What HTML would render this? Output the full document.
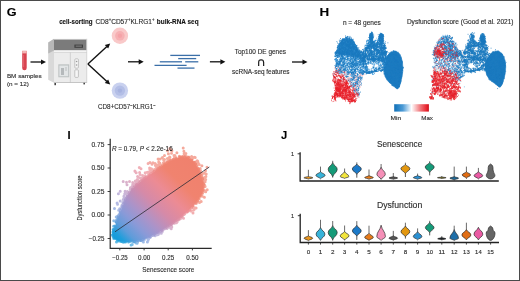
<!DOCTYPE html>
<html><head><meta charset="utf-8"><title>Figure panels G-J</title>
<style>
html,body{margin:0;padding:0;background:#fff;}
body{width:520px;height:281px;overflow:hidden;position:relative;font-family:"Liberation Sans", sans-serif;}
svg{position:absolute;left:0;top:0;display:block;font-family:"Liberation Sans", sans-serif;}
text{stroke:#2a2a2a;stroke-width:0.12px;paint-order:stroke fill;}
#frame{position:absolute;left:0;top:0;width:518px;height:279px;border:1px solid #4a4a4a;pointer-events:none;}
</style></head><body>
<svg width="520" height="281" viewBox="0 0 520 281">
<text x="6.7" y="16.3" font-size="11.2" font-weight="bold" fill="#000" text-anchor="start" textLength="9.8" lengthAdjust="spacingAndGlyphs">G</text><text x="59.2" y="23.6" font-size="6.9" font-weight="bold" fill="#111" text-anchor="start" textLength="33.3" lengthAdjust="spacingAndGlyphs">cell-sorting</text><text x="95.5" y="23.6" font-size="6.9" fill="#2a2a2a" textLength="59" lengthAdjust="spacingAndGlyphs">CD8<tspan font-size="4.5" dy="-2.6">+</tspan><tspan dy="2.6">CD57</tspan><tspan font-size="4.5" dy="-2.6">+</tspan><tspan dy="2.6">KLRG1</tspan><tspan font-size="4.5" dy="-2.6">+</tspan></text><text x="156.8" y="23.6" font-size="6.9" font-weight="bold" fill="#111" text-anchor="start" textLength="41.8" lengthAdjust="spacingAndGlyphs">bulk-RNA seq</text><path d="M22.2,51 h4.5 v17.1 a2.25,2.25 0 0 1 -4.5,0 Z" fill="#d8434f"/><rect x="22.2" y="50.6" width="4.5" height="2.8" fill="#f3b4b4"/><rect x="23.1" y="55" width="1" height="12" fill="#e8707a" opacity="0.7"/><path d="M30.5,62.0L41.5,62.0" stroke="#111" stroke-width="1.3" fill="none"/><path d="M46.0,62.0L41.0,64.6L41.0,59.4Z" fill="#111"/><text x="6.9" y="77.5" font-size="6.25" font-weight="normal" fill="#2a2a2a" text-anchor="start" textLength="34.8" lengthAdjust="spacingAndGlyphs">BM samples</text><text x="6.9" y="85.5" font-size="6.25" font-weight="normal" fill="#2a2a2a" text-anchor="start" textLength="21.9" lengthAdjust="spacingAndGlyphs">(n = 12)</text><g><path d="M48.2,42.6 L54,38.8 L54,82.8 L48.2,79.8 Z" fill="#d9d9d9"/><rect x="54" y="38.8" width="33" height="44" fill="#ececec"/><rect x="54" y="39.6" width="32.6" height="10.8" fill="#7b7b7b"/><path d="M48.2,42.6 L54,38.8 L54,50.4 L48.2,53.6 Z" fill="#9a9a9a" opacity="0.55"/><rect x="74.4" y="44.6" width="8.6" height="3.2" fill="#3f3f3f"/><rect x="75.6" y="45.6" width="6.2" height="1" fill="#8a8a8a"/><rect x="54" y="50.4" width="33" height="1.2" fill="#f8f8f8"/><rect x="54" y="52.2" width="33" height="0.5" fill="#c8c8c8"/><rect x="69.9" y="52.5" width="0.6" height="30" fill="#bdbdbd"/><rect x="58.3" y="64.3" width="10.9" height="13" fill="#bfc3c4"/><rect x="59.4" y="65.6" width="8.7" height="10.6" fill="#e2e5e6"/><rect x="61" y="68" width="3" height="7" fill="#b5b9bb"/><rect x="65" y="67" width="2" height="4" fill="#cfd2d3"/><rect x="74.8" y="58.8" width="3.6" height="9.4" rx="1" fill="#f6f6f6" stroke="#a5a5a5" stroke-width="0.6"/><rect x="74.8" y="69.8" width="3.6" height="7.6" rx="0.8" fill="#f6f6f6" stroke="#a5a5a5" stroke-width="0.6"/><circle cx="76.6" cy="61.5" r="0.8" fill="#999"/><circle cx="76.6" cy="65" r="0.8" fill="#999"/><rect x="54" y="82.2" width="33" height="0.8" fill="#bbb"/><rect x="54.4" y="83" width="1.6" height="2.2" fill="#444"/><rect x="83.4" y="82.8" width="1.6" height="1.6" fill="#444"/><rect x="86.4" y="38.8" width="0.8" height="44" fill="#cfcfcf"/></g><path d="M87.9,63.9L106.9,46.4" stroke="#111" stroke-width="1.4" fill="none"/><path d="M110.2,43.4L108.2,48.6L104.8,44.9Z" fill="#111"/><path d="M87.9,63.9L106.9,81.5" stroke="#111" stroke-width="1.4" fill="none"/><path d="M110.2,84.6L104.8,83.0L108.2,79.4Z" fill="#111"/><circle cx="119.9" cy="35.8" r="8.2" fill="#f9c9c9"/><circle cx="119.9" cy="35.8" r="4.8" fill="#f6b0b3"/><circle cx="119.9" cy="35.8" r="2.2" fill="#f5a2a7"/><circle cx="119.9" cy="90.6" r="8.2" fill="#c9d1ef"/><circle cx="119.9" cy="90.6" r="5.2" fill="#b3bee6"/><circle cx="119.9" cy="90.6" r="2.2" fill="#a6b2df"/><text x="98" y="109.3" font-size="6.8" fill="#2a2a2a" textLength="57.6" lengthAdjust="spacingAndGlyphs">CD8+CD57<tspan font-size="4.5" dy="-2.6">−</tspan><tspan dy="2.6">KLRG1</tspan><tspan font-size="4.5" dy="-2.6">−</tspan></text><path d="M128.0,61.8L139.2,61.8" stroke="#111" stroke-width="1.3" fill="none"/><path d="M143.7,61.8L138.7,64.4L138.7,59.2Z" fill="#111"/><path d="M170.3,55.4H200" stroke="#3b6fa8" stroke-width="1.3"/><path d="M178.2,58.6H196.2" stroke="#3b6fa8" stroke-width="1.3"/><path d="M159.8,61.8H182" stroke="#3b6fa8" stroke-width="1.3"/><path d="M185.2,61.8H198.3" stroke="#3b6fa8" stroke-width="1.3"/><path d="M154.5,65.4H186.6" stroke="#3b6fa8" stroke-width="1.3"/><path d="M177.5,68.1H194.5" stroke="#3b6fa8" stroke-width="1.3"/><path d="M209.9,61.8L220.9,61.8" stroke="#111" stroke-width="1.3" fill="none"/><path d="M225.4,61.8L220.4,64.4L220.4,59.2Z" fill="#111"/><text x="234.7" y="54.1" font-size="6.6" font-weight="normal" fill="#2a2a2a" text-anchor="start" textLength="51.3" lengthAdjust="spacingAndGlyphs">Top100 DE genes</text><text x="256.7" y="66.2" font-size="11.5" font-weight="normal" fill="#111" text-anchor="start" textLength="9.0" lengthAdjust="spacingAndGlyphs" font-family="DejaVu Sans, sans-serif">∩</text><text x="232.1" y="74.2" font-size="6.6" font-weight="normal" fill="#2a2a2a" text-anchor="start" textLength="57.4" lengthAdjust="spacingAndGlyphs">scRNA-seq features</text><path d="M292.0,62.0L303.0,62.0" stroke="#111" stroke-width="1.3" fill="none"/><path d="M307.5,62.0L302.5,64.6L302.5,59.4Z" fill="#111"/><text x="319.6" y="16.4" font-size="11.2" font-weight="bold" fill="#000" text-anchor="start" textLength="9.7" lengthAdjust="spacingAndGlyphs">H</text><text x="342.9" y="24.7" font-size="6.4" font-weight="normal" fill="#2a2a2a" text-anchor="start" textLength="37.9" lengthAdjust="spacingAndGlyphs">n = 48 genes</text><text x="406.9" y="23.9" font-size="6.4" font-weight="normal" fill="#2a2a2a" text-anchor="start" textLength="106.6" lengthAdjust="spacingAndGlyphs">Dysfunction score (Good et al. 2021)</text><g fill="none" stroke-width="0.85" stroke-linecap="round"><path d="M393.0,51.2L396.0,51.0L399.4,53.6L401.0,57.0L402.4,61.4L402.9,67.8L402.5,74.2L401.2,80.6L399.6,86.2L397.8,89.0L396.2,88.6L393.8,86.2L390.6,83.8L387.4,80.6L385.0,76.6L383.9,71.0L383.4,67.8L383.5,64.0L385.0,60.0L387.4,56.0L390.0,52.5Z" fill="#1c7bc0" stroke="#1c7bc0" stroke-width="0.5" stroke-linejoin="round"/><path d="M338.8,47.6L340.5,43.3L342.8,40.4L346.1,38.5L349.1,38.5L352.2,40.2L354.0,43.2L355.8,47.2L358.3,50.9L359.7,54.0L356.7,56.6L351.5,55.3L346.4,54.4L341.2,54.4L337.1,53.6Z" fill="#1c7bc0" stroke="#1c7bc0" stroke-width="0.5" stroke-linejoin="round"/><path d="M373.1,36.9L373.0,38.6L372.4,40.0L371.7,40.8L370.9,40.8L370.2,40.0L369.6,38.6L369.5,36.9L369.6,35.2L370.2,33.8L370.9,33.0L371.7,33.0L372.4,33.8L373.0,35.2Z" fill="#1c7bc0" stroke="#1c7bc0" stroke-width="0.5" stroke-linejoin="round"/><path d="M383.5,38.3L383.3,40.4L382.6,42.0L381.7,42.9L380.7,42.9L379.8,42.0L379.1,40.4L378.9,38.3L379.1,36.2L379.8,34.6L380.7,33.7L381.7,33.7L382.6,34.6L383.3,36.2Z" fill="#1c7bc0" stroke="#1c7bc0" stroke-width="0.5" stroke-linejoin="round"/><path d="M335.0,80.0L340.0,79.0L346.0,86.0L350.0,94.0L352.0,100.0L346.0,99.5L340.0,96.0L336.0,92.0Z" fill="#e8212b" stroke="none" opacity="0.4"/><path d="M355.4,45.7h0M346.0,55.2h0M354.0,56.3h0M348.9,41.5h0M348.7,47.3h0M341.0,48.2h0M350.7,50.3h0M341.7,51.2h0M349.9,39.7h0M359.7,51.3h0M350.2,46.1h0M344.6,48.9h0M354.3,45.4h0M349.3,42.2h0M354.1,54.8h0M343.5,47.1h0M347.3,49.4h0M339.4,54.0h0M356.3,48.2h0M342.8,40.9h0M350.4,43.2h0M339.8,47.0h0M342.7,52.0h0M340.2,50.7h0M352.0,54.8h0M344.8,46.1h0M336.9,51.9h0M354.7,51.8h0M339.3,55.7h0M340.7,47.1h0M355.3,46.2h0M351.0,41.7h0M338.4,54.0h0M351.7,48.3h0M343.9,42.0h0M346.9,43.8h0M340.4,48.8h0M338.5,45.9h0M337.5,52.2h0M345.0,53.1h0M352.7,43.3h0M350.5,49.7h0M350.9,52.9h0M356.5,57.2h0M337.3,47.7h0M342.3,53.2h0M343.8,51.3h0M344.2,49.3h0M336.6,52.1h0M343.6,41.5h0M349.1,52.9h0M344.8,53.3h0M337.2,50.7h0M359.2,53.6h0M348.9,38.9h0M356.8,54.8h0M352.6,42.3h0M354.8,47.7h0M347.9,53.9h0M359.1,51.0h0M357.9,52.0h0M356.4,47.2h0M339.5,54.4h0M343.8,46.1h0M352.7,49.4h0M354.4,52.6h0M357.6,49.3h0M340.4,54.0h0M350.1,40.6h0M347.9,48.6h0M347.0,41.7h0M346.5,47.3h0M352.9,50.7h0M338.5,47.9h0M352.5,49.1h0M359.2,51.2h0M347.5,47.7h0M345.5,39.3h0M345.3,52.0h0M345.6,52.0h0M353.5,53.6h0M348.5,50.1h0M347.7,36.4h0M354.6,49.8h0M338.1,51.6h0M347.9,43.5h0M338.5,49.5h0M351.4,46.2h0M342.7,46.3h0M338.2,55.6h0M349.5,43.2h0M353.7,51.9h0M338.7,45.2h0M351.3,39.5h0M343.6,46.1h0M340.3,41.9h0M339.7,44.2h0M352.6,40.1h0M345.5,50.2h0M337.2,49.3h0M357.2,55.0h0M357.6,59.0h0M340.4,53.0h0M341.5,45.6h0M339.3,54.5h0M350.6,45.4h0M345.3,46.1h0M356.4,47.1h0M352.0,49.1h0M346.8,50.5h0M345.9,55.5h0M357.3,55.4h0M360.0,51.6h0M341.0,51.2h0M353.0,43.8h0M341.1,45.1h0M342.2,48.8h0M354.2,44.1h0M351.9,44.4h0M357.3,52.4h0M346.1,49.8h0M350.7,49.3h0M356.8,56.1h0M341.1,49.6h0M360.8,52.5h0M336.5,51.9h0M356.4,45.7h0M343.9,56.2h0M355.5,46.7h0M352.0,45.7h0M340.7,52.6h0M348.4,40.2h0M355.6,56.0h0M338.4,50.9h0M341.1,42.4h0M349.0,38.0h0M344.8,40.4h0M356.4,51.1h0M348.9,48.1h0M348.2,36.5h0M345.1,43.6h0M355.2,51.3h0M344.3,53.7h0M347.7,43.7h0M349.2,49.4h0M339.2,45.9h0M350.7,54.1h0M351.2,41.2h0M342.4,49.7h0M356.7,55.9h0M346.1,48.5h0M344.5,41.9h0M353.0,41.3h0M345.7,48.1h0M343.1,50.3h0M350.4,46.4h0M348.2,44.4h0M340.4,52.5h0M341.4,54.0h0M344.7,41.0h0M341.5,54.2h0M358.2,53.1h0M348.9,47.6h0M352.2,44.0h0M341.5,46.9h0M343.2,46.4h0M346.8,48.9h0M340.3,47.8h0M353.2,40.9h0M348.8,45.2h0M336.7,53.7h0M355.2,48.6h0M352.3,52.5h0M340.6,44.8h0M345.5,46.6h0M358.7,53.6h0M350.1,54.4h0M351.7,50.9h0M342.9,39.4h0M348.9,37.8h0M345.3,52.6h0M347.6,46.8h0M346.4,37.5h0M354.7,50.0h0M346.1,55.1h0M346.0,42.7h0M356.4,54.7h0M345.7,45.9h0M340.8,41.9h0M344.1,43.8h0M358.6,55.6h0M343.7,53.9h0M345.4,38.3h0M350.8,47.0h0M342.0,43.0h0M350.8,53.7h0M346.5,48.6h0M358.9,52.3h0M354.5,50.7h0M340.9,40.7h0M345.8,43.9h0M348.7,39.8h0M336.8,51.7h0M340.0,44.3h0M345.2,44.3h0M347.3,55.0h0M344.3,44.9h0M356.8,47.5h0M341.8,44.4h0M350.4,43.2h0M358.5,50.9h0M360.2,54.4h0M345.4,51.5h0M340.5,52.3h0M351.5,45.9h0M351.3,53.5h0M350.7,40.9h0M336.7,52.9h0M345.3,40.5h0M341.9,49.6h0M340.5,43.7h0M346.7,42.7h0M351.4,43.6h0M344.7,46.0h0M354.2,43.4h0M340.3,50.4h0M351.3,41.9h0M348.6,53.7h0M351.0,43.4h0M342.8,40.0h0M343.8,44.6h0M345.9,54.0h0M346.0,39.1h0M342.5,53.2h0M352.8,50.1h0M356.2,53.4h0M350.5,50.3h0M358.3,49.3h0M353.0,54.5h0M356.5,56.7h0M342.4,51.2h0M384.4,49.1h0M383.1,55.9h0M375.3,44.0h0M375.5,44.3h0M376.0,44.5h0M371.4,49.4h0M371.2,50.9h0M365.4,55.1h0M365.1,55.5h0M378.6,55.2h0M378.2,55.4h0M373.7,47.6h0M383.2,45.4h0M382.9,44.8h0M369.2,46.5h0M382.9,53.9h0M377.7,46.8h0M361.1,54.6h0M371.1,54.5h0M372.3,52.9h0M370.9,55.6h0M384.0,51.5h0M369.9,46.7h0M368.9,47.2h0M366.4,48.4h0M366.8,49.0h0M385.0,49.2h0M378.1,49.7h0M382.0,51.1h0M378.8,44.1h0M360.0,54.0h0M371.0,42.5h0M371.8,43.5h0M371.7,42.2h0M374.4,42.6h0M369.1,43.9h0M368.3,42.9h0M369.6,46.7h0M374.5,43.6h0M373.4,41.5h0M384.4,46.7h0M384.9,48.1h0M382.3,52.5h0M382.5,51.6h0M378.4,59.9h0M361.2,51.3h0M372.9,57.1h0M385.7,53.9h0M385.0,53.3h0M385.5,54.9h0M374.5,55.1h0M384.6,54.7h0M373.8,57.0h0M386.5,52.7h0M378.1,52.5h0M378.4,52.6h0M379.0,52.3h0M368.9,49.7h0M371.4,52.8h0M372.0,42.8h0M371.4,44.5h0M368.7,45.7h0M374.6,55.3h0M373.7,51.3h0M368.1,47.0h0M384.0,48.2h0M374.2,57.1h0M372.8,45.0h0M383.1,49.0h0M380.8,55.3h0M366.7,57.0h0M365.7,57.0h0M371.4,60.5h0M379.3,54.1h0M369.1,52.3h0M381.3,46.6h0M368.8,46.9h0M378.6,43.6h0M378.6,44.9h0M367.4,56.8h0M373.9,55.5h0M378.1,56.4h0M382.2,50.3h0M369.6,59.0h0M369.5,58.9h0M374.2,48.4h0M374.5,44.8h0M376.0,51.5h0M366.7,45.8h0M366.8,45.8h0M362.5,57.8h0M362.9,57.6h0M381.4,59.3h0M373.5,56.1h0M367.9,58.6h0M367.0,48.7h0M385.3,56.3h0M385.1,55.3h0M385.8,55.6h0M369.7,50.5h0M368.9,50.0h0M365.0,57.3h0M376.1,56.5h0M379.5,47.0h0M380.2,46.9h0M379.3,58.7h0M380.0,58.4h0M377.0,54.4h0M364.4,59.9h0M383.0,53.7h0M383.3,53.7h0M372.4,46.5h0M383.5,52.4h0M384.2,54.2h0M377.3,44.5h0M378.8,52.8h0M361.4,54.0h0M376.3,49.4h0M382.8,49.4h0M361.9,59.4h0M365.5,55.1h0M377.1,55.0h0M369.1,55.6h0M365.3,50.6h0M383.6,54.1h0M361.8,59.7h0M373.1,60.4h0M373.1,60.2h0M371.6,50.4h0M377.4,46.2h0M377.5,50.6h0M371.7,56.7h0M371.6,57.4h0M375.0,47.7h0M381.2,49.2h0M381.6,44.7h0M361.0,57.0h0M373.6,61.0h0M374.7,53.7h0M375.3,53.3h0M369.2,50.9h0M376.9,43.2h0M385.6,53.1h0M384.1,52.6h0M370.9,50.0h0M381.6,56.0h0M365.5,47.8h0M385.6,55.7h0M364.9,58.7h0M372.7,42.7h0M383.9,61.2h0M382.0,50.7h0M371.0,47.0h0M381.5,52.8h0M385.4,48.3h0M379.1,51.4h0M379.2,51.3h0M375.6,56.5h0M375.5,56.0h0M384.5,50.7h0M368.8,58.3h0M369.6,58.5h0M376.0,52.2h0M372.1,57.0h0M372.1,58.7h0M373.4,57.9h0M375.8,46.9h0M376.9,47.2h0M367.6,48.6h0M373.7,52.8h0M376.2,46.5h0M369.7,54.4h0M384.2,51.1h0M375.4,50.1h0M377.7,59.8h0M376.5,51.1h0M382.8,52.6h0M363.2,56.4h0M382.3,59.2h0M382.8,57.1h0M370.4,51.1h0M382.2,45.2h0M382.1,44.6h0M383.7,50.5h0M384.4,53.8h0M364.6,58.2h0M374.7,43.9h0M368.3,56.2h0M374.5,48.5h0M378.3,50.5h0M384.6,59.6h0M382.7,57.7h0M361.4,54.6h0M377.4,52.5h0M374.4,53.3h0M374.6,54.5h0M379.6,46.3h0M371.4,55.9h0M371.1,56.1h0M363.5,54.2h0M362.3,54.5h0M373.9,45.6h0M378.7,58.1h0M380.9,55.9h0M371.8,50.7h0M376.4,53.2h0M372.5,53.8h0M380.4,49.3h0M376.6,50.6h0M370.8,54.1h0M371.2,53.7h0M378.0,51.2h0M377.8,51.2h0M379.9,57.5h0M368.6,42.8h0M385.8,60.8h0M383.4,59.3h0M371.6,51.0h0M372.5,51.6h0M371.5,51.2h0M374.2,49.8h0M375.6,59.2h0M381.8,52.8h0M379.5,43.1h0M381.7,58.7h0M374.3,60.6h0M372.2,47.7h0M372.8,54.7h0M372.7,54.4h0M379.6,59.1h0M364.5,53.1h0M365.1,52.2h0M381.5,44.1h0M381.9,54.5h0M384.3,49.2h0M382.6,60.7h0M362.1,52.6h0M374.2,58.6h0M377.5,50.3h0M363.3,54.4h0M364.3,54.8h0M381.8,41.9h0M363.9,56.6h0M385.9,51.4h0M365.2,54.5h0M364.3,58.1h0M362.8,53.9h0M363.0,53.4h0M381.7,56.3h0M383.3,52.5h0M380.3,44.3h0M381.3,45.3h0M380.1,59.2h0M366.7,43.7h0M382.8,43.6h0M374.8,44.0h0M380.7,54.6h0M385.9,52.2h0M373.9,57.6h0M376.4,57.4h0M366.2,49.2h0M365.6,48.9h0M382.3,47.9h0M382.8,47.8h0M380.3,60.0h0M380.7,59.8h0M360.6,55.7h0M360.3,56.0h0M369.6,53.7h0M385.7,47.8h0M372.5,57.3h0M384.7,46.6h0M377.4,56.0h0M372.0,52.9h0M382.9,50.5h0M383.2,50.5h0M361.4,51.2h0M363.5,53.8h0M371.8,55.6h0M374.4,44.8h0M377.0,56.4h0M375.9,49.2h0M375.2,49.8h0M374.8,42.5h0M376.9,45.8h0M376.5,46.6h0M368.5,43.4h0M362.5,58.6h0M374.8,44.4h0M377.3,53.3h0M373.8,60.1h0M374.5,60.1h0M381.7,48.0h0M365.6,47.8h0M373.0,54.4h0M373.3,47.1h0M372.3,46.3h0M380.5,47.5h0M371.8,42.0h0M371.3,57.7h0M371.7,59.4h0M383.8,45.6h0M377.5,53.6h0M383.1,54.3h0M383.2,52.4h0M372.0,56.7h0M381.7,53.1h0M381.5,53.0h0M385.7,53.6h0M385.4,52.4h0M381.2,60.0h0M372.8,43.6h0M372.5,48.3h0M367.4,50.4h0M364.2,50.7h0M386.8,52.4h0M364.4,57.3h0M362.6,57.6h0M373.2,42.1h0M374.2,42.3h0M378.5,60.3h0M362.6,52.1h0M362.4,54.1h0M374.0,47.7h0M366.0,50.1h0M365.9,52.9h0M362.7,54.8h0M362.2,55.3h0M370.4,40.8h0M380.4,48.2h0M372.0,54.0h0M363.4,52.8h0M364.6,55.9h0M374.4,52.3h0M364.0,60.2h0M383.5,43.5h0M380.4,43.8h0M380.3,44.6h0M375.0,59.5h0M375.2,58.7h0M383.4,59.7h0M365.3,53.6h0M365.3,55.5h0M369.6,47.9h0M368.6,48.4h0M340.4,65.5h0M341.0,65.5h0M340.8,62.1h0M361.9,70.3h0M361.4,70.8h0M361.7,69.7h0M356.0,56.4h0M355.7,57.6h0M343.8,67.3h0M344.9,66.7h0M341.1,61.2h0M339.1,61.3h0M346.3,67.6h0M346.2,67.4h0M365.6,69.2h0M365.0,69.4h0M366.4,69.5h0M340.0,59.7h0M339.1,58.9h0M340.2,58.9h0M341.6,59.3h0M341.2,58.5h0M346.1,70.5h0M346.2,69.9h0M335.0,60.0h0M334.4,59.5h0M366.1,70.4h0M340.3,71.9h0M340.8,71.0h0M357.4,62.0h0M348.8,51.9h0M348.2,52.0h0M341.2,54.9h0M341.3,55.8h0M351.2,65.6h0M363.2,66.2h0M350.3,61.1h0M350.3,61.1h0M350.3,59.5h0M345.1,58.9h0M344.2,58.9h0M339.7,53.8h0M356.7,56.7h0M355.9,57.3h0M347.2,65.5h0M363.7,63.0h0M363.7,63.7h0M343.1,57.2h0M338.3,65.8h0M354.9,69.7h0M349.3,59.4h0M355.4,71.7h0M365.5,66.9h0M342.6,54.4h0M342.6,53.9h0M343.2,52.8h0M358.4,71.8h0M357.8,71.6h0M358.1,71.7h0M335.7,54.5h0M334.8,53.2h0M359.7,70.8h0M359.4,70.2h0M365.9,68.1h0M366.9,68.5h0M366.0,68.9h0M355.1,71.0h0M343.1,58.3h0M336.6,65.2h0M353.4,54.4h0M352.7,54.6h0M353.3,54.0h0M352.6,61.6h0M352.6,60.5h0M352.8,60.8h0M347.3,69.7h0M346.8,68.9h0M351.4,63.4h0M365.4,66.5h0M366.1,67.1h0M338.0,60.3h0M355.0,71.9h0M364.0,58.3h0M364.0,60.0h0M363.8,62.3h0M357.8,55.6h0M357.3,56.5h0M351.8,58.7h0M347.5,64.5h0M346.8,63.6h0M350.5,64.2h0M350.5,65.3h0M348.1,59.4h0M348.2,59.5h0M351.2,66.6h0M352.0,67.7h0M360.8,68.0h0M360.2,67.9h0M354.9,60.7h0M355.0,60.1h0M353.8,61.0h0M334.7,65.6h0M361.2,61.5h0M361.6,61.2h0M360.6,62.2h0M360.0,62.2h0M339.9,62.4h0M339.9,61.7h0M337.1,64.3h0M337.0,64.4h0M340.2,70.8h0M339.9,71.2h0M335.7,61.0h0M337.6,71.2h0M364.9,66.9h0M365.1,67.8h0M364.3,67.0h0M367.2,63.3h0M365.8,62.5h0M361.2,58.6h0M361.8,59.3h0M365.6,71.0h0M365.1,70.9h0M355.7,64.6h0M354.7,64.1h0M351.4,70.1h0M352.1,71.0h0M360.3,58.0h0M360.5,57.6h0M347.9,69.3h0M351.8,64.8h0M354.8,65.2h0M360.4,63.3h0M360.7,62.7h0M353.3,71.4h0M353.2,69.3h0M336.1,59.0h0M335.6,58.9h0M338.5,50.5h0M337.9,50.0h0M361.7,69.9h0M362.0,69.9h0M363.5,60.3h0M364.5,58.8h0M360.9,66.3h0M362.0,65.7h0M363.5,57.5h0M339.2,62.9h0M366.5,65.1h0M360.5,69.7h0M360.1,69.0h0M360.1,70.1h0M354.0,69.4h0M354.2,70.6h0M352.5,68.7h0M343.7,64.5h0M355.6,59.4h0M356.7,64.7h0M362.7,62.6h0M363.8,63.2h0M341.0,61.7h0M340.6,61.3h0M344.1,71.4h0M344.3,70.3h0M343.5,59.9h0M353.3,61.5h0M353.5,62.0h0M349.8,65.8h0M363.1,65.9h0M359.9,63.9h0M362.1,65.0h0M360.7,64.4h0M337.4,59.6h0M337.6,61.1h0M350.7,62.7h0M352.9,55.4h0M352.2,55.9h0M360.6,57.0h0M355.6,71.8h0M355.6,71.8h0M343.3,53.1h0M343.2,52.3h0M359.0,71.1h0M356.3,58.7h0M355.7,58.2h0M356.3,59.2h0M345.7,57.2h0M344.3,58.4h0M344.2,58.8h0M338.3,63.3h0M338.2,63.5h0M345.4,57.9h0M346.2,56.6h0M339.0,64.9h0M338.5,55.9h0M339.2,56.3h0M338.4,56.2h0M363.7,60.7h0M364.5,60.9h0M343.3,70.1h0M344.7,68.4h0M335.4,66.3h0M335.5,67.1h0M345.0,52.4h0M336.0,61.7h0M337.1,61.6h0M363.9,59.8h0M352.6,58.9h0M353.4,58.6h0M352.9,58.7h0M365.2,64.9h0M365.3,63.8h0M365.0,64.7h0M361.4,62.8h0M361.5,63.1h0M361.7,63.3h0M356.9,65.5h0M356.5,66.0h0M356.5,61.3h0M356.3,61.7h0M353.8,61.6h0M351.1,72.9h0M353.5,57.9h0M353.6,57.2h0M359.5,58.8h0M359.4,57.9h0M348.0,57.6h0M347.5,56.3h0M347.9,56.9h0M361.5,62.1h0M361.8,61.3h0M348.3,56.3h0M348.3,56.3h0M341.4,57.9h0M345.1,68.1h0M342.8,56.2h0M353.0,52.8h0M360.5,60.1h0M360.7,60.2h0M362.2,59.9h0M360.4,58.2h0M362.7,69.3h0M362.3,71.2h0M360.8,70.5h0M345.0,62.4h0M353.4,69.3h0M356.6,64.0h0M357.0,63.6h0M356.6,61.8h0M356.5,62.7h0M341.7,58.2h0M342.0,58.5h0M338.2,64.8h0M341.8,56.2h0M342.2,56.7h0M341.6,57.2h0M350.3,57.6h0M350.6,57.8h0M350.7,57.4h0M349.4,60.7h0M349.0,60.5h0M360.6,67.4h0M357.3,59.0h0M335.6,69.0h0M336.5,68.4h0M342.0,69.6h0M354.8,55.5h0M354.4,54.6h0M352.7,73.0h0M335.6,68.0h0M342.0,67.9h0M341.6,67.7h0M341.8,68.3h0M359.4,60.5h0M360.1,61.4h0M354.7,54.1h0M354.4,53.7h0M360.8,72.8h0M347.1,63.9h0M347.9,63.9h0M340.3,53.3h0M337.7,64.1h0M337.5,64.6h0M338.6,64.4h0M351.1,66.4h0M353.5,60.7h0M353.0,60.1h0M361.6,70.2h0M361.4,70.1h0M343.3,51.6h0M344.3,52.1h0M349.0,72.6h0M349.1,71.9h0M357.4,65.2h0M358.0,63.7h0M358.1,64.0h0M364.9,61.7h0M339.9,56.5h0M339.2,56.3h0M358.8,55.4h0M359.3,54.9h0M353.1,68.1h0M358.1,62.1h0M358.7,61.4h0M358.8,57.6h0M358.2,56.9h0M354.4,64.8h0M354.5,64.6h0M352.7,65.2h0M336.7,63.7h0M339.5,55.3h0M354.9,59.8h0M352.6,53.6h0M351.8,55.3h0M363.4,62.2h0M352.4,59.6h0M352.0,61.0h0M353.0,60.1h0M357.2,64.1h0M357.9,63.6h0M346.3,71.0h0M354.5,63.8h0M353.9,63.3h0M354.9,64.7h0M343.5,62.4h0M360.9,72.4h0M360.7,71.9h0M354.5,65.0h0M355.5,64.8h0M344.8,61.2h0M344.3,61.3h0M350.4,71.8h0M350.2,71.5h0M339.7,62.5h0M339.6,63.4h0M350.3,59.7h0M349.2,56.7h0M348.9,56.9h0M349.3,56.6h0M341.0,66.4h0M341.4,65.6h0M356.0,67.2h0M355.6,66.1h0M360.3,69.7h0M361.3,70.4h0M357.0,67.9h0M359.9,57.4h0M359.8,57.7h0M351.6,70.7h0M361.7,72.9h0M344.3,53.2h0M342.2,65.3h0M343.6,65.7h0M356.2,62.6h0M355.6,62.6h0M339.2,64.2h0M339.0,62.8h0M347.4,53.8h0M349.1,53.5h0M355.2,71.6h0M355.4,70.5h0M344.8,58.1h0M343.1,58.1h0M344.8,58.2h0M343.8,63.9h0M351.4,61.4h0M349.8,62.4h0M354.1,56.0h0M353.0,55.4h0M353.3,54.6h0M363.7,63.9h0M363.2,64.4h0M337.8,63.5h0M366.5,68.9h0M365.9,67.3h0M366.2,68.3h0M346.6,59.4h0M364.1,61.8h0M363.5,61.8h0M343.1,52.7h0M353.9,64.3h0M352.8,64.0h0M341.2,71.9h0M351.5,72.8h0M351.8,72.9h0M351.7,72.7h0M349.1,51.2h0M335.2,54.5h0M336.5,54.2h0M352.1,58.5h0M352.2,59.2h0M351.7,58.5h0M345.2,56.6h0M346.5,57.0h0M345.5,57.4h0M343.7,72.3h0M345.1,64.1h0M345.5,63.5h0M356.1,65.2h0M347.1,53.0h0M352.9,56.2h0M352.0,54.6h0M337.8,65.6h0M338.2,64.2h0M337.6,64.0h0M344.7,59.4h0M344.0,60.3h0M345.3,60.0h0M346.7,65.2h0M364.1,66.9h0M364.7,66.9h0M364.0,68.2h0M347.3,72.4h0M361.0,72.3h0M359.9,72.8h0M344.7,59.4h0M344.8,60.0h0M362.3,69.9h0M362.4,70.7h0M340.7,68.2h0M339.5,56.2h0M339.7,57.2h0M337.0,64.7h0M336.6,66.4h0M358.2,64.2h0M358.9,63.0h0M353.8,72.7h0M350.0,66.7h0M349.5,67.3h0M356.0,69.2h0M356.9,68.6h0M337.8,65.7h0M337.1,59.7h0M335.4,61.2h0M335.5,59.5h0M350.4,69.8h0M337.7,53.8h0M338.2,53.4h0M357.9,65.7h0M359.4,65.1h0M359.8,65.4h0M346.8,70.7h0M346.5,70.4h0M361.0,72.6h0M360.7,72.6h0M352.8,61.6h0M362.7,68.0h0M360.9,67.9h0M341.4,71.8h0M341.7,71.6h0M365.1,70.8h0M365.0,71.3h0M346.0,53.9h0M345.1,53.5h0M345.7,53.3h0M336.7,56.2h0M337.1,57.6h0M345.9,62.5h0M344.9,63.3h0M343.4,66.2h0M350.0,69.9h0M350.6,69.8h0M350.4,70.0h0M364.0,67.0h0M362.0,66.3h0M363.4,60.4h0M339.4,54.2h0M339.4,53.9h0M341.4,64.6h0M340.8,65.7h0M341.7,65.4h0M345.6,52.8h0M346.5,52.8h0M345.6,51.8h0M359.3,72.7h0M359.4,71.2h0M356.2,65.9h0M355.8,66.2h0M341.4,68.0h0M336.2,59.0h0M336.2,58.8h0M360.9,59.8h0M343.2,56.7h0M343.4,56.0h0M337.3,60.2h0M336.6,60.4h0M336.0,59.6h0M347.5,64.2h0M350.6,53.4h0M348.7,53.1h0M348.2,52.9h0M343.9,57.7h0M351.6,56.7h0M352.1,56.2h0M360.9,71.4h0M362.2,71.3h0M362.1,71.8h0M358.0,56.2h0M359.6,56.7h0M335.7,59.8h0M337.0,60.8h0M336.4,60.3h0M360.1,61.1h0M359.4,61.0h0M335.7,56.8h0M334.8,56.0h0M335.0,56.4h0M355.5,72.8h0M355.7,72.6h0M356.8,58.9h0M363.6,64.0h0M363.4,64.9h0M354.4,58.1h0M355.1,58.7h0M354.6,59.0h0M347.1,54.1h0M350.8,71.6h0M357.2,55.1h0M356.9,55.5h0M358.0,59.6h0M358.9,59.1h0M347.6,56.3h0M348.4,56.6h0M363.9,64.6h0M361.4,55.8h0M361.8,55.4h0M352.7,72.7h0M343.6,61.6h0M354.9,65.6h0M356.4,63.1h0M357.8,64.2h0M358.3,63.2h0M335.3,52.1h0M334.9,52.7h0M350.6,54.4h0M350.7,54.8h0M350.9,55.0h0M347.7,68.1h0M348.4,67.2h0M359.7,62.6h0M360.0,62.4h0M340.7,72.8h0M350.0,69.7h0M350.2,69.2h0M362.5,60.9h0M361.6,60.0h0M352.3,69.8h0M361.8,58.6h0M361.2,60.0h0M361.2,59.6h0M356.4,61.6h0M357.5,62.1h0M353.5,64.8h0M339.7,72.0h0M342.4,71.0h0M343.4,65.2h0M340.2,57.7h0M340.7,58.2h0M340.5,59.1h0M355.9,54.5h0M354.3,55.1h0M354.8,54.3h0M360.4,64.6h0M351.2,70.2h0M351.7,69.2h0M337.7,59.9h0M337.2,59.5h0M360.3,58.5h0M359.6,57.6h0M360.1,64.1h0M358.5,64.4h0M347.5,53.5h0M346.8,52.6h0M355.0,69.4h0M354.3,70.8h0M367.3,64.2h0M353.1,66.7h0M341.2,60.1h0M351.4,65.7h0M361.7,65.2h0M361.3,64.4h0M362.4,63.7h0M356.8,58.9h0M354.9,60.0h0M341.5,56.8h0M342.5,56.5h0M342.9,57.6h0M365.3,68.2h0M364.9,68.8h0M365.8,69.2h0M337.4,55.7h0M349.6,64.8h0M341.8,59.7h0M361.3,71.2h0M361.3,71.9h0M343.9,58.7h0M335.5,66.5h0M336.8,66.1h0M341.8,65.0h0M342.3,65.9h0M345.4,51.3h0M344.8,52.0h0M360.5,55.8h0M359.5,56.2h0M347.4,56.8h0M342.9,59.8h0M348.7,53.1h0M355.9,62.9h0M364.8,57.4h0M363.9,58.2h0M347.4,51.8h0M358.0,69.8h0M358.4,69.6h0M349.7,63.7h0M345.8,65.7h0M343.6,61.8h0M343.5,51.8h0M343.3,51.0h0M357.3,68.7h0M357.4,68.0h0M339.1,62.2h0M339.0,61.6h0M363.4,58.7h0M363.2,59.0h0M363.3,67.6h0M341.9,55.0h0M361.2,61.4h0M360.8,61.6h0M362.6,63.9h0M363.3,65.0h0M354.3,60.0h0M348.1,64.9h0M355.2,62.5h0M354.9,62.8h0M344.4,65.3h0M345.1,65.5h0M344.7,64.5h0M361.4,66.5h0M362.3,66.7h0M361.2,65.5h0M364.3,63.0h0M351.5,64.3h0M351.0,64.4h0M351.3,63.7h0M354.6,62.6h0M339.7,68.6h0M337.0,71.4h0M339.9,64.6h0M340.9,62.0h0M350.7,66.8h0M351.9,67.1h0M351.0,66.0h0M349.2,72.6h0M350.1,72.4h0M354.4,71.4h0M353.9,71.0h0M365.7,61.0h0M367.1,61.8h0M342.7,64.0h0M342.6,62.7h0M359.4,68.4h0M357.8,68.1h0M355.2,60.8h0M336.5,53.4h0M335.6,54.1h0M352.3,63.7h0M336.1,71.7h0M336.0,70.5h0M366.5,61.3h0M365.8,61.6h0M365.7,61.7h0M358.6,57.7h0M358.4,55.7h0M342.1,53.9h0M341.8,65.0h0M340.6,65.9h0M351.9,72.8h0M352.1,72.3h0M360.2,72.5h0M361.0,72.4h0M340.1,54.6h0M341.0,54.2h0M346.3,54.0h0M344.4,71.5h0M352.5,67.5h0M353.0,67.4h0M353.7,65.6h0M354.5,65.4h0M354.0,65.9h0M336.3,70.1h0M349.1,63.9h0M360.5,58.9h0M359.7,58.4h0M366.3,68.4h0M366.7,68.7h0M350.7,57.8h0M350.2,58.2h0M360.7,63.3h0M360.3,61.5h0M362.5,71.5h0M362.4,70.9h0M363.0,71.9h0M336.7,53.5h0M335.8,53.8h0M337.5,53.7h0M347.8,72.9h0M350.5,61.5h0M345.7,62.6h0M346.4,61.9h0M345.9,61.5h0M351.4,59.7h0M350.6,59.3h0M363.2,63.0h0M347.6,58.7h0M336.0,55.7h0M336.9,57.1h0M347.2,56.7h0M347.4,57.5h0M354.6,55.6h0M355.3,55.3h0M354.9,64.6h0M354.2,71.8h0M351.3,62.5h0M352.5,62.9h0M353.9,64.9h0M353.6,65.2h0M347.1,68.2h0M350.3,61.1h0M350.6,60.5h0M339.2,64.1h0M339.7,64.0h0M339.7,63.1h0M358.8,59.6h0M357.6,59.4h0M337.4,56.9h0M337.0,56.4h0M336.2,56.7h0M357.8,68.1h0M358.7,67.3h0M352.7,62.9h0M353.3,63.7h0M353.2,63.4h0M359.5,54.5h0M336.2,72.0h0M347.8,70.7h0M358.4,64.4h0M358.4,65.1h0M342.0,67.7h0M340.6,57.9h0M344.7,67.8h0M344.8,69.0h0M365.9,69.6h0M365.9,70.2h0M354.7,58.4h0M354.1,58.8h0M337.0,52.8h0M336.5,52.8h0M338.9,61.9h0M339.0,61.3h0M343.3,70.5h0M353.6,61.1h0M358.2,55.8h0M357.9,56.2h0M347.8,58.6h0M347.4,59.1h0M361.9,56.7h0M336.1,55.4h0M347.5,60.7h0M347.3,60.4h0M342.3,58.0h0M342.1,58.6h0M343.1,58.4h0M343.6,54.4h0M344.2,54.0h0M352.3,53.3h0M352.0,54.2h0M342.6,54.5h0M339.1,71.8h0M338.1,71.2h0M344.7,70.2h0M344.5,70.6h0M359.5,64.9h0M359.3,65.6h0M354.8,67.8h0M361.2,58.1h0M361.2,58.1h0M356.3,59.4h0M350.6,57.2h0M351.8,58.0h0M351.6,57.4h0M348.6,62.2h0M348.2,62.1h0M338.5,63.9h0M337.9,65.3h0M355.4,64.9h0M353.7,72.9h0M354.4,72.5h0M357.8,67.3h0M349.5,65.8h0M342.7,57.2h0M335.5,71.7h0M356.4,57.7h0M363.1,59.1h0M344.0,69.3h0M344.1,69.8h0M339.9,61.2h0M339.5,59.9h0M354.6,64.2h0M354.1,63.6h0M348.1,66.7h0M358.7,67.3h0M341.0,59.8h0M342.5,60.1h0M348.6,58.5h0M347.3,58.1h0M342.1,54.1h0M341.9,54.5h0M337.6,54.0h0M354.0,56.4h0M346.8,59.8h0M348.7,73.0h0M356.4,57.0h0M356.1,57.1h0M356.9,57.5h0M380.0,62.0h0M372.6,71.2h0M376.2,60.0h0M376.1,59.5h0M378.5,65.0h0M362.9,59.6h0M382.4,64.0h0M380.2,66.9h0M364.0,69.1h0M372.8,59.9h0M382.1,63.5h0M372.6,71.8h0M368.6,62.1h0M368.1,62.3h0M371.2,69.2h0M383.9,57.5h0M383.4,59.0h0M379.2,65.2h0M367.7,66.5h0M385.3,63.1h0M375.1,59.1h0M364.7,63.6h0M367.8,69.7h0M380.8,58.9h0M383.0,70.3h0M378.9,69.1h0M383.5,62.6h0M375.2,63.8h0M376.4,63.8h0M373.7,61.1h0M368.3,64.5h0M369.7,72.0h0M378.3,62.7h0M373.0,63.7h0M373.3,63.0h0M370.4,59.7h0M369.9,60.1h0M385.9,63.3h0M385.2,64.3h0M368.2,70.1h0M374.3,61.0h0M372.3,61.1h0M371.1,71.0h0M382.0,67.3h0M382.5,67.5h0M367.4,59.8h0M373.2,74.5h0M372.4,74.5h0M371.4,63.2h0M378.8,66.4h0M377.1,67.1h0M373.4,65.1h0M369.2,61.2h0M379.2,61.9h0M378.5,62.5h0M374.5,65.7h0M380.6,64.5h0M369.2,71.0h0M369.7,69.6h0M374.3,73.6h0M372.7,68.2h0M374.0,68.8h0M370.5,63.3h0M382.7,63.9h0M368.7,63.1h0M368.9,62.5h0M376.6,63.6h0M378.1,62.8h0M372.8,61.0h0M373.0,59.8h0M379.0,65.4h0M380.3,65.3h0M382.5,62.0h0M382.6,61.7h0M376.3,68.9h0M376.5,69.5h0M375.8,71.0h0M372.3,73.4h0M373.0,74.5h0M369.1,72.1h0M367.3,68.2h0M363.2,61.7h0M375.9,68.4h0M370.2,72.6h0M368.3,63.5h0M368.0,63.7h0M363.7,60.6h0M363.1,60.1h0M367.2,72.7h0M367.0,72.3h0M385.4,60.8h0M385.6,60.4h0M368.8,68.9h0M383.4,58.2h0M382.5,58.8h0M367.3,71.6h0M377.4,58.6h0M364.7,62.3h0M386.1,62.1h0M379.6,62.5h0M380.3,61.9h0M377.5,59.4h0M374.3,70.5h0M375.4,70.2h0M385.4,58.8h0M376.5,62.0h0M375.1,68.7h0M375.0,67.5h0M384.8,60.0h0M385.6,61.4h0M369.9,63.6h0M369.9,73.2h0M368.9,72.7h0M368.0,59.9h0M374.3,58.7h0M372.5,58.4h0M370.6,61.9h0M366.8,72.5h0M366.5,66.9h0M369.7,62.8h0M363.8,60.7h0M377.8,59.2h0M372.8,60.1h0M382.4,64.3h0M380.9,65.5h0M380.8,64.7h0M380.4,65.0h0M369.5,73.5h0M382.1,62.2h0M383.0,62.5h0M363.8,60.9h0M368.5,72.2h0M368.6,72.2h0M377.7,63.3h0M367.0,70.4h0M367.4,69.4h0M384.4,66.4h0M362.8,61.8h0M362.6,61.4h0M381.4,60.6h0M365.3,60.2h0M371.7,71.6h0M371.7,71.7h0M383.4,67.4h0M366.1,63.6h0M366.3,71.0h0M365.6,71.2h0M366.4,72.9h0M374.0,64.4h0M374.4,64.4h0M384.7,61.6h0M385.4,63.8h0M382.3,69.7h0M381.5,67.8h0M362.8,60.1h0M363.7,60.3h0M370.8,71.1h0M383.9,68.0h0M384.4,69.9h0M378.6,61.3h0M377.4,61.0h0M374.2,59.9h0M364.9,64.0h0M384.5,63.9h0M384.8,63.7h0M367.9,59.3h0M368.0,58.8h0M375.8,68.8h0M374.8,60.5h0M383.9,58.0h0M385.7,59.9h0M378.8,63.4h0M363.5,66.8h0M373.3,67.8h0M373.7,68.4h0M373.1,71.4h0M372.2,72.4h0M368.1,72.1h0M369.2,72.8h0M384.7,65.8h0M385.6,65.8h0M374.6,63.9h0M369.5,71.2h0M371.7,59.3h0M371.8,58.7h0M367.3,71.1h0M382.3,61.2h0M365.4,61.5h0M364.8,59.8h0M383.2,66.8h0M383.0,67.2h0M366.3,70.2h0M380.6,57.5h0M367.5,62.2h0M368.3,62.4h0M369.2,72.4h0M369.6,72.7h0M378.3,68.8h0M379.4,69.0h0M379.2,68.5h0M377.4,41.9h0M379.0,41.6h0M384.1,42.4h0M382.6,42.6h0M367.0,43.7h0M370.2,41.6h0M369.7,40.9h0M381.5,43.6h0M382.3,44.0h0M368.1,45.6h0M367.0,45.6h0M378.6,40.5h0M377.6,40.6h0M371.3,44.9h0M367.9,44.5h0M376.7,46.8h0M369.4,41.3h0M380.5,41.2h0M381.6,42.1h0M384.6,44.7h0M373.2,45.2h0M368.6,40.9h0M369.3,41.8h0M378.9,44.1h0M384.3,45.2h0M371.1,44.7h0M370.8,44.5h0M377.0,44.0h0M376.6,43.6h0M365.8,45.2h0M366.6,45.9h0M367.0,45.2h0M367.1,45.4h0M380.3,39.4h0M371.9,44.7h0M371.8,45.4h0M369.4,46.5h0M369.7,46.0h0M375.5,45.6h0M374.9,45.5h0M380.2,44.5h0M380.0,43.5h0M371.4,39.7h0M372.5,41.6h0M380.2,43.7h0M376.7,44.1h0M377.6,42.0h0M382.2,43.5h0M381.9,43.8h0M383.1,43.7h0M378.9,47.1h0M369.4,43.7h0M376.1,40.4h0M373.4,45.5h0M373.6,44.5h0M367.8,40.0h0M371.8,42.6h0M372.9,41.1h0M372.5,41.4h0M378.9,47.3h0M378.8,47.3h0M380.2,39.9h0M378.2,40.2h0M377.2,44.2h0M377.4,44.1h0M380.7,44.3h0M368.2,41.5h0M369.7,43.1h0M375.8,46.0h0M375.9,45.9h0M367.3,45.8h0M381.9,41.9h0M382.0,44.6h0M380.2,42.5h0M380.1,42.0h0M365.2,45.4h0M366.5,41.9h0M372.5,40.7h0M376.8,45.2h0M375.2,44.3h0M370.9,42.3h0M366.8,41.8h0M367.3,40.8h0M375.1,45.4h0M375.7,40.8h0M376.1,40.2h0M378.7,48.9h0M379.4,46.9h0M373.8,43.3h0M375.2,42.0h0M378.0,43.3h0M376.8,38.2h0M368.3,41.4h0M369.6,41.8h0M370.2,41.0h0M375.5,40.8h0M379.4,46.9h0M379.3,47.3h0M369.1,40.3h0M374.1,40.9h0M374.3,41.5h0M381.2,46.4h0M370.1,43.3h0M379.4,44.5h0M379.6,44.8h0M374.9,40.4h0M374.9,41.4h0M372.6,47.6h0M368.2,47.0h0M369.0,40.5h0M369.3,41.5h0M380.6,41.8h0M374.7,47.2h0M372.0,43.8h0M371.3,42.6h0M369.9,45.3h0M384.1,47.2h0M385.3,46.1h0M367.6,47.2h0" stroke="#46a2e2"/><path d="M339.0,82.3h0M356.2,94.7h0M356.8,95.0h0M347.8,84.7h0M341.8,86.4h0M337.3,76.3h0M332.4,96.0h0M344.7,72.9h0M345.8,82.7h0M340.4,77.7h0M344.5,88.4h0M335.9,92.6h0M336.4,92.2h0M340.5,96.2h0M334.2,74.2h0M338.7,92.2h0M339.4,70.6h0M343.9,79.4h0M337.0,70.3h0M335.5,77.8h0M343.5,85.4h0M344.1,99.2h0M346.4,88.8h0M345.9,99.1h0M352.6,87.7h0M343.4,80.4h0M335.8,74.2h0M335.7,74.0h0M357.1,93.4h0M339.2,71.1h0M342.6,85.2h0M352.7,97.4h0M336.4,94.9h0M335.5,94.0h0M333.2,75.4h0M332.7,73.9h0M332.6,74.0h0M348.2,87.5h0M345.9,81.0h0M338.5,88.6h0M345.3,91.9h0M344.7,85.0h0M355.2,91.6h0M345.6,96.8h0M346.6,82.3h0M345.8,95.7h0M340.5,87.2h0M338.4,95.7h0M341.5,79.1h0M341.1,78.9h0M357.5,95.0h0M337.1,73.0h0M334.2,77.4h0M339.3,87.5h0M338.5,83.9h0M348.9,91.8h0M349.6,87.9h0M350.6,83.7h0M353.6,89.7h0M346.4,76.6h0M350.3,81.2h0M346.2,91.3h0M337.4,94.5h0M354.0,94.2h0M345.5,81.3h0M339.6,81.6h0M350.8,85.1h0M355.9,91.9h0M337.8,72.5h0M339.1,73.9h0M334.9,94.9h0M345.4,80.6h0M346.2,82.0h0M337.0,89.9h0M350.1,101.5h0M334.9,82.8h0M352.2,90.2h0M334.3,76.4h0M335.3,76.0h0M351.9,86.8h0M352.6,87.8h0M354.5,88.7h0M344.9,87.2h0M337.8,83.9h0M337.8,76.6h0M337.3,94.3h0M334.8,85.0h0M338.7,90.2h0M340.2,87.8h0M346.8,83.4h0M350.2,94.7h0M356.9,90.7h0M353.7,100.3h0M341.4,75.9h0M339.8,75.4h0M347.4,76.5h0M347.9,87.3h0M346.0,89.5h0M339.5,92.2h0M349.0,100.0h0M350.5,83.8h0M351.0,81.9h0M350.1,91.3h0M340.0,93.6h0M339.5,88.5h0M335.9,88.1h0M341.8,79.2h0M342.0,92.6h0M346.2,94.2h0M344.0,75.6h0M352.1,101.1h0M349.0,86.5h0M347.1,80.2h0M332.8,101.6h0M344.0,91.7h0M336.6,73.8h0M335.7,72.5h0M344.0,78.0h0M343.9,78.3h0M345.4,79.5h0M346.2,94.5h0M331.5,99.3h0M349.1,90.0h0M348.0,89.9h0M348.4,95.1h0M339.6,84.1h0M335.8,92.0h0M353.7,101.0h0M333.8,73.0h0M335.0,74.6h0M353.0,95.5h0M353.1,94.9h0M352.4,90.1h0M352.9,89.9h0M350.0,95.4h0M350.6,95.1h0M337.6,82.2h0M353.0,99.6h0M354.9,96.0h0M355.9,96.3h0M344.8,73.6h0M335.5,70.3h0M336.6,76.7h0M337.5,76.9h0M336.4,86.0h0M335.4,85.8h0M352.3,84.1h0M347.2,83.5h0M354.7,102.0h0M354.7,102.1h0M341.9,95.8h0M345.5,100.0h0M335.8,86.2h0M339.0,86.5h0M345.9,83.8h0M345.0,93.1h0M349.5,86.8h0M352.6,100.4h0M343.2,86.9h0M346.6,87.0h0M337.2,93.7h0M337.7,76.8h0M350.1,88.1h0" stroke="#f27a80"/><path d="M340.0,66.9h0M352.9,77.3h0M357.1,79.3h0M340.1,70.4h0M341.5,71.1h0M360.8,73.6h0M342.4,71.7h0M343.2,72.5h0M357.8,82.5h0M357.6,83.3h0M353.8,84.0h0M347.3,85.8h0M344.5,72.6h0M346.9,76.9h0M359.3,87.5h0M358.3,94.9h0M352.8,79.7h0M361.3,78.6h0M363.0,74.9h0M364.0,74.6h0M360.2,74.2h0M358.3,88.3h0M358.3,88.2h0M341.0,74.6h0M355.9,74.8h0M334.9,67.3h0M359.3,93.0h0M359.0,93.5h0M334.3,73.4h0M334.2,72.0h0M359.4,80.5h0M348.9,88.3h0M344.4,73.6h0M345.5,72.9h0M356.9,88.4h0M356.2,92.1h0M349.9,73.3h0M359.5,78.7h0M358.9,78.1h0M358.1,85.0h0M358.1,87.0h0M353.7,86.7h0M342.1,76.4h0M342.3,75.8h0M344.0,79.4h0M339.5,71.8h0M355.4,81.2h0M355.6,81.4h0M336.0,67.2h0M357.8,91.9h0M349.9,81.1h0M353.0,83.3h0M352.5,83.8h0M352.8,75.2h0M341.5,70.4h0M341.0,71.2h0M353.9,77.8h0M357.9,86.0h0M354.4,79.2h0M355.2,80.6h0M353.8,80.0h0M355.5,86.7h0M344.3,74.6h0M347.6,83.0h0M354.7,77.1h0M338.6,73.8h0M335.0,68.9h0M352.8,75.6h0M353.5,73.7h0M350.7,86.1h0M334.9,68.0h0M353.3,92.0h0M338.0,67.3h0M337.8,67.7h0M357.9,77.0h0M360.0,87.5h0M350.2,77.2h0M353.1,78.0h0M362.0,73.5h0M360.8,74.2h0M353.5,88.1h0M355.7,86.0h0M358.3,82.7h0M354.8,76.6h0M355.8,88.5h0M362.1,73.2h0M346.2,71.2h0M356.1,83.3h0M359.0,86.3h0M358.1,85.2h0M340.2,69.6h0M359.3,75.8h0M359.5,76.4h0M358.9,81.1h0M362.4,73.4h0M360.4,79.9h0M358.6,88.5h0M359.0,76.6h0M358.2,78.5h0M350.7,90.7h0M354.4,90.2h0M359.1,77.6h0M353.1,88.6h0M341.9,71.7h0M357.8,85.3h0M353.0,81.2h0M343.9,72.3h0M351.0,82.3h0M355.1,83.4h0M340.6,76.5h0M354.1,95.2h0M360.1,82.7h0M360.7,81.7h0M347.2,73.9h0M360.2,74.2h0M353.1,75.5h0M340.4,67.3h0M339.4,67.4h0M335.9,65.6h0M352.1,84.8h0M348.8,79.9h0M340.0,71.3h0M356.5,92.6h0M351.2,87.0h0M351.6,87.1h0M357.4,76.6h0M360.1,86.4h0M349.7,74.5h0M347.7,78.8h0M348.0,77.9h0M354.1,88.8h0M340.8,69.7h0M353.1,85.3h0M360.9,75.6h0M359.9,75.7h0M361.1,80.6h0M346.6,79.6h0M354.1,91.4h0M359.9,83.9h0M361.2,84.9h0M353.9,75.4h0M339.5,69.7h0M352.0,92.0h0M340.7,71.2h0M353.2,74.2h0M349.7,79.4h0M357.7,81.5h0M354.2,86.6h0M355.5,86.6h0M349.2,77.4h0M348.8,73.1h0M348.7,74.0h0M356.5,91.3h0M356.9,91.1h0M340.0,71.7h0M342.9,71.5h0M343.4,71.6h0M354.0,75.7h0M353.2,75.4h0M355.8,86.3h0M355.5,88.0h0M355.4,87.3h0M348.9,79.1h0M349.3,78.5h0M357.6,73.8h0M351.2,79.3h0M349.2,79.0h0M358.7,77.9h0M360.4,76.4h0M347.0,73.9h0M351.3,82.4h0M354.3,85.3h0M357.9,74.8h0M355.0,77.4h0M356.5,77.6h0M343.4,71.9h0M343.4,77.5h0M355.8,79.3h0M350.4,74.4h0M358.3,81.2h0M345.0,71.8h0M345.0,71.9h0M338.2,73.5h0M350.7,74.5h0M344.8,71.2h0M344.8,70.7h0M336.8,70.4h0M356.2,78.0h0M354.4,86.2h0M353.1,74.7h0M336.5,68.9h0M347.7,78.2h0M348.0,77.1h0M359.9,78.5h0M345.3,74.7h0M360.0,82.4h0M339.5,68.5h0M350.8,84.8h0M358.0,84.4h0M357.0,84.1h0M341.3,74.7h0M356.3,81.4h0M341.8,67.9h0M362.4,75.7h0M361.1,75.1h0M356.3,76.4h0M351.3,78.7h0M338.3,75.9h0M353.8,84.4h0M354.2,84.0h0M342.1,71.5h0M348.3,83.3h0M356.4,79.4h0M356.0,80.1h0M356.0,79.4h0M358.0,90.0h0M358.7,90.6h0M356.4,73.6h0M354.9,94.0h0M344.9,74.4h0M346.2,74.8h0M357.1,80.1h0M356.4,80.0h0M351.8,79.3h0M354.3,73.0h0M341.5,75.3h0M353.0,84.7h0M352.8,83.7h0M341.0,68.1h0M341.0,67.7h0M354.5,89.5h0M346.9,83.4h0M341.8,79.6h0M351.3,77.7h0M352.2,75.5h0M362.2,75.9h0M360.4,77.1h0M352.6,77.7h0M353.0,77.7h0M353.8,77.7h0M346.6,75.7h0" stroke="#f3a9ae"/><path d="M352.4,76.5h0M350.5,86.1h0M357.8,83.4h0M353.8,84.1h0M342.4,75.6h0M356.3,84.1h0M358.6,95.0h0M353.3,80.1h0M353.5,77.4h0M353.4,76.9h0M351.5,76.2h0M352.3,75.9h0M354.7,80.2h0M334.0,74.6h0M355.7,80.4h0M345.1,73.3h0M354.4,86.3h0M357.1,91.3h0M363.4,73.8h0M356.5,93.4h0M352.5,74.9h0M363.9,73.8h0M358.9,75.1h0M357.9,74.8h0M352.8,75.5h0M361.3,74.4h0M355.8,82.8h0M344.1,74.6h0M349.4,83.2h0M338.5,73.8h0M352.3,80.5h0M354.5,94.6h0M352.5,86.9h0M358.8,77.9h0M356.2,90.1h0M343.4,81.0h0M354.0,75.0h0M356.9,86.5h0M354.4,88.5h0M356.5,89.8h0M362.7,73.1h0M356.8,82.4h0M352.9,84.1h0M358.4,80.9h0M359.6,83.2h0M352.4,85.3h0M351.6,84.6h0M350.9,82.9h0M358.0,93.4h0M355.7,83.6h0M356.9,84.3h0M358.0,78.2h0M357.2,84.9h0M352.5,81.7h0M342.7,81.2h0M352.7,83.2h0M354.9,82.5h0M360.1,81.8h0M349.5,79.9h0M353.4,78.9h0M357.1,92.4h0M358.1,75.7h0M356.6,91.4h0M359.0,86.0h0M359.4,85.4h0M361.4,83.2h0M341.4,79.5h0M340.6,79.8h0M360.9,76.7h0M347.5,76.5h0M357.7,89.7h0M357.4,88.7h0M361.6,78.9h0M355.3,91.0h0M354.7,91.4h0M352.0,87.2h0M357.0,82.9h0M353.2,74.7h0M351.0,79.9h0M358.3,89.7h0M352.5,87.3h0M353.6,87.1h0M356.9,81.5h0M351.1,80.2h0M350.9,79.8h0M348.9,75.0h0M353.0,82.7h0M353.5,75.4h0M354.1,75.7h0M350.1,79.7h0M351.6,86.8h0M354.9,90.1h0M360.4,76.6h0M347.3,74.4h0M355.7,92.1h0M354.4,85.0h0M355.3,85.2h0M357.9,74.3h0M343.0,75.3h0M347.2,80.0h0M361.3,79.9h0M361.2,80.4h0M349.6,85.7h0M345.2,78.8h0M354.3,82.7h0M358.6,80.0h0M346.3,79.9h0M351.8,76.0h0M362.4,78.8h0M361.9,79.4h0M358.9,89.3h0M354.1,73.5h0M353.4,73.7h0M358.2,78.2h0M345.6,75.8h0M354.1,85.4h0M355.9,73.1h0M355.7,84.9h0M355.5,85.7h0M353.7,86.3h0M350.2,75.8h0M350.6,75.4h0M355.7,89.7h0M350.9,79.5h0M352.2,75.4h0M346.7,76.4h0" stroke="#7fbdea"/><path d="M337.2,76.8h0M341.3,75.1h0M343.3,78.4h0M357.6,95.7h0M357.6,97.0h0M341.1,77.8h0M354.3,93.7h0M343.8,78.6h0M343.1,79.8h0M334.3,75.9h0M346.7,80.5h0M345.9,81.4h0M347.2,84.4h0M354.0,91.6h0M351.8,86.3h0M351.2,82.2h0M352.7,88.9h0M339.0,75.3h0M358.2,94.1h0M353.3,92.7h0M353.7,93.6h0M347.1,83.8h0M353.1,89.1h0M357.6,91.2h0M348.0,80.1h0M347.2,79.2h0M350.8,89.9h0M356.0,95.0h0M337.9,74.8h0M351.6,90.4h0M354.9,86.9h0M340.3,75.5h0M342.2,76.4h0M350.9,90.3h0M342.3,79.9h0M345.6,78.0h0M345.5,80.5h0M335.1,74.1h0M341.4,73.2h0M355.8,88.2h0M345.7,81.2h0M343.6,80.6h0M336.7,76.8h0M341.9,75.2h0M346.7,83.1h0M349.0,87.3h0M346.3,74.8h0" stroke="#f7b9bd"/><path d="M348.2,50.3h0M336.6,53.1h0M342.1,44.5h0M353.6,54.7h0M357.1,51.9h0M345.0,52.5h0M358.6,52.4h0M346.5,40.3h0M347.9,55.5h0M347.3,53.4h0M341.1,44.0h0M348.1,44.9h0M343.9,39.5h0M347.3,40.8h0M343.7,44.6h0M355.2,47.8h0M343.2,42.5h0M347.7,47.1h0M353.1,56.3h0M345.5,52.1h0M347.2,38.0h0M344.6,53.9h0M358.6,52.3h0M345.9,47.3h0M346.9,46.3h0M352.8,39.9h0M345.8,44.1h0M349.0,54.0h0M353.2,41.4h0M360.6,54.9h0M342.7,38.9h0M351.3,44.0h0M341.1,43.3h0M360.8,52.7h0M360.2,55.5h0M347.0,44.7h0M357.3,57.6h0M355.1,51.1h0M347.2,40.5h0M339.5,44.1h0M344.3,39.1h0M344.1,53.3h0M343.9,51.8h0M346.0,45.1h0M346.7,37.2h0M355.4,56.7h0M348.6,41.5h0M347.9,37.3h0M356.3,45.5h0M358.2,51.2h0M353.0,56.4h0M347.5,41.5h0M355.5,55.4h0M353.9,44.8h0M338.1,55.4h0M352.4,48.6h0M344.2,54.4h0M346.3,41.7h0M351.2,55.6h0M354.6,49.6h0M355.9,50.5h0M346.0,52.7h0M348.8,47.3h0M337.2,50.3h0M349.7,41.3h0M350.7,47.9h0M357.1,55.2h0M360.9,56.9h0M341.7,41.8h0M352.5,43.3h0M337.6,43.0h0M340.7,43.9h0M358.4,54.3h0M346.9,41.2h0M353.9,45.4h0M357.1,47.9h0M356.7,47.2h0M349.9,47.4h0M339.6,50.8h0M342.2,39.8h0M349.0,40.3h0M346.3,37.8h0M344.6,45.8h0M351.0,50.0h0M357.4,53.0h0M347.3,42.6h0M342.3,48.4h0M359.1,54.7h0M348.7,45.9h0M349.9,45.4h0M343.5,44.1h0M345.1,50.2h0M357.5,54.6h0M345.1,41.5h0M340.1,40.4h0M347.0,38.5h0M342.3,40.8h0M349.1,48.1h0M355.4,44.5h0M355.1,52.2h0M350.8,47.7h0M342.5,41.2h0M352.6,51.5h0M339.2,49.9h0M346.0,37.9h0M352.4,54.1h0M354.3,43.2h0M340.8,49.9h0M342.4,52.0h0M351.4,50.6h0M346.7,49.6h0M347.7,46.6h0M352.3,40.9h0M351.9,55.8h0M341.8,44.6h0M354.5,57.5h0M356.9,48.0h0M350.7,50.8h0M342.9,52.2h0M349.9,54.0h0M351.5,52.1h0M347.2,39.2h0M337.5,52.4h0M351.7,47.7h0M355.1,49.5h0M350.3,48.9h0M348.1,41.4h0M358.3,54.4h0M335.5,53.2h0M348.3,52.4h0M353.7,45.5h0M350.3,46.4h0M350.6,47.5h0M344.4,40.8h0M345.3,45.7h0M358.5,53.9h0M357.6,54.1h0M351.8,48.5h0M343.1,51.8h0M345.6,37.8h0M340.5,52.9h0M343.1,46.2h0M359.2,54.5h0M340.1,51.6h0M355.2,58.0h0M359.6,53.3h0M355.2,56.9h0M349.3,53.2h0M338.1,52.3h0M339.4,49.1h0M339.6,47.5h0M348.4,44.9h0M339.0,45.8h0M339.8,48.6h0M349.2,40.0h0M356.7,50.9h0M350.5,44.7h0M345.7,47.0h0M354.1,44.4h0M337.3,47.6h0M342.5,44.9h0M346.8,56.0h0M340.9,48.1h0M345.3,55.0h0M340.4,49.3h0M343.4,53.0h0M348.9,54.5h0M335.3,53.4h0M352.4,47.1h0M348.7,46.7h0M337.9,55.4h0M339.5,44.3h0M349.4,54.8h0M354.0,44.0h0M335.6,54.4h0M348.1,48.0h0M355.8,57.6h0M354.3,48.6h0M341.2,44.1h0M355.4,53.9h0M348.2,44.8h0M354.2,48.4h0M352.7,46.9h0M341.2,43.2h0M345.8,42.0h0M343.6,46.7h0M348.1,54.0h0M348.0,42.1h0M359.5,56.6h0M339.4,44.9h0M351.7,43.9h0M351.9,55.1h0M342.4,41.7h0M344.1,43.8h0M344.9,40.4h0M351.3,51.7h0M348.6,48.3h0M346.3,48.3h0M353.9,51.9h0M342.3,41.0h0M341.3,54.9h0M347.3,36.6h0M343.9,43.4h0M344.9,47.1h0M341.2,53.7h0M356.4,47.2h0M361.3,55.5h0M342.7,39.5h0M348.3,49.1h0M350.4,50.9h0M359.0,51.5h0M343.5,53.4h0M360.3,54.9h0M343.5,39.4h0M359.4,55.4h0M356.2,48.3h0M337.7,52.7h0M350.9,55.8h0M341.7,47.6h0M357.9,49.6h0M341.9,50.5h0M346.6,53.2h0M352.3,49.7h0M344.7,51.9h0M340.5,50.9h0M353.0,46.5h0M344.9,51.6h0M348.2,52.8h0M349.3,39.7h0M345.5,42.7h0M356.5,55.4h0M356.9,58.2h0M348.9,49.8h0M344.7,52.6h0M337.5,54.2h0M346.2,39.9h0M356.3,49.2h0M351.8,56.6h0M336.7,52.1h0M340.3,42.6h0M342.0,48.9h0M350.2,41.7h0M345.5,49.1h0M351.5,39.1h0M351.8,52.5h0M348.8,49.4h0M351.5,54.5h0M343.1,50.2h0M348.1,51.8h0M345.3,40.9h0M348.0,44.2h0M336.4,53.6h0M343.7,44.9h0M344.9,43.9h0M358.9,51.2h0M350.2,43.0h0M345.6,49.0h0M352.0,40.0h0M343.8,39.2h0M349.5,39.0h0M352.2,54.6h0M341.4,49.3h0M342.3,52.0h0M348.6,47.7h0M341.2,42.0h0M344.7,48.0h0M355.4,55.9h0M352.4,45.4h0M358.9,55.0h0M337.5,50.4h0M356.3,56.1h0M343.7,53.0h0M346.0,44.4h0M345.9,53.4h0M338.6,50.3h0M343.4,47.0h0M336.4,52.5h0M345.9,46.5h0M341.3,45.2h0M343.8,54.4h0M351.8,44.3h0M346.2,51.5h0M339.0,50.3h0M349.0,45.9h0M337.9,45.6h0M356.4,50.8h0M342.1,43.3h0M360.4,55.5h0M345.9,50.3h0M339.8,46.7h0M354.8,43.6h0M358.5,55.8h0M357.6,56.9h0M343.7,47.2h0M341.5,41.2h0M353.0,56.5h0M346.3,49.0h0M348.1,52.5h0M340.1,45.7h0M353.7,57.2h0M339.2,51.7h0M336.4,50.8h0M347.0,44.3h0M356.7,48.6h0M347.8,43.9h0M347.0,53.8h0M357.3,56.9h0M348.5,47.8h0M344.8,51.7h0M342.7,43.6h0M354.8,44.9h0M353.0,40.3h0M337.3,47.5h0M350.0,38.4h0M356.4,54.6h0M355.5,47.3h0M351.7,54.0h0M360.7,51.6h0M351.1,39.5h0M352.4,50.5h0M356.4,51.7h0M336.5,53.3h0M353.3,47.7h0M354.0,53.3h0M358.1,49.8h0M338.5,46.4h0M342.4,53.3h0M345.9,39.6h0M353.9,44.9h0M341.9,48.2h0M344.6,38.7h0M351.4,50.3h0M342.7,44.0h0M347.7,49.5h0M350.6,50.5h0M356.0,51.2h0M345.5,37.1h0M349.8,43.0h0M358.8,55.0h0M339.3,44.9h0M342.6,42.1h0M345.5,50.3h0M345.9,43.8h0M347.1,49.8h0M356.2,49.9h0M344.4,55.5h0M339.1,53.2h0M346.0,48.6h0M358.7,52.7h0M341.7,44.8h0M341.7,41.4h0M350.0,43.1h0M356.4,51.7h0M354.7,54.1h0M353.5,48.2h0M342.7,51.2h0M344.0,54.5h0M357.9,56.1h0M350.0,36.4h0M349.6,53.9h0M338.5,44.7h0M345.2,44.2h0M343.0,53.0h0M349.9,51.4h0M337.5,47.3h0M342.3,42.3h0M338.1,48.8h0M349.6,43.8h0M352.4,46.4h0M341.0,40.6h0M344.3,48.9h0M349.7,47.4h0M350.7,39.3h0M339.7,45.3h0M345.8,42.5h0M343.0,41.1h0M355.2,49.7h0M348.1,49.6h0M348.3,45.1h0M351.7,41.7h0M354.4,54.0h0M342.3,43.3h0M349.9,46.3h0M340.3,45.7h0M354.4,42.7h0M351.4,48.8h0M350.1,41.5h0M350.7,40.8h0M351.4,39.2h0M339.3,52.7h0M349.1,41.4h0M356.5,55.7h0M357.5,56.3h0M348.3,38.4h0M343.8,48.3h0M354.8,52.7h0M349.0,52.4h0M352.2,53.9h0M348.1,43.1h0M346.6,44.6h0M341.2,54.7h0M351.7,43.4h0M351.6,38.2h0M354.7,44.0h0M347.8,40.2h0M350.5,56.2h0M359.2,53.3h0M345.8,37.8h0M353.3,41.9h0M340.0,53.0h0M359.1,53.8h0M344.5,49.7h0M335.7,52.2h0M351.6,52.0h0M346.6,52.5h0M351.9,53.8h0M353.9,51.0h0M345.4,49.9h0M344.8,45.1h0M360.7,55.1h0M357.0,54.1h0M340.8,53.2h0M351.4,43.5h0M341.6,53.8h0M346.6,54.0h0M342.5,51.0h0M341.0,55.7h0M347.6,47.1h0M345.0,51.8h0M348.1,50.5h0M336.9,51.3h0M349.0,50.7h0M354.6,53.3h0M340.7,53.1h0M347.9,40.7h0M349.5,47.7h0M350.2,50.6h0M340.1,42.6h0M347.4,36.8h0M345.6,49.5h0M350.1,48.5h0M338.2,46.7h0M342.7,51.3h0M348.2,51.1h0M349.1,46.8h0M350.2,53.6h0M343.9,39.6h0M353.2,56.4h0M357.1,52.8h0M347.7,51.5h0M347.4,49.7h0M342.9,39.1h0M342.3,51.6h0M338.9,53.1h0M341.9,47.8h0M353.1,39.2h0M348.0,39.4h0M338.2,50.8h0M355.1,53.5h0M343.2,51.0h0M351.1,56.1h0M354.2,48.4h0M353.1,47.4h0M356.8,46.6h0M356.0,55.2h0M347.1,52.2h0M349.8,51.2h0M343.1,48.0h0M350.6,54.5h0M350.8,41.2h0M353.5,45.5h0M355.9,52.1h0M348.1,42.8h0M341.6,40.8h0M347.0,52.0h0M352.6,42.5h0M357.3,53.5h0M345.6,41.2h0M340.3,49.2h0M346.0,43.7h0M347.9,51.0h0M342.5,51.2h0M353.5,42.1h0M354.1,44.2h0M342.1,52.7h0M350.5,42.5h0M342.0,53.7h0M349.6,53.5h0M341.1,40.1h0M354.9,47.9h0M347.3,50.6h0M345.6,45.5h0M351.8,54.2h0M349.7,38.8h0M340.6,48.2h0M346.1,51.8h0M348.3,52.8h0M352.6,43.7h0M340.3,52.2h0M345.4,47.2h0M359.6,53.5h0M353.4,54.5h0M343.9,44.4h0M356.4,48.2h0M341.2,44.2h0M355.9,56.1h0M357.5,52.6h0M354.4,46.6h0M340.5,50.9h0M341.3,42.9h0M353.7,42.7h0M349.2,39.5h0M342.4,53.3h0M355.9,51.3h0M348.0,53.2h0M352.7,54.3h0M342.2,53.3h0M344.6,47.2h0M353.9,49.3h0M358.2,55.6h0M351.1,48.8h0M351.1,41.5h0M348.6,40.6h0M344.8,48.8h0M342.3,49.2h0M346.2,50.9h0M341.3,41.8h0M355.8,55.2h0M339.8,51.9h0M338.9,47.3h0M355.5,44.6h0M359.2,50.2h0M337.5,46.0h0M342.1,45.2h0M348.6,49.0h0M357.9,49.8h0M343.7,38.7h0M351.9,41.2h0M343.3,42.7h0M340.0,44.4h0M337.7,47.6h0M352.5,47.2h0M356.4,47.4h0M359.0,57.7h0M339.3,45.5h0M346.7,51.2h0M349.8,52.8h0M340.4,49.5h0M343.1,50.4h0M347.8,45.5h0M342.9,44.5h0M350.5,41.9h0M337.3,49.7h0M345.4,52.9h0M337.8,51.4h0M342.9,47.8h0M352.8,44.6h0M355.2,46.5h0M348.8,51.5h0M341.3,47.0h0M357.7,55.1h0M340.3,43.8h0M354.6,54.9h0M339.8,43.0h0M347.9,41.9h0M351.8,53.5h0M352.6,52.5h0M350.5,43.1h0M345.7,50.2h0M349.0,53.7h0M347.0,42.6h0M350.0,53.5h0M351.4,55.8h0M340.8,53.7h0M345.3,50.6h0M359.8,54.8h0M349.8,41.3h0M349.8,44.3h0M340.0,50.6h0M338.3,52.5h0M344.8,40.0h0M337.8,49.9h0M345.4,49.0h0M337.9,46.7h0M352.3,48.4h0M356.0,51.5h0M344.9,53.3h0M352.4,40.4h0M353.3,54.4h0M350.3,47.6h0M344.3,53.7h0M356.6,52.7h0M349.6,46.6h0M343.0,51.8h0M338.3,54.5h0M343.4,53.8h0M343.9,52.8h0M353.4,42.2h0M349.6,44.1h0M347.7,46.6h0M338.9,55.3h0M345.8,43.0h0M343.3,54.3h0M350.1,41.6h0M351.8,44.3h0M354.0,50.3h0M346.9,49.7h0M346.2,38.4h0M357.1,47.6h0M338.1,52.7h0M350.9,49.0h0M356.3,52.5h0M341.4,46.5h0M340.4,48.2h0M338.3,52.6h0M353.8,51.7h0M358.5,54.6h0M336.6,52.9h0M346.1,44.4h0M352.7,55.9h0M342.6,46.3h0M355.6,54.0h0M353.1,53.8h0M353.2,41.9h0M353.2,47.7h0M352.2,51.4h0M345.5,54.4h0M347.4,43.8h0M352.8,39.9h0M356.1,58.3h0M344.0,41.2h0M350.5,43.7h0M354.8,54.3h0M342.1,45.3h0M357.4,55.8h0M355.4,54.4h0M353.5,54.8h0M353.6,54.8h0M356.7,49.1h0M342.3,47.2h0M359.9,55.7h0M339.2,52.3h0M347.9,42.5h0M357.1,49.3h0M348.6,49.2h0M341.6,54.9h0M353.4,53.6h0M346.9,39.6h0M357.0,51.4h0M338.8,48.8h0M340.1,49.9h0M349.3,54.9h0M338.5,51.5h0M352.1,50.0h0M344.6,42.6h0M343.0,54.3h0M352.2,47.3h0M351.2,46.9h0M344.2,39.3h0M355.9,55.9h0M341.3,49.6h0M356.7,51.3h0M339.7,48.6h0M341.1,43.2h0M342.5,40.5h0M349.9,46.4h0M357.2,48.8h0M341.7,51.4h0M354.7,47.3h0M339.2,46.7h0M346.9,49.0h0M338.9,48.0h0M349.3,39.5h0M342.7,52.7h0M346.3,52.6h0M351.1,46.2h0M343.5,43.7h0M344.7,48.8h0M359.4,50.1h0M346.7,38.1h0M350.6,52.6h0M353.4,42.4h0M350.3,43.8h0M351.1,46.8h0M357.3,52.9h0M349.0,52.7h0M349.9,50.2h0M351.9,52.8h0M341.9,40.0h0M347.7,45.6h0M341.6,48.3h0M341.6,42.6h0M342.6,40.4h0M340.0,53.4h0M337.3,49.1h0M354.5,43.1h0M353.1,54.5h0M339.8,49.5h0M344.7,45.2h0M342.7,40.0h0M357.2,49.1h0M341.6,48.3h0M348.3,44.7h0M349.0,41.5h0M335.8,52.1h0M349.4,42.5h0M349.0,50.0h0M346.3,51.9h0M354.3,53.3h0M345.8,48.9h0M343.3,54.2h0M344.4,53.5h0M343.9,42.8h0M342.5,39.2h0M346.9,37.8h0M341.4,44.7h0M346.4,47.0h0M349.3,43.3h0M354.9,47.9h0M350.6,41.5h0M351.1,43.1h0M339.9,48.9h0M337.7,52.9h0M351.2,40.2h0M350.7,47.6h0M357.3,52.0h0M349.6,38.4h0M358.3,56.4h0M336.3,53.8h0M348.5,48.7h0M348.9,53.9h0M348.9,47.0h0M345.9,44.1h0M356.6,56.8h0M339.0,49.6h0M349.8,37.9h0M355.4,55.5h0M355.2,47.4h0M359.5,53.0h0M346.0,49.4h0M353.3,56.4h0M343.9,42.1h0M351.3,48.3h0M344.2,52.5h0M352.1,52.2h0M338.6,46.3h0M356.2,45.9h0M349.0,44.0h0M342.5,50.3h0M353.3,46.2h0M340.5,53.3h0M342.8,54.0h0M352.7,47.1h0M351.8,42.7h0M352.4,43.6h0M340.9,48.8h0M346.5,49.3h0M343.0,43.2h0M354.0,56.4h0M339.5,44.2h0M353.9,56.3h0M344.1,41.8h0M359.6,53.0h0M338.4,49.1h0M356.2,56.1h0M338.6,52.6h0M345.7,54.2h0M345.1,54.9h0M347.0,37.4h0M349.6,51.7h0M344.0,42.0h0M357.3,54.6h0M338.6,55.7h0M352.7,44.3h0M347.3,45.0h0M349.3,55.9h0M346.6,38.1h0M350.7,56.3h0M349.2,53.8h0M353.6,49.5h0M361.6,54.9h0M348.5,53.5h0M349.9,55.4h0M351.7,51.4h0M341.5,51.0h0M349.9,47.2h0M341.1,52.0h0M349.9,46.0h0M337.5,51.3h0M336.7,50.8h0M343.3,51.8h0M349.5,45.8h0M353.9,48.4h0M355.4,53.2h0M349.8,40.1h0M357.3,50.4h0M353.0,42.2h0M337.7,51.0h0M346.9,46.4h0M348.9,54.3h0M355.5,50.0h0M356.3,46.6h0M339.5,45.7h0M342.5,49.9h0M344.3,40.0h0M357.6,56.2h0M353.9,55.3h0M348.1,49.2h0M350.9,37.4h0M352.1,40.8h0M352.5,50.2h0M337.5,50.9h0M337.7,48.3h0M353.2,52.2h0M345.6,46.8h0M344.3,53.3h0M347.8,43.8h0M344.6,52.8h0M358.4,51.7h0M347.1,54.1h0M352.2,42.0h0M343.2,54.7h0M360.8,52.3h0M354.6,52.8h0M343.4,51.8h0M351.1,49.1h0M342.6,46.3h0M347.0,53.6h0M342.7,40.1h0M350.8,53.5h0M342.2,54.4h0M352.4,40.8h0M359.0,50.5h0M351.4,43.2h0M356.9,55.5h0M353.5,49.3h0M355.2,48.8h0M344.7,42.8h0M350.0,45.3h0M354.5,44.6h0M348.2,55.7h0M343.5,44.3h0M347.0,54.0h0M345.3,39.3h0M350.9,45.3h0M343.5,40.0h0M338.7,48.3h0M346.8,47.0h0M344.0,55.6h0M352.5,50.2h0M342.5,40.7h0M352.3,50.2h0M345.4,49.0h0M341.5,47.4h0M338.1,51.8h0M341.6,45.8h0M347.2,51.9h0M346.4,54.9h0M355.5,45.5h0M345.6,40.6h0M352.2,46.2h0M343.9,46.6h0M355.6,46.6h0M347.5,49.0h0M343.3,44.9h0M357.9,56.0h0M342.5,46.4h0M356.3,50.8h0M358.0,50.7h0M351.7,44.9h0M347.6,40.6h0M341.6,44.9h0M341.3,44.6h0M341.4,47.2h0M339.7,41.5h0M358.9,53.7h0M341.3,46.4h0M348.2,55.7h0M338.3,43.7h0M337.6,47.3h0M352.4,42.7h0M353.4,47.5h0M341.4,43.9h0M350.6,42.4h0M350.5,55.4h0M338.9,45.4h0M341.5,52.9h0M347.4,39.3h0M340.5,47.0h0M343.9,52.0h0M339.5,43.6h0M339.6,45.9h0M338.3,52.9h0M344.1,53.8h0M346.7,52.3h0M355.2,46.6h0M355.3,52.6h0M353.3,45.5h0M359.2,53.2h0M349.1,45.6h0M351.2,54.3h0M347.5,40.6h0M356.9,48.3h0M341.6,52.7h0M344.5,42.4h0M337.8,47.6h0M357.3,57.0h0M341.2,41.7h0M358.5,53.4h0M344.3,47.2h0M352.9,56.3h0M349.4,44.2h0M352.0,46.3h0M343.2,48.6h0M352.4,45.2h0M348.0,46.1h0M351.2,41.4h0M343.1,54.4h0M354.8,46.2h0M348.2,54.7h0M349.4,46.5h0M349.8,43.4h0M336.7,53.1h0M357.3,49.0h0M353.1,53.3h0M352.9,52.7h0M344.8,39.6h0M346.3,55.0h0M345.3,45.3h0M344.1,43.2h0M359.7,54.1h0M349.0,56.0h0M345.3,42.6h0M343.5,48.9h0M355.1,54.3h0M348.3,44.8h0M350.2,47.2h0M358.1,51.5h0M345.7,39.4h0M342.4,44.1h0M348.5,45.2h0M357.2,51.4h0M349.1,41.3h0M338.8,53.2h0M349.4,37.2h0M358.1,55.7h0M343.9,40.4h0M350.0,49.4h0M340.1,48.3h0M339.5,50.3h0M336.6,52.5h0M350.7,39.8h0M351.5,51.4h0M351.9,53.6h0M350.0,44.9h0M351.2,51.5h0M351.8,40.0h0M343.8,54.7h0M360.1,53.4h0M346.8,53.1h0M338.6,46.6h0M384.4,48.6h0M384.0,48.7h0M383.1,56.0h0M382.7,55.9h0M366.0,48.9h0M367.2,48.7h0M366.0,47.5h0M368.8,57.0h0M369.5,57.3h0M369.6,56.9h0M371.4,47.2h0M370.9,48.0h0M371.6,47.7h0M382.8,54.8h0M382.7,56.0h0M382.6,55.5h0M370.0,50.0h0M369.4,50.4h0M369.8,50.9h0M368.7,51.3h0M373.6,47.5h0M374.1,47.2h0M373.3,46.3h0M366.0,55.4h0M384.1,52.4h0M382.6,53.7h0M384.2,53.9h0M379.0,42.9h0M380.2,43.9h0M379.4,44.9h0M378.9,55.5h0M379.4,46.0h0M378.2,46.4h0M379.6,46.0h0M380.9,57.5h0M382.4,56.8h0M381.9,58.4h0M369.6,50.7h0M370.6,49.7h0M370.5,50.1h0M374.2,48.5h0M374.7,47.9h0M384.5,44.7h0M368.5,47.0h0M369.3,46.6h0M381.8,53.8h0M382.4,53.5h0M377.8,46.9h0M378.1,46.6h0M361.7,54.4h0M360.4,54.0h0M371.2,54.8h0M370.6,55.3h0M371.4,55.3h0M364.7,57.5h0M365.9,58.0h0M364.2,57.7h0M383.3,52.2h0M382.0,51.9h0M364.9,55.5h0M365.4,55.8h0M364.0,54.8h0M371.6,44.2h0M372.4,42.4h0M372.4,43.1h0M367.7,56.6h0M367.5,58.1h0M367.3,57.5h0M385.7,57.1h0M385.2,57.8h0M385.9,56.8h0M368.4,47.7h0M365.0,50.2h0M364.0,49.1h0M365.2,49.4h0M378.1,51.3h0M379.4,52.5h0M379.5,51.6h0M385.9,52.6h0M386.4,54.1h0M385.5,54.1h0M363.6,52.3h0M361.9,53.2h0M363.0,52.1h0M367.0,47.6h0M386.3,48.5h0M385.5,48.7h0M380.5,57.1h0M378.4,57.1h0M378.7,57.7h0M383.4,59.2h0M383.2,60.0h0M383.2,60.3h0M378.9,50.6h0M379.8,50.9h0M378.6,50.5h0M368.9,53.9h0M368.9,55.1h0M369.3,54.5h0M377.0,49.7h0M376.8,49.8h0M381.6,49.8h0M381.4,51.1h0M380.9,50.0h0M382.4,50.8h0M381.8,50.8h0M377.8,44.3h0M379.2,44.4h0M359.6,54.3h0M359.8,54.6h0M370.1,43.8h0M377.1,52.9h0M378.5,53.1h0M378.8,53.8h0M371.9,43.5h0M372.2,43.7h0M373.8,44.3h0M373.2,43.3h0M369.9,42.5h0M373.2,51.5h0M372.4,50.9h0M373.1,51.4h0M369.1,46.5h0M368.5,46.5h0M372.6,42.5h0M366.6,47.9h0M367.1,47.9h0M366.2,47.9h0M383.1,47.7h0M367.6,53.8h0M368.5,54.2h0M368.2,53.6h0M369.5,48.5h0M367.6,47.2h0M369.2,48.5h0M386.2,59.4h0M384.7,59.1h0M384.0,58.6h0M365.6,53.1h0M365.2,52.8h0M365.9,53.0h0M382.8,52.1h0M369.8,46.1h0M370.1,46.2h0M370.2,46.2h0M378.1,58.6h0M378.4,59.2h0M384.1,47.6h0M382.8,48.2h0M383.3,48.6h0M360.8,50.6h0M360.8,52.9h0M363.9,56.5h0M364.6,56.4h0M365.2,56.6h0M379.2,57.3h0M380.1,57.5h0M379.8,56.4h0M376.6,56.3h0M376.5,56.5h0M377.0,56.4h0M380.9,50.8h0M381.7,49.3h0M381.0,50.8h0M372.2,57.6h0M371.7,57.2h0M378.2,58.4h0M378.4,57.8h0M378.5,58.0h0M378.7,52.2h0M378.5,52.6h0M378.0,51.9h0M369.6,53.3h0M369.4,53.0h0M369.3,54.4h0M367.6,59.1h0M367.1,58.4h0M368.3,59.5h0M375.9,54.2h0M374.5,54.5h0M385.0,55.6h0M385.3,55.9h0M372.3,56.1h0M372.4,55.8h0M379.9,43.5h0M380.2,42.6h0M379.2,43.4h0M367.8,58.7h0M367.9,58.4h0M368.3,59.0h0M386.4,51.6h0M386.0,53.1h0M373.1,43.1h0M374.0,42.3h0M373.8,42.8h0M381.6,52.6h0M381.3,51.8h0M381.3,52.3h0M379.4,53.4h0M378.6,52.5h0M378.8,52.9h0M377.4,50.8h0M376.7,51.0h0M376.7,49.7h0M369.7,50.8h0M369.5,50.3h0M371.6,53.4h0M371.4,52.3h0M371.2,43.4h0M367.6,45.8h0M368.4,46.1h0M374.0,56.5h0M375.3,55.5h0M374.9,50.5h0M374.4,50.6h0M367.0,47.4h0M367.3,47.2h0M385.2,47.6h0M384.3,47.4h0M374.8,56.1h0M375.9,55.4h0M372.5,59.0h0M374.0,59.7h0M373.3,59.8h0M372.9,45.1h0M372.9,44.9h0M372.9,45.8h0M373.6,44.8h0M373.1,45.8h0M366.6,50.5h0M365.9,50.2h0M365.7,50.4h0M383.3,49.8h0M382.6,48.7h0M375.8,53.8h0M374.0,54.9h0M374.3,55.0h0M373.1,56.7h0M373.3,57.0h0M372.2,56.1h0M380.2,56.2h0M380.4,56.2h0M366.9,57.2h0M371.1,61.2h0M370.7,61.1h0M385.5,53.3h0M384.5,53.5h0M385.3,53.8h0M378.3,52.0h0M377.8,52.4h0M376.8,53.2h0M367.7,47.0h0M367.6,47.8h0M367.4,48.1h0M377.7,54.3h0M377.9,53.7h0M381.7,58.2h0M383.3,58.2h0M382.5,59.2h0M370.6,45.0h0M371.2,45.7h0M370.3,44.7h0M377.3,43.2h0M376.4,43.0h0M376.8,43.3h0M368.3,52.4h0M368.1,53.0h0M369.4,58.2h0M369.0,59.0h0M369.8,58.4h0M381.7,46.5h0M380.9,46.4h0M373.7,48.2h0M374.3,49.4h0M374.0,49.8h0M369.0,46.6h0M369.4,46.1h0M378.9,43.9h0M367.4,58.1h0M367.9,57.3h0M376.2,52.5h0M377.2,54.1h0M377.2,55.1h0M377.5,43.0h0M377.9,43.1h0M378.3,42.2h0M369.4,56.1h0M370.1,57.8h0M370.1,59.2h0M374.1,55.8h0M373.8,56.3h0M367.3,58.8h0M367.2,59.2h0M367.5,58.7h0M378.2,56.8h0M377.2,57.7h0M383.7,49.6h0M383.2,49.9h0M368.6,59.6h0M374.4,49.6h0M374.6,49.4h0M373.5,45.3h0M373.7,45.8h0M365.5,55.0h0M366.6,54.6h0M366.3,54.2h0M374.8,51.8h0M374.7,52.5h0M368.3,47.4h0M368.0,47.4h0M368.9,47.0h0M366.0,46.3h0M363.3,58.7h0M363.5,58.0h0M363.8,59.1h0M369.8,52.5h0M370.5,52.4h0M369.1,53.6h0M381.7,48.1h0M380.5,49.4h0M381.1,49.5h0M365.5,51.1h0M365.7,52.3h0M365.0,51.1h0M362.6,56.9h0M379.5,57.7h0M380.0,57.6h0M380.0,58.3h0M372.9,53.0h0M371.9,51.8h0M370.9,53.1h0M375.0,46.3h0M375.7,45.6h0M375.6,46.3h0M379.9,59.3h0M381.6,58.2h0M373.0,56.4h0M373.2,56.0h0M368.1,58.2h0M367.6,59.6h0M366.3,47.8h0M367.1,48.5h0M366.2,50.1h0M366.3,50.8h0M366.6,49.8h0M379.8,50.6h0M379.0,50.9h0M379.4,50.3h0M368.8,51.0h0M365.1,57.5h0M366.6,55.4h0M376.3,55.8h0M377.5,56.2h0M384.1,47.6h0M384.0,47.7h0M384.7,47.2h0M374.7,60.0h0M373.3,59.0h0M374.7,60.4h0M378.7,46.4h0M373.6,47.4h0M373.6,45.6h0M373.2,47.3h0M380.9,58.1h0M376.5,54.5h0M376.4,54.4h0M368.1,54.9h0M369.2,54.0h0M369.1,54.8h0M381.7,47.4h0M382.5,47.8h0M382.1,46.3h0M363.7,59.6h0M363.9,59.5h0M383.0,54.4h0M364.1,57.3h0M364.2,57.1h0M365.6,57.0h0M376.5,47.4h0M377.0,46.4h0M376.6,47.4h0M375.6,44.9h0M376.2,45.3h0M376.3,45.2h0M372.4,46.3h0M372.5,45.6h0M372.0,41.2h0M371.6,41.2h0M372.4,41.1h0M382.2,52.8h0M382.9,55.3h0M385.9,53.9h0M385.9,52.9h0M377.8,45.0h0M377.6,44.5h0M383.5,47.5h0M382.1,47.8h0M383.5,48.2h0M371.8,59.0h0M372.6,59.1h0M372.9,60.1h0M379.8,54.7h0M379.8,54.3h0M381.2,48.6h0M382.0,48.4h0M380.6,48.4h0M359.6,52.5h0M360.1,52.5h0M369.7,55.3h0M368.3,56.1h0M368.6,55.5h0M381.8,57.0h0M382.0,56.8h0M380.8,55.9h0M379.2,56.2h0M379.9,56.7h0M380.2,56.7h0M375.6,49.7h0M377.0,50.1h0M384.3,51.3h0M384.9,51.4h0M384.8,51.7h0M363.7,52.5h0M363.3,51.6h0M363.2,51.3h0M381.2,52.8h0M380.4,52.2h0M381.0,52.3h0M383.8,48.5h0M384.0,49.2h0M385.5,53.4h0M385.6,53.2h0M386.8,53.3h0M362.6,58.4h0M361.6,58.4h0M373.6,58.3h0M373.4,58.0h0M373.0,57.8h0M366.6,55.9h0M366.5,54.8h0M375.9,55.1h0M376.2,53.8h0M376.8,50.0h0M375.7,49.4h0M375.7,49.4h0M365.7,56.5h0M365.7,56.4h0M365.2,57.0h0M375.8,48.0h0M376.1,48.6h0M375.6,48.8h0M367.8,51.4h0M367.5,52.9h0M368.0,52.0h0M369.0,56.1h0M369.0,54.3h0M373.4,57.5h0M373.8,57.6h0M373.5,59.2h0M370.9,52.4h0M370.7,51.7h0M370.4,53.2h0M371.7,42.5h0M371.2,43.9h0M371.6,43.4h0M372.0,42.3h0M372.9,42.1h0M371.9,41.7h0M366.4,51.2h0M365.6,50.4h0M383.6,54.0h0M384.5,55.1h0M370.0,46.6h0M371.2,44.8h0M371.7,46.3h0M382.9,50.5h0M382.0,51.4h0M381.9,51.3h0M380.6,54.6h0M379.4,54.7h0M379.8,55.1h0M365.7,51.2h0M365.5,50.6h0M365.3,51.5h0M372.0,46.4h0M371.4,47.2h0M371.2,46.7h0M379.2,59.2h0M379.0,58.7h0M379.1,59.4h0M362.2,60.1h0M362.3,59.3h0M373.4,60.6h0M375.2,46.8h0M375.8,48.3h0M374.1,48.4h0M384.0,48.2h0M383.1,48.4h0M383.7,48.9h0M384.3,47.2h0M384.2,46.2h0M385.0,47.3h0M375.3,43.2h0M374.1,41.8h0M374.1,42.4h0M371.0,50.9h0M371.5,50.5h0M381.1,45.3h0M381.5,44.5h0M380.1,45.7h0M383.0,54.2h0M382.1,53.4h0M383.0,52.8h0M377.5,47.3h0M378.4,47.8h0M377.7,51.9h0M377.8,51.8h0M371.1,56.0h0M364.3,53.7h0M364.1,53.9h0M363.8,53.4h0M362.3,56.6h0M363.4,56.1h0M363.6,57.1h0M371.6,47.1h0M372.1,46.7h0M371.1,46.2h0M375.0,48.2h0M374.6,47.5h0M384.8,49.6h0M385.4,48.5h0M385.2,48.6h0M369.2,45.4h0M368.0,45.4h0M369.2,44.5h0M384.8,51.2h0M385.3,51.8h0M385.4,50.5h0M373.2,51.9h0M373.5,52.1h0M372.7,52.3h0M367.3,50.1h0M368.1,49.7h0M367.8,48.5h0M362.9,52.8h0M362.6,53.4h0M362.7,52.7h0M380.5,48.6h0M381.4,50.5h0M379.5,44.6h0M381.5,45.3h0M386.1,52.6h0M386.0,53.2h0M384.6,52.6h0M365.3,55.7h0M366.4,55.2h0M365.0,56.5h0M370.4,55.9h0M369.5,55.7h0M371.3,56.2h0M373.0,54.0h0M373.0,54.4h0M373.7,53.9h0M380.5,42.9h0M381.0,42.9h0M381.4,43.4h0M373.3,41.7h0M372.9,42.9h0M372.4,42.2h0M360.6,55.6h0M359.7,56.4h0M372.9,60.3h0M373.8,58.7h0M374.6,53.8h0M378.9,52.7h0M378.3,53.3h0M378.3,53.2h0M370.1,50.5h0M369.1,51.1h0M370.3,59.6h0M370.7,58.8h0M372.0,58.8h0M377.1,44.1h0M376.8,44.5h0M384.2,52.9h0M370.7,50.8h0M370.5,50.1h0M381.8,54.5h0M380.2,54.4h0M366.3,47.8h0M366.3,49.7h0M370.5,47.0h0M370.3,47.6h0M371.0,47.0h0M385.4,55.4h0M385.3,55.5h0M363.2,58.7h0M362.8,58.4h0M383.5,57.6h0M383.6,56.6h0M383.8,57.9h0M363.1,50.0h0M362.4,49.5h0M363.6,50.2h0M383.2,51.9h0M382.9,54.4h0M383.0,53.0h0M372.5,42.0h0M372.0,43.7h0M375.8,48.4h0M375.3,47.8h0M376.4,48.5h0M365.5,57.4h0M366.3,56.6h0M366.4,56.5h0M384.5,53.0h0M383.4,52.9h0M384.4,52.2h0M365.3,52.6h0M365.3,52.9h0M364.9,51.5h0M384.3,61.3h0M384.0,60.6h0M370.1,47.3h0M370.4,46.9h0M369.2,46.4h0M385.3,45.4h0M384.1,45.2h0M384.5,45.1h0M381.8,50.6h0M381.7,50.5h0M371.1,45.7h0M370.6,46.4h0M382.1,51.4h0M381.3,52.1h0M367.3,55.0h0M366.7,53.5h0M368.2,54.8h0M385.2,48.7h0M385.2,48.0h0M377.4,50.6h0M371.4,52.9h0M371.4,52.5h0M371.7,52.9h0M367.4,58.3h0M367.6,59.3h0M367.5,58.9h0M375.5,56.0h0M381.3,47.9h0M380.2,46.6h0M380.4,47.4h0M383.9,51.6h0M385.1,52.7h0M368.9,58.2h0M383.5,54.3h0M384.4,54.4h0M383.7,53.5h0M382.2,57.5h0M382.0,57.2h0M383.3,57.7h0M373.3,47.7h0M373.4,46.7h0M373.1,47.8h0M375.6,51.3h0M374.2,51.5h0M360.9,56.2h0M360.2,57.0h0M360.7,57.0h0M377.2,47.6h0M358.8,56.4h0M359.9,55.0h0M360.5,56.4h0M380.8,47.9h0M379.9,48.7h0M380.9,48.1h0M367.3,47.3h0M366.8,48.1h0M377.3,48.9h0M377.4,47.9h0M376.4,47.6h0M385.2,55.3h0M385.6,56.1h0M385.8,54.6h0M374.5,53.7h0M372.7,52.6h0M373.3,58.7h0M372.1,59.2h0M373.0,59.5h0M383.6,47.9h0M382.8,47.7h0M382.7,47.5h0M375.7,46.2h0M376.1,46.0h0M369.2,54.4h0M369.5,54.7h0M386.3,51.6h0M385.1,50.8h0M379.6,45.1h0M380.4,45.4h0M380.1,44.4h0M375.3,49.9h0M375.5,49.9h0M370.7,44.3h0M370.4,45.1h0M371.9,44.6h0M379.1,61.0h0M378.1,60.8h0M377.1,45.3h0M377.7,45.9h0M377.6,46.5h0M385.5,57.9h0M383.9,58.4h0M383.9,58.8h0M377.3,51.2h0M376.4,51.8h0M384.1,54.0h0M383.8,52.6h0M363.7,56.4h0M364.3,57.2h0M375.1,46.5h0M374.8,46.2h0M375.1,46.5h0M375.1,49.6h0M375.1,49.3h0M376.4,49.9h0M382.4,58.4h0M377.6,51.2h0M377.0,49.9h0M376.1,50.7h0M370.9,50.8h0M370.7,51.5h0M367.9,55.5h0M368.7,57.1h0M368.0,56.8h0M385.0,52.3h0M385.0,51.5h0M385.0,52.5h0M380.5,45.3h0M377.5,41.9h0M377.3,42.2h0M377.7,42.6h0M366.1,49.5h0M368.5,48.3h0M367.6,48.5h0M371.4,48.7h0M371.2,48.3h0M371.3,48.8h0M372.3,46.1h0M372.2,46.6h0M372.5,46.0h0M383.6,51.2h0M383.1,50.6h0M384.6,54.5h0M384.1,53.3h0M359.4,51.3h0M359.9,52.1h0M359.3,51.2h0M364.4,59.0h0M364.3,58.3h0M374.1,44.7h0M374.3,44.4h0M367.6,56.6h0M368.0,56.2h0M373.9,47.8h0M373.6,48.1h0M379.6,50.3h0M379.5,50.9h0M370.9,52.6h0M370.1,54.4h0M369.8,54.3h0M384.2,59.0h0M382.9,59.2h0M382.5,57.5h0M383.0,57.4h0M376.3,55.4h0M376.5,54.4h0M376.2,54.1h0M377.3,45.0h0M376.0,44.6h0M376.5,44.7h0M371.4,48.0h0M371.1,48.8h0M370.1,48.7h0M373.8,49.0h0M373.6,48.9h0M372.9,48.1h0M361.9,55.5h0M362.0,53.8h0M384.4,59.5h0M385.2,58.5h0M383.8,59.9h0M378.9,51.4h0M378.9,52.4h0M374.3,53.1h0M376.8,56.4h0M375.5,57.3h0M375.2,56.4h0M379.3,46.6h0M380.1,46.4h0M366.3,49.0h0M366.1,48.9h0M365.8,48.1h0M365.7,56.3h0M365.4,56.0h0M365.4,56.0h0M380.9,47.9h0M381.8,47.9h0M381.5,48.1h0M365.5,53.5h0M364.8,54.4h0M365.6,54.1h0M376.8,45.4h0M376.1,46.2h0M375.8,45.5h0M371.1,56.3h0M363.6,55.2h0M372.9,45.0h0M373.1,44.4h0M378.5,57.8h0M378.1,57.9h0M376.0,58.6h0M375.8,58.3h0M374.9,58.3h0M373.6,45.8h0M373.6,45.2h0M374.0,44.4h0M380.8,55.3h0M379.5,56.1h0M362.9,54.5h0M363.5,54.0h0M362.9,54.7h0M372.1,52.1h0M372.9,50.8h0M369.2,48.0h0M369.3,48.3h0M369.4,48.0h0M376.7,53.1h0M376.5,52.5h0M371.6,54.0h0M373.3,52.9h0M368.0,52.0h0M367.9,52.5h0M368.4,51.9h0M379.6,50.7h0M379.8,50.6h0M372.6,60.8h0M373.4,61.2h0M373.7,61.4h0M377.2,50.4h0M377.4,49.8h0M367.8,48.4h0M366.4,49.0h0M367.6,48.5h0M373.5,46.0h0M374.9,45.8h0M372.2,45.8h0M371.0,54.8h0M374.9,50.7h0M375.4,49.0h0M376.1,49.9h0M381.6,60.5h0M381.2,59.6h0M382.8,60.0h0M363.1,59.8h0M364.3,59.5h0M362.8,59.3h0M360.4,52.5h0M361.2,51.9h0M359.9,52.1h0M374.2,59.0h0M374.3,58.0h0M374.0,59.2h0M377.1,50.8h0M379.7,50.8h0M379.2,52.7h0M380.1,51.2h0M365.8,49.6h0M366.3,49.9h0M367.1,49.1h0M379.3,57.7h0M378.8,58.1h0M366.5,58.4h0M364.7,57.3h0M366.0,57.4h0M379.0,59.4h0M378.8,59.0h0M379.0,59.4h0M382.4,53.8h0M382.7,53.3h0M383.5,54.0h0M368.4,42.8h0M368.7,43.6h0M384.4,59.9h0M384.4,60.3h0M385.7,60.4h0M383.9,60.3h0M385.8,56.9h0M386.8,56.3h0M385.4,57.8h0M383.6,49.3h0M382.3,48.9h0M382.0,49.8h0M383.6,48.0h0M383.5,47.1h0M383.1,48.5h0M360.8,52.2h0M361.8,52.4h0M361.5,52.3h0M376.0,60.6h0M375.3,60.6h0M375.0,60.6h0M374.6,50.6h0M374.5,50.4h0M375.7,59.7h0M375.4,58.8h0M382.9,52.1h0M382.2,53.1h0M380.9,43.5h0M380.1,42.1h0M364.9,53.7h0M365.1,53.2h0M365.8,53.2h0M381.3,59.2h0M381.3,58.7h0M374.9,61.6h0M374.4,61.2h0M371.3,46.5h0M371.6,46.9h0M373.7,54.4h0M378.9,58.7h0M378.8,58.9h0M369.1,59.7h0M370.0,58.6h0M370.0,58.4h0M375.9,59.4h0M376.5,59.2h0M375.4,58.7h0M365.5,52.2h0M382.7,45.1h0M381.7,43.5h0M382.2,52.7h0M382.2,53.0h0M381.9,53.2h0M366.0,48.8h0M365.3,48.4h0M365.9,48.1h0M366.2,54.6h0M365.5,55.4h0M366.3,55.1h0M381.3,55.5h0M381.8,54.7h0M384.2,48.0h0M384.6,48.5h0M384.2,49.1h0M364.7,57.2h0M364.5,56.9h0M364.7,56.4h0M366.6,56.2h0M367.2,55.8h0M367.4,55.6h0M378.7,49.4h0M378.4,50.0h0M379.6,50.8h0M385.1,48.8h0M384.9,48.8h0M386.5,54.8h0M386.8,56.4h0M387.6,55.6h0M381.7,60.4h0M381.8,60.7h0M362.5,58.6h0M362.4,57.5h0M362.6,58.7h0M363.2,52.4h0M362.4,53.7h0M373.3,42.2h0M372.3,42.5h0M371.9,41.4h0M373.4,57.5h0M374.0,56.9h0M371.5,51.5h0M370.9,51.4h0M371.6,51.3h0M377.0,49.6h0M377.0,50.1h0M371.8,54.6h0M372.1,54.4h0M372.9,54.3h0M384.6,46.3h0M384.6,45.8h0M384.3,46.2h0M362.3,54.9h0M362.6,54.7h0M360.4,57.0h0M361.1,57.6h0M361.3,58.3h0M365.0,55.4h0M364.4,56.0h0M382.0,41.6h0M381.8,43.5h0M364.2,55.8h0M363.6,56.8h0M384.4,52.2h0M385.2,51.6h0M384.4,51.2h0M385.1,51.4h0M384.1,52.2h0M365.6,55.2h0M365.1,54.7h0M362.8,58.6h0M363.8,58.2h0M363.4,53.1h0M376.8,48.9h0M376.4,48.1h0M376.7,48.6h0M382.5,57.0h0M382.1,57.7h0M360.6,52.6h0M361.2,53.0h0M360.8,53.3h0M367.7,51.3h0M367.6,50.4h0M367.3,51.4h0M368.5,43.8h0M368.1,43.3h0M368.2,44.7h0M384.1,52.6h0M382.9,53.8h0M380.9,44.9h0M375.0,59.1h0M374.9,58.9h0M375.0,58.3h0M379.5,58.7h0M379.8,58.0h0M381.7,54.8h0M381.3,54.4h0M381.0,54.6h0M366.0,48.7h0M366.4,48.4h0M365.7,47.9h0M367.5,43.4h0M366.9,43.1h0M381.8,45.1h0M382.7,45.3h0M382.7,46.0h0M381.9,44.0h0M382.2,43.5h0M369.5,55.7h0M369.5,56.4h0M370.2,55.9h0M372.8,45.2h0M372.6,44.2h0M373.3,44.3h0M374.4,44.0h0M374.3,45.3h0M380.7,52.8h0M381.5,54.1h0M369.7,49.7h0M369.8,50.8h0M369.7,50.9h0M375.1,48.6h0M377.0,49.7h0M375.8,48.5h0M379.5,52.8h0M379.7,51.7h0M379.4,52.3h0M386.9,52.0h0M386.4,52.0h0M373.2,58.3h0M373.1,57.1h0M369.9,48.6h0M369.7,48.9h0M368.7,48.6h0M376.7,57.8h0M377.1,58.8h0M381.1,59.8h0M381.7,59.3h0M381.9,59.2h0M366.0,50.1h0M386.2,58.4h0M385.3,58.1h0M385.6,58.3h0M369.5,45.3h0M368.7,45.4h0M367.2,45.7h0M382.8,48.3h0M382.5,48.9h0M381.5,46.8h0M383.0,47.0h0M381.9,59.7h0M380.6,53.2h0M381.2,51.8h0M381.7,52.5h0M360.3,57.2h0M382.4,52.7h0M383.4,53.1h0M382.2,54.3h0M370.3,52.4h0M370.9,52.8h0M370.7,52.6h0M371.3,53.5h0M369.7,53.3h0M376.2,59.3h0M376.0,59.5h0M376.0,58.4h0M385.9,47.4h0M386.0,47.3h0M376.8,57.3h0M377.7,58.9h0M377.3,58.6h0M374.6,50.8h0M374.4,50.2h0M374.0,50.6h0M368.9,55.0h0M368.6,54.3h0M368.4,54.9h0M371.1,54.0h0M371.8,54.4h0M371.9,53.3h0M369.7,57.1h0M370.3,56.2h0M369.7,57.5h0M372.8,56.1h0M372.6,56.4h0M371.5,58.7h0M371.5,57.5h0M371.7,57.5h0M367.9,50.3h0M368.1,50.4h0M367.0,50.7h0M383.7,46.6h0M384.0,46.9h0M378.3,56.6h0M378.0,56.8h0M371.9,52.4h0M372.1,52.2h0M382.9,50.6h0M361.6,51.7h0M361.7,51.6h0M362.8,55.4h0M362.0,55.1h0M371.5,52.6h0M370.6,52.6h0M371.5,52.0h0M383.8,61.0h0M383.5,60.8h0M383.7,61.1h0M370.9,55.3h0M371.7,55.2h0M374.6,45.0h0M374.3,43.5h0M371.7,59.0h0M372.3,59.3h0M371.3,59.0h0M383.6,57.2h0M382.8,58.9h0M384.1,58.4h0M375.4,56.7h0M376.9,56.4h0M374.1,50.1h0M374.7,43.8h0M374.8,43.6h0M377.1,51.1h0M377.8,50.1h0M378.3,50.4h0M376.6,45.1h0M381.0,49.8h0M382.6,50.5h0M381.7,49.4h0M377.6,50.8h0M378.9,52.4h0M378.0,52.0h0M368.7,43.0h0M369.7,41.9h0M381.4,59.3h0M381.5,58.4h0M380.8,59.0h0M363.4,57.8h0M363.1,57.4h0M370.3,42.0h0M370.7,43.1h0M370.7,44.1h0M362.6,57.8h0M362.3,57.9h0M362.4,58.1h0M372.7,45.2h0M373.6,44.6h0M380.1,50.1h0M380.0,50.5h0M380.2,50.4h0M377.2,53.8h0M378.0,53.0h0M369.6,49.7h0M370.0,47.7h0M369.3,48.7h0M373.3,60.3h0M382.4,48.2h0M382.1,47.4h0M364.4,47.0h0M364.6,48.7h0M373.9,54.1h0M374.1,53.9h0M373.2,47.8h0M380.9,47.4h0M381.4,46.4h0M372.4,42.4h0M372.0,42.1h0M376.9,52.4h0M378.4,51.0h0M377.9,50.5h0M379.8,53.1h0M381.4,54.9h0M381.3,53.6h0M378.3,49.4h0M377.7,49.8h0M378.2,49.5h0M371.9,59.0h0M383.5,45.8h0M384.5,45.9h0M377.9,53.7h0M376.6,53.9h0M381.9,53.6h0M363.4,52.0h0M362.5,52.8h0M363.4,51.9h0M374.2,45.8h0M374.3,45.7h0M374.2,44.8h0M373.2,55.6h0M373.3,55.0h0M380.7,53.6h0M385.6,55.0h0M385.6,55.4h0M385.9,55.1h0M385.8,53.0h0M381.7,61.1h0M382.0,60.6h0M382.0,47.7h0M382.0,46.4h0M381.7,47.3h0M372.9,43.4h0M373.3,42.8h0M384.8,45.6h0M384.0,46.6h0M384.9,45.9h0M380.4,55.1h0M379.0,55.9h0M379.4,55.5h0M371.7,48.3h0M371.1,48.7h0M364.1,58.0h0M362.8,58.0h0M363.7,57.4h0M366.9,50.3h0M367.0,50.1h0M363.3,55.8h0M363.7,56.7h0M363.5,56.0h0M379.3,47.5h0M379.5,48.7h0M380.1,49.0h0M364.0,49.9h0M364.8,50.8h0M385.8,51.5h0M385.4,52.5h0M382.6,53.6h0M381.8,53.4h0M381.3,54.2h0M362.7,57.7h0M374.2,41.6h0M379.1,59.4h0M378.7,59.8h0M380.2,56.5h0M380.1,56.7h0M380.3,56.3h0M373.8,56.9h0M374.3,56.9h0M374.2,57.4h0M371.3,59.2h0M371.4,59.1h0M371.7,60.3h0M385.5,56.5h0M385.9,54.9h0M384.5,56.0h0M364.2,52.0h0M363.6,51.6h0M362.9,54.2h0M363.3,54.0h0M374.3,46.8h0M373.7,46.6h0M379.6,51.5h0M379.8,51.6h0M379.7,51.9h0M381.7,50.1h0M380.7,51.9h0M381.3,52.6h0M383.0,55.3h0M383.9,55.9h0M384.1,55.9h0M366.1,50.7h0M365.8,50.0h0M365.8,54.1h0M365.6,54.1h0M362.9,55.4h0M371.0,41.7h0M370.4,41.1h0M379.9,48.2h0M381.4,47.6h0M371.9,55.1h0M372.2,54.5h0M370.9,54.2h0M371.5,53.7h0M372.3,54.3h0M363.1,54.0h0M363.5,52.5h0M379.4,52.3h0M379.8,54.2h0M380.5,53.0h0M364.9,56.3h0M365.3,56.2h0M371.2,53.9h0M371.1,53.6h0M370.4,53.3h0M373.2,51.5h0M374.4,52.0h0M364.8,60.3h0M364.2,59.4h0M382.2,43.3h0M381.1,43.1h0M382.0,41.7h0M365.9,58.4h0M365.9,58.0h0M365.0,58.2h0M383.4,43.7h0M382.5,43.1h0M380.4,44.1h0M377.9,53.4h0M380.4,53.5h0M378.1,53.5h0M382.7,46.9h0M383.6,48.2h0M383.7,47.7h0M370.8,42.4h0M369.8,42.3h0M370.5,42.2h0M364.0,55.6h0M363.6,55.3h0M364.3,55.6h0M374.4,58.2h0M377.5,45.2h0M377.5,45.1h0M377.4,45.6h0M366.6,54.5h0M365.9,54.9h0M366.1,55.6h0M383.5,59.2h0M383.7,59.8h0M376.7,44.1h0M378.4,42.7h0M376.8,42.8h0M365.1,54.0h0M385.6,58.1h0M385.8,59.3h0M384.9,59.1h0M382.6,51.9h0M381.8,51.8h0M382.4,51.0h0M369.9,48.2h0M387.0,51.3h0M386.9,51.8h0M387.2,51.9h0M382.6,55.9h0M383.3,55.8h0M382.3,57.1h0M370.5,38.0h0M371.8,32.5h0M373.8,36.0h0M372.5,36.5h0M373.7,34.2h0M369.7,37.1h0M371.3,40.4h0M371.6,38.1h0M369.5,35.3h0M371.0,33.5h0M370.0,33.4h0M372.0,33.9h0M371.3,33.8h0M370.2,38.1h0M370.6,40.7h0M371.8,32.0h0M372.1,37.7h0M371.5,38.4h0M370.8,42.2h0M372.5,38.6h0M370.8,36.2h0M369.5,37.3h0M371.0,40.8h0M373.1,37.8h0M371.1,37.7h0M372.3,40.2h0M370.5,38.2h0M368.8,37.5h0M372.0,34.8h0M370.0,37.0h0M371.1,38.9h0M371.6,34.5h0M370.4,35.1h0M372.4,36.0h0M370.1,39.0h0M371.9,34.7h0M372.5,34.9h0M372.0,32.7h0M370.9,40.5h0M372.3,34.7h0M370.6,40.8h0M371.9,35.8h0M372.5,36.1h0M369.4,39.3h0M370.2,34.0h0M372.1,39.8h0M370.8,39.0h0M372.1,39.9h0M371.6,33.2h0M372.4,37.9h0M372.0,35.5h0M372.4,33.0h0M373.4,36.8h0M370.9,39.3h0M372.5,38.9h0M369.9,39.7h0M370.3,34.3h0M369.5,34.8h0M371.3,32.3h0M371.1,34.1h0M372.5,33.1h0M372.7,35.5h0M369.5,37.1h0M371.9,32.8h0M370.5,36.7h0M371.1,39.8h0M369.5,39.3h0M372.2,36.7h0M369.7,35.8h0M371.5,34.3h0M370.9,37.6h0M372.5,35.0h0M372.8,40.1h0M370.7,37.8h0M369.5,38.3h0M370.1,38.0h0M369.7,35.8h0M370.2,38.5h0M371.2,36.7h0M372.7,40.0h0M373.3,37.6h0M371.3,41.6h0M372.2,40.3h0M372.4,38.4h0M371.3,39.9h0M372.7,33.9h0M370.9,36.0h0M382.8,39.6h0M378.8,38.4h0M381.1,36.0h0M383.0,35.6h0M383.4,36.4h0M383.1,35.3h0M381.6,36.1h0M381.6,42.6h0M381.8,41.5h0M381.1,36.0h0M382.2,42.3h0M381.3,37.9h0M380.5,36.2h0M383.5,34.6h0M381.8,41.5h0M381.2,37.1h0M382.2,37.8h0M381.6,43.8h0M380.4,38.0h0M379.3,35.3h0M380.9,41.7h0M379.5,37.5h0M381.9,33.9h0M381.5,40.0h0M379.6,40.2h0M379.6,35.7h0M382.1,34.2h0M379.6,39.6h0M379.1,37.5h0M382.5,34.5h0M380.7,40.9h0M380.1,40.1h0M378.5,36.5h0M380.6,43.6h0M382.6,35.4h0M378.5,38.5h0M382.1,36.1h0M380.4,34.0h0M382.0,42.9h0M382.5,37.5h0M379.6,37.9h0M379.7,35.8h0M379.9,38.8h0M383.6,38.4h0M380.0,36.5h0M380.9,35.4h0M380.4,41.6h0M381.0,42.6h0M381.5,34.7h0M381.7,42.7h0M381.4,37.1h0M379.6,40.3h0M381.3,37.7h0M379.7,36.4h0M379.4,35.1h0M380.5,35.4h0M381.2,34.3h0M380.5,41.7h0M381.8,34.3h0M379.8,37.9h0M380.0,40.5h0M379.9,34.6h0M381.1,35.4h0M383.9,40.8h0M383.1,35.2h0M378.3,40.4h0M382.5,37.4h0M380.8,35.5h0M381.8,34.8h0M383.1,35.5h0M382.0,39.0h0M378.8,37.8h0M383.5,39.9h0M379.9,40.8h0M380.4,38.4h0M382.7,37.3h0M380.7,36.0h0M380.6,36.0h0M383.2,41.4h0M379.1,39.8h0M382.5,38.7h0M381.2,33.4h0M379.0,39.9h0M381.9,38.6h0M380.0,41.4h0M380.5,33.9h0M380.8,39.9h0M382.1,40.2h0M380.4,43.1h0M382.3,34.5h0M379.8,38.0h0M383.2,40.5h0M380.2,33.2h0M379.2,41.7h0M382.8,35.2h0M380.8,35.9h0M382.6,36.5h0M380.3,34.0h0M383.0,36.2h0M382.4,35.3h0M380.4,40.8h0M380.3,38.4h0M380.6,38.4h0M380.3,40.9h0M379.9,38.4h0M383.1,42.7h0M379.8,42.1h0M381.8,33.5h0M380.4,41.0h0M382.6,38.5h0M379.5,37.5h0M379.9,34.8h0M383.8,36.6h0M381.6,39.4h0M395.6,70.4h0M393.8,86.1h0M396.1,72.4h0M400.0,68.9h0M398.6,75.9h0M395.2,55.2h0M391.4,61.7h0M395.7,60.0h0M396.2,59.7h0M397.1,60.2h0M390.6,81.2h0M391.3,52.1h0M391.5,60.9h0M400.0,59.4h0M397.1,84.5h0M402.2,69.3h0M390.1,81.0h0M385.8,74.8h0M386.0,62.6h0M401.5,73.4h0M388.2,56.1h0M394.8,72.0h0M388.4,65.1h0M394.9,64.6h0M386.5,62.2h0M403.0,67.5h0M400.5,81.0h0M393.4,71.7h0M399.9,82.4h0M393.7,63.4h0M392.8,63.5h0M402.7,68.7h0M390.5,77.3h0M391.5,82.7h0M396.9,71.8h0M395.8,61.0h0M399.2,58.3h0M401.0,67.5h0M398.2,82.0h0M390.3,81.8h0M390.1,58.6h0M398.3,69.2h0M399.7,60.5h0M391.8,68.1h0M386.7,65.3h0M393.6,81.5h0M385.3,70.2h0M400.4,82.8h0M395.7,84.6h0M389.6,71.2h0M391.6,64.5h0M400.8,67.4h0M391.8,76.3h0M389.1,54.6h0M389.9,56.5h0M395.4,73.6h0M394.8,82.6h0M390.6,59.5h0M398.8,80.1h0M393.4,51.0h0M395.5,80.8h0M389.1,61.1h0M396.5,75.1h0M396.9,56.8h0M394.2,83.1h0M397.1,55.0h0M392.7,71.3h0M398.3,62.2h0M396.7,67.9h0M399.4,70.8h0M395.7,78.0h0M393.2,76.6h0M388.7,54.7h0M394.7,80.0h0M384.1,70.1h0M391.2,52.5h0M398.9,80.5h0M400.1,65.2h0M401.1,69.0h0M392.7,58.2h0M387.8,62.3h0M397.5,86.1h0M383.5,71.9h0M390.5,59.2h0M401.6,58.1h0M385.0,69.8h0M399.7,82.3h0M395.8,60.6h0M398.7,68.5h0M392.6,64.3h0M391.9,62.7h0M392.1,80.6h0M387.5,76.4h0M394.6,74.8h0M401.4,67.9h0M391.6,80.2h0M391.9,85.4h0M389.2,75.9h0M392.6,80.5h0M397.3,54.9h0M399.6,86.1h0M399.0,73.2h0M394.5,83.6h0M397.4,57.3h0M398.1,62.0h0M386.9,73.2h0M391.2,75.1h0M396.3,60.9h0M393.6,77.6h0M398.3,68.6h0M392.1,67.8h0M398.3,64.2h0M385.3,63.9h0M396.5,83.0h0M394.8,62.2h0M389.0,73.7h0M396.4,60.8h0M385.9,67.3h0M396.8,82.5h0M400.7,74.1h0M400.5,69.5h0M395.5,74.3h0M388.5,67.7h0M395.6,68.1h0M391.4,78.8h0M401.5,65.2h0M396.4,78.6h0M396.3,54.6h0M391.3,55.2h0M389.2,66.4h0M392.8,80.3h0M397.9,57.2h0M394.2,57.3h0M400.0,80.8h0M394.3,58.7h0M396.0,67.7h0M390.4,65.1h0M385.8,65.0h0M394.9,60.9h0M386.8,64.1h0M391.9,73.5h0M397.8,74.2h0M389.9,73.2h0M398.4,81.8h0M386.5,70.5h0M390.7,63.2h0M390.5,73.6h0M401.5,73.5h0M395.8,70.5h0M393.7,67.4h0M398.9,75.8h0M390.2,69.8h0M391.4,74.4h0M390.0,82.6h0M397.7,80.7h0M396.7,82.9h0M397.8,68.7h0M399.4,78.0h0M399.0,77.6h0M386.9,63.2h0M386.3,65.3h0M385.9,72.8h0M402.3,70.5h0M398.6,85.2h0M400.9,56.9h0M391.6,55.3h0M396.5,81.1h0M392.6,81.7h0M399.1,67.2h0M394.8,70.2h0M396.3,53.4h0M395.1,68.0h0M393.1,78.8h0M389.5,78.4h0M392.5,76.9h0M399.7,78.9h0M397.3,69.0h0M384.6,69.9h0M390.8,55.7h0M399.3,79.7h0M397.9,67.0h0M399.7,56.0h0M389.2,77.4h0M403.2,68.1h0M385.7,63.8h0M399.0,80.8h0M390.5,54.0h0M398.2,77.5h0M395.0,56.6h0M392.9,79.4h0M399.9,76.3h0M398.1,67.0h0M384.1,68.0h0M391.4,77.9h0M389.9,76.5h0M398.1,66.2h0M401.3,69.0h0M402.8,70.9h0M399.9,71.8h0M398.1,60.3h0M391.4,53.3h0M385.5,67.3h0M394.6,82.7h0M402.3,61.8h0M387.6,75.1h0M395.8,86.9h0M392.8,73.5h0M398.7,63.9h0M393.5,79.6h0M392.9,80.1h0M392.2,62.0h0M396.8,73.0h0M395.6,52.2h0M391.2,64.8h0M390.4,65.8h0M391.7,77.6h0M394.9,58.4h0M386.4,73.1h0M395.6,82.9h0M396.5,64.8h0M397.6,70.3h0M400.7,57.8h0M391.6,71.0h0M392.8,54.3h0M400.3,83.7h0M385.6,66.7h0M393.6,57.6h0M395.8,78.8h0M392.8,72.3h0M393.1,53.7h0M387.2,57.8h0M395.4,74.4h0M392.3,81.7h0M392.6,70.5h0M390.8,81.0h0M394.7,68.1h0M391.0,74.0h0M389.9,55.4h0M397.7,71.3h0M396.4,83.5h0M389.8,62.6h0M398.1,74.9h0M399.9,59.3h0M391.5,79.0h0M395.1,64.5h0M398.8,74.1h0M393.2,69.7h0M390.6,71.4h0M395.7,82.9h0M403.3,67.3h0M397.9,68.8h0M399.2,80.5h0M385.8,62.0h0M396.5,79.5h0M394.5,53.6h0M393.8,72.7h0M397.7,82.1h0M396.2,83.3h0M389.0,70.1h0M395.6,53.1h0M397.0,57.1h0M386.0,63.7h0M398.2,78.1h0M396.8,66.4h0M388.0,62.9h0M394.2,76.0h0M400.8,65.7h0M394.5,72.0h0M388.0,72.0h0M388.8,81.0h0M384.4,67.8h0M400.0,68.6h0M391.5,81.6h0M401.9,76.2h0M387.5,57.7h0M384.1,73.8h0M388.3,58.0h0M393.5,85.5h0M393.5,76.9h0M397.2,63.6h0M399.0,66.2h0M399.3,61.9h0M400.9,60.2h0M400.5,78.2h0M387.4,69.2h0M396.5,56.2h0M390.7,67.3h0M390.0,79.7h0M397.8,87.7h0M396.6,80.4h0M394.4,70.8h0M400.5,80.0h0M387.6,65.2h0M393.9,51.1h0M401.2,68.3h0M386.3,66.0h0M384.8,65.6h0M387.4,71.3h0M394.2,67.8h0M393.8,61.6h0M394.4,51.4h0M389.5,72.4h0M389.7,60.9h0M396.0,78.5h0M401.7,62.1h0M401.4,67.9h0M399.6,61.1h0M389.2,61.1h0M400.1,76.7h0M389.9,73.0h0M393.9,57.9h0M396.7,85.7h0M398.7,64.0h0M392.4,54.4h0M392.8,78.7h0M388.8,62.2h0M386.7,69.6h0M391.7,79.9h0M387.0,62.9h0M397.8,84.0h0M400.4,55.1h0M392.6,83.3h0M399.4,56.7h0M398.3,85.9h0M391.0,77.0h0M386.3,62.7h0M391.2,81.0h0M392.6,85.7h0M398.7,77.2h0M399.3,66.0h0M390.5,66.2h0M393.7,64.8h0M400.7,82.4h0M386.9,59.5h0M388.3,63.8h0M394.1,58.1h0M395.7,63.1h0M392.7,54.6h0M390.1,75.9h0M398.4,74.0h0M394.5,81.1h0M394.5,85.2h0M393.1,68.2h0M398.5,79.6h0M392.8,59.2h0M387.1,74.2h0M399.7,76.6h0M386.7,74.5h0M395.4,68.4h0M389.2,76.1h0M402.1,62.5h0M387.8,65.0h0M398.0,86.4h0M392.4,79.4h0M389.0,77.9h0M386.6,61.4h0M394.6,75.5h0M395.9,84.6h0M384.4,62.8h0M399.0,84.3h0M388.3,75.5h0M398.8,63.8h0M393.2,56.0h0M391.0,67.3h0M399.4,59.8h0M392.2,64.9h0M396.6,74.3h0M386.2,57.0h0M395.1,59.1h0M398.6,80.8h0M384.8,73.9h0M390.4,80.9h0M395.9,71.7h0M395.6,73.6h0M385.3,71.9h0M393.6,65.1h0M398.4,85.1h0M389.5,77.0h0M384.1,73.9h0M393.7,84.5h0M387.2,77.6h0M397.7,68.2h0M391.0,75.7h0M385.0,68.2h0M394.3,55.4h0M394.6,69.1h0M397.7,71.2h0M389.8,78.0h0M396.0,67.8h0M396.9,87.9h0M391.9,66.1h0M385.4,64.4h0M394.5,68.8h0M394.6,75.7h0M386.2,60.2h0M397.4,77.2h0M400.6,59.2h0M389.9,59.3h0M389.9,77.3h0M399.1,79.2h0M400.4,60.4h0M387.0,66.5h0M398.3,74.4h0M398.2,86.7h0M397.9,70.1h0M399.1,77.7h0M398.4,54.6h0M399.3,81.2h0M393.8,55.4h0M395.4,69.2h0M387.7,58.4h0M395.2,69.9h0M384.7,68.0h0M401.3,63.1h0M397.8,84.8h0M393.8,81.6h0M386.9,68.4h0M393.1,71.1h0M396.2,60.9h0M399.3,86.5h0M399.1,67.1h0M401.7,60.6h0M402.4,68.2h0M395.9,61.1h0M392.6,85.3h0M386.5,71.7h0M391.2,68.8h0M389.2,67.4h0M400.3,74.5h0M394.3,68.4h0M390.3,78.6h0M394.6,57.3h0M390.1,66.5h0M395.0,79.4h0M397.8,62.3h0M395.3,79.4h0M389.5,54.6h0M398.6,72.7h0M392.0,73.4h0M386.7,78.9h0M387.4,65.8h0M388.2,74.6h0M394.1,62.5h0M385.6,63.3h0M386.1,74.3h0M391.8,53.6h0M395.9,58.9h0M396.2,76.4h0M395.5,64.2h0M393.3,71.5h0M398.6,86.4h0M400.0,82.3h0M401.2,61.2h0M388.5,64.6h0M388.6,62.4h0M387.1,74.0h0M395.1,53.8h0M396.6,83.0h0M384.5,66.7h0M396.3,67.1h0M399.6,67.0h0M402.0,63.6h0M401.7,69.1h0M398.8,85.9h0M390.0,79.0h0M397.7,61.6h0M394.6,60.7h0M390.9,77.5h0M399.0,87.4h0M396.9,61.7h0M395.9,74.4h0M399.0,78.5h0M385.1,62.5h0M393.7,51.0h0M392.3,64.1h0M388.2,72.8h0M400.1,77.3h0M387.2,58.2h0M393.8,72.7h0M385.8,70.1h0M386.8,57.7h0M384.4,71.0h0M400.0,67.1h0M395.9,54.9h0M383.7,67.8h0M384.6,68.9h0M394.0,83.8h0M393.6,68.4h0M394.8,73.1h0M395.1,60.0h0M399.2,86.0h0M399.0,72.0h0M398.5,70.9h0M395.6,69.4h0M397.1,56.7h0M400.6,77.8h0M386.6,76.6h0M397.2,63.7h0M390.4,63.4h0M400.6,73.1h0M389.5,57.6h0M391.4,63.5h0M402.5,72.7h0M386.6,77.1h0M388.4,72.2h0M396.3,54.8h0M401.0,68.3h0M385.2,73.1h0M399.9,80.3h0M401.0,59.2h0M387.8,78.1h0M390.6,82.7h0M391.7,71.3h0M395.6,58.7h0M397.1,62.4h0M399.3,84.9h0M391.6,79.1h0M386.9,61.3h0M395.2,67.5h0M389.0,60.7h0M399.0,71.2h0M394.8,81.4h0M400.0,76.5h0M393.5,70.8h0M396.2,61.5h0M392.8,66.2h0M398.2,62.0h0M401.9,69.8h0M387.8,56.6h0M386.2,73.1h0M388.8,56.2h0M394.8,54.6h0M391.0,82.5h0M384.8,70.5h0M394.8,83.2h0M401.6,68.1h0M398.2,77.9h0M400.5,71.7h0M400.5,70.2h0M392.0,69.6h0M386.4,75.3h0M401.6,77.6h0M388.7,61.4h0M399.6,76.6h0M394.7,77.9h0M401.3,81.0h0M393.4,61.0h0M392.2,63.5h0M389.9,76.5h0M390.0,69.1h0M386.6,72.9h0M390.5,71.0h0M393.5,57.1h0M395.8,53.9h0M386.1,66.3h0M396.3,79.0h0M400.6,69.7h0M384.7,64.5h0M397.1,73.5h0M395.8,61.7h0M391.5,63.0h0M383.6,63.9h0M400.9,73.1h0M392.5,71.0h0M393.5,57.2h0M389.5,78.4h0M392.2,71.7h0M397.5,86.2h0M388.2,63.5h0M393.8,58.4h0M400.2,69.0h0M400.4,58.9h0M397.4,79.0h0M398.2,68.6h0M395.8,87.5h0M395.6,81.1h0M390.8,61.4h0M390.6,68.8h0M389.0,69.8h0M402.0,67.5h0M391.3,79.1h0M398.5,67.9h0M393.0,71.6h0M391.1,56.5h0M390.1,75.9h0M400.2,75.8h0M389.0,76.7h0M394.6,75.7h0M400.7,78.3h0M387.2,73.6h0M397.5,82.4h0M398.4,56.8h0M398.7,80.2h0M394.7,83.3h0M399.7,69.7h0M392.8,74.2h0M388.9,69.6h0M396.9,74.1h0M391.8,77.7h0M386.8,76.5h0M395.4,54.4h0M395.0,75.8h0M399.4,84.6h0M389.3,64.5h0M401.0,65.3h0M395.0,86.1h0M390.6,82.4h0M394.3,63.8h0M402.6,66.9h0M398.3,66.4h0M400.6,58.7h0M394.9,60.9h0M400.8,61.2h0M387.8,77.7h0M385.6,66.1h0M399.9,80.6h0M393.4,68.3h0M385.9,58.5h0M387.3,72.1h0M384.6,73.3h0M400.1,73.4h0M389.4,82.4h0M388.4,65.1h0M400.5,77.6h0M393.2,65.5h0M392.2,77.1h0M391.2,69.6h0M390.3,53.7h0M386.0,67.5h0M392.1,53.6h0M389.8,53.5h0M394.7,57.0h0M395.0,71.2h0M397.1,61.1h0M395.2,80.8h0M391.9,60.7h0M400.7,68.9h0M395.9,82.5h0M402.2,70.1h0M393.6,51.8h0M385.0,70.6h0M385.7,68.9h0M393.2,59.6h0M398.2,52.3h0M396.9,74.7h0M401.2,65.2h0M399.5,68.4h0M394.1,59.2h0M385.0,61.9h0M340.7,61.5h0M340.0,61.7h0M352.0,76.2h0M357.4,79.0h0M354.6,55.8h0M344.7,66.9h0M356.4,87.8h0M339.9,61.5h0M354.3,77.4h0M355.2,77.5h0M345.8,68.3h0M341.4,58.6h0M345.6,70.6h0M340.0,70.7h0M339.2,70.8h0M343.5,66.9h0M342.2,66.1h0M342.6,65.0h0M335.1,59.1h0M365.2,71.8h0M366.4,71.5h0M359.4,73.2h0M357.2,63.0h0M357.6,63.7h0M349.8,52.2h0M341.9,56.2h0M343.1,72.6h0M352.7,66.1h0M353.2,66.2h0M363.9,65.8h0M363.2,65.2h0M345.4,59.0h0M339.9,53.2h0M340.0,53.6h0M355.4,56.3h0M347.2,66.1h0M347.3,65.4h0M362.7,64.5h0M342.8,58.5h0M340.6,58.0h0M340.9,73.4h0M338.5,66.7h0M337.8,66.2h0M355.1,69.7h0M355.2,70.3h0M336.1,64.9h0M336.6,66.5h0M336.3,65.1h0M348.3,58.4h0M348.6,60.1h0M355.6,70.2h0M354.7,70.5h0M366.2,66.7h0M365.4,66.9h0M361.3,61.3h0M361.5,59.9h0M361.6,60.7h0M343.0,78.6h0M336.1,53.9h0M359.9,71.0h0M355.7,69.6h0M356.7,71.8h0M342.7,59.1h0M343.1,58.6h0M341.9,60.8h0M342.8,62.3h0M342.2,63.3h0M336.8,64.7h0M336.0,63.1h0M353.6,79.3h0M347.7,69.4h0M360.3,77.8h0M361.4,77.7h0M353.2,76.3h0M351.3,62.6h0M350.8,63.3h0M353.9,65.7h0M353.3,65.6h0M353.7,66.1h0M357.6,69.5h0M358.0,69.4h0M357.4,70.0h0M365.8,66.2h0M351.8,76.0h0M351.6,73.9h0M351.7,73.0h0M351.5,73.3h0M349.3,81.4h0M348.4,80.7h0M337.3,60.2h0M339.3,59.8h0M353.9,72.1h0M353.6,72.3h0M364.4,58.6h0M362.0,61.0h0M363.0,61.6h0M358.3,56.2h0M353.5,58.2h0M353.0,57.6h0M346.8,63.7h0M351.1,65.9h0M349.2,60.3h0M361.1,77.3h0M362.3,77.3h0M351.6,66.9h0M361.0,67.6h0M355.3,75.2h0M335.4,67.8h0M360.6,62.0h0M359.9,61.8h0M339.5,62.5h0M354.7,78.7h0M336.3,63.6h0M359.3,94.5h0M336.1,60.5h0M336.4,61.8h0M337.1,70.7h0M366.4,63.6h0M360.7,59.9h0M366.5,70.4h0M354.9,64.2h0M351.6,70.5h0M360.5,58.5h0M348.7,70.3h0M348.3,70.2h0M358.2,79.4h0M352.8,64.3h0M352.3,64.7h0M355.4,66.8h0M355.7,66.1h0M360.2,63.0h0M357.6,79.9h0M353.9,68.6h0M336.1,59.1h0M339.1,50.4h0M355.4,88.9h0M359.2,55.2h0M359.0,56.8h0M358.9,56.6h0M361.9,69.4h0M364.0,59.8h0M358.8,84.3h0M362.1,66.8h0M362.4,57.9h0M363.6,58.9h0M338.1,62.3h0M339.8,63.3h0M366.6,65.4h0M366.0,65.1h0M357.1,90.1h0M352.2,72.5h0M349.8,73.3h0M362.7,72.8h0M363.0,74.2h0M356.9,93.1h0M360.6,64.6h0M361.1,64.2h0M361.4,64.3h0M343.1,64.0h0M343.6,64.6h0M355.1,59.4h0M354.0,59.4h0M356.1,63.1h0M356.1,64.8h0M362.9,61.8h0M343.4,79.3h0M341.9,61.3h0M343.6,69.7h0M344.2,59.1h0M343.9,59.8h0M353.1,62.3h0M348.6,66.2h0M348.5,66.6h0M363.6,65.1h0M362.7,66.4h0M352.0,73.9h0M337.1,62.0h0M350.8,63.5h0M352.5,62.8h0M353.4,55.4h0M341.4,60.8h0M340.5,61.3h0M340.9,60.6h0M361.9,56.1h0M361.5,56.7h0M354.7,71.1h0M342.9,53.5h0M360.5,70.5h0M359.0,70.5h0M362.5,74.0h0M363.1,73.9h0M363.7,73.6h0M353.0,85.9h0M344.8,74.8h0M338.0,63.7h0M357.4,93.6h0M343.7,78.9h0M338.8,72.1h0M346.2,57.1h0M338.6,64.6h0M339.4,64.0h0M355.9,81.2h0M364.7,60.7h0M359.6,72.9h0M358.8,72.0h0M360.1,72.3h0M343.7,68.5h0M358.7,92.3h0M359.1,93.0h0M344.5,52.1h0M344.9,52.1h0M356.1,69.4h0M355.2,70.0h0M355.3,68.9h0M350.5,80.9h0M336.4,62.8h0M363.1,73.0h0M363.9,71.8h0M358.0,74.4h0M363.0,60.5h0M363.7,59.9h0M352.0,73.4h0M341.5,71.1h0M344.2,69.5h0M345.1,69.6h0M345.7,69.3h0M357.7,65.5h0M357.2,61.8h0M353.7,76.8h0M353.9,77.9h0M335.4,77.7h0M358.6,87.2h0M353.0,62.2h0M353.0,62.5h0M351.5,72.4h0M351.1,72.4h0M361.7,73.6h0M353.4,57.4h0M359.0,58.1h0M361.2,62.4h0M349.0,56.0h0M342.2,58.7h0M342.0,59.3h0M345.4,66.7h0M346.3,67.0h0M342.1,57.3h0M342.5,57.1h0M352.1,52.5h0M352.4,52.8h0M360.9,59.2h0M362.6,58.9h0M361.5,58.5h0M360.4,58.5h0M360.2,57.5h0M359.0,95.3h0M344.4,62.4h0M344.8,63.5h0M351.8,69.9h0M353.9,69.6h0M355.1,82.6h0M357.6,64.3h0M360.3,84.7h0M361.3,85.0h0M357.1,63.5h0M343.1,58.0h0M347.1,76.6h0M346.1,76.3h0M339.2,65.1h0M338.6,64.1h0M354.7,77.2h0M349.4,61.0h0M339.4,73.7h0M354.2,59.4h0M354.5,59.4h0M354.8,61.3h0M360.6,68.8h0M361.0,67.6h0M352.7,80.0h0M358.5,58.8h0M357.5,57.6h0M359.5,60.6h0M360.5,60.0h0M359.7,59.3h0M353.5,76.8h0M340.8,69.5h0M341.9,69.1h0M354.3,54.4h0M353.5,73.8h0M351.2,85.7h0M336.5,68.6h0M359.6,61.7h0M339.8,68.0h0M358.8,77.1h0M359.6,85.9h0M342.3,55.2h0M341.4,55.8h0M341.6,55.4h0M354.2,54.2h0M356.5,89.9h0M356.5,89.8h0M347.4,63.5h0M339.2,53.9h0M340.1,54.2h0M354.4,75.2h0M337.6,63.9h0M338.1,63.9h0M339.4,63.7h0M351.3,66.5h0M349.9,67.5h0M354.2,60.8h0M360.1,70.0h0M344.1,52.4h0M349.2,71.5h0M359.0,82.6h0M365.4,62.1h0M365.1,62.1h0M338.8,56.4h0M359.9,54.9h0M352.4,66.6h0M352.3,67.2h0M359.6,61.6h0M359.2,58.4h0M335.6,65.0h0M336.6,64.9h0M339.7,54.8h0M339.7,56.0h0M360.7,79.9h0M354.9,59.7h0M356.1,60.3h0M356.7,76.8h0M352.0,54.0h0M363.9,60.4h0M363.1,61.8h0M355.0,75.7h0M354.8,76.7h0M356.5,89.2h0M361.2,73.3h0M357.6,64.0h0M357.4,83.4h0M357.8,83.8h0M358.0,96.3h0M347.2,71.4h0M343.4,62.5h0M343.8,63.2h0M360.6,71.8h0M337.7,57.4h0M337.5,57.4h0M337.2,57.1h0M354.4,63.7h0M344.4,60.5h0M349.0,72.6h0M340.4,64.3h0M350.4,59.4h0M351.9,58.8h0M341.2,66.0h0M356.0,66.3h0M339.1,70.3h0M354.9,96.0h0M361.2,69.2h0M363.0,71.9h0M363.8,70.9h0M363.6,70.5h0M355.5,68.4h0M356.6,67.2h0M358.5,80.5h0M361.0,57.7h0M352.8,71.1h0M352.5,71.9h0M362.5,72.7h0M344.0,53.2h0M343.7,53.1h0M343.2,65.8h0M356.2,62.2h0M339.3,63.8h0M339.2,65.0h0M339.9,61.7h0M339.7,62.2h0M360.4,79.4h0M359.9,78.4h0M348.3,54.0h0M358.9,88.6h0M358.6,78.1h0M354.3,71.0h0M344.6,64.1h0M344.4,64.2h0M352.2,84.7h0M351.0,60.9h0M353.0,57.4h0M352.5,55.8h0M351.8,54.3h0M362.4,63.7h0M337.3,63.3h0M337.2,63.6h0M347.6,59.9h0M347.3,59.1h0M358.7,78.4h0M355.4,55.2h0M355.8,55.6h0M356.9,55.7h0M363.5,62.0h0M343.2,52.4h0M342.5,52.1h0M363.8,65.0h0M364.2,64.9h0M363.3,63.7h0M352.5,64.6h0M341.7,72.1h0M347.7,51.9h0M348.2,52.3h0M357.4,83.9h0M336.5,55.5h0M347.0,76.8h0M344.5,71.2h0M344.1,63.6h0M356.5,65.0h0M356.6,65.0h0M346.9,53.6h0M346.4,54.2h0M351.8,55.3h0M351.6,82.6h0M350.8,81.8h0M355.4,82.9h0M367.5,68.2h0M366.8,67.6h0M365.9,67.7h0M354.5,92.3h0M346.2,65.1h0M345.9,65.4h0M348.0,72.8h0M346.8,72.7h0M353.1,75.1h0M345.6,59.0h0M362.2,70.6h0M340.7,55.3h0M358.8,63.2h0M353.3,72.8h0M353.6,73.1h0M349.2,66.8h0M364.9,61.6h0M364.8,62.0h0M365.1,61.4h0M357.0,68.6h0M336.9,66.3h0M338.1,66.4h0M338.5,70.5h0M339.2,69.4h0M350.9,70.2h0M351.3,69.9h0M339.9,53.3h0M339.4,73.0h0M346.1,70.3h0M357.8,92.0h0M361.4,72.0h0M353.3,62.5h0M353.1,61.7h0M362.8,68.1h0M342.2,72.8h0M364.6,71.2h0M337.7,56.5h0M356.8,82.1h0M347.5,62.0h0M343.2,64.6h0M343.4,64.9h0M362.5,74.3h0M363.0,73.7h0M363.6,66.1h0M363.6,59.6h0M363.6,60.8h0M339.8,53.7h0M353.6,90.3h0M354.0,90.9h0M359.2,72.6h0M359.9,81.4h0M355.8,65.5h0M340.3,70.2h0M340.7,69.5h0M341.3,67.3h0M341.2,67.2h0M336.3,58.5h0M354.5,85.0h0M360.4,59.6h0M360.8,60.2h0M356.5,89.7h0M368.2,62.1h0M368.2,62.7h0M368.4,62.2h0M343.1,56.7h0M358.5,94.3h0M348.6,63.7h0M349.0,62.5h0M344.0,57.9h0M344.4,58.2h0M351.5,56.0h0M333.5,75.5h0M358.2,56.9h0M354.5,74.8h0M356.1,94.0h0M360.1,63.0h0M353.8,72.9h0M356.3,82.7h0M356.0,82.6h0M347.3,51.8h0M347.3,51.7h0M347.2,52.0h0M355.5,58.4h0M355.7,58.6h0M363.6,64.8h0M337.9,67.9h0M339.9,68.8h0M356.8,85.9h0M357.6,86.6h0M347.3,53.6h0M347.5,54.6h0M362.3,60.9h0M362.2,60.0h0M361.1,61.8h0M350.2,71.4h0M350.8,72.3h0M347.5,55.0h0M347.2,55.8h0M347.5,56.3h0M357.1,84.2h0M356.6,83.6h0M340.2,70.7h0M341.2,71.7h0M352.5,74.4h0M356.7,55.1h0M357.7,58.9h0M348.7,79.1h0M348.2,56.3h0M358.5,88.4h0M363.5,63.7h0M363.4,63.9h0M353.4,86.5h0M365.1,63.6h0M365.6,63.5h0M365.8,63.3h0M361.6,57.0h0M345.6,67.3h0M345.5,68.6h0M344.7,68.7h0M352.5,64.5h0M352.4,63.7h0M353.0,64.2h0M351.8,71.9h0M351.5,73.7h0M343.0,61.6h0M342.4,62.2h0M354.0,64.3h0M353.8,64.9h0M348.1,73.7h0M335.4,52.5h0M349.2,68.3h0M360.8,62.5h0M341.1,72.1h0M341.2,72.2h0M363.7,73.2h0M349.6,69.0h0M362.0,60.6h0M352.9,69.6h0M351.9,70.6h0M355.9,61.6h0M353.3,83.4h0M354.3,64.0h0M354.2,65.6h0M352.4,79.5h0M353.0,80.1h0M342.7,57.2h0M343.9,57.8h0M343.0,57.8h0M358.5,62.4h0M357.5,61.0h0M358.6,61.5h0M340.7,71.8h0M354.2,87.0h0M353.9,73.9h0M342.8,66.4h0M342.2,65.6h0M360.7,65.3h0M359.9,64.4h0M351.5,69.9h0M337.1,61.0h0M360.0,58.2h0M346.5,77.3h0M348.7,76.6h0M359.3,64.4h0M347.2,53.0h0M354.8,69.7h0M365.9,63.9h0M365.4,64.0h0M354.0,66.7h0M354.3,67.6h0M341.4,60.0h0M340.7,59.2h0M354.7,90.5h0M358.9,78.0h0M351.1,67.8h0M352.1,66.9h0M360.5,78.3h0M357.5,76.0h0M357.4,75.7h0M356.0,60.4h0M352.5,79.6h0M351.3,86.0h0M350.8,84.2h0M351.7,82.8h0M337.5,55.5h0M336.9,55.5h0M349.9,64.0h0M349.2,64.6h0M340.8,60.5h0M340.5,59.1h0M339.8,54.5h0M339.6,54.7h0M339.0,53.7h0M352.2,66.4h0M351.3,65.3h0M350.6,65.6h0M361.2,72.5h0M344.9,58.5h0M344.3,58.8h0M335.8,66.2h0M343.2,65.0h0M341.7,65.6h0M343.5,66.7h0M342.4,67.7h0M345.8,52.5h0M358.6,56.7h0M343.7,69.5h0M343.9,69.9h0M344.0,70.0h0M357.7,74.0h0M347.5,56.4h0M347.4,56.5h0M342.6,59.9h0M341.4,60.1h0M348.4,53.1h0M348.6,51.5h0M356.0,76.2h0M356.2,63.9h0M355.9,63.3h0M342.7,71.0h0M341.6,71.1h0M343.8,77.0h0M364.5,59.0h0M347.8,52.1h0M347.6,52.1h0M357.7,69.7h0M348.3,63.1h0M349.7,63.2h0M347.2,65.7h0M346.0,65.6h0M343.7,62.0h0M344.7,61.8h0M342.1,51.8h0M356.4,68.6h0M338.8,61.6h0M362.2,57.8h0M363.5,66.4h0M362.7,67.1h0M341.2,55.2h0M341.7,55.2h0M361.0,60.1h0M363.2,64.7h0M337.0,62.3h0M337.5,62.7h0M337.1,63.2h0M354.8,73.6h0M355.2,73.0h0M356.1,71.2h0M355.1,59.8h0M355.0,60.1h0M347.0,64.3h0M347.5,64.2h0M355.3,61.9h0M359.1,93.5h0M364.1,61.9h0M364.8,61.6h0M353.8,74.3h0M355.4,63.8h0M355.6,63.6h0M340.5,69.0h0M340.4,69.1h0M337.5,72.5h0M340.7,62.6h0M356.2,79.4h0M353.7,83.0h0M348.8,72.7h0M348.5,72.1h0M348.7,71.8h0M358.2,79.5h0M354.8,71.4h0M365.4,60.5h0M343.1,63.9h0M358.7,67.2h0M355.7,60.7h0M355.5,60.6h0M336.0,54.2h0M351.6,63.2h0M352.3,64.1h0M336.5,71.9h0M344.7,71.6h0M358.5,56.7h0M342.7,54.9h0M341.9,53.3h0M342.1,65.3h0M350.7,72.0h0M360.8,77.5h0M360.3,73.2h0M341.5,54.4h0M347.0,54.4h0M347.3,54.9h0M357.6,74.1h0M357.5,74.2h0M353.4,66.4h0M336.5,69.2h0M353.6,77.6h0M350.5,63.6h0M349.4,64.2h0M354.3,85.9h0M361.7,78.5h0M359.6,58.4h0M365.4,67.9h0M357.9,90.2h0M358.5,90.4h0M350.4,58.0h0M360.1,63.4h0M364.3,72.4h0M347.0,73.8h0M348.0,74.3h0M349.9,60.9h0M350.5,61.6h0M352.1,58.2h0M351.8,58.9h0M353.4,57.7h0M351.2,59.6h0M363.5,63.1h0M363.8,63.2h0M347.4,58.3h0M347.1,57.8h0M336.5,55.5h0M335.0,56.4h0M336.6,69.0h0M337.0,68.5h0M337.3,55.9h0M337.3,55.3h0M358.0,79.4h0M347.1,56.7h0M361.6,83.2h0M354.2,55.6h0M355.5,64.9h0M354.4,63.7h0M355.4,72.4h0M351.0,64.3h0M343.1,66.8h0M345.0,66.5h0M343.6,66.4h0M353.4,64.3h0M347.8,69.2h0M349.6,68.4h0M350.7,60.7h0M339.4,63.7h0M339.9,62.8h0M340.7,64.1h0M338.8,67.8h0M339.7,68.8h0M358.4,59.7h0M353.1,85.7h0M353.9,84.3h0M358.8,67.6h0M358.1,55.9h0M359.1,55.6h0M336.1,72.1h0M347.5,72.2h0M347.3,71.4h0M356.6,81.2h0M359.3,64.5h0M341.8,68.3h0M341.0,56.6h0M339.9,56.6h0M347.5,76.3h0M346.7,76.1h0M344.9,69.8h0M366.2,69.8h0M362.5,74.2h0M355.7,58.8h0M336.1,52.4h0M356.1,75.6h0M338.4,61.9h0M350.3,78.6h0M355.8,84.0h0M357.3,81.4h0M357.5,81.4h0M342.8,70.3h0M347.3,81.4h0M335.6,52.2h0M337.3,52.3h0M336.5,51.3h0M352.1,61.2h0M353.0,61.8h0M357.3,56.8h0M347.5,59.1h0M360.9,56.9h0M360.8,57.4h0M335.3,55.7h0M335.4,56.5h0M346.4,61.9h0M352.7,77.9h0M344.5,54.9h0M351.7,54.4h0M341.9,56.2h0M341.6,55.7h0M355.4,84.7h0M338.5,72.0h0M345.0,69.9h0M359.8,65.8h0M354.2,67.3h0M354.3,67.2h0M358.3,77.4h0M359.5,77.1h0M337.3,69.9h0M360.9,57.1h0M354.8,59.4h0M354.3,59.8h0M357.3,80.2h0M348.9,62.7h0M338.9,65.4h0M352.9,68.3h0M352.4,69.6h0M351.8,68.3h0M355.6,65.4h0M356.9,65.5h0M351.4,78.5h0M358.2,66.2h0M357.9,65.8h0M354.3,90.3h0M354.9,90.7h0M351.9,62.6h0M352.7,62.5h0M353.5,62.2h0M349.8,66.7h0M350.3,66.7h0M342.6,56.1h0M342.6,55.6h0M348.4,74.1h0M340.9,67.5h0M355.6,57.1h0M355.9,58.5h0M364.1,59.6h0M362.8,58.8h0M344.5,69.6h0M339.6,60.9h0M353.7,64.2h0M347.9,65.7h0M347.8,67.5h0M351.0,79.6h0M357.9,66.6h0M359.3,66.2h0M341.8,61.3h0M349.1,58.8h0M342.2,54.9h0M352.7,72.8h0M352.4,72.7h0M353.5,72.2h0M337.8,54.1h0M339.1,54.3h0M353.5,56.9h0M354.3,56.2h0M346.2,59.5h0M346.1,60.1h0M352.9,78.9h0M349.9,86.4h0M348.1,71.9h0M349.2,72.7h0M351.3,62.9h0M351.6,63.1h0M351.6,63.5h0M365.2,68.1h0M364.9,68.9h0M378.3,62.2h0M373.7,71.4h0M378.7,64.1h0M362.1,60.2h0M374.0,66.9h0M373.6,67.5h0M383.3,62.3h0M381.8,66.0h0M366.0,69.0h0M372.4,60.0h0M382.1,62.7h0M380.8,71.3h0M381.7,71.6h0M370.7,71.8h0M382.2,60.5h0M382.9,59.5h0M379.3,66.1h0M366.6,70.4h0M367.9,69.3h0M384.5,61.5h0M376.0,58.6h0M364.9,63.2h0M367.2,70.8h0M380.1,58.8h0M382.5,69.8h0M375.2,70.4h0M374.8,70.6h0M377.0,59.4h0M377.4,58.0h0M380.3,68.9h0M383.3,61.2h0M384.4,61.7h0M384.7,62.6h0M374.1,61.8h0M367.9,63.0h0M369.0,71.3h0M379.3,61.6h0M367.9,69.3h0M369.8,71.5h0M366.1,59.5h0M371.2,62.9h0M371.1,61.9h0M368.8,61.3h0M377.4,69.4h0M378.2,69.9h0M373.1,66.4h0M380.2,63.7h0M374.2,73.0h0M370.1,62.5h0M383.0,63.7h0M372.4,61.7h0M373.1,59.9h0M384.8,60.5h0M383.5,60.5h0M373.6,67.4h0M376.1,67.9h0M378.1,68.6h0M376.6,71.2h0M369.4,72.8h0M379.2,67.3h0M378.7,68.0h0M364.2,64.3h0M363.5,64.9h0M363.1,62.2h0M376.0,68.5h0M381.8,67.6h0M382.4,68.6h0M375.6,61.8h0M376.6,61.6h0M371.3,71.9h0M363.3,59.7h0M363.4,60.9h0M366.5,72.7h0M377.9,58.2h0M363.5,68.1h0M364.7,67.3h0M365.2,61.7h0M385.8,62.3h0M378.4,59.1h0M375.1,60.2h0M374.8,60.7h0M386.7,58.1h0M372.2,64.1h0M372.2,64.0h0M364.4,61.5h0M365.2,61.2h0M377.1,61.4h0M370.0,60.0h0M383.7,58.4h0M383.5,58.2h0M370.7,61.5h0M368.1,71.6h0M383.0,66.2h0M381.5,65.3h0M381.3,71.0h0M381.1,69.8h0M379.4,70.3h0M378.9,70.2h0M367.0,67.4h0M370.7,63.1h0M363.2,61.3h0M377.8,60.3h0M372.5,57.9h0M370.6,73.2h0M366.0,63.9h0M366.8,63.7h0M363.0,60.9h0M378.0,62.8h0M371.8,68.8h0M372.0,70.6h0M371.8,70.9h0M367.7,67.0h0M384.5,65.8h0M375.2,59.0h0M374.5,58.9h0M368.1,63.2h0M382.1,59.8h0M382.4,61.0h0M382.0,60.4h0M365.0,59.7h0M382.8,67.2h0M366.4,64.7h0M366.5,73.5h0M384.2,61.3h0M386.1,63.8h0M382.4,67.7h0M381.2,68.0h0M379.1,60.1h0M379.5,59.7h0M366.1,67.0h0M366.5,66.5h0M372.1,72.9h0M373.5,58.8h0M365.7,63.6h0M375.4,68.8h0M374.2,60.2h0M383.1,58.2h0M385.6,59.1h0M377.9,64.2h0M363.5,66.5h0M374.1,70.1h0M374.2,69.8h0M370.5,59.5h0M371.5,59.1h0M380.3,58.5h0M380.3,60.7h0M373.5,62.4h0M374.8,70.0h0M374.4,69.8h0M369.8,71.5h0M380.5,68.2h0M379.5,69.0h0M367.6,70.6h0M385.0,58.1h0M384.9,57.8h0M381.9,59.9h0M373.1,67.5h0M366.9,70.8h0M380.5,57.6h0M385.6,64.3h0M385.0,64.6h0M378.9,68.5h0M377.4,41.5h0M378.7,42.5h0M367.0,44.6h0M381.5,44.8h0M381.3,44.8h0M374.3,46.8h0M375.6,46.6h0M370.3,45.4h0M368.1,44.0h0M376.0,47.2h0M370.0,40.8h0M369.6,44.7h0M368.4,45.6h0M385.6,41.9h0M383.8,43.4h0M382.4,40.8h0M382.3,41.9h0M370.4,41.2h0M370.6,40.3h0M379.2,44.6h0M378.8,45.2h0M383.4,45.4h0M383.9,45.3h0M385.1,45.9h0M372.1,45.7h0M378.8,44.1h0M383.4,45.4h0M380.0,38.4h0M385.4,43.7h0M384.4,44.2h0M371.5,39.5h0M372.3,43.3h0M379.5,40.5h0M379.2,41.0h0M379.8,43.8h0M371.6,47.0h0M372.5,46.7h0M384.1,43.4h0M377.9,47.3h0M370.5,44.3h0M377.3,40.9h0M368.2,40.3h0M370.6,41.0h0M380.8,39.5h0M378.4,39.8h0M381.5,44.9h0M368.9,42.6h0M369.7,45.5h0M370.0,45.7h0M370.1,44.7h0M370.3,41.1h0M370.2,41.3h0M367.7,46.0h0M374.8,45.1h0M375.4,45.1h0M381.9,41.3h0M378.0,47.0h0M377.8,46.6h0M382.0,44.8h0M365.2,45.4h0M366.6,41.1h0M372.3,40.0h0M370.8,43.8h0M371.9,43.4h0M374.0,41.8h0M375.3,45.8h0M383.1,42.1h0M383.0,41.0h0M377.0,42.9h0M377.9,39.6h0M368.0,40.8h0M373.3,41.8h0M380.0,41.1h0M379.6,40.2h0M368.9,40.1h0M369.6,45.6h0M370.2,46.3h0M380.7,47.3h0M378.1,41.8h0M378.3,42.9h0M370.9,44.1h0M372.5,47.1h0M368.1,45.9h0M379.8,40.8h0M373.6,46.9h0M370.7,44.2h0M369.4,45.1h0M369.0,45.5h0M368.2,47.9h0M370.3,43.1h0M369.4,44.4h0M371.9,72.5h0M363.4,71.9h0M372.3,72.3h0M369.1,73.0h0M373.7,72.4h0M375.5,70.7h0M364.8,72.1h0M365.1,72.2h0M365.9,72.8h0M369.2,72.7h0M375.8,71.0h0M381.2,66.4h0M364.2,71.7h0M370.3,73.0h0M383.7,62.7h0M374.7,71.6h0M369.4,72.6h0M375.3,71.7h0M363.1,70.9h0M366.8,73.0h0M367.6,73.0h0M365.9,72.5h0M379.2,67.9h0M369.2,72.8h0M368.6,72.9h0M379.0,68.2h0M368.0,73.5h0M380.7,66.3h0M367.7,72.7h0M366.4,71.9h0M378.3,69.6h0M365.1,72.3h0M365.2,71.8h0M371.8,72.6h0M373.2,71.9h0M367.7,72.8h0M368.6,72.9h0M378.4,69.1h0M382.1,64.5h0M383.1,64.2h0M376.5,69.5h0M363.4,71.0h0M379.4,68.9h0M375.0,70.4h0M380.0,68.3h0M369.8,72.9h0M379.7,68.2h0M363.8,71.9h0M368.0,72.7h0M364.6,71.9h0M368.8,73.0h0M367.4,72.7h0M383.6,63.4h0M367.6,72.5h0M375.9,70.6h0M372.1,73.4h0M374.1,71.3h0M364.2,71.8h0M363.6,71.7h0M369.5,73.0h0M367.5,59.9h0M364.4,60.9h0M377.7,59.9h0M384.5,61.8h0M363.1,61.4h0M382.8,61.2h0M367.9,59.9h0M369.5,59.8h0M379.1,60.5h0M369.8,60.0h0M382.5,61.5h0M382.4,61.1h0M362.7,61.5h0M372.6,59.2h0M373.1,59.1h0M380.9,61.2h0M363.1,61.1h0M372.2,59.5h0M368.8,59.7h0M380.4,60.5h0M371.0,59.9h0M371.9,59.5h0M373.2,59.4h0M365.1,60.7h0M366.1,60.4h0M368.9,59.6h0M362.0,61.9h0M373.7,59.3h0M370.4,59.4h0M365.4,61.2h0M362.5,61.9h0M365.9,59.7h0M364.8,60.7h0M372.2,59.4h0M375.8,59.5h0M372.6,59.1h0M381.2,60.5h0M370.3,59.5h0M363.0,61.4h0M373.9,59.3h0M382.0,60.8h0M378.3,60.7h0M382.4,61.3h0M380.6,60.5h0M363.2,61.4h0M383.6,61.5h0M376.7,59.5h0M377.1,60.3h0M362.8,61.3h0M378.9,60.3h0M370.5,59.7h0M379.8,60.7h0M379.4,60.7h0M368.5,60.0h0M374.0,59.5h0M368.3,60.1h0M378.2,60.2h0M381.7,61.4h0M370.8,59.8h0M369.3,59.5h0M376.5,71.3h0M372.1,71.6h0M371.5,72.1h0M368.4,73.0h0M381.3,70.0h0M377.2,71.1h0M368.9,72.3h0M367.0,72.6h0M371.8,71.8h0M368.4,72.6h0M382.6,70.2h0M372.8,71.5h0M378.3,70.8h0M375.7,70.9h0M369.5,72.6h0M371.0,71.7h0M368.7,72.7h0M382.1,70.3h0M376.2,71.3h0M368.5,72.3h0M382.3,70.5h0M375.8,71.0h0M371.7,71.8h0M372.7,71.5h0M371.2,72.1h0M369.3,72.0h0M371.6,71.3h0M381.2,70.4h0M383.3,70.0h0M382.9,70.0h0M377.4,71.2h0M382.4,70.4h0M369.8,72.6h0M367.4,72.7h0M383.2,69.5h0M381.7,70.3h0M376.4,70.6h0M369.8,72.6h0M375.1,71.2h0M380.3,70.7h0M383.8,69.5h0M381.1,70.5h0M382.7,70.0h0M384.1,69.6h0M371.8,71.5h0M368.8,72.1h0M380.5,70.7h0M381.2,69.9h0M375.7,70.6h0M367.9,72.2h0M375.8,70.7h0M367.4,72.8h0M371.2,71.7h0M380.1,70.4h0M375.0,71.0h0M373.9,71.7h0M378.0,71.5h0M366.7,72.7h0M374.1,71.4h0M375.1,71.1h0M354.2,48.4h0M339.3,40.2h0M336.9,41.6h0M342.5,40.4h0M344.2,49.8h0M345.8,52.2h0M345.6,35.9h0M348.3,54.9h0M341.3,56.0h0M345.3,49.8h0M358.8,47.7h0M340.7,43.3h0M357.4,54.8h0M340.5,38.5h0M348.3,52.8h0M357.0,45.4h0M352.4,40.3h0M350.8,44.2h0M358.2,48.4h0M354.4,41.9h0M343.0,44.4h0M352.1,42.9h0M346.3,51.3h0M341.5,52.5h0M350.0,54.9h0M342.8,44.6h0M341.9,52.1h0M373.4,48.1h0M368.7,47.1h0M388.9,52.7h0M375.1,43.6h0M382.1,47.5h0M376.0,43.2h0M381.4,47.2h0M377.5,54.6h0M368.6,59.3h0M380.3,58.4h0M383.3,48.0h0M380.4,44.4h0M363.2,57.2h0M372.3,43.2h0M379.3,46.6h0M385.3,55.6h0M381.8,57.6h0M383.6,41.8h0M376.3,46.4h0M383.7,52.6h0M366.4,55.7h0M372.3,53.1h0M384.0,47.4h0M367.4,52.6h0M378.2,59.8h0M385.0,52.2h0M382.5,56.5h0M387.9,42.8h0M370.1,45.1h0M376.3,49.8h0M382.6,55.4h0M369.6,53.6h0M385.2,51.6h0M371.3,45.5h0M381.6,51.1h0M375.3,40.4h0M367.1,40.4h0M380.6,49.1h0M371.9,36.1h0M372.1,35.3h0M380.1,41.4h0M379.6,40.1h0M378.2,34.7h0M398.7,83.5h0M391.8,77.1h0M397.8,85.2h0M395.8,84.7h0M392.4,77.9h0M398.4,79.6h0M391.4,67.5h0M401.1,78.3h0M394.9,66.2h0M395.3,78.4h0M395.5,71.2h0M390.5,71.7h0M381.9,61.8h0M388.3,78.2h0M347.3,74.7h0M339.8,70.8h0M336.2,65.5h0M357.3,74.4h0M355.6,75.5h0M336.4,63.1h0M339.9,67.0h0M354.8,67.8h0M338.4,57.4h0M360.2,76.1h0M342.7,72.9h0M355.0,85.4h0M352.2,79.3h0M354.1,78.7h0M351.4,67.4h0M356.7,60.3h0M357.4,82.7h0M354.9,69.5h0M353.6,84.3h0M342.6,50.5h0M352.6,60.1h0M343.9,60.7h0M360.4,81.9h0M351.3,74.8h0M360.5,92.1h0M339.2,69.9h0M344.4,63.5h0M352.3,64.0h0M362.8,63.4h0M359.1,81.0h0M363.2,64.8h0M345.3,76.6h0M344.1,72.9h0M340.6,58.5h0M355.9,73.4h0M358.4,88.2h0M351.3,80.4h0M340.7,63.6h0M345.9,53.1h0M364.6,55.3h0M344.1,61.3h0M354.4,80.7h0M352.0,65.5h0M334.0,73.4h0M356.7,63.8h0M362.3,72.2h0M354.0,61.2h0M335.4,67.0h0M357.8,77.5h0M348.8,80.6h0M353.4,78.4h0M359.8,62.4h0M349.9,58.4h0M379.7,67.7h0M376.9,62.8h0M380.1,65.3h0M376.3,68.0h0M376.3,71.3h0M375.4,62.4h0M369.0,72.2h0M381.4,60.5h0M381.4,40.9h0M378.1,44.2h0M368.2,47.6h0M382.9,42.4h0M371.6,72.5h0M366.1,74.1h0M374.2,62.0h0M375.9,70.4h0" stroke="#1c7bc0"/><path d="M340.3,82.6h0M339.8,82.3h0M344.9,79.4h0M343.8,79.9h0M343.4,78.9h0M343.3,97.9h0M344.2,96.4h0M344.3,97.3h0M341.3,91.9h0M341.2,92.2h0M341.8,93.4h0M336.1,88.1h0M337.1,88.4h0M337.6,88.3h0M351.1,96.5h0M353.1,95.7h0M351.8,94.7h0M342.4,90.6h0M343.9,89.7h0M343.2,90.1h0M357.5,94.1h0M338.6,75.1h0M350.5,86.5h0M343.2,85.8h0M342.4,87.2h0M342.8,86.1h0M337.7,84.9h0M338.0,85.1h0M338.3,84.6h0M338.9,89.7h0M339.6,89.1h0M340.3,89.0h0M342.5,92.3h0M342.9,92.8h0M343.5,92.9h0M337.8,96.2h0M336.7,95.1h0M336.8,94.2h0M350.9,98.7h0M351.1,100.3h0M350.7,99.0h0M339.6,93.0h0M340.4,93.9h0M340.2,94.2h0M347.4,99.0h0M347.9,99.4h0M347.4,99.7h0M347.5,85.9h0M348.3,84.8h0M341.3,86.5h0M340.8,86.7h0M346.6,86.3h0M345.6,85.6h0M336.0,97.3h0M334.8,96.5h0M334.9,97.8h0M346.1,97.4h0M347.3,97.4h0M346.5,97.0h0M342.4,74.9h0M339.3,88.3h0M338.7,89.2h0M339.4,88.8h0M352.1,94.7h0M352.2,95.6h0M336.9,76.2h0M337.7,91.4h0M336.8,91.3h0M336.9,90.4h0M332.1,96.3h0M332.1,96.0h0M335.8,81.0h0M335.3,82.1h0M335.3,81.7h0M344.6,72.4h0M343.8,77.7h0M348.2,93.9h0M348.2,94.4h0M349.1,94.1h0M337.9,88.3h0M337.0,89.4h0M337.0,90.4h0M346.4,81.8h0M345.0,83.4h0M346.9,95.3h0M346.9,95.8h0M347.5,97.0h0M339.9,93.4h0M339.5,93.2h0M339.7,94.2h0M357.3,95.8h0M355.7,83.5h0M340.7,77.5h0M342.2,96.5h0M341.2,97.6h0M341.5,96.9h0M358.2,95.1h0M347.9,87.6h0M347.2,87.1h0M347.4,87.5h0M345.1,93.1h0M346.4,93.1h0M345.7,92.9h0M344.0,88.0h0M343.8,87.6h0M345.4,87.4h0M345.1,87.4h0M344.5,87.5h0M335.3,92.9h0M340.4,95.7h0M340.7,95.7h0M336.0,93.0h0M337.0,93.6h0M336.4,92.8h0M353.4,96.2h0M352.7,95.1h0M353.9,96.4h0M339.6,91.4h0M339.1,91.3h0M339.0,91.6h0M349.9,82.2h0M340.2,94.2h0M340.0,94.4h0M341.0,93.8h0M354.2,97.5h0M354.4,96.7h0M353.6,97.3h0M339.1,80.1h0M338.2,79.7h0M339.1,79.7h0M335.3,74.5h0M338.4,91.6h0M338.5,91.3h0M341.2,74.2h0M335.2,100.0h0M336.0,100.9h0M335.4,100.0h0M343.9,77.7h0M343.6,78.8h0M334.8,77.4h0M335.9,78.6h0M333.8,71.7h0M341.0,89.8h0M340.8,91.2h0M342.4,90.2h0M355.3,101.4h0M354.7,101.8h0M355.5,101.7h0M342.7,86.0h0M341.9,85.2h0M349.1,88.8h0M348.9,87.9h0M350.5,91.6h0M349.7,91.0h0M350.4,91.1h0M353.6,94.2h0M353.3,95.1h0M354.3,93.5h0M354.7,100.3h0M354.9,101.4h0M354.3,100.9h0M336.2,85.6h0M337.6,86.2h0M337.7,85.5h0M335.3,93.1h0M335.0,92.9h0M335.2,92.8h0M345.9,98.2h0M345.0,97.4h0M346.4,96.4h0M344.9,98.1h0M345.1,98.0h0M346.0,89.0h0M345.6,89.7h0M344.4,99.3h0M345.0,99.0h0M339.8,89.8h0M340.3,91.4h0M339.7,91.8h0M343.1,95.2h0M342.6,95.1h0M342.9,94.8h0M356.5,93.2h0M353.4,93.7h0M344.4,77.9h0M338.0,95.8h0M338.0,97.4h0M338.2,96.1h0M335.1,93.8h0M335.0,94.8h0M336.0,94.7h0M348.9,99.3h0M349.4,99.6h0M348.8,99.6h0M334.6,93.1h0M334.4,94.3h0M335.2,93.5h0M345.6,87.3h0M347.0,88.2h0M346.9,88.3h0M348.2,98.8h0M348.6,99.8h0M348.7,100.3h0M344.2,79.4h0M344.7,79.5h0M334.1,77.1h0M334.4,77.0h0M335.1,77.2h0M347.7,85.4h0M346.1,84.1h0M346.7,84.3h0M335.6,74.6h0M353.8,100.7h0M353.3,100.7h0M353.3,100.3h0M343.2,85.5h0M341.8,85.2h0M340.6,86.2h0M339.9,84.7h0M339.6,85.1h0M342.3,83.3h0M344.5,82.7h0M343.7,83.7h0M336.9,89.3h0M336.1,88.4h0M336.7,88.6h0M335.7,97.0h0M336.8,96.9h0M335.8,97.9h0M337.4,96.1h0M337.0,95.9h0M337.0,96.0h0M352.2,97.7h0M354.4,96.6h0M335.2,93.8h0M354.0,99.6h0M354.2,99.6h0M354.5,100.4h0M335.8,93.0h0M336.2,92.3h0M335.7,91.8h0M335.0,99.6h0M335.2,99.8h0M334.1,99.6h0M337.0,87.6h0M338.3,88.0h0M338.1,88.1h0M352.8,100.5h0M351.7,101.1h0M352.3,101.0h0M334.5,95.5h0M334.5,96.7h0M334.7,96.3h0M335.2,98.8h0M334.3,98.4h0M334.4,97.9h0M344.7,99.0h0M344.7,98.1h0M343.7,98.2h0M334.4,78.7h0M334.6,77.2h0M339.5,91.1h0M340.1,90.3h0M340.1,90.5h0M333.9,74.3h0M333.3,75.6h0M346.4,82.0h0M349.2,86.4h0M347.3,98.7h0M346.3,98.5h0M346.9,99.0h0M350.3,96.9h0M350.2,95.8h0M351.0,96.5h0M338.3,93.7h0M337.8,94.1h0M339.8,94.3h0M358.9,97.1h0M340.5,80.6h0M341.0,81.2h0M340.1,81.2h0M341.4,93.6h0M340.4,93.0h0M340.3,94.0h0M346.7,80.3h0M346.0,80.7h0M348.0,83.8h0M334.6,97.2h0M332.5,97.5h0M333.2,96.5h0M354.3,95.3h0M354.4,95.3h0M354.5,95.7h0M335.0,90.3h0M336.2,88.4h0M335.8,89.0h0M336.8,87.7h0M337.7,87.7h0M349.3,93.4h0M349.5,92.2h0M349.5,92.6h0M345.7,84.7h0M346.9,85.5h0M347.4,92.9h0M347.9,92.6h0M346.8,92.4h0M353.4,94.4h0M355.7,94.6h0M351.2,85.5h0M346.0,91.9h0M345.6,92.7h0M344.0,84.3h0M343.8,84.6h0M336.5,83.7h0M337.2,82.7h0M337.2,83.0h0M345.7,89.2h0M345.6,90.2h0M345.8,89.4h0M335.9,90.5h0M336.5,90.4h0M336.2,90.0h0M344.4,79.9h0M343.2,80.4h0M353.2,87.9h0M335.3,96.0h0M334.7,95.8h0M335.2,95.3h0M345.9,90.4h0M346.0,89.9h0M345.9,89.8h0M335.8,82.2h0M334.4,81.7h0M335.5,82.5h0M356.9,93.2h0M345.0,97.2h0M346.1,97.4h0M342.2,81.1h0M343.3,82.6h0M343.8,81.2h0M347.2,83.1h0M346.8,82.8h0M349.9,99.9h0M350.0,99.6h0M349.5,99.7h0M337.1,94.5h0M337.8,94.9h0M336.6,94.1h0M345.9,95.1h0M345.4,94.2h0M339.6,86.4h0M341.0,87.2h0M353.9,95.4h0M352.7,94.2h0M353.0,94.1h0M353.1,88.8h0M354.0,88.8h0M337.1,90.1h0M336.4,89.9h0M338.7,89.3h0M337.7,96.3h0M339.0,95.9h0M336.1,85.9h0M336.6,84.0h0M337.4,84.7h0M339.1,75.4h0M338.8,75.7h0M347.2,90.3h0M346.8,90.7h0M346.0,90.8h0M340.6,77.8h0M352.0,101.1h0M351.1,100.1h0M351.5,100.9h0M346.9,88.5h0M347.8,88.3h0M347.7,86.4h0M335.8,88.0h0M334.1,88.0h0M335.9,88.8h0M352.5,92.9h0M337.8,72.0h0M336.8,72.6h0M345.6,90.7h0M343.8,91.5h0M344.8,91.0h0M345.2,90.4h0M344.3,90.1h0M345.5,90.6h0M351.4,99.3h0M352.3,99.4h0M351.5,98.6h0M338.5,69.4h0M355.6,96.1h0M354.5,95.5h0M338.3,84.8h0M339.4,84.1h0M340.0,84.4h0M346.2,83.6h0M346.4,83.0h0M339.1,87.2h0M339.9,87.6h0M340.2,87.7h0M333.9,77.4h0M334.3,77.2h0M339.7,88.4h0M338.5,87.2h0M339.6,89.2h0M340.3,89.0h0M340.1,89.9h0M339.2,83.9h0M338.7,83.5h0M334.1,97.4h0M334.7,96.1h0M334.3,95.5h0M348.0,92.0h0M350.1,91.7h0M332.6,97.3h0M333.0,97.0h0M332.7,97.5h0M349.0,88.7h0M350.2,89.4h0M337.2,89.5h0M337.1,88.7h0M336.6,90.4h0M348.7,90.9h0M348.7,91.0h0M347.8,86.9h0M347.4,86.1h0M347.5,86.9h0M353.3,87.7h0M351.1,95.5h0M350.9,94.3h0M350.4,94.4h0M341.2,88.9h0M341.9,89.0h0M340.5,89.3h0M348.6,95.8h0M348.7,95.3h0M349.6,94.5h0M347.6,88.7h0M346.4,88.8h0M347.6,89.1h0M346.8,95.6h0M346.5,95.5h0M347.0,97.1h0M343.4,81.3h0M333.1,81.2h0M333.8,81.4h0M333.3,81.8h0M355.8,100.0h0M355.7,99.4h0M356.3,100.2h0M345.7,91.5h0M346.0,91.1h0M338.7,90.3h0M339.4,90.4h0M339.3,90.9h0M352.3,98.2h0M351.3,98.9h0M351.7,100.0h0M336.8,94.1h0M337.4,94.0h0M353.4,92.6h0M353.1,92.4h0M342.4,97.6h0M341.9,97.4h0M341.9,97.9h0M342.4,95.4h0M342.1,96.7h0M342.3,95.4h0M354.1,94.7h0M343.4,91.0h0M342.7,91.3h0M342.8,91.3h0M345.3,82.4h0M345.1,82.5h0M351.3,97.3h0M352.6,97.0h0M352.0,96.9h0M337.4,94.6h0M336.6,94.1h0M336.0,93.2h0M340.1,80.2h0M339.4,80.4h0M339.3,95.9h0M339.2,95.6h0M340.3,95.0h0M340.5,94.2h0M340.8,95.1h0M340.2,95.7h0M348.8,80.4h0M350.8,86.0h0M351.9,86.1h0M349.3,96.5h0M349.5,97.3h0M349.9,96.4h0M337.4,83.2h0M337.8,82.6h0M338.7,83.4h0M355.4,91.0h0M353.2,98.5h0M353.1,98.3h0M352.2,98.9h0M342.5,85.7h0M343.3,85.6h0M343.0,86.4h0M347.6,87.1h0M347.5,87.9h0M347.2,88.0h0M333.9,94.2h0M335.8,94.5h0M350.8,100.0h0M351.4,101.5h0M352.0,100.7h0M346.6,81.2h0M337.9,88.9h0M337.3,88.9h0M339.2,92.7h0M340.8,92.9h0M340.3,91.7h0M349.6,86.9h0M349.7,87.4h0M351.0,102.2h0M350.4,101.7h0M340.4,79.6h0M334.3,82.8h0M334.4,83.4h0M336.0,95.1h0M335.6,95.4h0M336.0,95.8h0M357.7,93.9h0M350.6,89.8h0M338.4,89.2h0M337.9,89.3h0M338.5,90.5h0M349.6,96.4h0M348.9,95.6h0M349.2,94.7h0M335.3,78.7h0M336.0,78.9h0M337.1,79.6h0M353.0,96.0h0M352.6,94.9h0M352.5,95.4h0M336.6,94.0h0M336.5,93.8h0M336.7,94.0h0M358.4,94.1h0M336.4,76.2h0M335.0,97.6h0M334.4,98.0h0M334.8,98.6h0M339.6,80.3h0M338.1,79.8h0M339.3,80.3h0M343.7,89.4h0M343.7,89.0h0M343.2,89.0h0M352.5,90.8h0M352.9,91.5h0M352.8,90.5h0M352.1,90.9h0M337.2,84.4h0M338.4,84.9h0M338.2,84.9h0M355.0,89.2h0M349.7,91.0h0M349.1,91.2h0M349.4,92.2h0M334.6,82.2h0M335.0,81.6h0M334.7,82.6h0M337.5,87.4h0M336.2,86.8h0M335.7,87.5h0M341.2,78.2h0M341.9,78.0h0M340.0,77.2h0M344.8,87.4h0M344.5,88.1h0M337.0,83.8h0M338.5,83.5h0M337.0,75.8h0M336.9,76.0h0M338.6,82.4h0M338.5,83.1h0M338.8,82.6h0M344.6,94.9h0M345.1,93.6h0M343.6,93.3h0M342.7,93.6h0M342.3,92.8h0M342.8,94.2h0M346.5,92.0h0M346.6,91.5h0M346.6,90.7h0M351.1,94.0h0M349.8,94.6h0M350.7,94.4h0M340.4,95.8h0M340.5,96.0h0M339.3,95.8h0M338.1,78.6h0M338.9,79.7h0M338.2,80.2h0M339.3,76.3h0M340.5,76.6h0M336.6,93.8h0M337.1,93.2h0M341.1,83.8h0M340.7,84.2h0M340.7,83.6h0M335.2,85.0h0M335.0,84.6h0M341.3,95.1h0M340.4,95.5h0M340.4,95.2h0M339.3,90.6h0M339.3,90.2h0M339.8,86.9h0M341.4,87.1h0M336.6,87.2h0M335.7,88.0h0M336.7,89.2h0M347.6,82.7h0M346.6,82.8h0M337.9,88.7h0M339.2,89.6h0M337.4,88.3h0M350.2,94.3h0M350.6,94.4h0M344.2,95.7h0M343.1,95.7h0M343.5,95.9h0M333.8,96.2h0M333.8,96.5h0M334.2,96.6h0M338.0,95.8h0M337.5,95.9h0M337.7,95.5h0M353.2,100.5h0M353.2,100.8h0M355.6,85.5h0M341.5,76.1h0M338.0,94.1h0M338.2,93.0h0M337.8,94.6h0M346.8,83.1h0M346.8,83.4h0M346.2,84.3h0M352.1,93.8h0M351.9,92.6h0M351.7,92.6h0M340.0,76.3h0M340.5,76.0h0M343.2,97.9h0M342.7,96.6h0M343.5,97.8h0M344.7,89.5h0M344.5,89.0h0M345.1,87.3h0M348.5,88.0h0M348.3,88.0h0M355.2,100.9h0M355.3,101.4h0M355.5,101.1h0M346.1,89.3h0M346.1,89.1h0M349.5,91.0h0M348.9,91.6h0M349.6,91.3h0M338.0,90.0h0M338.1,89.5h0M336.7,90.6h0M338.2,80.1h0M338.3,81.6h0M337.5,80.9h0M349.9,99.0h0M349.1,99.1h0M348.6,99.4h0M340.0,92.5h0M340.4,93.1h0M342.7,76.7h0M343.4,75.9h0M349.5,99.1h0M349.2,98.4h0M349.1,92.3h0M356.2,92.8h0M340.1,93.8h0M340.6,94.3h0M338.6,89.1h0M338.7,88.3h0M336.0,89.2h0M335.5,89.4h0M340.4,85.4h0M339.5,85.0h0M339.7,84.3h0M356.8,98.5h0M355.8,97.2h0M355.6,98.7h0M347.6,95.4h0M348.1,94.8h0M347.6,94.7h0M341.6,80.5h0M348.4,99.3h0M348.0,99.3h0M348.3,100.2h0M342.4,93.3h0M342.1,92.9h0M345.6,95.3h0M346.2,95.6h0M342.6,89.2h0M342.0,88.4h0M343.6,89.1h0M343.0,76.0h0M340.1,83.6h0M338.6,83.8h0M339.1,82.3h0M334.4,82.4h0M336.5,84.2h0M334.6,82.5h0M337.9,90.8h0M338.0,89.8h0M339.6,91.3h0M340.7,88.5h0M339.7,88.4h0M339.2,88.9h0M343.4,77.8h0M351.2,101.2h0M351.3,100.6h0M349.4,86.8h0M347.3,86.5h0M348.7,87.0h0M348.9,87.0h0M333.8,101.3h0M331.6,100.7h0M351.9,97.4h0M352.7,97.1h0M350.7,97.3h0M342.7,90.8h0M344.3,90.4h0M337.4,73.5h0M342.5,85.3h0M344.4,84.9h0M342.6,85.6h0M339.5,96.8h0M340.6,95.8h0M339.8,96.7h0M340.6,90.3h0M341.1,88.9h0M340.0,89.7h0M337.0,72.3h0M349.6,87.1h0M350.9,96.4h0M351.0,96.4h0M351.7,95.1h0M334.7,95.9h0M335.0,95.1h0M334.6,94.2h0M346.6,97.1h0M347.0,97.1h0M348.4,97.4h0M346.0,97.3h0M346.9,94.7h0M346.6,95.6h0M333.6,78.7h0M333.2,79.2h0M335.0,79.5h0M345.4,94.7h0M346.6,93.7h0M345.3,89.2h0M347.3,88.2h0M345.2,88.9h0M340.9,87.1h0M341.2,85.8h0M340.6,86.8h0M344.9,91.1h0M344.8,92.4h0M345.8,91.4h0M332.5,98.5h0M332.2,98.5h0M333.7,76.6h0M333.8,76.6h0M350.4,99.6h0M350.0,101.3h0M349.9,101.1h0M336.8,84.3h0M338.5,83.1h0M337.3,83.8h0M341.3,92.7h0M342.2,91.7h0M341.5,92.2h0M348.9,89.5h0M347.3,94.6h0M348.6,95.5h0M338.5,73.4h0M340.3,85.1h0M339.3,85.6h0M335.4,91.7h0M335.4,92.7h0M353.1,93.9h0M352.5,93.8h0M354.2,95.0h0M353.9,100.7h0M354.0,100.5h0M349.6,93.0h0M349.1,92.6h0M350.1,92.3h0M336.6,87.9h0M337.6,87.7h0M336.2,88.1h0M341.6,77.5h0M341.3,77.9h0M342.0,76.6h0M339.9,81.9h0M339.2,81.1h0M340.9,81.4h0M340.2,80.5h0M340.2,80.5h0M340.3,80.8h0M336.4,90.5h0M337.4,91.4h0M336.8,91.2h0M344.8,87.8h0M345.5,86.1h0M346.1,86.9h0M342.6,93.4h0M343.2,93.5h0M343.4,93.8h0M341.3,84.6h0M341.7,85.4h0M341.1,85.1h0M343.2,85.2h0M342.7,86.3h0M344.0,84.9h0M334.9,80.7h0M335.3,80.1h0M334.6,81.1h0M352.7,101.7h0M352.8,100.4h0M352.4,101.6h0M348.9,101.0h0M348.1,101.3h0M348.7,101.2h0M351.2,93.2h0M350.0,92.6h0M350.2,92.6h0M346.1,84.3h0M345.3,83.5h0M345.2,84.0h0M342.2,92.4h0M342.4,91.1h0M343.6,90.2h0M338.9,85.4h0M338.0,85.8h0M338.2,84.4h0M353.7,97.0h0M351.0,99.6h0M351.1,98.4h0M351.4,98.5h0M351.9,89.7h0M350.3,95.5h0M335.7,83.1h0M337.0,81.8h0M347.2,87.9h0M347.7,87.6h0M346.6,87.8h0M335.4,72.3h0M337.7,88.5h0M337.4,89.5h0M337.8,89.6h0M338.1,90.1h0M338.6,90.9h0M337.8,90.6h0M339.8,87.1h0M339.1,85.5h0M338.6,86.8h0M339.7,75.6h0M338.8,75.2h0M345.1,81.2h0M346.0,81.3h0M349.2,95.5h0M350.4,94.7h0M350.1,95.1h0M350.2,93.2h0M350.8,92.7h0M350.1,93.0h0M346.5,83.6h0M347.3,81.3h0M348.0,83.1h0M346.6,84.7h0M335.2,97.9h0M335.5,98.9h0M335.3,98.2h0M342.0,85.0h0M341.8,84.0h0M342.3,84.9h0M336.7,94.2h0M337.9,94.2h0M337.2,93.1h0M354.6,94.0h0M355.6,94.1h0M334.9,76.8h0M335.2,77.5h0M334.7,77.6h0M353.2,100.4h0M352.8,98.7h0M354.8,96.6h0M344.3,82.8h0M344.1,81.7h0M356.9,94.6h0M357.8,94.8h0M336.6,70.8h0M338.7,95.0h0M337.3,94.7h0M337.5,95.4h0M343.4,90.3h0M345.0,89.7h0M344.7,90.1h0M346.7,89.0h0M345.9,90.6h0M345.8,89.9h0M353.8,89.9h0M342.6,76.3h0M337.9,82.4h0M337.6,80.9h0M337.2,81.6h0M335.6,85.6h0M344.4,96.1h0M343.4,95.4h0M345.6,96.0h0M347.4,82.3h0M348.1,83.5h0M355.2,101.7h0M349.6,86.3h0M349.7,87.2h0M349.1,87.0h0M341.3,95.8h0M341.4,95.0h0M345.6,101.0h0M345.1,99.7h0M335.0,71.7h0M336.2,70.5h0M355.2,89.9h0M352.8,99.1h0M352.1,99.1h0M353.3,100.6h0M343.1,75.0h0M346.1,82.9h0M346.0,83.7h0M339.0,95.2h0M339.0,95.5h0M338.9,95.5h0M342.8,79.3h0M342.2,81.6h0M333.0,79.8h0M333.4,80.2h0M332.6,80.6h0M348.8,90.4h0M348.5,89.3h0M349.9,88.5h0M344.3,97.6h0M344.8,98.3h0M344.5,98.4h0M342.1,97.8h0M342.8,99.1h0M342.5,98.1h0M335.0,86.0h0M336.1,85.8h0M339.3,86.7h0M338.1,86.6h0M346.4,84.6h0M346.5,83.4h0M349.8,101.7h0M349.4,101.6h0M349.7,101.8h0M347.3,87.4h0M347.6,87.3h0M347.5,87.3h0M344.1,90.7h0M344.1,91.3h0M344.4,91.2h0M344.0,99.0h0M344.5,97.9h0M343.2,98.0h0M346.3,82.2h0M346.0,83.7h0M349.9,103.3h0M350.2,102.4h0M349.9,103.7h0M345.6,93.4h0M345.6,94.1h0M352.0,99.8h0M351.2,98.6h0M345.3,85.8h0M345.8,86.2h0M345.6,85.4h0M342.2,87.5h0M343.4,87.8h0M342.1,97.1h0M353.4,96.8h0M351.4,93.5h0M348.1,87.4h0M338.2,71.6h0M346.1,85.5h0M344.5,82.8h0M334.2,73.3h0M336.2,74.4h0M345.9,83.8h0M348.6,92.5h0M340.5,86.9h0M353.2,96.7h0M345.6,97.0h0M336.6,75.0h0M334.6,90.7h0M346.9,85.5h0M342.9,91.2h0M346.1,84.3h0M348.8,87.2h0M346.8,86.5h0" stroke="#e8212b"/></g><g fill="none" stroke-width="0.85" stroke-linecap="round" transform="translate(76.67,2.5) scale(1.065,0.95)"><path d="M393.0,51.2L396.0,51.0L399.4,53.6L401.0,57.0L402.4,61.4L402.9,67.8L402.5,74.2L401.2,80.6L399.6,86.2L397.8,89.0L396.2,88.6L393.8,86.2L390.6,83.8L387.4,80.6L385.0,76.6L383.9,71.0L383.4,67.8L383.5,64.0L385.0,60.0L387.4,56.0L390.0,52.5Z" fill="#1c7bc0" stroke="#1c7bc0" stroke-width="0.5" stroke-linejoin="round"/><path d="M383.1,38.3L382.9,40.0L382.4,41.4L381.6,42.1L380.8,42.1L380.0,41.4L379.5,40.0L379.3,38.3L379.5,36.6L380.0,35.2L380.8,34.5L381.6,34.5L382.4,35.2L382.9,36.6Z" fill="#1c7bc0" stroke="#1c7bc0" stroke-width="0.5" stroke-linejoin="round"/><path d="M357.2,96.3L356.8,98.1L355.7,99.6L354.1,100.4L352.3,100.4L350.7,99.6L349.6,98.1L349.2,96.3L349.6,94.5L350.7,93.0L352.3,92.2L354.1,92.2L355.7,93.0L356.8,94.5Z" fill="#e8212b" stroke="none" opacity="0.8"/><path d="M341.9,81.0L341.6,84.0L340.7,86.5L339.4,87.8L338.0,87.8L336.7,86.5L335.8,84.0L335.5,81.0L335.8,78.0L336.7,75.5L338.0,74.2L339.4,74.2L340.7,75.5L341.6,78.0Z" fill="#e8212b" stroke="none" opacity="0.5"/><path d="M347.9,43.4h0M348.1,45.4h0M347.5,44.3h0M349.3,43.3h0M353.4,42.8h0M354.6,42.6h0M337.0,54.4h0M337.7,54.7h0M343.6,44.1h0M343.6,43.9h0M356.8,56.4h0M355.1,53.1h0M343.2,41.6h0M353.9,56.3h0M349.8,43.5h0M355.8,52.4h0M349.5,47.6h0M349.6,48.9h0M357.3,52.9h0M357.6,53.9h0M357.3,53.1h0M356.8,52.9h0M343.5,47.2h0M360.2,53.2h0M338.6,54.1h0M356.1,53.4h0M349.3,51.9h0M354.0,57.3h0M354.8,56.6h0M353.5,44.5h0M353.5,49.7h0M354.8,50.4h0M350.7,52.7h0M349.8,52.8h0M344.1,40.0h0M343.7,40.4h0M340.8,55.0h0M338.4,41.7h0M339.1,41.8h0M345.7,43.2h0M344.6,44.2h0M353.8,44.0h0M344.7,44.8h0M346.0,45.4h0M346.2,45.4h0M341.4,42.5h0M342.4,41.2h0M341.6,41.7h0M344.8,55.0h0M349.9,42.8h0M356.3,42.7h0M356.0,43.2h0M345.8,53.4h0M350.5,37.5h0M347.5,42.3h0M347.2,41.4h0M345.2,37.5h0M355.2,48.9h0M353.9,41.4h0M353.8,41.6h0M358.0,58.0h0M357.7,58.8h0M358.2,58.4h0M357.5,52.4h0M354.4,55.2h0M354.3,55.1h0M352.7,40.0h0M343.2,38.4h0M350.8,46.0h0M351.4,47.0h0M344.3,49.9h0M343.7,55.1h0M352.2,44.4h0M341.7,37.3h0M341.1,38.9h0M337.8,46.8h0M338.6,45.9h0M347.4,36.4h0M352.2,53.9h0M352.8,54.9h0M349.1,54.1h0M346.8,35.6h0M345.6,35.7h0M346.9,36.0h0M351.6,46.6h0M350.8,37.8h0M349.3,38.2h0M345.7,52.2h0M345.8,52.1h0M337.5,50.3h0M342.4,49.4h0M348.1,41.3h0M348.0,42.5h0M350.5,48.3h0M337.3,47.6h0M354.1,40.6h0M343.9,40.9h0M348.5,42.1h0M347.9,42.4h0M344.3,49.2h0M344.6,49.1h0M352.3,54.7h0M347.3,48.6h0M349.0,42.3h0M355.1,52.3h0M342.4,42.2h0M342.4,42.1h0M354.5,50.0h0M348.4,35.9h0M349.4,37.2h0M350.1,36.8h0M340.0,45.9h0M351.5,37.4h0M339.5,42.4h0M338.3,51.8h0M338.5,51.9h0M348.3,54.1h0M348.5,53.8h0M349.5,54.5h0M353.8,54.2h0M353.7,53.5h0M344.5,35.4h0M343.9,34.6h0M342.5,37.9h0M345.9,48.2h0M345.5,48.0h0M350.2,50.7h0M344.4,50.4h0M356.7,46.9h0M357.1,48.0h0M355.6,44.4h0M355.0,44.5h0M356.1,49.0h0M355.9,49.0h0M355.3,48.6h0M348.2,54.2h0M351.8,45.4h0M356.2,52.7h0M358.8,55.2h0M346.3,42.8h0M342.8,44.1h0M343.9,44.6h0M343.2,43.8h0M345.0,40.6h0M358.2,53.4h0M348.0,48.8h0M356.7,54.1h0M353.6,55.3h0M355.8,47.3h0M356.1,46.5h0M345.7,47.0h0M349.3,52.2h0M343.0,42.4h0M353.0,49.5h0M351.9,49.4h0M358.8,50.4h0M355.3,46.9h0M351.5,53.2h0M350.3,43.9h0M349.4,44.5h0M356.6,48.7h0M355.7,47.6h0M357.1,48.1h0M338.2,48.8h0M360.0,54.2h0M359.2,53.4h0M359.2,54.0h0M335.7,46.7h0M360.6,53.0h0M359.9,54.3h0M349.4,36.8h0M356.4,56.6h0M356.8,56.2h0M347.9,36.7h0M346.7,37.2h0M342.7,46.0h0M342.5,45.7h0M346.2,34.5h0M355.6,55.5h0M349.2,43.2h0M355.9,52.7h0M357.2,52.8h0M358.0,52.1h0M351.7,49.7h0M342.5,46.4h0M356.7,50.9h0M346.0,41.9h0M349.2,43.3h0M352.9,48.1h0M354.5,47.3h0M353.5,51.9h0M353.5,50.4h0M357.4,56.9h0M346.6,55.2h0M345.3,48.0h0M346.2,48.3h0M356.8,51.7h0M349.5,41.1h0M335.7,53.2h0M336.2,53.7h0M347.9,47.4h0M334.6,51.1h0M348.5,39.1h0M336.9,54.0h0M346.8,38.0h0M347.0,38.2h0M345.6,39.6h0M349.7,37.6h0M352.9,44.9h0M347.6,41.3h0M347.0,41.8h0M349.4,44.5h0M348.2,48.7h0M347.1,43.8h0M348.6,49.6h0M352.9,42.9h0M357.1,48.5h0M336.0,51.2h0M342.6,43.5h0M341.8,38.2h0M343.1,39.4h0M351.6,40.1h0M351.8,41.5h0M346.8,46.5h0M347.1,51.3h0M344.3,36.9h0M339.5,48.5h0M339.8,49.8h0M350.4,55.2h0M351.2,55.5h0M345.8,44.8h0M345.6,46.0h0M345.2,45.6h0M348.0,40.5h0M347.9,40.4h0M350.4,48.5h0M347.6,35.7h0M347.4,35.3h0M340.7,44.3h0M340.6,45.6h0M334.4,54.6h0M351.7,47.0h0M351.7,46.2h0M338.8,51.8h0M339.9,52.0h0M346.6,45.9h0M345.9,45.7h0M347.9,49.5h0M347.5,49.1h0M349.1,51.7h0M350.5,51.9h0M349.3,44.2h0M349.4,45.2h0M352.5,45.6h0M340.6,42.5h0M341.0,42.1h0M352.6,38.2h0M348.0,46.7h0M348.1,46.6h0M346.2,35.8h0M349.2,50.7h0M349.0,50.9h0M346.3,37.1h0M346.9,38.4h0M350.3,53.7h0M357.0,49.4h0M355.5,49.4h0M348.0,55.0h0M342.2,46.6h0M345.5,42.9h0M347.1,38.2h0M344.8,38.7h0M347.4,37.1h0M358.7,51.5h0M351.0,53.6h0M350.5,53.8h0M348.7,53.8h0M354.5,54.6h0M341.5,43.1h0M353.0,48.2h0M352.9,48.6h0M335.8,48.9h0M337.0,49.2h0M356.8,52.4h0M356.7,53.6h0M356.0,47.8h0M351.6,46.9h0M345.0,54.0h0M346.5,54.6h0M350.6,50.5h0M350.4,49.8h0M339.8,47.8h0M349.0,51.9h0M349.2,52.4h0M351.7,50.0h0M353.3,51.5h0M353.1,50.7h0M353.1,51.0h0M338.1,48.6h0M357.3,56.5h0M350.9,38.0h0M356.8,56.9h0M350.5,46.1h0M350.4,45.9h0M350.2,47.6h0M349.6,47.2h0M358.0,49.9h0M358.5,50.9h0M341.3,54.1h0M347.8,41.9h0M339.4,40.7h0M339.6,42.4h0M347.6,46.2h0M347.0,46.5h0M349.6,46.8h0M349.5,47.8h0M349.7,35.4h0M345.1,53.5h0M346.5,52.3h0M345.9,53.6h0M339.8,41.9h0M351.7,55.8h0M352.9,56.0h0M352.9,55.7h0M347.2,56.3h0M346.8,55.6h0M351.3,55.8h0M348.2,50.4h0M359.8,54.8h0M350.9,49.6h0M346.9,37.9h0M357.3,57.4h0M358.7,56.5h0M355.9,55.9h0M344.7,43.6h0M344.7,43.9h0M349.3,39.1h0M351.7,43.7h0M350.7,44.8h0M353.5,41.2h0M353.2,41.8h0M353.6,40.9h0M347.6,41.2h0M352.7,45.4h0M349.9,47.7h0M351.0,51.0h0M353.2,54.1h0M360.3,53.9h0M359.6,54.3h0M339.2,41.2h0M338.7,43.3h0M351.0,37.0h0M356.6,55.0h0M350.5,44.5h0M344.7,49.7h0M344.4,41.5h0M344.9,41.2h0M347.2,48.2h0M346.4,48.4h0M357.9,50.0h0M349.7,41.9h0M344.8,42.6h0M351.0,46.0h0M347.0,39.4h0M357.3,52.0h0M353.7,51.7h0M352.5,53.8h0M354.2,53.3h0M340.6,41.5h0M347.0,54.6h0M347.4,53.9h0M349.5,41.8h0M358.3,58.9h0M346.5,46.8h0M345.2,46.7h0M345.5,46.8h0M345.0,40.5h0M346.3,51.8h0M347.4,52.4h0M358.9,51.7h0M348.0,40.1h0M347.6,39.9h0M352.9,45.6h0M338.9,45.6h0M341.5,40.5h0M341.5,39.5h0M346.1,52.9h0M346.9,50.0h0M360.5,54.2h0M363.8,54.4h0M361.2,54.2h0M361.4,53.2h0M362.7,56.9h0M360.4,52.1h0M360.2,53.2h0M362.8,56.6h0M362.7,55.5h0M363.5,53.6h0M363.0,53.1h0M363.1,52.8h0M363.2,52.9h0M363.2,57.9h0M363.8,56.4h0M360.7,58.8h0M359.3,53.2h0M359.7,52.9h0M363.9,52.9h0M364.0,51.5h0M360.7,54.1h0M360.9,54.9h0M361.2,55.7h0M344.4,63.1h0M354.1,68.4h0M355.1,69.2h0M351.0,62.9h0M334.7,81.1h0M352.2,72.4h0M348.8,61.9h0M343.4,54.3h0M334.8,58.7h0M353.8,77.0h0M360.4,82.9h0M359.6,64.5h0M357.9,64.6h0M358.4,66.0h0M346.7,58.9h0M357.9,67.7h0M344.6,58.6h0M338.1,62.0h0M346.2,55.8h0M347.2,60.2h0M348.0,60.3h0M348.3,58.1h0M336.6,56.0h0M335.8,55.1h0M361.9,67.4h0M362.3,76.2h0M337.3,63.6h0M347.9,66.8h0M359.4,60.4h0M341.8,65.4h0M352.4,71.8h0M354.7,58.1h0M337.3,64.3h0M355.5,69.0h0M359.0,86.4h0M340.3,57.8h0M346.6,72.5h0M335.5,69.5h0M354.2,67.9h0M352.8,68.1h0M344.0,61.4h0M356.3,68.3h0M363.4,60.3h0M349.3,54.3h0M338.9,58.1h0M339.4,57.1h0M355.8,57.9h0M356.4,76.9h0M356.8,78.6h0M357.8,64.0h0M346.3,61.9h0M353.0,64.7h0M352.8,79.6h0M337.0,71.3h0M341.0,61.2h0M351.7,56.6h0M334.8,67.2h0M357.8,59.6h0M339.3,67.1h0M352.7,66.1h0M357.1,72.7h0M358.8,77.5h0M359.2,76.9h0M354.1,61.2h0M342.8,66.1h0M354.9,58.2h0M353.8,58.1h0M355.5,72.8h0M353.7,63.7h0M350.0,53.1h0M335.4,52.5h0M347.3,58.9h0M335.9,56.2h0M336.4,74.6h0M350.0,54.2h0M350.8,53.8h0M357.7,67.5h0M358.6,67.4h0M351.7,72.9h0M352.3,72.9h0M336.6,63.4h0M336.6,63.5h0M351.2,74.6h0M353.1,57.7h0M350.4,56.8h0M344.0,66.3h0M360.5,71.9h0M360.5,71.0h0M358.1,61.6h0M356.8,77.0h0M344.4,62.4h0M344.3,60.3h0M360.2,58.4h0M361.3,59.5h0M338.7,59.4h0M359.1,60.2h0M343.6,65.4h0M352.5,78.9h0M340.6,61.4h0M347.8,54.2h0M357.1,79.7h0M356.6,71.6h0M359.5,62.6h0M337.8,61.0h0M341.2,70.0h0M352.3,57.1h0M345.5,69.3h0M353.2,72.8h0M348.1,72.2h0M359.0,67.2h0M360.6,72.4h0M351.8,65.6h0M351.4,57.6h0M350.7,58.8h0M348.3,67.0h0M351.1,74.4h0M343.6,73.7h0M363.8,62.8h0M350.4,70.1h0M349.4,69.5h0M345.6,53.8h0M344.7,58.5h0M356.4,56.1h0M360.5,72.9h0M361.0,73.3h0M359.8,73.2h0M356.5,79.8h0M362.8,65.3h0M363.5,66.0h0M360.5,70.5h0M337.2,67.6h0M350.4,61.1h0M356.6,81.4h0M352.2,98.5h0M359.4,76.5h0M358.6,76.1h0M348.2,62.1h0M334.2,91.5h0M346.9,97.4h0M333.2,94.6h0M338.9,57.6h0M349.2,65.2h0M358.0,72.8h0M358.3,73.3h0M358.0,72.6h0M361.8,71.0h0M355.8,71.5h0M358.4,54.6h0M358.9,56.0h0M344.4,68.0h0M352.7,86.1h0M353.1,66.9h0M361.1,58.4h0M362.1,58.2h0M350.5,85.5h0M361.3,62.0h0M355.0,59.5h0M361.4,64.3h0M341.7,60.4h0M343.4,59.7h0M353.3,61.8h0M350.8,60.9h0M351.5,59.9h0M339.6,63.9h0M335.7,52.7h0M359.3,75.7h0M352.4,74.9h0M361.5,58.0h0M343.7,59.3h0M358.8,67.9h0M359.1,68.4h0M346.4,98.0h0M348.5,86.2h0M358.8,71.5h0M363.7,75.6h0M362.8,76.2h0M361.1,60.0h0M352.6,60.6h0M354.9,70.4h0M339.4,58.8h0M350.1,74.5h0M349.3,75.2h0M343.5,57.1h0M343.7,57.9h0M343.3,56.6h0M357.4,79.3h0M346.5,57.5h0M345.8,57.3h0M337.0,62.3h0M338.3,60.9h0M357.2,72.4h0M356.8,72.3h0M356.9,73.1h0M339.7,63.3h0M359.3,62.4h0M357.6,74.0h0M353.9,58.1h0M360.7,60.9h0M362.4,62.3h0M363.6,62.1h0M357.9,58.7h0M357.2,70.4h0M355.8,64.8h0M345.9,59.0h0M346.6,56.8h0M336.4,56.3h0M360.3,77.7h0M360.3,70.2h0M344.3,62.8h0M347.5,59.1h0M346.2,59.5h0M351.4,63.7h0M341.2,56.1h0M363.0,56.1h0M361.4,55.5h0M361.6,56.4h0M360.3,79.8h0M355.3,54.7h0M355.6,55.3h0M336.0,75.2h0M360.7,78.4h0M360.8,78.1h0M361.4,77.9h0M342.0,63.9h0M352.2,58.1h0M339.7,67.8h0M342.8,57.0h0M344.1,56.1h0M352.4,73.7h0M360.7,74.4h0M339.6,91.1h0M342.8,68.9h0M343.5,64.2h0M361.4,75.7h0M339.6,69.5h0M337.7,51.7h0M340.4,71.4h0M349.4,68.9h0M353.0,70.0h0M338.4,88.4h0M344.7,56.3h0M336.0,67.1h0M358.6,79.3h0M355.6,69.2h0M352.9,64.1h0M363.9,74.5h0M362.7,74.8h0M363.0,74.1h0M350.3,71.8h0M351.4,70.1h0M344.3,56.9h0M349.1,57.7h0M346.9,72.2h0M357.9,77.8h0M348.9,71.2h0M356.8,89.2h0M338.0,55.3h0M363.2,60.8h0M363.8,60.0h0M357.2,79.8h0M354.5,72.2h0M342.6,64.4h0M336.1,52.1h0M350.4,77.0h0M350.7,71.4h0M356.9,70.0h0M355.7,69.2h0M361.2,55.5h0M361.5,78.3h0M361.8,78.1h0M358.0,66.8h0M350.5,80.0h0M362.4,77.3h0M345.8,65.3h0M355.6,58.0h0M355.6,55.8h0M349.0,70.4h0M350.7,59.5h0M351.4,62.1h0M346.3,62.1h0M347.3,62.7h0M353.9,79.7h0M342.7,84.3h0M341.5,57.5h0M359.9,79.4h0M338.1,55.6h0M349.7,65.5h0M344.4,54.6h0M340.7,67.6h0M339.6,68.2h0M336.2,67.6h0M355.4,74.6h0M346.4,75.6h0M352.4,69.4h0M354.8,56.0h0M355.4,57.0h0M343.2,55.7h0M360.7,56.3h0M358.6,62.0h0M341.1,65.1h0M349.1,71.9h0M361.0,71.4h0M353.4,59.7h0M359.7,70.6h0M351.2,69.2h0M346.8,60.6h0M346.6,58.5h0M358.5,72.5h0M339.4,57.3h0M345.6,66.2h0M353.1,55.8h0M363.8,68.2h0M355.5,74.8h0M357.7,74.6h0M358.2,75.1h0M350.7,53.4h0M355.4,84.8h0M353.5,63.4h0M351.2,76.3h0M359.8,79.5h0M361.1,68.9h0M350.3,60.8h0M364.0,73.5h0M361.0,65.1h0M346.2,61.6h0M348.7,59.2h0M361.2,56.4h0M360.8,56.2h0M335.7,59.6h0M355.5,72.1h0M356.0,73.0h0M357.1,67.7h0M357.7,68.3h0M352.2,81.8h0M362.1,62.9h0M351.0,71.9h0M347.2,66.4h0M348.7,53.0h0M362.6,56.7h0M363.1,57.0h0M350.9,57.5h0M346.9,68.6h0M360.5,62.5h0M359.5,63.3h0M350.0,61.3h0M350.6,61.8h0M335.6,72.9h0M336.1,73.1h0M359.9,68.9h0M363.1,77.9h0M347.6,65.8h0M351.3,61.9h0M352.2,62.4h0M342.5,68.3h0M362.8,60.5h0M356.3,73.5h0M355.8,72.8h0M344.5,66.7h0M344.9,66.9h0M348.0,74.3h0M358.0,62.6h0M354.4,70.0h0M358.6,69.1h0M339.5,57.8h0M359.7,65.3h0M349.2,81.5h0M338.7,53.2h0M342.7,69.6h0M349.0,67.0h0M351.0,60.5h0M351.9,68.2h0M353.6,57.0h0M352.3,56.5h0M346.7,56.8h0M348.4,63.5h0M342.7,61.1h0M338.1,55.7h0M351.9,55.0h0M337.1,58.5h0M355.2,62.2h0M342.1,66.7h0M355.9,63.7h0M359.6,68.7h0M360.2,68.7h0M357.1,68.1h0M348.1,59.7h0M346.2,70.1h0M364.0,68.4h0M363.9,66.6h0M363.7,65.1h0M363.8,71.8h0M363.2,71.8h0M362.0,61.2h0M362.5,62.0h0M363.5,61.0h0M363.9,61.0h0M361.9,62.0h0M362.4,62.1h0M345.9,39.7h0M342.6,40.8h0M352.0,47.5h0M355.7,53.3h0M345.0,44.1h0M352.4,40.8h0M352.2,50.5h0M345.7,46.8h0M360.5,66.3h0M335.6,62.6h0M353.3,61.5h0M364.0,88.8h0M361.4,67.6h0" stroke="#5fb0e4"/><path d="M349.9,43.5h0M357.1,52.8h0M339.0,43.9h0M341.5,38.9h0M358.8,53.4h0M344.6,49.7h0M350.0,51.9h0M355.1,47.9h0M349.7,46.3h0M353.7,44.1h0M343.2,43.1h0M349.7,42.9h0M349.8,37.5h0M345.8,36.9h0M346.2,37.4h0M352.7,44.3h0M355.2,48.3h0M352.3,40.3h0M346.3,49.4h0M343.0,39.4h0M350.7,43.2h0M348.1,37.0h0M348.0,37.7h0M358.2,52.4h0M349.6,38.6h0M342.3,50.7h0M343.6,40.8h0M336.3,48.8h0M339.3,42.1h0M344.6,48.3h0M343.4,49.5h0M356.7,47.9h0M354.3,46.4h0M356.1,53.5h0M354.8,53.7h0M359.5,56.0h0M358.7,54.5h0M347.0,46.0h0M359.4,51.0h0M352.7,53.7h0M350.6,46.6h0M350.5,37.0h0M348.7,38.3h0M348.5,42.5h0M349.1,42.5h0M355.5,50.6h0M346.2,40.6h0M354.2,49.1h0M348.3,42.9h0M355.5,56.9h0M346.2,54.5h0M350.6,41.5h0M337.0,44.6h0M336.9,45.4h0M339.2,45.4h0M347.5,39.3h0M354.2,54.1h0M349.8,37.5h0M348.7,44.5h0M348.5,49.5h0M348.6,41.9h0M347.5,41.9h0M357.3,47.9h0M337.5,49.2h0M341.3,46.4h0M339.2,46.0h0M349.5,40.5h0M351.6,51.2h0M346.1,35.4h0M338.5,45.1h0M341.3,55.1h0M338.9,45.7h0M349.4,50.1h0M350.7,53.6h0M358.2,50.9h0M357.0,49.3h0M346.4,42.3h0M358.8,52.6h0M359.4,52.4h0M354.5,43.3h0M343.0,42.9h0M340.6,42.7h0M335.9,48.8h0M357.7,53.6h0M352.0,46.2h0M335.2,55.2h0M358.6,56.8h0M358.0,49.7h0M347.4,41.9h0M338.7,41.5h0M350.0,46.6h0M351.9,46.1h0M352.3,46.6h0M351.7,47.1h0M348.0,50.5h0M348.5,50.5h0M360.7,54.4h0M350.7,48.7h0M346.9,38.3h0M354.8,55.7h0M337.7,51.7h0M353.8,56.9h0M353.2,55.4h0M344.0,44.0h0M350.4,48.4h0M350.1,48.0h0M352.8,50.0h0M350.8,36.9h0M353.8,41.4h0M349.4,45.3h0M350.7,45.1h0M356.6,49.1h0M350.3,45.4h0M357.2,51.5h0M350.6,42.5h0M358.7,57.0h0M358.7,57.2h0M351.9,43.3h0M347.1,50.1h0M357.2,49.5h0M362.8,58.7h0M361.8,50.9h0M361.5,54.4h0M362.2,53.3h0M363.6,50.5h0M363.8,57.8h0M363.9,56.4h0M363.9,56.1h0M362.9,56.8h0M361.1,53.7h0M358.7,81.0h0M359.4,80.1h0M355.5,72.1h0M361.2,78.6h0M335.5,58.3h0M359.1,82.8h0M361.1,83.1h0M357.9,73.9h0M359.2,72.8h0M345.8,69.0h0M356.2,61.6h0M342.7,72.9h0M360.7,76.0h0M355.1,57.2h0M350.1,55.3h0M344.7,86.4h0M353.4,64.6h0M354.0,65.7h0M353.6,55.8h0M352.8,66.5h0M343.9,66.2h0M335.6,51.7h0M349.8,54.9h0M352.9,57.9h0M358.0,69.4h0M359.5,61.3h0M346.9,54.6h0M359.2,72.2h0M357.1,71.5h0M348.9,60.1h0M353.3,57.5h0M352.2,74.3h0M346.6,74.7h0M339.6,89.4h0M358.5,55.3h0M361.0,61.8h0M339.6,61.1h0M357.6,56.3h0M337.5,62.9h0M361.2,70.7h0M346.4,62.4h0M349.3,61.4h0M358.0,72.7h0M354.3,67.6h0M354.2,59.1h0M333.9,52.6h0M350.5,66.8h0M362.4,60.8h0M346.8,74.6h0M361.8,57.4h0M335.1,53.8h0M356.9,79.8h0M363.9,61.5h0M359.9,82.1h0M338.8,87.4h0M337.4,64.3h0M339.9,63.1h0M356.1,71.4h0M355.8,65.4h0M344.4,58.5h0M346.9,57.0h0M352.7,59.3h0M358.6,60.2h0M361.3,76.2h0M340.6,53.1h0M362.2,78.4h0M355.1,57.8h0M347.2,54.1h0M360.0,76.7h0M355.2,56.8h0M355.9,57.5h0M341.4,87.8h0M359.3,70.0h0M351.4,68.1h0M346.5,66.5h0M355.8,75.2h0M339.0,54.0h0M358.1,75.0h0M352.8,53.9h0M351.4,55.1h0M359.8,79.1h0M350.9,75.8h0M346.0,61.4h0M349.3,59.7h0M356.6,53.6h0M355.1,69.2h0M358.7,62.6h0M362.5,68.8h0M350.6,56.7h0M359.2,69.9h0M359.6,70.5h0M358.3,64.9h0M359.4,64.3h0M357.0,68.5h0M337.2,54.7h0M357.1,55.9h0M344.1,59.7h0M343.7,58.9h0M351.8,55.1h0M362.8,62.7h0M362.4,62.6h0M363.5,63.0h0M360.9,60.7h0M362.7,61.7h0M347.3,42.0h0M351.5,45.5h0M360.8,76.6h0M359.3,78.9h0M347.9,72.3h0M358.4,77.7h0M359.3,59.5h0M350.1,54.7h0M356.3,76.6h0M355.7,76.4h0" stroke="#f3c2c6"/><path d="M339.7,50.1h0M344.5,50.0h0M344.9,48.7h0M340.9,46.0h0M344.3,49.8h0M348.9,47.5h0M339.2,50.1h0M343.1,52.1h0M339.0,45.5h0M340.2,46.3h0M340.9,53.7h0M338.7,44.3h0M339.2,45.6h0M340.5,51.4h0M339.2,54.3h0M345.2,52.8h0M340.0,50.4h0M346.1,49.7h0M354.0,51.7h0M349.4,100.6h0M349.8,101.8h0M348.5,82.7h0M349.8,95.2h0M356.9,86.9h0M334.8,96.0h0M357.7,92.5h0M355.6,81.0h0M344.9,75.3h0M354.7,99.6h0M347.0,89.6h0M354.0,100.1h0M340.3,74.6h0M359.3,93.8h0M340.8,56.2h0M352.2,79.1h0M338.5,71.7h0M341.2,84.3h0M348.5,74.7h0M342.1,81.7h0M340.4,54.0h0M351.3,81.9h0M339.4,76.2h0M343.2,55.1h0M338.5,81.8h0M336.7,81.0h0M337.8,82.1h0M337.7,94.3h0M339.4,58.3h0M353.4,78.3h0M356.4,78.1h0M340.3,81.8h0M359.8,94.4h0M344.0,53.4h0M355.3,88.1h0M351.2,76.5h0M351.2,75.9h0M339.3,89.6h0M348.3,100.7h0M354.8,80.3h0M346.7,63.2h0M343.2,86.2h0M332.5,99.8h0M331.8,99.5h0M339.1,51.5h0M354.1,85.4h0M341.4,95.2h0M342.0,93.9h0M349.6,86.8h0M343.4,56.1h0M345.8,83.0h0M345.3,100.7h0M349.9,91.5h0M353.5,77.2h0M344.4,83.3h0M344.1,84.7h0M343.6,96.6h0M354.9,89.0h0M340.5,90.1h0M341.7,90.4h0M343.5,86.8h0M350.7,101.0h0M339.6,58.2h0M344.7,78.7h0M335.6,53.7h0M352.4,91.8h0M344.4,98.2h0M347.7,87.9h0M348.4,87.9h0M346.1,98.6h0M350.1,77.8h0M338.2,71.8h0M348.4,92.9h0M336.6,76.5h0M348.3,74.8h0M343.8,89.3h0M345.1,86.0h0M331.8,99.7h0M344.7,55.7h0M353.3,82.7h0M342.9,89.4h0M340.4,82.5h0M342.1,81.0h0M345.0,73.6h0M356.8,79.6h0M337.2,87.1h0M346.8,64.4h0M344.0,91.0h0M356.4,95.0h0M351.7,82.7h0M337.9,91.6h0M346.7,91.5h0M345.5,87.5h0M346.2,87.8h0M342.7,84.3h0M352.2,84.1h0M344.9,88.1h0M338.7,55.1h0M343.5,95.9h0M337.5,92.9h0M352.5,101.7h0M333.6,82.5h0M347.5,77.1h0M347.0,80.2h0M346.6,78.9h0M332.8,101.6h0M344.4,89.9h0M355.6,94.1h0M357.9,90.8h0M356.6,88.9h0M353.0,82.0h0M354.5,63.0h0M352.8,82.8h0M357.7,90.5h0M351.8,82.3h0M346.9,88.9h0M339.4,78.4h0M340.8,75.0h0M343.4,52.8h0M352.0,96.1h0M346.5,98.8h0M346.7,98.7h0M357.8,88.5h0M357.3,89.0h0M339.8,62.9h0M346.6,73.5h0M352.7,89.4h0M358.2,63.0h0M344.6,94.5h0M342.4,56.3h0M344.7,74.1h0M350.6,79.2h0M346.4,57.3h0M358.2,62.0h0M350.5,97.0h0M358.2,94.5h0M337.2,93.0h0M347.8,89.3h0M348.5,89.1h0M344.9,80.1h0M343.6,55.3h0M339.5,83.1h0" stroke="#f7e8b0"/><path d="M340.3,44.3h0M339.5,43.9h0M339.6,53.5h0M344.7,48.6h0M346.6,47.1h0M353.5,43.5h0M339.7,50.0h0M343.8,53.3h0M357.0,49.9h0M343.5,48.4h0M342.1,55.5h0M343.1,46.6h0M339.2,51.0h0M338.7,50.6h0M351.3,49.7h0M353.4,47.1h0M338.1,52.1h0M351.2,50.2h0M356.5,56.5h0M342.2,51.8h0M354.6,46.4h0M338.7,45.8h0M340.1,52.9h0M356.3,45.9h0M341.1,49.0h0M346.5,45.2h0M347.6,46.2h0M340.4,49.6h0M349.9,44.7h0M345.9,44.9h0M338.8,50.8h0M341.1,53.6h0M357.5,54.8h0M338.9,46.6h0M357.7,50.8h0M341.2,50.9h0M341.1,51.4h0M340.3,50.7h0M343.2,55.3h0M342.7,55.2h0M340.3,51.5h0M341.1,50.3h0M345.3,53.5h0M348.0,41.5h0M343.0,51.6h0M338.9,50.4h0M346.5,53.6h0M339.5,46.0h0M346.7,52.8h0M342.3,91.3h0M342.9,57.9h0M349.4,82.3h0M341.3,68.0h0M335.8,93.7h0M356.3,78.4h0M354.3,77.5h0M339.4,67.8h0M340.2,77.8h0M347.1,92.8h0M347.3,92.8h0M346.5,88.9h0M349.4,77.5h0M349.5,76.9h0M341.5,83.3h0M341.2,82.8h0M340.6,83.6h0M359.2,92.3h0M355.7,97.9h0M356.9,96.5h0M339.7,74.8h0M339.6,74.0h0M356.4,81.7h0M341.1,54.2h0M345.6,76.5h0M344.5,55.1h0M337.1,89.8h0M347.3,90.6h0M342.2,54.6h0M336.3,74.8h0M347.6,83.7h0M336.5,72.7h0M342.1,74.3h0M360.3,93.7h0M348.5,88.9h0M348.2,89.1h0M352.5,70.5h0M354.3,91.9h0M352.0,90.6h0M355.4,100.3h0M344.4,91.8h0M337.9,93.8h0M359.9,85.2h0M332.4,100.0h0M332.7,101.1h0M348.1,77.7h0M342.3,56.1h0M358.1,91.5h0M332.9,96.2h0M341.9,78.5h0M357.0,89.0h0M350.9,93.8h0M355.9,69.2h0M341.3,69.4h0M332.2,101.5h0M349.2,96.2h0M339.0,91.5h0M341.4,83.3h0M340.2,75.3h0M355.3,79.7h0M350.8,96.6h0M358.6,77.9h0M340.3,77.2h0M338.8,96.0h0M339.8,97.0h0M352.6,82.6h0M343.3,81.1h0M352.2,82.3h0M343.2,99.2h0M343.7,80.9h0M345.6,75.0h0M343.4,82.9h0M343.8,81.8h0M351.4,81.6h0M354.0,95.7h0M351.1,84.3h0M346.3,84.0h0M346.2,84.7h0M350.5,92.1h0M350.6,102.6h0M348.0,76.9h0M337.7,79.2h0M337.7,80.3h0M358.6,89.0h0M338.7,58.2h0M355.8,83.1h0M351.3,77.8h0M352.3,97.0h0M355.4,78.6h0M349.8,73.3h0M343.5,98.9h0M345.3,75.3h0M356.2,79.1h0M356.0,78.8h0M333.4,101.3h0M349.9,100.6h0M337.0,86.3h0M358.6,93.7h0M339.2,51.4h0M345.1,100.6h0M350.8,93.7h0M342.3,54.4h0M347.0,80.5h0M341.9,86.2h0M336.9,84.4h0M360.2,89.1h0M351.3,75.5h0M340.0,89.3h0M340.3,90.5h0M354.8,102.1h0M353.7,95.6h0M346.9,80.1h0M351.1,60.2h0M338.8,96.3h0M337.8,95.8h0M339.9,85.4h0M353.1,83.6h0M346.1,82.5h0M347.1,82.6h0M333.2,95.4h0M336.1,85.6h0M354.5,96.0h0M345.8,76.5h0M333.5,78.0h0M344.5,100.1h0M349.7,92.3h0M350.3,92.0h0M334.9,87.3h0M334.7,86.5h0M356.8,90.2h0M353.7,78.0h0M354.0,74.5h0M336.0,82.7h0M353.7,78.2h0M357.5,91.8h0M346.6,74.7h0M333.8,78.2h0M332.5,76.7h0M353.0,74.2h0M352.3,82.0h0M342.5,94.5h0M355.3,89.7h0M342.0,87.9h0M351.4,101.1h0M346.1,92.6h0M351.4,95.2h0M348.9,74.0h0M350.9,91.2h0M333.6,91.9h0M346.2,98.9h0M346.3,83.9h0M342.6,92.5h0M348.9,88.2h0M348.1,87.7h0M334.7,83.9h0M341.5,79.0h0M345.9,76.4h0M349.8,88.5h0M347.2,85.3h0M347.7,85.7h0M355.2,98.0h0M338.2,73.2h0M336.8,86.3h0M338.3,89.8h0M341.1,50.6h0M350.1,92.4h0M346.0,73.2h0M345.9,73.5h0M337.1,73.9h0M347.0,93.9h0M346.3,93.7h0M355.9,94.3h0M353.6,94.2h0M333.9,100.3h0M352.1,74.3h0M335.3,82.6h0M338.7,90.0h0M340.1,89.8h0M351.1,101.5h0M342.1,94.3h0M358.6,87.0h0M344.2,87.0h0M343.0,97.3h0M340.7,72.9h0M346.9,99.7h0M346.3,100.3h0M344.1,78.6h0M342.7,89.5h0M346.7,77.7h0M346.4,77.3h0M348.0,74.7h0M340.8,52.8h0M358.8,89.0h0M343.7,57.4h0M345.7,74.5h0M350.9,94.9h0M343.9,56.3h0M350.2,63.8h0M335.5,82.5h0M338.3,55.9h0M338.6,56.8h0M354.0,72.6h0M355.5,100.6h0M354.5,102.4h0M336.1,87.7h0M354.2,89.5h0M335.0,93.4h0M349.2,82.0h0M345.2,75.5h0M351.8,84.5h0M339.1,92.3h0M356.0,94.7h0M342.5,88.8h0M339.5,82.5h0M356.2,85.4h0M358.0,85.4h0M354.4,78.0h0M345.2,88.2h0M337.8,93.3h0M353.1,81.2h0M356.7,95.5h0M340.9,83.9h0M335.3,75.4h0M336.6,74.8h0M335.8,74.3h0M346.6,53.8h0M359.2,77.3h0M343.0,95.2h0M351.2,61.9h0M345.2,54.0h0M344.7,99.3h0M344.3,99.8h0M344.1,78.0h0M345.2,72.0h0M337.4,92.5h0M336.7,94.2h0M341.2,98.6h0M341.3,98.2h0M343.7,89.6h0M332.6,100.1h0M351.0,102.1h0M336.5,94.2h0M347.8,99.3h0M345.3,95.5h0M332.9,101.4h0M332.7,101.2h0M334.0,87.8h0M345.8,89.5h0M344.4,89.6h0M342.2,88.1h0M348.2,82.8h0M349.1,55.0h0M353.3,81.3h0M352.6,79.9h0M349.9,91.8h0M351.7,101.6h0M349.2,89.4h0M345.5,82.6h0M346.5,76.7h0M347.0,93.3h0M353.0,97.6h0M339.2,54.1h0M334.5,101.7h0M357.9,82.9h0M357.5,82.1h0M344.9,79.1h0M357.8,74.6h0M335.4,89.9h0M344.1,80.1h0M352.5,84.0h0M351.1,78.3h0M344.1,95.7h0M356.5,100.2h0M339.4,84.4h0M356.5,78.5h0M349.7,77.8h0M345.7,93.9h0M357.0,92.1h0M351.7,84.9h0M334.7,72.1h0M343.6,78.6h0M357.7,98.7h0M350.5,90.6h0M350.8,90.8h0M346.6,88.0h0M339.0,79.9h0M341.2,75.3h0M343.5,82.4h0M353.1,94.3h0M354.3,95.0h0M348.3,64.8h0M354.4,94.4h0M343.7,81.9h0M346.6,98.8h0M350.5,76.3h0M357.0,89.5h0M348.4,82.2h0M345.0,85.7h0M345.2,86.1h0M335.4,91.7h0M351.1,101.4h0M347.2,85.8h0M338.0,51.5h0M353.3,89.2h0M345.8,94.1h0M341.6,92.9h0M341.3,92.9h0M348.8,80.5h0M351.9,92.4h0M339.4,53.0h0M337.0,80.3h0M352.6,100.0h0M352.2,88.9h0M339.0,55.4h0M337.8,73.6h0M351.2,84.8h0M344.2,80.4h0M341.1,86.9h0M339.5,87.8h0M347.6,100.8h0M347.7,101.0h0M342.2,75.0h0M343.6,72.4h0M350.7,97.4h0M343.2,77.7h0M336.5,93.9h0M347.0,85.6h0M352.4,96.6h0M347.4,88.4h0M355.1,96.4h0M335.1,79.0h0M338.2,88.8h0M336.8,74.0h0M335.0,94.4h0M354.0,100.6h0M342.5,81.4h0M334.9,69.5h0M345.6,78.7h0M347.1,74.8h0" stroke="#f58a8e"/><path d="M352.6,42.9h0M339.9,50.9h0M357.9,55.9h0M356.0,54.1h0M355.3,53.8h0M357.5,52.7h0M356.2,52.5h0M357.2,53.3h0M344.6,40.6h0M344.6,41.4h0M344.7,52.0h0M344.6,54.6h0M346.3,54.0h0M353.4,55.9h0M350.5,44.7h0M350.4,44.1h0M356.4,53.6h0M342.1,39.0h0M358.1,53.8h0M343.7,48.3h0M342.4,47.6h0M350.4,50.5h0M349.4,50.2h0M360.6,51.4h0M360.7,52.4h0M360.5,51.5h0M360.7,50.7h0M360.1,51.5h0M344.2,37.5h0M342.5,36.9h0M343.1,36.0h0M356.3,53.4h0M356.7,51.7h0M349.3,51.6h0M345.9,47.5h0M346.1,47.0h0M354.4,56.0h0M354.5,44.5h0M355.3,48.3h0M355.2,48.0h0M353.7,50.8h0M349.6,46.3h0M350.5,45.6h0M349.8,44.5h0M349.9,52.5h0M343.7,40.6h0M350.1,45.9h0M349.5,46.8h0M340.0,41.3h0M351.2,47.0h0M352.6,47.2h0M351.0,46.5h0M353.3,44.7h0M350.2,34.9h0M349.8,35.0h0M350.4,35.2h0M345.1,45.1h0M346.1,48.2h0M346.1,48.6h0M345.7,47.9h0M342.4,43.3h0M346.4,45.8h0M344.3,54.0h0M344.4,54.8h0M340.6,51.2h0M349.6,43.4h0M355.9,42.7h0M344.9,53.3h0M345.1,53.0h0M349.9,36.9h0M346.9,41.9h0M343.9,53.8h0M352.9,44.1h0M352.0,44.7h0M356.5,47.5h0M352.8,41.4h0M357.5,52.3h0M354.1,55.2h0M355.6,49.4h0M356.4,49.4h0M351.0,40.5h0M351.9,41.2h0M351.3,40.9h0M352.0,41.6h0M347.5,50.0h0M348.0,50.5h0M344.9,48.2h0M343.3,48.2h0M342.9,38.7h0M353.0,36.9h0M352.4,37.6h0M352.9,36.6h0M350.7,46.7h0M343.4,55.0h0M348.4,51.3h0M348.6,51.8h0M351.6,43.8h0M342.6,38.6h0M339.0,45.8h0M356.0,52.6h0M356.8,52.4h0M356.0,52.1h0M353.0,55.0h0M341.2,40.1h0M340.3,39.4h0M349.3,53.9h0M349.4,54.3h0M358.1,52.3h0M359.6,52.7h0M345.3,47.7h0M336.5,48.4h0M351.0,46.6h0M350.0,46.1h0M346.4,52.6h0M337.5,52.1h0M348.1,41.8h0M349.6,48.2h0M349.4,48.1h0M342.9,46.0h0M341.7,44.9h0M353.8,41.1h0M354.5,41.6h0M342.0,51.0h0M342.5,41.6h0M347.0,42.1h0M347.3,54.4h0M346.8,53.7h0M346.5,53.5h0M344.5,49.5h0M350.9,55.5h0M351.1,55.4h0M347.3,48.8h0M347.4,47.4h0M337.4,49.6h0M349.9,42.9h0M350.7,42.3h0M348.2,34.5h0M348.4,35.3h0M348.6,36.3h0M354.9,51.9h0M342.8,41.8h0M341.6,45.4h0M355.0,50.0h0M355.5,49.5h0M350.7,52.0h0M350.5,50.9h0M349.8,50.8h0M340.8,46.0h0M352.2,37.9h0M352.4,37.2h0M340.0,42.0h0M351.8,50.7h0M352.3,48.9h0M353.7,53.1h0M344.1,36.1h0M343.7,37.4h0M351.2,50.4h0M340.4,54.9h0M342.1,53.9h0M355.0,45.0h0M353.7,45.4h0M347.4,53.3h0M350.9,45.6h0M350.4,46.4h0M358.2,55.2h0M352.7,51.1h0M342.1,46.6h0M342.4,46.4h0M343.5,46.8h0M346.4,42.4h0M345.8,41.8h0M353.0,46.5h0M353.1,46.9h0M353.5,46.9h0M345.9,41.0h0M345.7,40.9h0M358.2,53.6h0M349.6,46.4h0M357.1,54.0h0M352.9,55.5h0M353.2,55.4h0M344.2,37.3h0M344.1,38.5h0M343.7,38.4h0M355.7,47.0h0M345.0,46.3h0M348.8,52.8h0M342.9,43.5h0M341.9,42.6h0M344.9,46.9h0M346.4,48.1h0M354.4,54.0h0M353.6,54.3h0M352.0,49.0h0M359.4,50.6h0M355.8,47.3h0M354.9,45.8h0M346.6,53.3h0M348.5,52.5h0M351.7,52.1h0M352.1,50.7h0M351.9,52.5h0M349.4,44.9h0M336.3,47.4h0M351.2,49.7h0M351.4,49.3h0M351.0,50.0h0M359.0,54.1h0M350.6,48.1h0M349.4,38.3h0M348.8,38.5h0M348.8,39.4h0M350.3,43.7h0M349.4,43.0h0M349.1,42.0h0M345.8,36.9h0M346.3,35.9h0M345.9,35.3h0M356.1,56.0h0M357.0,54.8h0M355.4,47.7h0M354.4,47.0h0M350.9,51.5h0M342.6,46.7h0M343.2,46.9h0M343.2,47.9h0M350.8,49.1h0M350.7,49.6h0M357.2,50.5h0M344.9,41.4h0M349.8,42.9h0M348.5,44.0h0M353.0,46.5h0M348.3,42.7h0M343.1,45.3h0M341.8,44.9h0M342.8,44.9h0M353.7,51.0h0M346.0,54.5h0M359.2,50.7h0M358.0,51.3h0M358.5,51.3h0M355.7,51.3h0M356.1,50.5h0M351.0,40.7h0M335.6,53.8h0M347.8,47.8h0M347.6,46.9h0M337.6,45.5h0M335.0,50.4h0M348.2,38.5h0M336.7,53.8h0M336.4,54.6h0M347.2,36.7h0M347.9,37.7h0M343.2,56.8h0M353.6,54.0h0M356.2,45.7h0M355.1,46.5h0M347.1,39.6h0M349.5,36.6h0M353.5,44.1h0M346.3,42.0h0M341.7,46.8h0M351.6,41.1h0M352.4,41.7h0M352.2,41.4h0M353.3,53.2h0M353.1,54.1h0M353.2,54.0h0M347.0,38.3h0M348.0,39.3h0M347.4,38.3h0M349.9,43.8h0M348.4,49.8h0M347.5,44.0h0M347.5,48.6h0M353.2,42.7h0M352.3,43.5h0M347.3,41.4h0M357.0,48.4h0M336.0,49.2h0M351.0,48.5h0M351.6,48.1h0M350.3,49.5h0M341.9,44.4h0M351.2,40.5h0M348.8,40.3h0M350.7,40.1h0M344.0,43.4h0M347.4,46.4h0M349.9,41.4h0M352.1,41.7h0M350.5,40.7h0M345.7,51.4h0M345.9,50.5h0M344.5,37.9h0M344.4,36.1h0M353.2,51.3h0M352.2,51.4h0M350.7,55.3h0M349.0,45.1h0M349.6,43.3h0M345.5,45.1h0M346.6,46.5h0M347.0,41.1h0M340.1,46.3h0M350.9,49.0h0M350.8,49.2h0M339.5,50.2h0M342.2,43.4h0M341.7,44.0h0M335.4,54.2h0M333.9,54.9h0M346.1,38.7h0M345.1,38.3h0M345.0,38.8h0M353.2,43.3h0M353.3,43.2h0M350.6,46.5h0M358.3,54.8h0M357.6,55.0h0M346.4,45.7h0M347.0,50.5h0M339.2,45.2h0M350.4,52.1h0M338.7,53.0h0M339.0,52.9h0M352.2,45.9h0M353.0,45.5h0M340.7,54.8h0M340.1,41.4h0M352.0,37.3h0M351.9,38.8h0M347.5,47.3h0M346.1,36.8h0M345.1,36.4h0M347.4,37.3h0M349.4,53.1h0M347.6,54.2h0M357.9,49.5h0M346.3,42.9h0M342.8,38.5h0M343.6,38.7h0M342.8,37.0h0M351.2,53.2h0M355.6,43.3h0M353.8,43.1h0M338.8,45.3h0M339.0,45.6h0M349.4,53.3h0M349.2,53.2h0M355.6,54.2h0M356.3,55.5h0M352.8,48.3h0M338.3,42.3h0M340.3,42.3h0M339.8,43.1h0M355.9,47.9h0M354.9,48.2h0M355.1,52.5h0M354.6,53.0h0M351.6,46.4h0M345.2,53.8h0M349.6,49.9h0M349.1,51.4h0M351.1,50.1h0M350.9,49.7h0M340.1,49.5h0M346.1,42.8h0M345.4,41.3h0M345.6,42.2h0M336.8,48.1h0M336.8,47.4h0M343.9,51.6h0M356.5,54.6h0M357.8,55.6h0M358.8,56.8h0M358.2,56.6h0M351.6,38.6h0M350.8,37.9h0M357.8,57.3h0M356.5,57.0h0M351.4,44.5h0M350.5,44.9h0M347.7,42.4h0M347.9,45.6h0M337.2,48.7h0M336.8,49.3h0M359.7,53.9h0M359.3,53.3h0M359.0,53.3h0M350.7,35.8h0M349.8,36.8h0M352.0,57.2h0M352.4,56.9h0M344.9,53.1h0M342.5,44.9h0M340.3,43.5h0M338.9,43.1h0M339.6,50.7h0M347.1,56.1h0M349.5,55.6h0M350.5,55.4h0M338.0,46.9h0M360.5,54.3h0M352.1,48.8h0M347.2,38.4h0M358.3,57.1h0M354.9,56.5h0M344.5,44.3h0M348.0,39.4h0M348.8,39.1h0M350.6,44.0h0M347.9,40.1h0M349.3,39.4h0M351.8,45.3h0M352.0,45.2h0M342.9,40.9h0M344.0,41.3h0M344.4,41.3h0M344.5,42.3h0M347.7,37.6h0M346.8,36.4h0M347.7,36.4h0M351.2,50.3h0M352.6,54.5h0M352.1,53.6h0M360.0,53.5h0M353.2,53.2h0M353.9,54.1h0M354.2,53.7h0M338.5,43.9h0M343.9,49.1h0M350.7,38.0h0M353.0,40.9h0M352.7,41.0h0M356.1,55.1h0M344.1,49.5h0M344.9,49.4h0M345.7,41.7h0M346.2,53.6h0M357.5,49.3h0M349.0,42.0h0M349.5,41.3h0M351.2,46.0h0M351.5,46.8h0M345.2,43.4h0M344.6,42.9h0M350.1,45.5h0M350.3,45.8h0M348.2,38.8h0M347.2,38.5h0M357.0,51.2h0M348.3,41.4h0M348.2,41.3h0M345.5,48.9h0M352.7,51.5h0M352.6,51.8h0M341.0,41.2h0M341.8,42.6h0M350.1,41.5h0M345.0,39.9h0M345.6,39.4h0M346.5,51.8h0M347.3,55.0h0M346.4,54.5h0M360.3,51.5h0M358.0,51.8h0M358.3,53.3h0M360.4,54.5h0M360.7,53.9h0M346.6,39.8h0M352.5,45.6h0M339.5,46.3h0M341.1,41.3h0M347.1,54.1h0M347.1,49.8h0M357.1,50.2h0M356.6,51.3h0M381.6,42.4h0M381.4,43.7h0M381.2,41.6h0M376.2,51.3h0M375.6,51.6h0M375.9,50.8h0M377.0,44.3h0M377.2,44.1h0M376.5,44.4h0M380.5,56.0h0M378.8,57.1h0M378.9,57.5h0M362.9,58.5h0M362.4,59.6h0M367.9,46.7h0M367.2,45.3h0M368.5,48.0h0M369.7,51.8h0M369.1,52.3h0M370.1,53.3h0M367.4,47.4h0M367.6,47.9h0M367.2,47.7h0M369.6,55.5h0M371.3,54.1h0M369.1,54.3h0M377.9,55.6h0M378.8,55.1h0M377.8,55.4h0M376.9,42.8h0M377.4,42.5h0M377.5,42.4h0M381.9,51.3h0M381.2,52.0h0M381.9,50.1h0M373.0,56.7h0M373.0,56.6h0M373.5,57.0h0M383.3,54.9h0M383.9,55.9h0M383.3,54.7h0M385.2,54.7h0M384.5,53.7h0M384.7,54.5h0M375.6,55.9h0M376.5,55.2h0M376.2,55.2h0M365.2,60.3h0M365.0,61.5h0M365.0,61.3h0M379.4,51.5h0M379.6,51.4h0M380.5,52.2h0M378.6,49.7h0M379.4,49.7h0M378.3,49.6h0M372.3,47.1h0M372.4,46.5h0M372.1,46.6h0M382.5,51.9h0M382.2,52.6h0M382.3,53.0h0M382.1,53.3h0M382.5,52.7h0M382.4,53.0h0M381.4,48.6h0M380.5,49.3h0M381.0,48.3h0M379.3,47.5h0M379.1,47.3h0M378.7,47.8h0M373.7,52.6h0M373.7,52.4h0M373.3,52.7h0M380.8,49.3h0M381.3,49.2h0M381.0,48.3h0M368.2,49.6h0M367.7,50.6h0M368.5,50.6h0M370.3,57.4h0M369.8,57.9h0M370.3,57.9h0M385.5,47.4h0M385.1,47.5h0M385.2,47.6h0M379.1,57.6h0M380.7,58.5h0M379.8,57.5h0M367.0,45.6h0M366.8,45.8h0M367.5,46.0h0M385.8,57.3h0M384.3,57.4h0M384.5,57.4h0M371.7,49.1h0M372.5,49.4h0M371.9,49.7h0M370.2,48.7h0M370.1,48.9h0M370.7,50.0h0M383.5,47.0h0M383.0,48.4h0M384.6,47.9h0M362.5,50.4h0M363.1,51.7h0M382.1,47.6h0M382.3,46.9h0M382.0,46.8h0M366.5,50.0h0M366.6,51.0h0M367.5,50.9h0M367.8,47.1h0M368.1,46.9h0M368.4,46.1h0M374.8,56.9h0M375.8,57.6h0M374.9,56.8h0M364.1,54.1h0M365.1,54.8h0M364.1,54.1h0M385.2,53.6h0M384.2,53.6h0M384.9,53.3h0M378.1,44.9h0M378.7,44.8h0M377.7,44.6h0M368.6,56.3h0M369.4,55.8h0M368.2,56.0h0M384.2,44.7h0M384.0,45.0h0M384.5,44.8h0M383.6,54.3h0M384.0,55.2h0M383.9,55.3h0M381.2,60.0h0M381.0,60.6h0M382.5,60.8h0M387.5,53.9h0M386.1,54.4h0M387.7,53.6h0M368.5,53.1h0M368.3,52.5h0M367.7,52.8h0M372.4,51.4h0M372.0,52.7h0M372.7,52.2h0M374.6,45.6h0M374.7,45.2h0M373.7,45.4h0M367.6,47.6h0M367.0,48.4h0M367.5,47.7h0M370.7,51.3h0M370.9,51.8h0M371.3,51.5h0M369.7,58.0h0M368.7,57.4h0M368.8,57.0h0M379.3,44.9h0M379.6,45.2h0M380.6,44.3h0M372.4,44.0h0M372.4,45.4h0M372.9,45.1h0M373.3,53.8h0M373.7,54.0h0M373.5,53.8h0M369.5,46.1h0M370.4,46.4h0M370.0,46.6h0M384.8,56.4h0M383.8,56.1h0M384.5,56.2h0M381.4,40.7h0M379.9,41.1h0M379.8,40.5h0M370.1,46.6h0M370.4,46.2h0M370.8,45.7h0M373.0,57.8h0M371.3,57.7h0M371.9,58.1h0M359.5,52.0h0M358.7,53.5h0M376.0,59.1h0M376.5,59.3h0M377.0,59.0h0M372.3,45.5h0M372.4,45.5h0M372.7,45.1h0M359.7,54.6h0M360.2,56.0h0M359.6,55.8h0M381.1,46.4h0M380.0,46.1h0M380.5,46.1h0M382.0,51.4h0M382.3,52.3h0M382.1,51.0h0M383.6,45.7h0M382.8,45.3h0M383.3,46.2h0M369.2,57.9h0M369.6,57.6h0M368.8,58.6h0M379.7,54.3h0M378.6,54.8h0M380.3,54.9h0M380.3,51.7h0M380.3,53.4h0M380.5,52.2h0M384.7,49.9h0M385.3,49.5h0M385.4,49.6h0M373.7,59.2h0M374.4,58.5h0M373.7,59.5h0M377.4,46.6h0M378.7,46.4h0M377.6,46.2h0M370.7,52.2h0M369.2,53.3h0M371.0,52.3h0M365.9,53.5h0M364.4,53.4h0M374.8,50.7h0M376.1,51.7h0M374.9,50.5h0M377.3,55.3h0M377.4,54.5h0M376.4,54.0h0M381.0,45.0h0M381.5,46.8h0M381.5,47.4h0M379.2,51.6h0M379.5,51.9h0M380.0,50.4h0M380.0,44.2h0M379.8,43.3h0M380.4,44.3h0M382.8,47.3h0M381.6,46.7h0M382.2,47.5h0M373.0,58.2h0M372.9,58.5h0M373.6,58.4h0M366.5,51.9h0M367.0,51.5h0M367.4,51.6h0M377.6,45.9h0M378.5,47.3h0M377.9,46.3h0M369.0,42.1h0M369.4,42.8h0M369.6,42.3h0M376.6,56.3h0M377.1,55.8h0M375.8,56.1h0M381.2,59.0h0M382.1,59.8h0M381.9,60.1h0M382.1,43.5h0M381.6,44.2h0M382.2,44.5h0M384.0,49.1h0M383.8,48.3h0M383.7,49.0h0M361.4,54.5h0M373.7,57.3h0M374.5,56.2h0M374.5,57.5h0M373.1,58.9h0M373.7,60.1h0M372.9,59.9h0M369.6,50.0h0M369.7,50.4h0M370.1,50.1h0M375.9,58.5h0M375.2,57.8h0M375.4,59.0h0M373.7,43.8h0M374.2,43.8h0M374.4,42.8h0M372.6,48.9h0M373.5,48.6h0M373.7,48.1h0M372.7,43.1h0M372.9,43.5h0M373.0,43.8h0M373.9,57.6h0M374.2,58.2h0M372.6,57.9h0M368.4,57.1h0M367.3,57.3h0M368.4,56.5h0M382.9,47.2h0M384.3,48.8h0M384.0,47.3h0M380.2,59.5h0M381.4,59.9h0M381.0,60.5h0M366.7,48.3h0M366.8,49.0h0M365.8,48.6h0M377.6,51.8h0M377.6,51.1h0M378.0,52.0h0M368.7,49.7h0M368.7,50.0h0M368.3,50.1h0M375.4,45.0h0M375.6,45.5h0M375.4,44.9h0M371.1,45.1h0M371.6,45.5h0M371.7,45.2h0M368.5,57.9h0M368.2,57.5h0M367.9,58.7h0M360.4,54.7h0M360.6,54.8h0M361.4,56.5h0M380.8,54.8h0M379.8,54.1h0M380.8,56.3h0M371.4,56.8h0M371.1,56.4h0M372.5,56.9h0M381.4,56.8h0M381.6,56.9h0M381.4,57.1h0M378.8,58.8h0M378.0,59.1h0M377.9,58.0h0M377.3,49.0h0M377.2,50.6h0M377.3,49.1h0M379.5,48.1h0M379.0,47.9h0M379.9,48.5h0M378.7,60.6h0M378.6,60.8h0M378.4,61.3h0M370.6,49.9h0M369.6,50.0h0M370.3,48.6h0M378.5,57.8h0M378.2,57.6h0M379.6,58.8h0M368.5,49.9h0M367.5,50.3h0M368.1,49.7h0M361.5,53.5h0M362.6,56.9h0M362.5,56.7h0M371.5,51.0h0M371.3,50.6h0M371.7,50.8h0M361.3,52.4h0M360.7,51.1h0M373.9,55.0h0M374.5,54.4h0M374.2,53.9h0M360.2,53.4h0M360.2,53.1h0M370.7,56.5h0M370.5,57.2h0M369.7,56.5h0M384.1,48.1h0M384.6,48.4h0M385.4,47.8h0M383.8,52.0h0M383.3,51.6h0M382.1,51.5h0M370.9,53.5h0M371.4,53.5h0M370.3,53.9h0M380.6,42.5h0M380.4,43.8h0M380.8,43.1h0M362.3,56.6h0M367.3,53.5h0M366.7,54.5h0M367.0,53.2h0M372.2,61.8h0M372.6,60.3h0M373.0,61.0h0M376.6,48.8h0M376.9,48.4h0M377.8,48.3h0M376.6,58.9h0M376.0,58.4h0M375.6,58.8h0M380.2,58.2h0M380.2,56.8h0M380.5,58.0h0M381.2,46.0h0M381.7,45.0h0M381.4,45.8h0M364.5,57.2h0M365.9,57.0h0M365.5,57.4h0M367.1,56.0h0M366.8,56.3h0M369.0,55.9h0M377.1,47.6h0M377.6,47.6h0M376.8,47.1h0M376.2,55.3h0M376.4,55.8h0M376.6,56.0h0M371.6,52.3h0M371.7,51.7h0M371.9,52.1h0M372.1,57.7h0M372.9,58.5h0M373.4,58.2h0M373.8,57.3h0M373.6,57.1h0M373.3,56.5h0M379.3,50.6h0M379.2,51.4h0M378.2,51.1h0M385.9,52.0h0M385.6,52.7h0M385.4,52.2h0M371.3,58.5h0M371.6,59.2h0M371.1,59.0h0M364.0,53.2h0M363.7,54.0h0M364.8,53.3h0M374.1,55.0h0M374.1,57.0h0M374.3,55.7h0M379.1,43.2h0M379.1,44.1h0M379.6,44.2h0M377.7,44.6h0M376.8,45.0h0M377.5,44.8h0M380.2,46.4h0M381.2,46.0h0M380.9,44.7h0M368.5,50.9h0M370.4,49.1h0M369.9,50.6h0M376.3,45.6h0M376.7,45.9h0M376.8,45.4h0M367.9,52.7h0M367.3,52.7h0M367.4,53.1h0M372.5,42.0h0M372.6,40.7h0M373.1,41.0h0M367.0,56.5h0M367.8,56.3h0M367.2,57.1h0M386.7,55.5h0M385.7,55.2h0M385.8,54.2h0M373.1,59.9h0M373.6,59.7h0M373.2,60.1h0M371.9,60.7h0M372.2,59.9h0M372.7,59.5h0M369.8,49.0h0M369.9,49.1h0M368.7,49.3h0M370.0,49.5h0M369.4,49.4h0M368.2,48.3h0M378.6,58.2h0M377.8,58.6h0M378.8,58.7h0M380.6,54.6h0M381.3,54.2h0M381.8,54.5h0M374.9,46.7h0M373.9,46.4h0M374.9,45.8h0M374.7,58.0h0M374.4,58.3h0M374.9,57.8h0M369.3,45.6h0M369.7,46.3h0M368.6,46.3h0M368.5,50.1h0M368.4,50.2h0M369.9,49.2h0M374.2,53.6h0M374.6,53.0h0M374.9,53.6h0M379.2,51.6h0M379.1,50.5h0M379.9,49.9h0M380.1,50.2h0M380.8,49.3h0M380.3,50.2h0M370.1,58.1h0M370.1,59.0h0M370.3,59.2h0M365.8,47.9h0M365.9,47.8h0M365.1,47.8h0M380.4,46.8h0M379.8,46.7h0M380.8,47.6h0M371.9,59.7h0M371.9,60.0h0M372.0,60.7h0M380.7,52.2h0M380.4,51.7h0M381.3,51.8h0M367.6,48.6h0M366.8,48.1h0M366.5,46.6h0M378.3,52.0h0M377.4,52.0h0M376.7,51.8h0M368.5,50.6h0M369.9,50.0h0M370.0,50.4h0M378.7,52.3h0M378.5,52.2h0M378.7,51.9h0M382.2,59.8h0M382.4,57.8h0M381.8,59.2h0M364.9,50.6h0M364.8,51.3h0M370.9,57.8h0M370.8,58.7h0M370.2,58.1h0M364.4,50.8h0M365.6,48.8h0M364.9,49.1h0M376.7,43.2h0M379.3,42.9h0M377.4,43.6h0M372.7,58.8h0M373.3,58.8h0M372.0,58.4h0M368.4,44.9h0M368.3,45.2h0M368.8,44.8h0M369.2,47.2h0M368.5,47.1h0M369.4,47.4h0M368.7,55.3h0M369.2,55.3h0M368.8,56.1h0M384.3,52.8h0M383.9,54.3h0M384.2,53.2h0M364.7,49.5h0M364.2,50.3h0M365.0,49.8h0M372.4,46.8h0M372.1,46.4h0M372.1,45.3h0M367.8,52.3h0M366.6,52.8h0M368.0,52.4h0M377.3,50.3h0M377.8,49.6h0M376.6,50.4h0M374.3,54.6h0M374.1,54.2h0M373.5,54.4h0M379.4,50.4h0M378.6,52.1h0M378.9,50.9h0M384.8,51.8h0M384.2,51.0h0M383.7,50.5h0M373.8,52.2h0M374.7,52.0h0M373.7,52.6h0M377.1,45.2h0M377.4,45.3h0M377.6,45.0h0M372.1,53.0h0M372.4,53.6h0M372.0,53.7h0M376.2,57.0h0M375.2,57.1h0M375.2,56.3h0M370.8,52.8h0M370.8,52.5h0M371.1,53.1h0M379.8,53.3h0M380.2,53.1h0M381.0,52.4h0M376.8,57.7h0M377.7,57.3h0M376.5,56.8h0M377.5,44.4h0M379.0,44.3h0M378.1,44.3h0M385.8,54.9h0M386.6,55.2h0M386.6,54.7h0M374.3,56.5h0M373.5,57.3h0M373.4,57.0h0M384.8,48.9h0M385.4,48.1h0M386.2,48.6h0M376.1,60.2h0M378.1,60.4h0M377.3,60.6h0M380.3,44.6h0M380.8,44.3h0M382.5,43.3h0M384.4,50.9h0M383.6,49.6h0M384.0,48.8h0M376.4,52.5h0M376.2,52.2h0M375.6,51.8h0M366.5,52.0h0M366.7,53.2h0M366.3,52.3h0M381.3,47.0h0M382.0,47.2h0M382.5,47.7h0M385.9,48.0h0M385.4,49.2h0M385.8,49.9h0M364.2,52.4h0M363.3,52.7h0M383.3,48.4h0M383.1,48.3h0M383.9,47.9h0M372.9,46.6h0M372.6,45.2h0M372.8,45.4h0M377.6,47.2h0M377.7,45.9h0M378.3,46.3h0M370.3,51.6h0M370.2,51.6h0M369.8,51.9h0M386.0,52.6h0M385.9,52.5h0M386.4,53.8h0M364.1,53.8h0M364.0,52.5h0M364.5,52.6h0M364.3,57.0h0M364.1,56.5h0M365.2,56.7h0M382.8,49.0h0M382.7,48.4h0M383.6,48.3h0M365.4,52.7h0M364.8,52.4h0M365.2,52.2h0M369.3,49.8h0M371.1,50.6h0M371.6,51.1h0M370.6,51.1h0M371.5,52.1h0M371.5,50.1h0M384.1,60.5h0M383.8,60.0h0M383.7,59.5h0M382.5,55.3h0M382.5,53.9h0M382.7,53.4h0M370.2,50.9h0M370.6,51.4h0M370.1,50.4h0M367.6,58.0h0M366.7,57.2h0M367.5,56.8h0M383.4,50.9h0M383.4,51.2h0M383.9,51.0h0M375.3,55.9h0M375.6,55.3h0M375.1,55.9h0M379.5,51.2h0M377.2,51.3h0M378.5,51.4h0M366.2,51.8h0M365.5,51.6h0M366.1,52.0h0M375.3,44.7h0M374.9,45.2h0M375.3,45.0h0M362.9,58.0h0M364.8,53.4h0M363.5,52.7h0M364.4,54.0h0M378.8,52.9h0M378.5,53.4h0M378.3,53.2h0M383.9,53.8h0M383.5,53.4h0M382.9,53.2h0M377.5,44.1h0M376.9,43.3h0M376.2,43.1h0M370.0,47.5h0M369.7,48.9h0M370.1,48.0h0M377.2,54.9h0M376.8,54.7h0M377.6,54.7h0M370.8,58.5h0M370.3,57.6h0M370.7,58.0h0M381.0,43.0h0M379.9,42.2h0M380.2,42.7h0M383.7,54.0h0M382.7,54.7h0M383.4,54.8h0M382.8,56.2h0M382.2,55.0h0M382.6,55.3h0M379.1,60.1h0M380.2,60.5h0M379.4,61.0h0M370.6,53.4h0M371.4,53.6h0M372.6,53.5h0M382.9,43.0h0M383.0,43.2h0M383.4,42.6h0M368.4,58.7h0M367.3,58.1h0M366.7,57.3h0M369.8,50.5h0M369.6,50.7h0M370.6,50.7h0M371.6,48.9h0M372.5,48.4h0M371.7,48.5h0M379.7,59.9h0M378.6,59.2h0M379.0,58.9h0M370.9,54.0h0M372.3,54.0h0M372.7,54.2h0M365.9,57.5h0M365.1,57.4h0M367.2,57.8h0M382.4,59.3h0M383.2,59.2h0M382.7,59.6h0M371.9,51.5h0M372.0,52.9h0M372.6,51.5h0M380.1,45.8h0M380.5,45.6h0M380.4,45.3h0M368.6,52.0h0M368.9,52.6h0M369.3,53.1h0M363.8,53.4h0M364.6,53.9h0M364.9,53.3h0M383.2,55.1h0M383.2,54.4h0M383.3,55.3h0M360.7,58.2h0M361.2,58.3h0M372.7,57.4h0M371.9,57.2h0M371.6,58.2h0M362.5,56.0h0M361.8,55.4h0M360.8,55.6h0M379.1,54.1h0M378.0,52.7h0M379.3,53.0h0M364.4,51.6h0M364.8,52.6h0M363.8,52.2h0M378.8,58.2h0M379.4,57.3h0M378.3,58.6h0M385.6,47.2h0M384.9,46.8h0M385.4,48.0h0M379.5,47.8h0M379.3,45.8h0M378.9,47.2h0M368.5,50.0h0M368.5,48.7h0M368.5,48.9h0M372.5,55.3h0M373.6,55.2h0M371.2,56.1h0M359.8,53.2h0M384.6,49.2h0M384.2,50.5h0M383.1,50.4h0M365.8,59.3h0M364.5,60.3h0M364.5,59.4h0M381.9,57.1h0M382.2,58.2h0M382.5,57.4h0M364.6,52.2h0M364.8,52.2h0M372.1,45.3h0M371.5,45.7h0M371.9,45.2h0M369.7,45.3h0M370.0,44.6h0M370.5,45.6h0M375.8,58.6h0M376.1,60.4h0M376.5,59.7h0M382.3,51.6h0M382.8,52.5h0M383.0,51.1h0M362.5,57.6h0M362.0,58.5h0M364.5,52.8h0M364.6,53.5h0M364.0,52.5h0M366.8,49.8h0M365.7,52.0h0M366.2,51.7h0M364.9,52.7h0M364.1,52.6h0M373.1,50.5h0M372.2,51.0h0M372.3,50.7h0M383.1,51.6h0M381.5,52.1h0M381.0,52.2h0M371.7,60.4h0M372.5,60.4h0M373.0,60.4h0M376.4,54.3h0M376.7,53.8h0M375.9,53.6h0M377.2,43.1h0M377.0,44.5h0M378.0,43.9h0M382.6,61.4h0M383.5,61.8h0M383.8,61.6h0M366.5,48.1h0M366.6,47.9h0M367.0,48.3h0M374.1,53.3h0M372.7,53.2h0M374.0,53.0h0M379.8,44.9h0M380.3,44.4h0M380.0,46.2h0M383.3,52.8h0M382.0,54.3h0M381.2,53.5h0M383.3,56.5h0M382.6,56.4h0M383.2,57.6h0M384.0,49.4h0M383.1,49.8h0M383.5,49.0h0M377.0,58.4h0M376.1,58.5h0M376.5,57.5h0M373.9,44.7h0M372.8,45.6h0M372.2,45.1h0M375.5,44.4h0M374.1,44.5h0M373.6,44.1h0M368.4,54.3h0M369.2,53.7h0M368.1,54.9h0M372.5,58.2h0M372.0,57.9h0M372.0,58.7h0M370.5,56.2h0M370.3,57.3h0M369.3,57.9h0M374.9,42.9h0M373.2,44.1h0M373.3,43.3h0M373.0,42.1h0M373.6,42.9h0M373.2,42.3h0M363.5,57.2h0M363.0,57.8h0M363.9,58.2h0M387.1,56.5h0M386.8,55.4h0M387.4,55.9h0M367.9,56.8h0M368.4,57.0h0M367.2,58.2h0M361.5,56.2h0M361.8,55.4h0M379.8,52.7h0M380.0,52.5h0M380.1,51.3h0M371.3,54.2h0M371.3,53.4h0M371.6,53.1h0M372.4,42.6h0M372.8,41.8h0M373.0,41.9h0M370.3,45.1h0M370.9,45.1h0M371.5,45.6h0M384.3,54.2h0M383.4,55.2h0M384.7,54.6h0M373.6,57.2h0M372.2,55.8h0M372.5,56.4h0M373.1,54.7h0M373.6,55.3h0M373.3,56.2h0M382.7,55.2h0M380.9,55.8h0M381.2,56.8h0M364.4,54.1h0M364.7,53.5h0M365.1,52.8h0M379.2,54.5h0M378.9,54.1h0M377.8,55.1h0M377.7,54.3h0M377.5,55.1h0M377.7,55.1h0M381.1,43.4h0M381.9,42.9h0M382.7,42.6h0M383.5,58.9h0M382.7,59.2h0M382.3,59.3h0M381.3,50.2h0M381.3,50.2h0M380.7,50.5h0M362.5,56.9h0M362.6,56.7h0M362.4,56.9h0M375.3,57.4h0M376.2,58.1h0M376.9,57.3h0M385.8,59.1h0M386.4,59.4h0M385.4,59.7h0M378.3,53.8h0M378.8,54.4h0M379.4,54.6h0M372.6,51.2h0M372.5,50.7h0M373.8,51.1h0M381.3,55.5h0M381.2,55.9h0M381.7,55.6h0M371.7,43.4h0M370.8,42.1h0M371.1,42.6h0M368.3,54.3h0M367.6,54.5h0M368.3,54.3h0M370.8,47.0h0M370.3,47.0h0M371.0,47.6h0M377.6,57.3h0M379.1,56.6h0M379.3,56.0h0M380.3,60.0h0M379.1,59.1h0M379.3,60.0h0M372.4,53.8h0M372.3,52.8h0M370.9,53.2h0M370.7,37.5h0M369.8,38.3h0M372.3,40.0h0M371.3,38.2h0M372.5,38.5h0M370.1,36.8h0M370.3,40.3h0M370.5,40.0h0M371.6,36.1h0M373.1,38.4h0M369.4,37.6h0M371.9,38.3h0M370.0,33.5h0M372.0,40.5h0M372.3,39.1h0M370.7,35.4h0M372.0,40.8h0M369.9,38.2h0M370.3,34.2h0M371.5,36.1h0M370.9,39.3h0M371.2,41.2h0M373.4,35.5h0M372.1,39.0h0M371.7,38.1h0M369.7,39.1h0M372.6,36.6h0M372.9,36.7h0M369.6,37.8h0M372.8,34.3h0M372.0,36.1h0M372.3,41.1h0M371.0,42.1h0M371.9,39.7h0M372.6,37.1h0M371.0,32.3h0M371.0,37.6h0M372.3,36.2h0M372.4,36.8h0M369.8,38.1h0M370.0,39.3h0M371.2,37.6h0M372.8,35.4h0M372.6,40.5h0M371.8,38.5h0M369.1,36.3h0M371.5,39.6h0M372.0,37.5h0M370.9,40.4h0M372.6,35.6h0M372.0,34.9h0M372.4,32.5h0M372.3,34.9h0M371.6,35.2h0M369.3,41.0h0M372.8,41.7h0M372.8,40.3h0M370.9,34.3h0M370.1,39.4h0M371.1,37.3h0M371.7,34.6h0M371.0,39.3h0M372.1,35.4h0M371.1,36.7h0M371.8,41.8h0M370.3,42.0h0M370.4,39.1h0M369.3,38.9h0M371.6,40.2h0M372.4,34.8h0M372.8,36.6h0M370.6,33.8h0M371.0,33.0h0M371.8,33.9h0M370.6,36.0h0M371.1,36.9h0M368.2,39.3h0M372.3,34.1h0M371.4,36.7h0M371.9,35.2h0M371.2,35.8h0M370.7,35.8h0M372.2,34.7h0M371.7,31.7h0M371.3,34.6h0M370.7,37.6h0M370.2,35.7h0M373.6,36.5h0M368.8,36.2h0M370.7,33.6h0M370.3,34.3h0M372.8,38.9h0M371.5,36.9h0M370.0,40.0h0M370.6,34.2h0M371.4,37.0h0M372.4,38.2h0M371.0,36.9h0M370.4,33.2h0M370.0,33.5h0M373.3,35.3h0M371.7,39.1h0M370.5,34.2h0M371.8,36.8h0M382.1,39.7h0M379.3,34.6h0M382.9,35.7h0M378.6,38.2h0M381.4,39.5h0M379.4,35.4h0M379.7,39.8h0M379.0,40.1h0M382.9,34.8h0M380.2,40.9h0M382.9,41.7h0M380.5,38.5h0M382.6,41.6h0M378.5,39.9h0M381.8,43.4h0M382.3,43.0h0M381.2,38.9h0M380.0,33.1h0M382.0,35.1h0M382.9,41.6h0M382.8,35.5h0M379.1,37.5h0M382.5,38.8h0M383.4,42.9h0M381.6,32.8h0M380.0,36.5h0M381.5,32.9h0M381.1,37.2h0M380.8,33.7h0M379.5,36.7h0M380.1,41.2h0M381.5,34.1h0M382.5,41.8h0M380.0,35.5h0M381.1,42.2h0M379.4,34.1h0M380.0,40.5h0M380.5,43.4h0M383.1,40.4h0M380.9,37.2h0M382.8,39.8h0M382.4,40.7h0M381.4,33.3h0M381.8,42.2h0M382.7,35.8h0M380.4,35.0h0M379.6,36.6h0M382.8,41.3h0M380.9,37.1h0M381.4,40.1h0M380.1,33.7h0M380.7,38.1h0M379.8,36.5h0M382.3,38.7h0M379.7,36.0h0M380.9,34.8h0M383.0,40.6h0M381.5,42.9h0M380.0,40.3h0M380.4,39.0h0M380.3,39.3h0M382.1,43.1h0M382.8,38.4h0M380.7,33.4h0M381.8,36.8h0M383.6,40.5h0M378.2,38.4h0M380.8,38.9h0M382.7,36.8h0M379.9,35.6h0M380.3,36.3h0M381.9,38.7h0M381.5,39.6h0M383.5,40.6h0M383.2,36.0h0M382.3,36.9h0M381.2,39.4h0M382.1,33.9h0M381.3,41.6h0M383.0,36.1h0M381.5,42.9h0M380.0,35.8h0M381.4,38.5h0M381.7,38.4h0M383.1,36.1h0M382.7,36.9h0M384.0,38.7h0M380.7,41.0h0M379.2,38.9h0M380.5,39.9h0M381.5,36.6h0M379.5,38.4h0M381.1,33.0h0M381.5,36.8h0M378.6,37.2h0M383.1,39.2h0M381.4,37.2h0M380.3,39.5h0M380.7,38.4h0M382.4,33.6h0M383.6,37.3h0M382.6,40.6h0M380.8,35.2h0M379.3,40.3h0M381.4,40.8h0M380.4,38.1h0M381.6,41.6h0M381.6,35.0h0M383.4,40.2h0M381.8,39.1h0M382.6,40.4h0M382.6,40.5h0M381.8,37.9h0M379.8,41.3h0M380.2,35.5h0M382.5,42.9h0M379.4,40.6h0M379.4,41.6h0M382.9,37.0h0M378.9,36.4h0M382.8,38.8h0M382.2,34.3h0M381.9,37.6h0M378.9,38.1h0M381.7,37.6h0M380.2,36.2h0M382.3,38.8h0M383.5,40.4h0M380.0,43.1h0M381.9,43.3h0M379.3,37.9h0M382.3,37.1h0M380.0,35.2h0M379.5,40.5h0M382.3,38.6h0M380.9,32.9h0M381.5,38.7h0M379.2,36.8h0M383.5,40.5h0M381.5,41.9h0M383.7,35.7h0M380.8,34.5h0M380.3,37.4h0M380.8,40.5h0M381.9,43.8h0M379.6,37.0h0M381.6,35.4h0M381.7,36.8h0M382.5,36.6h0M379.6,40.0h0M381.8,41.8h0M380.1,36.4h0M382.5,37.0h0M381.9,40.0h0M383.8,37.8h0M380.2,42.5h0M379.3,35.9h0M382.5,33.5h0M382.7,39.0h0M380.3,38.4h0M379.2,38.4h0M381.7,40.8h0M381.3,34.1h0M380.8,37.1h0M382.4,36.3h0M379.6,34.9h0M381.5,41.6h0M380.4,43.7h0M381.8,33.5h0M381.2,36.0h0M381.3,37.8h0M379.3,36.3h0M379.7,36.4h0M381.0,44.1h0M380.1,35.1h0M381.3,36.2h0M380.4,41.0h0M382.8,41.2h0M380.8,39.9h0M379.2,38.6h0M381.7,39.1h0M381.7,36.8h0M382.4,35.0h0M399.4,65.0h0M398.4,81.0h0M391.2,73.2h0M393.8,58.9h0M395.2,56.1h0M401.1,75.4h0M394.8,82.3h0M400.1,73.0h0M395.9,87.5h0M391.2,70.7h0M394.3,53.3h0M386.1,64.1h0M389.6,66.7h0M392.4,76.0h0M391.0,52.4h0M394.6,72.4h0M398.3,77.3h0M386.4,65.0h0M392.1,62.8h0M398.5,87.2h0M392.1,75.8h0M387.6,68.2h0M398.4,76.5h0M399.1,66.0h0M400.4,63.9h0M386.6,63.4h0M394.5,85.3h0M390.1,66.3h0M391.2,62.8h0M391.7,52.6h0M399.3,75.4h0M399.9,64.5h0M398.7,81.5h0M401.6,79.5h0M395.6,70.2h0M399.5,81.7h0M397.5,88.5h0M402.4,65.8h0M391.5,81.8h0M388.4,62.3h0M395.6,51.1h0M395.2,56.9h0M393.7,57.1h0M399.3,74.2h0M399.2,84.9h0M390.4,70.2h0M389.0,79.8h0M400.8,78.0h0M400.3,77.9h0M397.4,84.5h0M397.7,55.6h0M395.5,78.7h0M392.5,63.6h0M391.3,67.2h0M395.7,54.7h0M399.3,55.0h0M390.7,73.8h0M387.3,69.5h0M388.9,72.4h0M401.1,70.2h0M386.9,70.9h0M389.4,77.9h0M390.9,78.6h0M396.5,79.2h0M390.3,56.7h0M399.7,64.2h0M386.4,74.7h0M396.3,68.2h0M390.3,76.0h0M393.1,51.9h0M397.0,61.4h0M402.6,66.4h0M397.2,65.8h0M389.0,68.6h0M396.6,53.2h0M391.6,69.5h0M393.2,52.3h0M398.3,73.8h0M391.8,78.4h0M398.8,70.8h0M400.3,78.6h0M388.9,73.4h0M396.7,66.1h0M387.0,79.2h0M393.6,71.1h0M387.4,71.3h0M388.7,54.1h0M399.7,83.9h0M397.5,65.7h0M399.9,70.4h0M392.2,58.1h0M396.7,56.6h0M389.0,58.4h0M398.9,59.0h0M388.2,70.4h0M399.2,80.6h0M389.4,72.9h0M391.7,80.3h0M400.9,65.8h0M394.2,63.3h0M387.5,66.2h0M388.7,55.7h0M390.9,61.8h0M393.0,79.3h0M401.2,70.4h0M402.0,64.1h0M397.0,66.2h0M390.4,75.6h0M391.3,72.9h0M387.5,68.7h0M396.5,58.4h0M391.3,52.7h0M401.2,63.5h0M398.3,70.0h0M387.2,79.4h0M392.6,83.0h0M388.2,76.2h0M393.2,83.1h0M390.4,57.3h0M388.0,68.8h0M396.4,63.3h0M391.6,56.0h0M390.0,74.5h0M396.6,78.9h0M398.0,57.7h0M399.6,72.3h0M393.2,73.7h0M393.9,73.8h0M390.4,56.7h0M399.6,67.1h0M397.7,69.4h0M397.2,63.8h0M393.3,53.2h0M389.8,59.2h0M391.7,56.7h0M392.7,58.5h0M395.7,82.0h0M390.4,81.5h0M391.1,63.3h0M400.5,65.9h0M396.3,60.9h0M397.3,70.4h0M385.7,62.0h0M401.8,64.5h0M393.3,53.0h0M399.6,76.2h0M399.1,57.8h0M395.6,56.1h0M394.8,83.8h0M397.9,60.1h0M397.4,80.1h0M399.9,78.1h0M396.4,58.6h0M388.7,68.2h0M395.0,66.7h0M390.9,52.3h0M399.3,59.5h0M393.1,60.8h0M398.1,68.0h0M394.0,60.4h0M398.7,54.1h0M395.2,61.1h0M388.2,81.5h0M392.6,77.1h0M386.2,74.2h0M395.3,74.9h0M387.2,78.2h0M385.0,67.4h0M399.8,60.6h0M391.2,54.3h0M389.3,60.6h0M390.9,57.3h0M387.2,59.6h0M395.1,53.2h0M394.6,83.0h0M387.9,60.6h0M389.4,59.9h0M399.6,54.8h0M397.6,68.3h0M399.4,57.5h0M384.3,69.4h0M397.6,79.9h0M393.8,70.7h0M398.9,79.6h0M391.7,73.9h0M394.2,73.5h0M398.5,73.5h0M390.0,58.7h0M397.4,80.9h0M393.6,73.5h0M394.3,79.6h0M396.3,65.3h0M398.9,55.9h0M393.6,86.0h0M399.0,83.5h0M384.2,62.4h0M385.7,66.2h0M387.7,68.9h0M391.6,59.9h0M395.1,84.2h0M387.8,57.2h0M387.1,80.9h0M392.9,66.9h0M397.4,81.0h0M387.3,71.7h0M399.9,82.7h0M401.3,77.5h0M387.0,71.0h0M390.8,80.3h0M394.6,59.9h0M400.2,57.2h0M387.5,72.1h0M400.9,70.1h0M390.9,71.8h0M397.7,77.5h0M397.0,56.3h0M397.2,83.9h0M394.9,84.8h0M383.2,61.6h0M388.0,69.0h0M397.8,57.5h0M398.1,67.2h0M398.7,64.5h0M399.8,65.2h0M400.1,82.6h0M398.7,59.8h0M387.3,74.3h0M384.1,64.2h0M399.6,74.5h0M397.7,69.3h0M395.7,75.0h0M386.1,73.6h0M398.0,87.0h0M397.2,70.2h0M396.9,67.7h0M398.4,83.2h0M386.9,71.9h0M399.5,70.1h0M398.5,73.1h0M398.9,58.2h0M403.1,63.1h0M390.8,64.1h0M393.1,58.8h0M399.7,84.8h0M400.6,62.4h0M397.1,68.9h0M395.1,85.6h0M392.0,73.8h0M397.3,55.5h0M386.6,77.9h0M395.3,71.4h0M388.1,80.7h0M397.2,54.3h0M399.3,83.3h0M399.1,77.3h0M385.9,59.2h0M392.9,55.4h0M395.6,80.7h0M386.4,67.1h0M393.8,75.4h0M399.7,66.1h0M388.3,71.1h0M398.7,81.7h0M395.4,71.8h0M393.4,61.7h0M387.8,60.4h0M396.4,76.5h0M395.0,77.1h0M397.0,58.2h0M400.6,60.4h0M398.5,81.3h0M385.0,69.4h0M389.8,66.1h0M399.6,73.4h0M391.6,60.3h0M389.3,64.3h0M392.8,68.0h0M390.5,53.5h0M397.0,60.3h0M387.8,80.1h0M398.3,84.6h0M387.9,80.6h0M398.9,77.6h0M390.0,74.0h0M394.3,56.0h0M395.4,59.4h0M383.3,66.2h0M397.8,55.6h0M386.0,72.1h0M387.4,60.8h0M387.7,59.4h0M393.6,76.0h0M388.5,78.0h0M394.1,64.5h0M393.7,73.5h0M396.9,78.2h0M389.8,75.4h0M393.7,75.1h0M392.9,53.2h0M386.6,64.9h0M394.3,52.5h0M400.8,66.0h0M389.5,67.8h0M388.0,61.7h0M393.9,80.8h0M397.2,52.4h0M397.3,61.0h0M401.3,64.4h0M395.6,77.2h0M395.8,79.6h0M400.1,77.2h0M397.1,82.4h0M391.7,64.9h0M387.0,72.3h0M384.8,68.9h0M389.3,77.7h0M389.5,59.4h0M401.6,63.6h0M399.4,75.2h0M386.9,73.1h0M383.7,64.1h0M396.1,61.2h0M395.5,57.3h0M384.7,73.7h0M392.1,68.4h0M395.3,70.4h0M390.2,67.1h0M388.4,65.3h0M398.9,72.8h0M391.9,56.5h0M392.2,63.8h0M397.3,69.4h0M395.7,57.4h0M385.3,74.6h0M398.8,67.0h0M388.9,74.1h0M390.7,63.2h0M393.8,84.0h0M392.4,84.0h0M392.5,69.0h0M400.7,71.0h0M400.4,72.7h0M394.5,78.2h0M390.0,83.0h0M399.6,70.5h0M389.1,67.8h0M397.5,88.6h0M392.3,67.8h0M399.8,61.0h0M388.9,71.8h0M391.0,52.6h0M393.7,73.5h0M397.0,72.3h0M400.2,69.0h0M393.6,79.6h0M394.5,53.6h0M389.4,76.8h0M396.5,88.6h0M384.9,67.7h0M388.2,62.0h0M400.3,69.6h0M395.9,63.7h0M389.6,77.0h0M397.4,65.7h0M397.6,57.7h0M393.3,68.1h0M388.7,81.3h0M396.4,60.5h0M399.2,79.2h0M401.2,65.3h0M385.0,63.3h0M401.9,67.4h0M399.1,74.7h0M387.2,69.6h0M401.1,80.0h0M400.0,63.7h0M385.1,66.4h0M400.2,83.3h0M388.7,80.5h0M396.6,63.5h0M401.0,78.2h0M394.6,86.6h0M387.4,58.2h0M392.1,77.8h0M394.8,79.4h0M386.9,77.1h0M398.1,85.1h0M395.6,73.7h0M386.1,69.5h0M402.0,65.4h0M396.2,67.4h0M392.1,71.7h0M387.4,64.3h0M387.9,67.7h0M396.4,87.2h0M393.5,78.8h0M389.4,54.1h0M389.2,76.0h0M385.2,68.4h0M390.6,74.8h0M392.3,82.7h0M389.8,82.7h0M388.6,76.9h0M385.2,75.3h0M397.6,76.6h0M388.6,72.1h0M399.1,81.7h0M395.4,52.3h0M396.6,74.8h0M391.3,78.1h0M396.1,73.0h0M392.3,64.8h0M396.9,76.2h0M388.1,74.0h0M394.2,62.2h0M388.8,58.2h0M398.3,79.3h0M398.0,83.5h0M394.8,53.6h0M398.8,65.0h0M391.3,57.0h0M392.1,71.2h0M393.8,67.2h0M396.1,61.0h0M401.9,62.3h0M393.5,82.6h0M395.0,86.4h0M392.4,58.5h0M395.2,59.7h0M401.4,71.1h0M393.5,78.1h0M396.9,63.3h0M394.1,84.2h0M398.8,72.5h0M398.3,80.9h0M390.3,82.3h0M402.6,67.8h0M388.8,57.1h0M389.6,65.9h0M388.7,59.9h0M389.6,72.1h0M384.5,71.7h0M394.9,83.0h0M391.3,77.7h0M391.6,81.8h0M387.9,56.2h0M389.4,55.1h0M391.3,55.2h0M393.0,58.8h0M397.8,80.4h0M401.3,66.4h0M396.3,66.5h0M394.0,72.6h0M397.4,56.8h0M397.1,65.9h0M386.9,70.2h0M399.0,55.7h0M395.5,86.7h0M394.9,53.1h0M390.8,56.1h0M393.6,70.0h0M389.2,54.6h0M397.8,76.1h0M391.6,66.4h0M384.9,70.4h0M397.7,76.6h0M393.3,69.9h0M401.6,68.8h0M401.7,62.9h0M390.4,76.3h0M395.5,61.3h0M390.0,55.6h0M393.8,68.6h0M386.2,60.0h0M391.7,83.5h0M395.1,80.5h0M397.8,87.1h0M391.3,62.8h0M398.2,67.6h0M390.3,67.6h0M398.9,60.5h0M398.8,79.9h0M394.7,79.7h0M398.3,62.6h0M401.4,63.5h0M384.6,69.3h0M388.8,55.8h0M389.4,59.1h0M384.3,61.7h0M400.4,76.6h0M388.7,70.6h0M394.7,52.1h0M397.7,87.0h0M395.5,86.5h0M384.8,61.6h0M399.2,77.7h0M392.9,69.5h0M395.1,81.8h0M395.4,64.1h0M388.1,75.6h0M397.5,68.3h0M402.6,64.1h0M389.6,56.2h0M386.1,62.7h0M390.5,79.6h0M390.3,68.0h0M388.7,54.8h0M387.5,68.2h0M400.5,64.0h0M393.3,58.2h0M389.6,80.0h0M388.1,81.6h0M392.8,55.6h0M389.7,80.5h0M401.7,57.4h0M389.9,63.8h0M393.9,76.7h0M395.2,65.7h0M395.2,84.0h0M397.0,70.1h0M388.7,77.6h0M395.6,52.1h0M394.3,65.8h0M390.9,71.2h0M399.2,80.9h0M387.7,60.8h0M386.7,60.3h0M399.4,62.2h0M388.4,73.5h0M391.2,71.6h0M389.5,66.4h0M392.9,61.5h0M396.5,58.7h0M400.6,71.4h0M397.0,88.8h0M386.5,58.7h0M388.1,68.0h0M399.8,58.0h0M394.9,79.3h0M396.9,74.2h0M391.2,57.4h0M400.9,56.9h0M383.6,65.7h0M398.7,69.7h0M401.0,65.8h0M394.7,60.9h0M389.1,57.6h0M388.3,67.7h0M390.8,69.7h0M390.0,73.7h0M391.9,71.4h0M393.2,80.9h0M390.1,80.3h0M401.3,75.8h0M393.5,70.8h0M392.8,67.6h0M392.4,79.3h0M394.7,55.8h0M394.5,69.4h0M390.3,60.9h0M401.9,70.6h0M397.6,57.2h0M398.1,70.3h0M393.9,52.7h0M385.7,67.1h0M397.7,63.9h0M397.7,61.2h0M391.4,79.8h0M399.5,78.7h0M398.3,59.6h0M390.2,53.8h0M397.6,56.0h0M399.8,68.2h0M394.7,70.5h0M399.5,73.3h0M388.4,56.5h0M389.7,79.5h0M398.2,54.1h0M383.7,67.9h0M399.6,74.1h0M387.9,59.0h0M391.9,63.8h0M401.9,75.6h0M386.5,63.0h0M399.1,79.3h0M387.0,57.5h0M389.9,64.5h0M386.9,68.1h0M390.2,58.6h0M397.6,62.4h0M384.9,64.1h0M393.6,71.0h0M394.0,77.6h0M389.6,77.8h0M402.9,72.4h0M398.5,55.5h0M396.4,55.1h0M391.1,63.0h0M392.4,69.0h0M397.1,74.7h0M395.5,87.1h0M399.6,61.5h0M398.0,54.0h0M394.8,66.6h0M384.4,65.0h0M386.5,66.9h0M399.9,79.7h0M391.0,51.7h0M384.7,64.6h0M392.9,54.5h0M399.6,62.8h0M401.1,63.9h0M400.1,59.9h0M387.7,70.8h0M399.6,59.9h0M385.6,58.7h0M395.1,57.1h0M396.3,76.2h0M396.2,72.4h0M395.0,60.3h0M396.5,65.3h0M394.9,62.9h0M390.5,76.3h0M389.4,69.7h0M396.2,80.3h0M396.1,87.5h0M400.0,63.2h0M393.9,82.1h0M397.8,62.7h0M386.0,67.2h0M401.1,76.4h0M393.9,70.2h0M388.0,57.1h0M397.5,56.6h0M386.3,67.3h0M392.2,73.7h0M399.8,84.4h0M394.9,53.6h0M390.4,55.7h0M389.1,81.1h0M399.3,74.6h0M401.9,64.4h0M397.2,82.8h0M396.8,56.1h0M390.1,71.0h0M386.8,69.1h0M388.1,68.9h0M395.8,53.8h0M391.8,67.6h0M346.1,62.9h0M350.1,60.9h0M350.1,64.5h0M358.9,80.5h0M349.9,66.4h0M349.9,66.9h0M356.1,72.3h0M348.7,62.9h0M343.8,54.9h0M344.1,55.4h0M359.8,79.2h0M360.6,77.8h0M360.3,70.4h0M361.2,71.8h0M357.2,78.8h0M341.0,61.9h0M335.1,58.8h0M355.0,76.6h0M346.5,81.3h0M343.0,84.8h0M350.2,74.4h0M350.7,75.7h0M362.6,66.1h0M362.9,65.4h0M358.9,74.3h0M358.3,73.0h0M358.3,72.3h0M359.3,72.7h0M357.7,68.7h0M357.2,67.3h0M344.3,58.5h0M344.4,68.1h0M338.6,66.3h0M355.8,80.3h0M346.6,54.3h0M350.8,59.2h0M350.7,58.6h0M342.3,54.9h0M348.5,57.1h0M348.8,57.8h0M335.6,55.3h0M336.0,75.7h0M355.5,62.1h0M336.4,51.5h0M361.6,68.4h0M361.0,74.1h0M343.5,53.5h0M337.7,64.9h0M347.4,66.7h0M359.6,62.3h0M360.0,61.7h0M340.8,64.3h0M351.5,71.1h0M356.1,57.3h0M338.4,64.2h0M347.3,73.2h0M347.6,72.7h0M343.4,55.3h0M348.8,55.7h0M350.2,55.4h0M354.4,73.3h0M353.1,72.4h0M348.1,70.4h0M355.5,59.0h0M354.6,59.6h0M337.5,87.7h0M349.3,54.9h0M348.9,55.7h0M355.1,60.1h0M355.6,75.6h0M356.5,78.0h0M356.1,78.7h0M358.3,64.1h0M367.5,69.1h0M366.6,69.2h0M366.8,68.7h0M352.9,55.3h0M352.7,65.8h0M353.2,66.1h0M358.3,61.3h0M357.9,59.5h0M360.2,67.0h0M338.3,56.7h0M338.8,57.3h0M358.2,73.4h0M347.5,74.6h0M353.9,57.5h0M354.5,71.7h0M354.5,71.6h0M354.0,67.1h0M354.9,66.9h0M349.7,51.9h0M340.3,75.3h0M335.5,52.7h0M347.3,59.4h0M335.2,55.2h0M335.6,55.3h0M334.1,86.5h0M356.8,85.6h0M353.5,57.4h0M350.8,57.1h0M358.7,68.3h0M344.6,67.1h0M357.8,77.4h0M354.7,62.0h0M345.4,69.5h0M347.1,54.3h0M359.4,73.5h0M358.9,73.3h0M355.9,79.7h0M357.0,71.1h0M357.5,71.0h0M360.2,62.3h0M353.1,80.5h0M354.3,58.1h0M354.2,58.8h0M353.6,57.7h0M341.4,70.0h0M352.6,57.0h0M350.7,73.3h0M350.5,73.4h0M344.6,99.4h0M352.7,74.0h0M348.4,71.9h0M358.7,68.2h0M361.4,73.7h0M361.0,73.9h0M358.1,70.0h0M333.7,81.4h0M334.0,67.8h0M350.2,59.2h0M356.8,55.6h0M357.3,54.8h0M359.8,68.9h0M359.8,65.6h0M359.4,65.9h0M359.1,64.6h0M367.2,65.7h0M366.6,64.7h0M366.3,64.5h0M342.1,63.6h0M338.7,61.2h0M350.0,74.3h0M364.1,61.4h0M358.8,76.2h0M357.6,76.0h0M344.3,58.4h0M357.0,56.4h0M364.3,65.2h0M356.9,57.5h0M356.3,80.7h0M363.4,66.6h0M335.7,62.9h0M360.4,69.7h0M359.7,71.0h0M338.3,66.2h0M356.0,81.0h0M359.2,75.4h0M348.3,61.5h0M350.0,61.8h0M353.0,70.1h0M358.7,73.1h0M366.7,61.8h0M367.0,61.9h0M366.0,62.8h0M333.5,98.8h0M338.2,57.4h0M348.3,64.8h0M362.9,68.8h0M363.1,69.3h0M357.6,70.4h0M364.3,71.2h0M365.1,71.0h0M364.4,70.9h0M334.9,78.6h0M355.6,72.0h0M357.5,55.6h0M361.2,56.5h0M361.1,61.6h0M361.0,62.7h0M355.4,59.3h0M365.1,65.7h0M366.7,64.9h0M366.0,65.5h0M342.3,60.9h0M353.2,61.3h0M344.7,55.4h0M364.2,65.7h0M364.7,65.8h0M364.6,65.3h0M337.6,66.3h0M337.1,66.5h0M366.0,64.2h0M366.4,65.6h0M366.0,65.1h0M338.9,64.7h0M335.1,52.2h0M363.1,60.7h0M354.9,73.4h0M353.9,75.1h0M360.0,75.5h0M359.7,76.7h0M354.9,78.5h0M363.6,66.4h0M362.5,66.6h0M363.2,66.7h0M352.9,82.0h0M342.0,71.7h0M360.7,57.6h0M342.3,57.5h0M366.8,63.8h0M366.1,62.5h0M367.4,63.2h0M350.2,69.9h0M350.7,69.8h0M339.7,65.3h0M356.6,70.6h0M357.9,72.7h0M358.8,72.7h0M364.0,76.9h0M356.8,66.6h0M357.7,66.6h0M345.4,51.2h0M344.8,51.6h0M361.6,60.7h0M361.2,60.0h0M364.7,73.8h0M364.8,72.6h0M364.3,74.0h0M354.0,70.5h0M339.1,57.9h0M356.1,75.7h0M356.8,67.3h0M346.0,94.0h0M335.7,53.1h0M334.3,94.7h0M355.2,79.4h0M354.9,78.2h0M365.0,60.7h0M365.0,60.9h0M345.6,58.0h0M357.7,56.1h0M358.9,56.0h0M357.9,55.4h0M336.4,61.0h0M362.3,73.6h0M361.6,73.7h0M362.2,72.8h0M366.0,62.9h0M365.5,62.8h0M365.8,63.6h0M347.7,73.3h0M365.2,66.1h0M366.8,66.7h0M366.6,66.2h0M352.8,54.4h0M352.4,55.4h0M352.2,54.6h0M345.8,51.9h0M357.6,62.9h0M357.3,74.2h0M357.0,74.7h0M354.3,57.7h0M354.1,57.6h0M357.0,58.7h0M357.6,58.7h0M346.8,62.6h0M338.0,72.5h0M355.7,70.7h0M337.3,68.7h0M344.1,58.8h0M346.5,57.2h0M336.6,55.2h0M361.8,77.4h0M361.4,78.0h0M343.4,56.0h0M338.8,60.7h0M344.1,94.3h0M359.9,71.7h0M360.3,70.8h0M345.2,62.7h0M353.6,58.1h0M353.5,57.9h0M346.8,58.9h0M349.6,64.2h0M340.8,55.5h0M342.0,55.1h0M352.4,59.8h0M351.8,59.9h0M351.9,60.3h0M341.4,56.3h0M364.5,69.1h0M364.2,70.2h0M365.8,69.8h0M342.5,52.2h0M362.3,62.2h0M360.6,78.9h0M359.5,79.3h0M355.1,54.6h0M358.4,60.5h0M339.1,56.4h0M357.0,72.5h0M357.0,72.2h0M356.6,72.7h0M344.1,67.7h0M347.0,73.4h0M348.0,58.7h0M349.2,57.4h0M341.8,63.6h0M352.7,58.2h0M356.6,55.7h0M356.1,56.2h0M356.0,57.2h0M352.0,73.8h0M362.3,75.3h0M360.7,75.4h0M342.9,64.8h0M344.8,68.3h0M342.9,63.1h0M342.4,62.2h0M337.4,62.1h0M360.1,74.9h0M343.8,97.1h0M363.0,64.8h0M337.4,51.4h0M336.1,52.3h0M349.3,69.0h0M343.5,55.9h0M364.1,61.0h0M364.6,60.4h0M346.8,64.7h0M345.4,64.0h0M357.9,61.1h0M358.5,62.2h0M359.0,79.5h0M355.1,69.9h0M352.6,65.1h0M352.8,64.6h0M354.7,71.9h0M364.9,63.9h0M365.8,64.2h0M365.1,62.8h0M354.5,61.3h0M355.3,60.3h0M355.5,58.5h0M358.7,79.5h0M358.4,80.3h0M366.4,65.4h0M367.6,63.7h0M366.2,64.3h0M351.3,95.5h0M356.8,65.8h0M355.9,66.1h0M344.9,56.8h0M359.2,81.8h0M358.5,81.4h0M348.6,57.8h0M349.5,56.7h0M335.2,80.6h0M359.0,62.3h0M359.2,62.5h0M358.7,62.7h0M357.7,79.0h0M349.4,70.5h0M363.8,60.4h0M365.7,68.7h0M367.2,67.6h0M367.1,68.2h0M354.2,72.0h0M345.2,65.8h0M346.4,65.8h0M351.6,72.3h0M341.1,54.4h0M347.3,65.7h0M361.6,55.3h0M361.2,55.2h0M356.3,60.4h0M358.2,66.5h0M362.7,76.9h0M362.9,77.0h0M345.1,65.5h0M344.2,73.9h0M355.6,55.7h0M355.5,57.2h0M355.1,57.2h0M351.5,62.3h0M346.7,76.5h0M364.3,63.2h0M364.4,62.9h0M364.6,63.6h0M353.4,80.1h0M357.1,96.0h0M357.4,81.7h0M346.0,70.8h0M360.9,72.8h0M361.7,72.5h0M361.2,72.0h0M349.7,65.0h0M349.0,64.2h0M347.1,72.7h0M359.9,79.2h0M360.2,79.0h0M360.4,76.5h0M356.5,83.3h0M367.4,61.0h0M367.4,60.1h0M368.3,61.8h0M342.4,67.1h0M343.4,66.6h0M342.1,67.1h0M339.5,68.0h0M338.4,91.0h0M350.8,60.8h0M351.0,60.3h0M343.5,54.1h0M344.6,76.8h0M358.8,61.3h0M359.7,61.7h0M340.7,67.2h0M356.3,75.6h0M359.1,68.2h0M333.8,82.1h0M352.6,69.0h0M356.1,55.6h0M355.7,57.5h0M361.1,55.7h0M361.4,56.4h0M341.7,65.1h0M341.5,66.1h0M356.2,66.9h0M350.1,71.9h0M349.0,71.0h0M361.2,72.2h0M345.8,89.2h0M349.7,55.5h0M348.8,54.5h0M364.5,70.0h0M364.6,71.2h0M365.5,71.7h0M354.2,65.1h0M347.0,59.5h0M344.9,62.0h0M364.8,71.7h0M364.4,70.4h0M365.4,71.5h0M346.3,64.9h0M338.1,57.2h0M340.1,57.9h0M338.5,57.5h0M336.5,64.6h0M346.8,67.6h0M364.4,65.3h0M364.7,64.4h0M346.5,75.5h0M354.1,75.9h0M357.8,74.2h0M359.0,73.2h0M337.9,58.6h0M340.2,58.7h0M344.7,67.0h0M334.9,68.6h0M353.2,55.3h0M353.6,55.9h0M350.8,66.7h0M364.3,68.5h0M364.5,66.5h0M338.6,53.0h0M344.9,62.8h0M356.5,69.2h0M349.8,67.6h0M348.9,68.1h0M365.4,65.1h0M365.0,65.1h0M365.5,66.0h0M346.4,59.9h0M357.5,74.6h0M358.4,61.8h0M365.6,65.5h0M366.1,64.5h0M367.0,65.6h0M345.3,59.7h0M360.9,78.5h0M366.3,68.0h0M367.0,67.9h0M366.2,67.4h0M364.9,72.6h0M364.5,73.1h0M345.5,61.3h0M348.4,59.3h0M335.5,50.9h0M336.0,51.5h0M359.3,55.7h0M343.7,60.4h0M343.3,59.9h0M336.5,59.2h0M351.5,57.7h0M353.7,56.7h0M352.1,57.1h0M354.4,65.8h0M353.4,66.3h0M358.7,69.2h0M355.1,53.7h0M355.6,54.9h0M356.1,60.9h0M355.3,69.9h0M335.4,68.3h0M349.3,54.1h0M350.7,53.9h0M362.7,55.3h0M350.8,57.2h0M365.5,60.1h0M365.3,60.4h0M366.1,59.4h0M342.2,54.0h0M359.0,64.4h0M360.5,63.0h0M345.4,72.2h0M345.3,71.6h0M354.0,62.1h0M360.4,71.5h0M353.6,79.7h0M362.3,78.0h0M361.0,78.4h0M360.3,64.6h0M360.2,65.1h0M337.3,58.4h0M336.6,58.5h0M338.0,66.3h0M351.5,62.1h0M349.6,58.1h0M348.5,58.2h0M348.9,56.9h0M352.4,53.2h0M351.2,52.6h0M350.8,53.4h0M339.8,87.6h0M364.2,59.9h0M362.8,58.8h0M355.1,72.9h0M339.9,62.7h0M340.4,63.1h0M344.4,69.1h0M337.7,51.4h0M337.1,52.6h0M355.5,76.1h0M355.3,75.5h0M348.9,62.1h0M351.3,61.5h0M359.2,63.8h0M355.1,69.2h0M358.7,69.1h0M356.2,56.0h0M357.6,55.7h0M341.6,56.8h0M353.4,59.2h0M342.6,60.3h0M349.4,71.3h0M348.9,68.0h0M351.7,58.7h0M351.9,58.7h0M352.1,67.9h0M352.7,55.9h0M348.8,65.7h0M350.8,54.4h0M336.7,58.9h0M356.2,61.1h0M356.2,62.2h0M337.8,60.2h0M337.6,60.1h0M349.5,78.1h0M355.3,64.5h0M357.6,67.9h0M365.0,57.9h0M364.3,57.1h0M365.2,57.6h0M347.0,69.8h0M345.1,81.2h0M359.2,61.0h0M371.6,71.7h0M370.6,71.1h0M378.0,71.3h0M378.3,71.3h0M370.3,72.4h0M371.2,73.2h0M370.8,61.0h0M370.2,61.0h0M368.2,69.3h0M368.6,69.4h0M370.8,70.3h0M367.5,70.8h0M382.4,71.0h0M383.6,70.3h0M373.9,66.2h0M374.6,66.9h0M371.8,62.7h0M372.6,62.5h0M378.9,60.4h0M380.3,62.0h0M384.2,57.6h0M383.2,57.4h0M383.9,58.5h0M383.8,59.7h0M381.9,65.3h0M381.8,65.9h0M381.8,60.8h0M382.4,59.4h0M382.6,61.2h0M381.4,61.0h0M375.7,63.1h0M375.3,64.1h0M381.0,63.0h0M380.8,62.4h0M382.6,71.8h0M382.9,71.8h0M378.2,70.4h0M377.3,69.8h0M377.4,60.5h0M377.7,60.1h0M365.3,61.3h0M364.3,60.1h0M366.4,68.1h0M365.9,67.4h0M384.8,62.8h0M384.9,63.8h0M365.3,68.0h0M364.1,66.8h0M367.2,62.7h0M366.4,62.7h0M378.5,64.4h0M379.1,64.5h0M368.3,59.9h0M367.6,58.1h0M379.4,60.0h0M379.9,60.3h0M378.8,62.9h0M378.5,62.7h0M361.7,62.7h0M362.5,63.2h0M372.5,60.1h0M373.4,60.6h0M378.9,60.6h0M379.3,61.2h0M382.3,63.0h0M381.3,63.8h0M372.7,70.2h0M372.1,69.2h0M370.8,60.7h0M370.5,61.3h0M365.7,70.1h0M366.1,71.1h0M373.3,70.1h0M372.2,69.9h0M378.7,64.8h0M376.6,64.5h0M377.9,65.9h0M378.3,66.0h0M366.7,71.3h0M366.7,72.5h0M364.1,60.8h0M364.3,62.0h0M372.9,70.9h0M372.9,71.9h0M367.4,61.8h0M366.8,61.5h0M366.6,61.9h0M367.1,61.7h0M363.9,61.8h0M385.3,60.1h0M385.7,59.1h0M375.2,59.4h0M375.0,58.9h0M382.7,59.2h0M383.0,59.6h0M364.8,67.1h0M364.6,66.9h0M379.9,68.1h0M379.9,68.1h0M375.4,59.7h0M374.4,60.4h0M376.4,68.4h0M376.7,67.8h0M382.0,64.0h0M382.0,63.3h0M368.1,64.8h0M372.8,64.9h0M372.6,64.5h0M376.4,63.5h0M376.2,63.6h0M364.8,67.3h0M366.1,68.5h0M375.0,61.7h0M374.3,61.6h0M380.1,67.3h0M380.3,67.3h0M376.0,61.2h0M375.9,60.8h0M381.2,61.3h0M382.7,61.7h0M370.2,63.0h0M368.9,63.7h0M367.5,62.9h0M367.9,63.7h0M386.5,60.9h0M386.1,60.3h0M370.3,63.3h0M379.9,66.3h0M379.7,66.9h0M372.3,60.4h0M373.5,60.1h0M370.0,69.7h0M373.0,68.9h0M373.1,69.5h0M369.8,59.4h0M369.6,60.3h0M384.2,59.2h0M385.2,58.8h0M374.5,69.6h0M374.2,69.4h0M367.0,67.5h0M370.3,63.6h0M370.9,63.2h0M379.2,63.2h0M379.9,62.2h0M375.1,61.2h0M374.7,62.2h0M374.9,64.3h0M375.9,66.1h0M385.0,63.6h0M385.6,64.0h0M370.6,61.9h0M371.2,63.0h0M383.6,60.7h0M383.8,61.2h0M376.1,60.5h0M376.0,62.0h0M385.5,61.2h0M385.1,61.0h0M385.4,57.0h0M385.5,58.6h0M363.0,62.2h0M363.4,62.2h0M382.0,70.1h0M381.7,69.1h0M369.5,61.8h0M368.4,61.6h0M366.5,61.7h0M365.9,60.8h0M375.4,62.9h0M375.6,62.5h0M384.0,71.9h0M384.0,71.8h0M365.9,61.0h0M365.8,60.0h0M374.2,64.1h0M374.1,63.9h0M375.1,63.5h0M374.6,63.5h0M371.5,60.5h0M371.8,59.7h0M379.0,63.5h0M376.5,63.5h0M383.7,67.6h0M384.2,67.5h0M383.4,65.2h0M383.4,65.2h0M372.8,70.2h0M372.3,69.4h0M361.4,60.9h0M367.3,68.7h0M385.0,70.5h0M384.8,70.9h0M377.7,61.2h0M378.2,60.8h0M384.0,59.7h0M384.4,58.6h0M372.9,63.0h0M377.1,65.7h0M376.0,66.1h0M364.8,65.0h0M365.2,65.7h0M376.8,69.9h0M377.5,71.3h0M375.1,67.6h0M375.6,67.1h0M382.1,59.3h0M381.8,58.5h0M369.8,71.8h0M370.1,72.1h0M364.3,59.4h0M365.2,57.8h0M365.5,62.6h0M365.5,63.5h0M380.5,60.5h0M381.3,61.1h0M384.6,60.7h0M385.0,60.4h0M362.8,63.4h0M362.8,61.9h0M384.0,58.5h0M383.2,58.4h0M369.3,73.2h0M370.0,73.3h0M383.2,70.0h0M381.7,69.8h0M382.4,57.6h0M382.1,57.3h0M368.9,72.1h0M368.2,72.0h0M381.0,69.4h0M380.6,70.0h0M378.0,57.7h0M377.6,58.6h0M377.7,66.1h0M378.3,66.0h0M381.5,68.8h0M382.1,68.7h0M380.9,68.2h0M381.1,67.0h0M369.7,70.5h0M369.5,71.1h0M364.5,68.9h0M383.5,70.3h0M384.4,71.2h0M384.7,61.0h0M384.3,61.4h0M377.4,64.1h0M377.7,63.7h0M383.0,58.1h0M383.9,59.6h0M375.1,67.9h0M375.5,67.7h0M371.3,71.8h0M371.2,71.8h0M380.8,67.9h0M381.1,68.7h0M364.3,67.3h0M364.3,62.1h0M364.8,62.6h0M377.1,70.5h0M376.6,70.0h0M367.2,72.3h0M367.1,72.5h0M375.8,64.4h0M376.6,64.2h0M379.6,69.2h0M380.3,69.8h0M382.4,66.5h0M382.0,64.9h0M369.4,69.6h0M374.5,73.7h0M373.4,73.0h0M381.1,62.9h0M381.3,61.8h0M375.3,65.7h0M374.6,65.1h0M373.5,73.0h0M374.4,72.1h0M372.5,61.8h0M372.4,61.1h0M382.2,66.6h0M382.5,65.2h0M372.1,72.5h0M372.3,72.5h0M374.9,70.6h0M375.8,70.7h0M370.4,59.5h0M370.5,60.1h0M380.4,63.1h0M380.3,62.5h0M382.2,66.6h0M382.8,66.4h0M364.3,66.1h0M384.8,67.9h0M385.2,68.6h0M376.0,71.4h0M375.6,69.9h0M382.9,70.2h0M384.1,70.6h0M383.6,64.0h0M384.7,64.2h0M367.5,70.3h0M366.9,71.1h0M378.5,57.7h0M376.9,58.9h0M377.1,60.3h0M377.0,59.2h0M382.0,66.0h0M381.8,67.3h0M377.6,60.7h0M378.2,62.1h0M368.3,68.6h0M377.3,59.8h0M379.4,60.1h0M373.8,60.7h0M372.4,60.2h0M373.7,63.6h0M373.5,63.5h0M380.1,70.3h0M379.6,70.2h0M364.8,62.2h0M364.8,62.4h0M384.4,68.5h0M384.2,67.4h0M382.3,67.0h0M382.7,65.9h0M381.4,65.7h0M382.4,67.4h0M370.8,62.1h0M370.3,62.0h0M378.9,62.1h0M379.0,63.3h0M373.8,62.6h0M375.2,63.3h0M376.5,67.1h0M376.1,67.1h0M364.4,61.5h0M364.9,61.8h0M380.6,65.6h0M381.4,65.9h0M377.1,69.4h0M377.5,69.5h0M370.8,62.4h0M369.4,63.1h0M366.2,62.1h0M366.4,61.6h0M370.6,74.1h0M370.3,73.7h0M380.3,69.6h0M380.7,69.5h0M369.0,47.3h0M370.0,46.5h0M373.5,43.9h0M373.9,45.7h0M373.3,41.4h0M373.6,40.9h0M384.2,41.5h0M382.6,42.1h0M377.3,42.2h0M378.0,41.9h0M369.5,41.2h0M369.8,42.7h0M375.6,42.0h0M375.5,42.6h0M384.9,45.7h0M385.2,45.2h0M370.6,46.3h0M371.1,46.4h0M375.6,45.5h0M376.3,45.2h0M374.0,45.1h0M374.4,45.7h0M366.3,46.0h0M367.8,45.7h0M375.7,42.1h0M374.7,42.7h0M370.8,45.3h0M369.6,46.1h0M368.0,47.9h0M368.3,47.3h0M376.8,44.6h0M377.6,43.5h0M366.5,46.8h0M366.0,46.9h0M373.1,45.4h0M373.9,45.6h0M369.4,46.8h0M369.6,45.1h0M382.2,46.1h0M383.9,45.8h0M374.9,45.7h0M374.8,46.4h0M367.7,40.6h0M367.8,39.6h0M381.7,42.1h0M382.5,42.3h0M373.3,44.6h0M373.6,44.4h0M368.7,45.4h0M367.8,44.9h0M382.3,46.3h0M381.1,46.1h0M378.8,42.6h0M378.1,41.5h0M369.3,40.3h0M370.3,41.5h0M382.6,40.3h0M382.3,40.9h0M368.0,43.7h0M368.7,43.5h0M373.6,44.0h0M373.6,43.9h0M378.0,43.3h0M378.0,42.7h0M383.5,41.5h0M383.9,41.9h0M370.1,42.6h0M371.6,43.0h0M379.9,43.4h0M380.6,43.0h0M373.5,39.8h0M374.1,40.8h0M374.4,44.3h0M373.5,43.6h0M365.5,45.8h0M365.4,44.6h0M368.1,43.4h0M367.3,44.0h0M369.1,42.9h0M370.1,43.7h0M374.9,42.4h0M375.2,42.9h0M366.6,47.0h0M365.3,46.5h0M369.8,46.6h0M369.4,46.6h0M367.6,44.0h0M367.0,43.7h0M371.4,42.4h0M371.9,41.3h0M370.1,43.7h0M370.0,42.4h0M383.5,43.6h0M383.2,44.1h0M367.9,43.2h0M369.6,42.9h0M381.9,44.5h0M381.4,44.0h0M373.1,45.9h0M373.0,45.0h0M372.7,42.1h0M373.8,41.9h0M375.9,45.7h0M375.5,45.8h0M381.3,43.0h0M382.2,43.4h0M370.1,46.2h0M371.5,45.8h0M381.2,42.5h0M380.8,41.9h0M378.3,41.8h0M378.3,40.5h0M372.2,41.4h0M370.8,40.5h0M367.7,45.3h0M367.6,46.8h0M377.2,43.6h0M377.7,44.3h0M377.3,43.1h0M378.5,42.3h0M381.8,45.6h0M381.4,46.4h0M379.3,43.4h0M378.9,44.5h0M378.7,43.3h0M380.5,43.5h0M372.0,43.7h0M372.1,42.6h0M380.9,46.3h0M381.3,46.2h0M384.8,46.8h0M386.5,46.5h0M369.2,41.0h0M370.0,41.7h0M384.7,45.1h0M385.2,45.2h0M381.6,44.0h0M382.0,44.4h0M367.5,47.0h0M367.9,45.4h0M371.3,44.9h0M371.2,43.9h0M376.2,44.6h0M375.9,46.0h0M374.5,41.8h0M374.7,41.3h0M373.9,47.0h0M373.6,46.5h0M378.7,46.6h0M378.7,46.7h0M384.0,40.9h0M384.0,41.1h0M372.1,40.1h0M371.5,39.4h0M376.1,42.6h0M375.6,43.4h0M381.7,44.5h0M381.3,43.4h0M370.1,44.4h0M370.4,44.1h0M367.2,42.9h0M367.9,44.3h0M372.7,45.7h0M374.1,45.7h0M370.7,44.2h0M371.0,42.8h0M370.4,41.9h0M370.3,41.0h0M379.6,41.8h0M380.1,42.6h0M368.3,47.2h0M368.5,46.1h0M373.5,40.6h0M373.4,40.4h0M382.1,43.6h0M382.7,43.9h0M368.5,45.8h0M367.8,46.1h0M374.0,42.7h0M374.1,43.3h0M369.3,42.4h0M367.7,41.9h0M367.6,40.1h0M367.3,39.8h0M375.6,42.7h0M376.8,42.1h0M369.0,44.0h0M369.2,43.7h0M384.4,41.8h0M383.0,40.5h0M367.3,43.8h0M366.7,43.1h0M384.1,44.4h0M383.2,45.0h0M381.5,44.0h0M383.4,44.7h0M372.9,40.9h0M373.2,41.1h0M374.9,40.9h0M374.5,40.6h0M375.1,42.4h0M374.3,42.6h0M368.7,41.7h0M368.7,41.4h0M376.3,44.3h0M377.0,44.1h0M382.2,42.9h0M383.0,44.2h0M373.1,42.9h0M373.1,41.7h0M368.0,72.9h0M379.3,68.1h0M381.6,65.8h0M372.4,72.5h0M383.2,64.7h0M378.5,68.9h0M377.8,69.0h0M372.6,71.7h0M377.4,69.5h0M364.5,72.1h0M374.4,71.6h0M382.3,64.9h0M367.2,72.7h0M373.9,71.5h0M366.6,72.6h0M378.1,69.3h0M363.6,71.6h0M374.7,71.7h0M381.0,66.5h0M374.7,71.2h0M383.7,64.4h0M383.7,64.0h0M369.9,72.9h0M379.3,68.4h0M381.2,66.4h0M382.6,65.0h0M372.6,72.0h0M378.9,68.8h0M366.4,72.1h0M381.4,66.5h0M376.2,71.0h0M371.3,71.9h0M378.8,68.7h0M380.6,67.2h0M377.9,69.8h0M363.7,71.8h0M369.8,72.7h0M364.9,72.5h0M366.3,72.7h0M377.0,69.8h0M367.6,73.1h0M381.6,65.9h0M380.0,68.3h0M366.6,72.4h0M376.4,69.8h0M372.3,72.9h0M382.1,65.4h0M368.2,72.8h0M380.1,66.6h0M369.4,72.8h0M383.7,63.8h0M374.0,71.1h0M374.9,71.7h0M373.7,72.3h0M373.4,72.0h0M380.2,67.1h0M367.4,72.4h0M370.7,72.2h0M372.5,59.5h0M372.6,60.0h0M373.8,59.3h0M375.4,59.6h0M384.2,61.1h0M384.8,62.3h0M365.7,60.5h0M376.3,60.1h0M369.2,60.2h0M376.8,59.6h0M382.3,60.8h0M379.9,60.3h0M375.7,59.6h0M374.0,59.8h0M366.6,60.7h0M380.7,60.6h0M380.5,60.3h0M368.7,59.7h0M380.7,60.3h0M365.4,61.2h0M368.0,60.0h0M363.7,60.9h0M368.6,59.5h0M377.1,60.0h0M368.8,60.1h0M368.4,60.0h0M379.3,59.5h0M374.7,60.0h0M376.8,59.5h0M362.2,61.9h0M376.5,59.6h0M379.3,60.1h0M363.9,61.0h0M363.5,60.9h0M375.4,59.4h0M374.0,59.0h0M371.3,59.4h0M373.0,59.4h0M379.1,60.6h0M365.0,60.3h0M363.7,61.7h0M369.6,59.8h0M374.8,59.7h0M377.4,60.4h0M382.7,61.4h0M368.1,60.0h0M383.2,61.2h0M373.9,60.0h0M368.4,60.0h0M368.6,60.0h0M377.8,59.9h0M367.3,60.2h0M372.7,59.7h0M366.4,73.0h0M374.6,70.7h0M377.7,70.8h0M380.9,70.7h0M370.3,72.3h0M369.5,71.6h0M379.3,70.5h0M371.0,72.0h0M377.4,70.9h0M379.1,70.1h0M369.6,72.6h0M376.4,71.0h0M368.1,72.9h0M366.8,72.5h0M367.7,72.6h0M370.6,71.9h0M376.8,71.1h0M383.5,70.3h0M373.1,71.0h0M366.8,72.4h0M383.9,69.7h0M378.5,70.9h0M378.5,70.6h0M377.5,70.9h0M371.2,71.6h0M373.0,71.6h0M372.9,71.3h0M378.7,70.2h0M376.0,71.3h0M376.7,70.7h0M377.8,71.2h0M368.3,72.7h0M378.1,70.8h0M383.4,70.2h0M375.8,71.1h0M368.4,72.4h0M371.6,71.5h0M377.5,70.8h0M370.4,72.5h0M367.5,72.6h0M368.3,72.3h0M378.7,70.7h0M383.0,69.5h0M372.3,71.9h0M376.8,70.5h0M371.2,72.1h0M366.5,72.6h0M379.6,71.0h0M366.6,72.8h0M384.1,69.8h0M383.7,69.8h0M383.3,70.5h0M370.4,72.3h0M375.8,71.1h0M382.9,70.2h0M368.1,72.4h0M374.2,71.5h0M376.9,70.8h0M369.3,72.6h0M381.1,71.3h0M357.1,44.5h0M346.7,46.7h0M352.4,52.5h0M357.7,52.6h0M359.6,54.2h0M347.6,50.6h0M338.9,54.1h0M357.0,51.7h0M359.0,54.2h0M347.7,40.0h0M347.2,51.5h0M347.7,51.6h0M383.2,53.4h0M384.2,48.2h0M369.0,54.4h0M385.5,58.7h0M374.3,60.2h0M379.1,57.3h0M366.8,48.0h0M379.9,58.0h0M369.2,60.5h0M366.5,53.6h0M377.3,60.6h0M379.4,51.8h0M368.6,52.8h0M386.3,50.5h0M366.8,56.2h0M363.0,57.4h0M368.2,50.5h0M373.7,54.5h0M382.6,54.8h0M384.5,48.6h0M381.0,51.6h0M376.1,58.3h0M367.5,33.5h0M373.7,32.1h0M369.1,34.8h0M383.7,41.6h0M377.4,39.9h0M380.8,39.9h0M380.7,43.0h0M389.1,48.1h0M389.1,73.9h0M396.4,69.2h0M389.4,62.6h0M396.1,60.1h0M390.2,58.4h0M401.2,75.3h0M393.3,49.7h0M393.3,83.8h0M387.4,56.2h0M383.7,69.3h0M386.7,58.0h0M388.2,54.6h0M395.3,90.6h0M358.6,77.2h0M337.2,62.7h0M362.5,65.2h0M338.2,70.1h0M337.8,61.0h0M349.1,70.6h0M349.8,56.6h0M353.4,68.9h0M336.2,51.1h0M352.1,75.4h0M335.7,60.6h0M362.7,73.8h0M337.1,57.8h0M359.2,66.0h0M346.3,71.8h0M346.1,51.5h0M361.3,69.6h0M357.8,61.5h0M365.4,71.1h0M366.1,65.5h0M336.2,71.9h0M353.6,63.3h0M383.4,59.2h0M366.9,59.5h0M373.3,64.3h0M372.9,65.2h0M372.8,72.1h0M384.5,57.6h0M382.1,67.4h0M377.1,59.7h0M368.7,44.9h0M382.4,40.5h0M371.9,40.6h0M382.4,46.1h0M369.4,43.5h0M372.5,71.9h0M371.6,57.9h0M369.5,62.3h0M378.6,72.0h0" stroke="#1c7bc0"/><path d="M350.1,43.1h0M337.5,53.8h0M340.2,50.1h0M343.6,44.6h0M356.0,55.4h0M353.9,55.6h0M349.6,48.5h0M341.1,38.4h0M350.5,50.8h0M339.6,54.6h0M338.8,52.1h0M340.4,54.5h0M345.4,44.1h0M343.7,45.1h0M343.7,43.7h0M339.9,51.9h0M339.8,51.3h0M340.3,50.4h0M340.2,50.6h0M343.2,53.7h0M356.5,52.5h0M345.0,50.4h0M343.6,49.5h0M347.5,50.4h0M340.0,39.8h0M344.5,48.7h0M336.0,48.3h0M337.1,49.0h0M338.7,50.9h0M342.1,49.2h0M343.4,48.5h0M341.0,52.9h0M340.8,52.4h0M342.2,52.5h0M337.6,47.0h0M338.4,47.2h0M339.1,52.4h0M339.4,51.5h0M341.8,50.5h0M337.9,48.5h0M354.5,51.8h0M342.0,44.4h0M340.5,45.9h0M343.9,38.0h0M351.7,50.2h0M342.3,54.4h0M347.6,55.0h0M339.3,54.2h0M339.3,54.3h0M338.0,53.8h0M353.2,50.4h0M353.0,49.9h0M357.1,53.8h0M338.9,51.6h0M339.1,51.3h0M349.3,53.0h0M344.9,47.6h0M354.4,54.9h0M338.4,50.3h0M338.7,49.9h0M347.1,52.4h0M338.3,50.1h0M338.6,49.7h0M337.2,47.8h0M349.7,47.8h0M341.6,51.4h0M342.8,46.3h0M353.7,47.1h0M351.1,50.2h0M343.4,47.7h0M343.7,48.1h0M350.1,49.6h0M354.3,46.5h0M348.7,42.2h0M356.2,56.2h0M345.1,49.2h0M335.4,52.0h0M340.4,48.2h0M340.0,48.7h0M338.9,48.8h0M339.7,51.8h0M340.5,52.4h0M342.2,55.6h0M344.0,56.5h0M353.2,54.2h0M342.5,55.3h0M342.5,54.8h0M341.7,54.8h0M353.4,44.1h0M342.2,46.6h0M342.4,46.8h0M341.9,50.7h0M341.2,51.1h0M348.8,48.2h0M340.4,53.4h0M341.3,53.0h0M340.5,53.4h0M342.8,43.1h0M343.6,37.8h0M340.7,45.8h0M344.5,44.3h0M343.7,44.1h0M340.9,46.6h0M339.5,50.2h0M342.0,44.4h0M340.4,52.3h0M341.4,53.1h0M341.5,44.6h0M353.1,43.2h0M339.6,52.2h0M338.8,52.8h0M349.3,45.3h0M338.8,44.2h0M347.8,54.5h0M342.3,46.7h0M341.5,47.3h0M336.9,53.1h0M337.5,52.0h0M337.8,52.1h0M340.5,54.0h0M339.8,54.5h0M355.0,53.0h0M340.4,51.7h0M340.0,51.5h0M340.4,48.7h0M340.2,47.8h0M339.0,51.5h0M338.4,50.8h0M343.0,52.0h0M343.6,52.0h0M336.2,55.1h0M335.9,55.2h0M343.3,55.1h0M342.3,54.9h0M342.2,53.3h0M336.8,49.9h0M351.1,57.3h0M339.4,50.4h0M340.8,50.1h0M342.7,44.9h0M342.7,45.8h0M345.9,52.8h0M339.2,51.2h0M339.7,51.1h0M339.1,46.5h0M338.3,47.5h0M337.0,51.9h0M338.0,52.8h0M352.2,54.9h0M344.5,42.8h0M340.0,50.8h0M340.7,52.3h0M341.2,53.4h0M341.0,53.1h0M344.1,48.9h0M343.0,49.9h0M356.3,54.8h0M346.7,49.4h0M344.8,53.1h0M346.4,49.1h0M343.4,51.8h0M343.9,51.5h0M339.5,50.4h0M339.3,50.0h0M346.4,54.5h0M341.5,91.2h0M342.0,91.6h0M356.0,83.6h0M357.2,83.2h0M357.4,84.0h0M342.8,57.5h0M341.1,56.6h0M342.1,92.6h0M341.2,92.6h0M341.2,93.5h0M334.7,82.0h0M334.3,83.0h0M349.6,101.4h0M351.2,71.9h0M350.8,71.9h0M349.3,82.5h0M342.4,68.1h0M341.0,68.5h0M336.1,93.4h0M335.6,93.4h0M347.8,100.2h0M348.1,99.3h0M348.8,100.5h0M358.0,79.3h0M351.6,79.5h0M350.4,80.2h0M351.2,79.6h0M340.8,78.0h0M340.9,76.8h0M349.1,94.9h0M349.1,95.7h0M347.3,80.9h0M346.8,80.9h0M348.9,88.7h0M348.9,89.4h0M348.2,88.7h0M342.0,84.7h0M342.1,84.7h0M351.4,75.1h0M347.4,92.4h0M346.4,89.1h0M346.7,89.4h0M348.7,77.4h0M356.7,85.3h0M357.7,86.1h0M335.3,95.7h0M335.7,96.8h0M359.1,93.5h0M358.5,92.0h0M337.5,90.5h0M337.8,90.8h0M338.2,89.4h0M337.8,62.1h0M341.1,83.9h0M341.5,83.8h0M341.2,83.4h0M344.4,69.2h0M355.1,97.5h0M357.7,93.4h0M358.7,92.3h0M339.5,74.3h0M339.9,53.8h0M341.4,54.0h0M345.6,76.3h0M336.2,90.0h0M337.8,89.3h0M354.9,99.4h0M354.4,99.1h0M341.6,93.7h0M340.5,93.5h0M340.6,94.3h0M346.8,89.7h0M338.1,75.6h0M338.4,76.0h0M338.0,74.5h0M341.7,53.8h0M347.8,61.1h0M341.4,84.0h0M341.8,84.3h0M342.3,82.6h0M336.0,75.3h0M336.1,81.8h0M336.5,81.7h0M336.3,81.7h0M343.8,72.1h0M353.6,101.5h0M354.9,100.9h0M347.3,82.4h0M347.1,82.9h0M347.2,83.3h0M336.7,50.7h0M335.9,51.1h0M353.7,87.4h0M353.9,87.1h0M355.4,87.8h0M340.1,74.9h0M339.3,74.0h0M348.1,83.4h0M348.1,83.5h0M344.7,91.7h0M345.9,92.9h0M344.7,92.6h0M336.7,72.6h0M335.7,73.0h0M342.5,75.6h0M341.4,74.1h0M360.2,94.2h0M344.9,52.5h0M343.6,53.1h0M340.6,59.1h0M348.2,89.9h0M338.0,82.4h0M337.7,83.1h0M337.5,83.0h0M355.0,93.1h0M354.0,92.2h0M352.5,90.5h0M352.8,90.7h0M353.9,100.3h0M354.8,99.8h0M345.4,90.6h0M344.6,90.8h0M339.4,94.1h0M338.3,93.3h0M359.1,85.1h0M333.0,101.0h0M350.9,90.8h0M352.0,90.0h0M351.6,90.3h0M348.4,77.1h0M348.1,76.9h0M341.2,58.2h0M341.2,58.2h0M349.4,77.2h0M349.4,76.7h0M349.8,77.1h0M342.8,57.2h0M343.0,56.5h0M342.7,55.8h0M357.3,90.0h0M357.9,92.3h0M332.2,96.0h0M332.4,96.1h0M354.9,85.6h0M356.4,85.6h0M356.7,84.1h0M350.3,83.3h0M350.9,82.0h0M350.8,81.1h0M340.7,77.9h0M341.0,78.4h0M355.2,96.1h0M356.5,97.1h0M354.7,96.1h0M353.2,73.9h0M345.0,86.0h0M345.7,87.0h0M346.9,86.3h0M358.5,90.6h0M358.2,89.2h0M350.9,93.4h0M350.6,93.8h0M343.5,85.3h0M346.1,84.9h0M336.5,87.3h0M337.4,86.9h0M351.8,94.2h0M351.7,93.2h0M350.0,93.2h0M345.0,78.6h0M343.8,79.0h0M343.2,79.8h0M341.2,90.3h0M341.4,90.9h0M342.0,91.4h0M343.9,94.0h0M344.5,94.3h0M343.9,94.5h0M339.1,57.8h0M356.0,77.2h0M332.2,101.1h0M332.5,101.4h0M352.9,79.2h0M349.6,95.2h0M349.7,95.5h0M339.6,91.9h0M338.9,91.6h0M353.6,89.0h0M354.2,88.9h0M354.2,89.0h0M341.0,60.7h0M340.2,83.8h0M340.4,75.8h0M340.1,75.3h0M338.9,77.6h0M339.8,76.1h0M339.7,76.0h0M336.1,86.4h0M337.4,86.2h0M336.3,86.1h0M354.3,79.5h0M353.8,80.5h0M348.7,83.0h0M349.8,83.3h0M350.6,83.3h0M339.5,90.0h0M338.3,90.5h0M338.0,89.5h0M353.5,67.2h0M340.1,57.2h0M349.9,98.7h0M350.5,98.2h0M356.8,73.6h0M340.2,77.5h0M339.8,76.0h0M340.0,95.3h0M348.0,73.8h0M352.0,81.6h0M352.0,81.6h0M336.7,91.7h0M336.4,91.2h0M336.3,91.8h0M341.9,80.9h0M352.3,82.7h0M352.8,82.6h0M344.0,98.7h0M343.1,99.6h0M344.3,81.4h0M344.8,81.6h0M350.0,83.9h0M350.6,84.3h0M349.7,84.1h0M341.0,53.8h0M340.9,53.4h0M346.0,74.7h0M343.7,75.0h0M343.1,83.3h0M350.1,82.0h0M349.5,52.1h0M339.5,76.2h0M345.1,75.0h0M345.3,75.0h0M345.4,76.2h0M346.8,59.4h0M335.4,87.0h0M335.3,86.6h0M337.3,86.6h0M345.4,87.8h0M344.6,87.2h0M344.7,88.4h0M336.8,74.2h0M336.5,73.7h0M334.4,87.1h0M334.3,87.6h0M358.2,86.2h0M357.6,86.1h0M353.7,88.1h0M351.7,88.6h0M353.1,87.7h0M354.5,95.4h0M353.7,96.1h0M350.9,84.0h0M350.6,84.5h0M351.4,73.9h0M336.5,63.3h0M351.3,74.9h0M352.7,75.0h0M345.6,84.7h0M351.3,57.1h0M350.3,90.9h0M351.2,92.2h0M349.4,101.8h0M350.0,100.7h0M345.3,88.7h0M345.7,89.6h0M345.6,87.8h0M333.8,98.3h0M333.8,99.0h0M333.5,97.7h0M348.0,77.0h0M346.8,77.0h0M342.3,55.3h0M343.2,55.2h0M356.5,76.5h0M337.7,79.8h0M359.1,88.3h0M359.6,89.6h0M343.9,80.4h0M343.7,79.9h0M344.4,80.1h0M338.3,81.4h0M339.0,80.7h0M337.9,81.7h0M337.7,93.9h0M338.0,94.3h0M355.6,83.1h0M355.9,83.6h0M336.0,72.4h0M341.3,74.0h0M341.8,74.5h0M342.1,74.5h0M351.5,87.5h0M351.3,87.3h0M350.5,87.9h0M341.9,85.1h0M340.8,85.0h0M342.6,86.1h0M345.3,68.7h0M351.8,77.8h0M340.6,59.9h0M352.1,78.4h0M352.9,77.9h0M357.1,79.2h0M346.2,97.2h0M345.0,97.7h0M344.8,97.4h0M354.5,87.4h0M353.8,87.0h0M353.9,86.4h0M352.8,80.9h0M353.2,81.1h0M342.3,97.4h0M341.9,96.9h0M341.2,97.2h0M353.9,96.9h0M352.5,95.2h0M355.3,79.2h0M348.3,59.6h0M345.8,97.9h0M336.3,69.9h0M347.7,73.6h0M348.7,83.1h0M348.6,83.8h0M348.1,83.7h0M334.8,84.7h0M335.0,83.8h0M334.1,83.4h0M345.1,74.5h0M340.4,82.0h0M341.5,82.4h0M356.1,80.2h0M334.7,80.2h0M334.8,80.0h0M354.1,98.5h0M354.3,97.9h0M353.1,97.8h0M354.9,100.4h0M355.6,100.8h0M355.1,100.4h0M333.5,100.5h0M333.3,99.9h0M350.4,100.9h0M349.2,101.5h0M339.7,90.0h0M338.1,90.4h0M337.5,79.6h0M336.8,79.2h0M336.8,80.0h0M338.9,87.0h0M338.6,85.9h0M339.8,86.7h0M336.5,86.1h0M335.6,85.2h0M359.8,93.2h0M359.8,93.2h0M353.2,96.2h0M350.8,94.8h0M351.4,95.7h0M359.8,93.1h0M358.3,93.4h0M340.4,52.8h0M340.9,50.9h0M344.8,99.0h0M344.9,100.0h0M351.2,94.2h0M349.6,93.8h0M342.9,53.5h0M343.2,55.1h0M342.3,64.3h0M348.9,74.5h0M352.3,97.7h0M354.0,98.4h0M353.2,97.6h0M345.7,79.3h0M345.8,80.3h0M343.5,73.3h0M343.0,74.2h0M341.5,85.6h0M340.0,85.2h0M337.0,84.3h0M337.3,85.5h0M356.9,76.6h0M342.7,83.5h0M343.3,83.5h0M343.7,84.4h0M360.3,90.1h0M360.3,89.9h0M344.7,52.8h0M354.4,88.5h0M354.2,89.0h0M344.5,58.9h0M346.0,89.4h0M345.5,89.8h0M345.8,89.9h0M357.2,55.8h0M357.7,56.6h0M353.5,82.2h0M354.4,82.4h0M353.5,81.9h0M355.1,81.1h0M353.8,101.0h0M354.4,102.1h0M346.1,78.6h0M345.9,79.0h0M345.8,79.3h0M353.7,96.3h0M354.2,95.9h0M336.1,96.1h0M336.2,96.1h0M336.4,97.0h0M347.5,80.2h0M346.5,80.5h0M340.6,86.8h0M341.8,87.1h0M341.8,87.2h0M352.0,61.0h0M355.6,81.6h0M351.6,99.4h0M350.3,98.7h0M346.8,101.1h0M348.3,101.2h0M353.1,80.5h0M353.8,80.2h0M341.9,90.9h0M341.1,91.3h0M341.8,90.7h0M350.0,101.0h0M349.5,100.1h0M351.0,99.9h0M339.4,64.1h0M338.8,96.6h0M345.5,98.7h0M346.3,98.0h0M345.3,99.3h0M332.5,92.4h0M334.2,91.2h0M339.3,86.7h0M338.3,85.4h0M354.9,85.5h0M354.9,85.4h0M355.2,85.9h0M347.8,98.1h0M347.7,98.0h0M351.4,83.3h0M352.1,83.2h0M352.1,92.1h0M350.7,92.5h0M351.9,92.2h0M335.7,85.8h0M336.3,86.5h0M335.9,86.9h0M333.5,99.1h0M332.2,99.5h0M332.9,99.7h0M336.2,73.9h0M335.7,73.8h0M336.2,74.2h0M349.2,97.8h0M349.0,97.1h0M347.3,96.0h0M348.6,84.5h0M348.9,84.2h0M349.7,84.8h0M343.2,85.9h0M343.3,85.9h0M345.0,82.6h0M352.3,85.6h0M351.4,85.4h0M351.7,86.1h0M333.6,94.0h0M333.5,98.6h0M339.5,56.1h0M356.1,89.2h0M355.3,88.6h0M354.8,89.2h0M331.7,99.4h0M331.8,99.6h0M340.3,52.3h0M338.9,51.7h0M339.8,90.5h0M339.7,89.8h0M339.9,90.0h0M335.3,80.0h0M336.2,79.4h0M341.3,97.9h0M341.0,98.1h0M340.8,97.4h0M335.6,85.9h0M335.2,86.2h0M356.4,84.0h0M356.3,84.0h0M356.8,83.4h0M354.6,96.3h0M355.5,95.9h0M354.0,85.3h0M350.2,89.0h0M348.2,89.8h0M348.5,89.5h0M345.7,75.5h0M345.2,76.8h0M341.6,93.4h0M350.4,85.4h0M353.4,61.5h0M343.1,56.0h0M336.0,76.5h0M335.1,76.3h0M334.9,75.4h0M345.4,82.6h0M345.1,82.1h0M333.8,77.6h0M332.9,77.1h0M345.6,98.6h0M335.1,87.2h0M355.8,90.3h0M355.3,91.1h0M354.2,76.7h0M344.8,84.4h0M335.5,82.9h0M335.5,83.1h0M353.4,77.7h0M356.7,91.1h0M357.3,91.8h0M347.0,75.8h0M350.4,94.6h0M350.4,94.0h0M349.6,95.6h0M341.7,97.4h0M342.4,97.0h0M333.0,77.2h0M352.6,74.6h0M352.5,82.3h0M343.6,72.4h0M343.1,58.0h0M341.8,95.4h0M341.9,95.2h0M337.2,74.0h0M336.5,73.4h0M336.9,73.2h0M341.6,81.0h0M342.4,81.9h0M342.7,81.0h0M347.0,98.1h0M347.6,97.4h0M350.9,101.1h0M350.3,100.8h0M350.5,100.8h0M349.7,69.9h0M355.5,89.4h0M355.1,88.8h0M335.4,82.0h0M335.9,82.2h0M335.0,83.3h0M348.0,87.5h0M347.2,87.1h0M340.7,65.8h0M333.1,78.2h0M334.3,77.4h0M333.9,78.6h0M355.3,89.6h0M356.3,88.6h0M337.5,82.9h0M337.3,83.1h0M337.2,82.4h0M345.2,52.5h0M334.4,84.2h0M334.4,84.0h0M333.8,84.1h0M341.6,91.1h0M354.1,89.2h0M354.7,89.0h0M352.7,88.5h0M342.0,88.5h0M351.7,101.2h0M356.0,76.0h0M355.3,76.2h0M346.3,68.7h0M346.5,92.1h0M351.0,94.7h0M351.1,94.2h0M344.2,78.3h0M344.8,78.3h0M351.8,90.4h0M334.0,95.1h0M334.4,95.5h0M356.7,79.0h0M354.6,79.7h0M345.4,99.1h0M344.6,99.2h0M348.1,88.6h0M334.5,92.7h0M335.8,92.9h0M346.5,88.7h0M347.3,90.4h0M345.6,89.2h0M360.6,82.0h0M360.4,81.7h0M344.9,99.5h0M347.2,84.6h0M347.9,84.1h0M347.5,73.5h0M348.2,73.1h0M339.9,88.3h0M338.9,86.6h0M350.8,77.7h0M351.3,77.1h0M342.5,91.9h0M342.9,92.0h0M345.0,52.4h0M344.7,52.1h0M348.7,87.4h0M334.8,82.7h0M333.6,83.6h0M338.7,73.1h0M345.4,85.0h0M345.2,85.4h0M345.3,85.2h0M341.4,78.5h0M340.9,78.6h0M347.5,90.6h0M348.2,92.4h0M346.1,75.8h0M346.3,75.5h0M337.0,77.4h0M336.1,76.4h0M349.6,88.6h0M348.8,87.6h0M347.4,75.0h0M347.2,75.1h0M345.5,89.0h0M345.3,89.2h0M335.6,55.5h0M348.7,86.0h0M356.1,98.5h0M354.1,98.8h0M344.3,56.0h0M343.6,55.8h0M339.2,72.9h0M339.2,73.1h0M335.8,92.6h0M336.4,92.0h0M335.8,92.4h0M340.6,52.0h0M339.9,51.4h0M340.4,52.1h0M336.9,85.0h0M337.1,85.3h0M345.6,94.2h0M345.5,94.5h0M338.1,88.9h0M338.5,89.9h0M354.9,58.3h0M340.6,56.0h0M336.8,77.9h0M335.8,77.8h0M336.0,77.9h0M340.5,55.8h0M339.6,90.8h0M340.0,91.5h0M339.7,90.6h0M344.5,84.9h0M344.7,85.5h0M349.2,93.4h0M349.3,92.4h0M349.9,92.7h0M341.3,52.1h0M351.0,94.0h0M350.2,94.0h0M352.9,84.8h0M352.3,83.6h0M351.6,83.4h0M337.0,96.5h0M336.2,96.8h0M336.4,95.9h0M355.5,95.9h0M355.6,96.5h0M356.2,95.9h0M343.7,82.8h0M342.2,82.6h0M343.0,83.5h0M339.3,55.1h0M339.3,55.8h0M336.8,74.2h0M351.1,94.8h0M351.1,95.1h0M350.4,95.5h0M349.4,58.1h0M348.2,93.1h0M343.1,81.6h0M342.2,82.4h0M343.1,81.6h0M343.8,55.8h0M356.1,93.8h0M333.8,100.5h0M333.2,99.7h0M334.6,83.4h0M334.5,82.0h0M333.4,96.4h0M333.5,97.1h0M332.7,96.6h0M350.7,99.2h0M350.1,99.6h0M342.5,93.0h0M341.7,92.6h0M343.7,67.1h0M359.0,87.5h0M358.7,88.6h0M343.8,87.1h0M343.2,87.1h0M339.4,69.8h0M349.2,97.1h0M350.1,96.7h0M348.4,96.1h0M343.7,96.2h0M331.4,100.3h0M331.3,99.4h0M341.4,72.0h0M346.0,100.0h0M343.3,78.5h0M344.4,78.0h0M337.8,88.0h0M338.2,87.4h0M354.3,83.4h0M354.0,82.8h0M346.8,64.1h0M341.7,89.8h0M335.5,90.6h0M334.5,91.1h0M336.1,91.1h0M337.2,94.7h0M337.0,94.1h0M338.3,94.2h0M335.1,71.3h0M340.5,50.8h0M339.5,51.5h0M339.7,51.6h0M335.0,100.9h0M334.9,100.7h0M334.7,101.9h0M335.0,80.2h0M335.6,81.1h0M335.2,80.5h0M340.7,81.0h0M357.6,79.1h0M338.1,90.3h0M338.4,90.3h0M338.5,91.2h0M348.9,78.3h0M348.5,78.3h0M347.6,78.1h0M347.6,72.8h0M346.6,72.0h0M346.6,72.6h0M345.6,77.3h0M346.6,74.8h0M347.6,74.6h0M341.2,52.8h0M340.8,52.6h0M350.5,72.4h0M359.9,89.2h0M358.8,89.1h0M343.1,56.7h0M345.1,56.0h0M358.1,80.3h0M344.8,72.5h0M351.4,96.0h0M359.3,80.9h0M345.8,98.2h0M346.3,98.2h0M347.2,98.3h0M335.6,80.1h0M335.3,80.3h0M358.0,78.9h0M357.1,89.3h0M356.8,88.6h0M334.1,82.2h0M335.7,82.4h0M356.3,79.8h0M333.5,101.4h0M333.2,100.7h0M332.8,100.9h0M356.4,98.8h0M356.3,100.2h0M355.0,102.1h0M353.9,101.4h0M336.8,87.6h0M345.9,70.0h0M336.3,52.5h0M337.2,52.4h0M351.6,87.7h0M351.4,86.0h0M351.6,86.7h0M349.4,77.1h0M350.9,76.9h0M353.9,90.0h0M353.7,88.2h0M340.7,53.9h0M340.8,77.6h0M340.3,77.7h0M340.2,77.2h0M343.2,90.7h0M344.1,90.2h0M344.2,82.9h0M344.5,83.0h0M344.8,81.6h0M338.4,85.7h0M338.4,86.6h0M337.7,85.5h0M348.3,77.2h0M347.6,76.7h0M348.3,77.1h0M334.4,93.5h0M334.2,93.7h0M346.9,85.7h0M345.5,87.5h0M346.9,85.5h0M348.8,81.7h0M348.1,82.8h0M349.7,80.4h0M348.9,80.8h0M345.2,73.9h0M355.8,95.0h0M357.6,95.6h0M353.0,83.4h0M337.9,92.4h0M342.2,74.5h0M341.3,76.1h0M341.9,75.6h0M354.3,94.7h0M354.7,94.0h0M342.2,89.3h0M343.9,89.4h0M340.1,82.8h0M339.8,81.8h0M358.4,85.4h0M345.3,97.6h0M345.6,98.1h0M345.3,97.2h0M354.5,78.0h0M353.5,77.8h0M346.7,90.8h0M347.1,92.1h0M346.6,76.1h0M346.4,74.4h0M353.2,97.8h0M352.1,97.9h0M352.9,98.5h0M338.4,94.2h0M338.5,92.8h0M356.1,94.9h0M357.4,80.6h0M355.4,81.6h0M337.0,75.4h0M335.6,75.2h0M341.9,79.5h0M340.3,80.7h0M341.2,79.9h0M344.9,71.1h0M345.9,71.0h0M353.0,84.4h0M352.4,84.8h0M336.0,74.6h0M347.9,54.8h0M346.1,73.5h0M346.5,74.9h0M345.3,75.2h0M341.4,55.7h0M342.0,55.9h0M345.6,73.3h0M346.8,72.6h0M344.9,88.1h0M344.5,87.8h0M356.0,82.4h0M356.1,82.8h0M338.9,74.4h0M338.5,74.7h0M338.0,74.4h0M334.8,100.3h0M334.8,100.1h0M333.9,99.8h0M348.7,87.8h0M349.2,87.3h0M349.1,88.0h0M338.1,56.6h0M339.3,93.9h0M339.0,92.7h0M338.9,92.7h0M348.7,65.4h0M341.1,82.4h0M340.8,81.0h0M339.8,81.4h0M343.2,95.3h0M338.1,90.9h0M339.4,90.4h0M343.8,99.6h0M343.9,77.3h0M350.5,94.3h0M351.8,93.5h0M351.8,93.6h0M342.4,87.7h0M343.5,87.7h0M341.5,87.8h0M354.9,88.4h0M355.6,86.7h0M356.5,88.4h0M345.4,72.9h0M345.4,72.3h0M340.6,98.2h0M355.3,75.7h0M336.0,92.4h0M336.6,93.5h0M336.6,92.7h0M343.6,89.6h0M345.0,89.6h0M344.3,88.6h0M343.2,89.1h0M341.2,88.5h0M348.0,76.1h0M348.6,76.0h0M343.0,88.9h0M343.8,89.3h0M343.7,89.5h0M343.0,88.2h0M343.8,89.3h0M343.3,87.8h0M332.4,99.7h0M332.6,99.6h0M350.9,101.1h0M334.5,82.2h0M336.4,76.6h0M336.3,77.7h0M336.2,78.3h0M336.7,95.0h0M336.3,94.0h0M347.6,77.2h0M347.6,77.3h0M343.7,55.4h0M343.3,54.1h0M346.4,78.5h0M346.8,98.6h0M347.1,99.4h0M338.7,81.3h0M338.3,82.2h0M338.3,80.8h0M345.0,96.3h0M345.7,95.8h0M344.0,77.7h0M343.5,77.4h0M342.2,77.5h0M353.0,58.8h0M334.2,86.9h0M334.3,87.8h0M346.9,89.6h0M344.0,90.0h0M343.0,88.3h0M349.2,82.7h0M348.9,83.6h0M355.5,92.8h0M355.7,93.2h0M337.5,53.2h0M337.6,54.0h0M338.3,53.7h0M353.6,80.9h0M347.5,79.7h0M345.8,78.8h0M346.6,79.1h0M337.1,92.6h0M336.9,94.1h0M336.3,93.1h0M350.3,93.1h0M349.1,92.7h0M351.6,102.9h0M352.1,101.7h0M338.9,54.5h0M336.8,55.1h0M338.2,54.7h0M345.5,62.2h0M347.7,89.0h0M349.9,88.8h0M347.8,81.2h0M346.4,81.9h0M347.0,76.1h0M345.6,93.5h0M346.0,93.3h0M357.5,91.7h0M356.7,91.8h0M353.5,100.1h0M353.6,99.7h0M354.7,99.7h0M353.9,97.9h0M352.7,97.4h0M355.5,74.8h0M355.3,82.8h0M356.0,83.9h0M354.9,83.3h0M355.7,89.2h0M356.7,89.1h0M347.4,83.0h0M348.1,83.7h0M347.6,82.8h0M355.1,73.1h0M356.1,75.4h0M334.6,101.3h0M333.8,101.3h0M347.6,80.7h0M347.8,79.5h0M347.5,80.6h0M357.3,82.2h0M344.9,80.5h0M345.6,80.3h0M356.2,75.4h0M352.0,81.8h0M353.2,82.3h0M347.6,93.6h0M348.1,94.2h0M347.9,94.8h0M356.8,95.4h0M355.0,95.5h0M355.0,95.9h0M335.1,73.9h0M335.8,74.6h0M335.7,75.2h0M352.3,98.8h0M352.5,100.3h0M351.9,99.7h0M336.3,70.2h0M335.3,89.9h0M334.9,90.3h0M355.3,96.4h0M355.1,96.5h0M355.9,95.5h0M342.5,81.4h0M344.6,80.3h0M352.5,83.9h0M355.1,85.1h0M355.2,84.9h0M345.1,60.9h0M351.8,76.2h0M347.7,70.5h0M350.1,96.0h0M350.3,95.0h0M349.7,96.0h0M343.0,97.3h0M342.4,98.1h0M354.5,99.6h0M354.5,99.9h0M338.9,85.6h0M340.1,85.4h0M356.7,79.0h0M356.8,77.5h0M335.3,90.7h0M335.6,91.7h0M336.2,91.0h0M349.8,60.6h0M340.8,50.8h0M341.1,52.3h0M340.1,52.0h0M344.9,95.1h0M344.7,95.9h0M345.0,95.5h0M355.4,92.0h0M355.2,90.5h0M355.1,92.1h0M339.5,81.5h0M339.3,81.8h0M340.5,82.1h0M349.4,75.0h0M344.7,92.8h0M346.5,93.7h0M348.1,91.9h0M347.6,91.2h0M346.4,92.8h0M336.4,50.5h0M336.9,80.8h0M337.1,80.4h0M336.4,81.8h0M349.9,81.0h0M349.4,80.7h0M350.5,80.0h0M343.4,97.7h0M344.3,96.6h0M343.1,97.0h0M333.5,90.1h0M334.4,91.9h0M334.6,90.4h0M358.2,90.6h0M351.6,83.5h0M350.1,84.1h0M335.6,72.4h0M343.9,77.7h0M343.1,78.8h0M358.4,97.5h0M357.6,99.0h0M352.5,97.3h0M352.7,97.3h0M353.7,97.2h0M339.3,92.6h0M339.2,92.2h0M340.0,92.0h0M339.1,89.5h0M339.2,90.4h0M339.8,89.8h0M352.0,82.6h0M355.5,60.3h0M350.4,91.3h0M345.1,88.2h0M338.8,79.2h0M341.4,75.5h0M344.2,82.6h0M343.1,81.3h0M357.3,62.5h0M352.5,95.6h0M354.5,85.8h0M355.4,86.7h0M354.6,87.9h0M350.5,72.8h0M350.1,72.6h0M336.2,68.2h0M341.9,53.3h0M352.5,94.6h0M351.3,93.8h0M350.7,93.9h0M351.6,95.6h0M351.3,97.2h0M354.0,94.2h0M354.2,93.9h0M343.3,97.0h0M342.8,96.5h0M343.0,97.9h0M354.0,82.2h0M353.5,82.3h0M353.4,82.6h0M343.8,83.4h0M343.6,83.8h0M337.1,71.2h0M336.1,73.4h0M336.3,74.7h0M354.8,81.4h0M354.1,80.9h0M349.5,76.2h0M350.8,77.0h0M336.8,57.1h0M339.0,90.4h0M338.3,90.3h0M338.6,89.5h0M338.3,66.5h0M351.6,75.1h0M350.9,74.7h0M351.3,74.7h0M338.9,84.8h0M338.5,83.8h0M338.0,84.4h0M336.2,95.4h0M336.5,95.8h0M336.9,95.6h0M352.9,90.5h0M353.0,90.4h0M352.2,89.5h0M339.5,86.7h0M340.7,87.4h0M341.7,70.5h0M347.5,81.2h0M348.3,83.1h0M345.4,86.1h0M346.4,97.2h0M347.0,97.4h0M346.2,96.4h0M336.8,91.4h0M336.7,90.8h0M351.9,100.7h0M351.3,100.2h0M348.4,72.9h0M343.8,69.0h0M336.1,54.5h0M336.1,53.9h0M346.9,84.8h0M346.5,85.7h0M355.6,76.1h0M349.1,87.0h0M348.4,86.6h0M348.7,89.0h0M352.6,89.2h0M342.0,91.9h0M341.1,91.6h0M342.3,90.9h0M351.5,97.3h0M351.3,97.7h0M351.4,96.9h0M344.6,93.6h0M339.1,56.7h0M339.1,57.4h0M341.8,56.2h0M341.0,92.4h0M344.7,74.3h0M345.6,75.0h0M351.3,79.3h0M351.3,79.6h0M348.0,81.6h0M347.6,71.5h0M351.4,93.2h0M351.1,94.1h0M340.7,52.6h0M337.3,79.4h0M337.3,79.9h0M342.4,71.0h0M352.8,98.9h0M351.6,99.3h0M345.8,57.0h0M358.4,89.6h0M358.7,90.0h0M358.0,89.0h0M353.1,88.8h0M352.5,89.1h0M339.5,54.6h0M338.6,72.7h0M338.0,74.8h0M351.4,85.4h0M351.8,85.6h0M344.0,79.7h0M344.8,78.1h0M338.7,86.8h0M348.4,102.2h0M342.3,74.8h0M342.7,74.9h0M344.6,72.7h0M343.7,73.0h0M341.3,92.2h0M341.2,91.6h0M341.7,91.1h0M351.5,96.5h0M355.4,58.2h0M349.9,77.2h0M350.0,78.2h0M342.8,77.2h0M343.6,77.8h0M355.4,64.1h0M356.4,93.8h0M356.4,94.1h0M337.3,77.3h0M337.6,77.1h0M337.5,76.3h0M336.8,93.2h0M345.9,86.0h0M345.3,85.9h0M352.2,96.5h0M351.8,94.6h0M355.0,97.1h0M354.9,97.3h0M342.9,80.2h0M343.0,80.2h0M343.3,80.2h0M334.8,77.8h0M333.9,78.1h0M345.0,80.2h0M343.6,69.9h0M337.9,54.5h0M345.1,45.1h0M341.1,53.3h0M341.1,52.7h0M342.5,53.3h0M334.3,79.0h0M344.4,88.5h0M345.5,100.3h0M342.3,77.9h0M336.8,76.3h0M353.6,98.8h0M352.8,85.0h0M356.7,85.4h0M334.9,86.7h0M336.2,79.3h0M333.6,83.4h0M349.8,75.9h0M343.3,71.4h0M348.1,81.7h0M345.1,81.5h0M357.6,90.4h0M335.3,89.3h0M338.5,86.7h0M343.8,83.0h0M344.9,77.2h0M338.2,93.0h0M334.6,93.4h0M347.0,93.1h0M339.8,84.7h0M351.5,97.3h0M348.4,98.1h0M336.4,77.9h0M348.9,81.4h0" stroke="#e8212b"/></g><defs><linearGradient id="cb" x1="0" x2="1" y1="0" y2="0"><stop offset="0" stop-color="#176fb5"/><stop offset="0.06" stop-color="#1c7bc0"/><stop offset="0.25" stop-color="#4d9bd6"/><stop offset="0.5" stop-color="#ffffff"/><stop offset="0.75" stop-color="#f0787c"/><stop offset="0.94" stop-color="#e8212b"/><stop offset="1" stop-color="#c8141f"/></linearGradient></defs><rect x="394.2" y="104.2" width="34.7" height="7.4" fill="url(#cb)"/><text x="390.5" y="120" font-size="6.2" font-weight="normal" fill="#2a2a2a" text-anchor="start" textLength="10.7" lengthAdjust="spacingAndGlyphs">Min</text><text x="421.2" y="120" font-size="6.2" font-weight="normal" fill="#2a2a2a" text-anchor="start" textLength="11.8" lengthAdjust="spacingAndGlyphs">Max</text><text x="67.6" y="139.3" font-size="11.2" font-weight="bold" fill="#000" text-anchor="start">I</text><defs><linearGradient id="sg" gradientUnits="userSpaceOnUse" x1="115" y1="240" x2="205" y2="150"><stop offset="0" stop-color="#129ad8"/><stop offset="0.045" stop-color="#1f9edb"/><stop offset="0.11" stop-color="#5f9cda"/><stop offset="0.2" stop-color="#8a9ad8"/><stop offset="0.3" stop-color="#ad93c8"/><stop offset="0.42" stop-color="#d58aa8"/><stop offset="0.55" stop-color="#ec8b94"/><stop offset="0.68" stop-color="#f0836f"/><stop offset="1" stop-color="#f07f6c"/></linearGradient></defs><path d="M113.8,232.0L117.0,223.0L120.8,213.0L125.6,201.2L131.6,190.6L140.4,182.8L151.2,174.8L161.0,167.6L170.8,161.6L180.4,158.0L187.4,158.0L193.2,162.0L197.4,168.8L201.0,177.4L203.0,184.8L201.4,193.2L196.0,201.3L189.0,209.0L179.0,217.4L169.0,224.8L159.2,231.2L149.4,236.2L139.6,239.8L128.0,241.2L118.0,240.0L113.8,236.6Z" fill="url(#sg)" stroke="url(#sg)" stroke-width="1.5" stroke-linejoin="round"/><path d="M115.7,227.4h0M116.1,226.4h0M115.2,228.0h0M114.7,229.9h0M114.9,228.5h0M113.5,229.6h0M114.8,226.1h0M114.2,229.1h0M115.1,226.7h0M114.4,229.8h0M115.3,228.3h0M117.1,224.1h0M113.5,231.5h0M113.5,231.9h0M114.3,231.9h0M113.2,231.5h0M114.9,229.7h0M114.2,229.7h0M114.5,228.8h0M114.2,230.6h0M115.0,226.2h0M119.0,214.6h0M118.6,215.3h0M118.1,218.7h0M119.7,216.7h0M117.7,219.8h0M118.0,217.7h0M120.1,214.5h0M116.3,222.5h0M116.4,221.9h0M118.3,216.9h0M119.9,215.9h0M119.5,214.4h0M118.7,219.7h0M117.7,222.0h0M116.4,221.6h0M117.9,221.6h0M120.8,213.8h0M120.0,214.1h0M117.1,221.9h0M118.9,214.9h0M119.3,218.1h0M119.0,216.4h0M119.7,217.2h0M121.6,211.5h0M122.0,211.2h0M122.8,208.8h0M121.5,209.4h0M120.3,212.0h0M122.8,206.2h0M122.6,207.1h0M125.3,202.7h0M121.7,209.0h0M124.6,203.1h0M124.5,203.0h0M121.7,212.0h0M123.4,206.1h0M121.0,211.8h0M123.7,206.7h0M120.7,211.8h0M120.8,209.8h0M121.7,208.5h0M124.2,203.6h0M121.4,211.5h0M124.2,203.0h0M123.7,203.7h0M121.8,210.3h0M124.7,203.1h0M124.7,202.3h0M120.6,212.9h0M120.1,212.7h0M125.2,201.9h0M128.8,195.8h0M125.6,201.0h0M127.3,196.5h0M125.5,200.6h0M129.9,192.5h0M126.0,198.6h0M126.2,199.8h0M129.0,193.4h0M127.9,197.8h0M130.1,194.1h0M130.2,192.2h0M128.3,196.6h0M127.7,198.0h0M127.5,198.8h0M129.3,194.9h0M127.0,198.6h0M125.2,200.0h0M129.9,194.2h0M127.2,197.4h0M126.8,198.2h0M126.5,197.3h0M126.9,199.1h0M129.2,195.4h0M130.0,193.9h0M129.3,192.3h0M126.8,198.1h0M134.3,188.7h0M137.6,185.5h0M136.6,186.1h0M139.8,183.9h0M138.6,183.9h0M133.6,188.3h0M132.7,188.8h0M134.7,187.6h0M139.4,183.6h0M138.0,184.9h0M136.9,184.6h0M134.3,187.6h0M139.0,184.1h0M137.9,184.7h0M134.0,187.0h0M136.7,185.0h0M134.4,188.7h0M132.5,190.2h0M134.5,187.5h0M140.5,183.1h0M132.1,189.5h0M136.7,184.5h0M138.9,184.0h0M138.7,183.5h0M136.2,185.2h0M144.4,179.2h0M145.9,177.3h0M150.4,174.4h0M145.7,179.1h0M143.8,179.0h0M146.6,178.8h0M141.7,180.6h0M149.2,175.9h0M147.6,177.6h0M141.9,180.9h0M149.5,175.7h0M147.2,177.3h0M144.0,178.6h0M149.5,176.3h0M150.5,175.1h0M150.6,174.0h0M148.7,176.7h0M143.0,180.8h0M149.9,176.2h0M142.7,179.8h0M148.9,175.6h0M145.9,177.5h0M143.1,180.2h0M139.8,182.0h0M147.6,177.3h0M150.5,175.0h0M145.3,177.9h0M140.5,181.7h0M141.5,182.5h0M152.2,173.6h0M157.2,169.9h0M153.8,172.8h0M153.0,174.0h0M151.0,173.9h0M154.4,171.1h0M159.1,168.6h0M151.1,174.7h0M151.2,173.3h0M153.3,172.7h0M151.2,174.5h0M158.2,170.1h0M154.4,171.1h0M158.2,168.7h0M154.1,171.3h0M158.1,168.6h0M151.8,173.4h0M160.3,168.1h0M157.9,170.1h0M157.7,168.9h0M152.1,173.5h0M152.4,173.6h0M160.0,167.1h0M156.2,170.6h0M159.9,168.3h0M152.0,173.2h0M163.6,164.8h0M167.9,163.2h0M166.6,163.3h0M163.7,165.1h0M168.9,162.6h0M168.6,162.5h0M168.8,162.6h0M162.1,166.4h0M169.9,160.8h0M164.2,165.6h0M167.4,162.3h0M165.5,164.0h0M164.6,164.0h0M165.3,163.9h0M170.0,161.3h0M166.8,164.0h0M166.2,163.5h0M162.6,167.1h0M166.9,163.3h0M163.6,165.4h0M168.5,161.9h0M167.6,163.7h0M166.4,164.3h0M161.8,167.1h0M170.8,161.9h0M174.7,159.7h0M175.8,158.9h0M176.5,159.7h0M172.6,160.7h0M175.9,158.8h0M177.0,158.9h0M170.7,161.2h0M178.5,158.7h0M178.6,159.0h0M170.6,160.7h0M172.8,161.2h0M174.9,159.5h0M178.2,158.7h0M179.7,157.1h0M175.9,158.8h0M176.1,158.7h0M174.9,160.2h0M176.9,159.7h0M171.5,161.4h0M172.8,160.7h0M179.2,158.4h0M173.4,159.4h0M187.3,158.0h0M182.2,156.9h0M181.3,157.4h0M182.9,157.4h0M184.9,157.0h0M183.3,157.5h0M181.0,157.5h0M182.6,157.9h0M185.0,157.1h0M184.5,156.9h0M184.4,157.5h0M180.8,157.0h0M185.7,157.7h0M186.1,157.6h0M184.9,156.9h0M190.0,159.7h0M190.1,159.7h0M190.4,159.8h0M191.8,160.4h0M189.7,159.2h0M189.1,158.7h0M192.1,160.5h0M190.6,160.2h0M189.9,159.4h0M189.3,159.3h0M188.4,157.3h0M191.7,161.5h0M188.6,159.0h0M189.2,158.1h0M187.8,157.8h0M193.3,162.3h0M194.2,164.0h0M193.5,162.4h0M197.6,168.2h0M193.6,163.4h0M196.9,165.8h0M195.1,164.0h0M196.5,167.1h0M194.5,162.3h0M195.7,164.9h0M193.3,162.9h0M195.8,164.2h0M194.1,162.4h0M194.5,162.3h0M195.2,164.1h0M197.8,167.9h0M196.0,166.4h0M201.6,176.8h0M199.1,172.9h0M201.3,175.4h0M199.6,174.6h0M197.4,169.6h0M198.5,168.8h0M199.2,173.8h0M197.8,169.9h0M200.2,172.7h0M202.0,176.8h0M198.7,169.1h0M199.1,173.2h0M198.4,172.2h0M198.9,170.4h0M199.1,172.7h0M200.1,174.6h0M198.1,169.3h0M198.8,171.9h0M200.7,176.5h0M198.3,170.9h0M203.7,184.5h0M202.7,179.2h0M201.8,178.4h0M202.2,177.6h0M202.6,179.3h0M202.7,183.8h0M201.5,180.4h0M202.3,180.3h0M201.7,179.3h0M201.8,179.0h0M203.4,183.7h0M202.4,184.5h0M201.3,178.7h0M202.6,182.4h0M202.2,178.5h0M201.8,180.8h0M202.8,189.0h0M203.3,187.1h0M202.3,187.5h0M203.2,189.9h0M202.8,189.7h0M203.2,188.0h0M202.8,186.4h0M202.7,190.6h0M202.1,191.6h0M203.4,186.3h0M202.6,186.8h0M202.8,188.9h0M202.6,186.6h0M202.4,190.2h0M202.6,190.9h0M201.1,192.9h0M201.7,192.1h0M202.3,189.6h0M197.6,200.8h0M201.0,193.8h0M197.7,198.7h0M200.1,196.5h0M197.6,198.1h0M197.4,199.2h0M201.2,193.9h0M196.5,200.8h0M201.2,194.6h0M196.1,201.1h0M198.2,198.5h0M200.9,194.7h0M199.3,195.7h0M200.4,195.3h0M201.2,193.4h0M200.1,195.5h0M200.2,195.0h0M198.5,198.6h0M198.5,197.1h0M201.5,193.2h0M199.4,195.4h0M190.8,207.5h0M195.4,203.2h0M196.4,201.8h0M190.5,208.0h0M195.2,201.7h0M195.5,203.4h0M194.2,203.5h0M191.0,206.9h0M191.5,207.7h0M193.0,205.2h0M192.3,206.3h0M195.9,201.6h0M193.5,204.3h0M191.2,208.0h0M193.1,204.1h0M192.9,205.9h0M193.3,204.6h0M190.2,209.3h0M190.8,207.3h0M189.5,208.6h0M192.8,205.3h0M195.1,202.0h0M181.6,216.5h0M184.8,212.2h0M185.1,213.6h0M184.5,214.3h0M186.0,212.0h0M182.0,215.7h0M181.2,215.5h0M187.7,210.9h0M186.9,212.2h0M184.2,213.2h0M179.7,216.6h0M179.3,217.6h0M179.5,216.8h0M187.3,210.1h0M183.1,215.2h0M188.8,210.3h0M182.4,214.5h0M188.4,210.4h0M184.2,212.6h0M187.7,210.1h0M187.8,209.7h0M186.9,210.9h0M179.3,217.0h0M181.9,214.5h0M187.2,211.0h0M183.5,214.9h0M184.7,213.2h0M181.5,215.2h0M178.9,218.0h0M174.2,220.8h0M174.6,220.5h0M173.1,223.0h0M169.4,225.0h0M177.4,218.0h0M175.9,220.8h0M170.6,224.7h0M171.1,222.9h0M171.6,222.7h0M174.9,220.5h0M174.1,221.9h0M169.6,225.0h0M172.4,223.1h0M179.2,218.6h0M178.3,218.1h0M171.8,223.5h0M175.5,220.9h0M177.2,219.9h0M169.8,224.3h0M169.7,225.2h0M170.9,224.8h0M173.7,222.0h0M174.7,220.2h0M176.6,220.2h0M175.5,220.0h0M177.9,219.4h0M168.8,225.5h0M168.1,225.0h0M167.5,226.4h0M160.5,231.4h0M164.6,229.1h0M160.8,230.3h0M166.2,227.5h0M168.6,225.9h0M162.5,230.1h0M162.8,228.9h0M167.4,226.4h0M161.4,230.8h0M161.0,231.3h0M159.2,230.9h0M165.7,227.8h0M168.7,225.4h0M161.4,230.9h0M164.5,228.8h0M160.5,230.8h0M168.4,225.3h0M165.0,228.3h0M165.9,226.6h0M162.0,229.1h0M162.5,229.8h0M160.5,230.8h0M159.1,232.0h0M159.1,231.2h0M154.1,233.5h0M151.8,235.5h0M155.7,233.4h0M152.4,235.1h0M153.9,235.1h0M155.6,233.8h0M153.4,235.1h0M152.6,235.5h0M150.1,236.5h0M159.3,231.7h0M154.3,233.4h0M156.4,232.9h0M150.9,236.4h0M153.3,234.0h0M157.6,232.7h0M150.4,236.3h0M153.8,234.6h0M153.6,235.3h0M158.1,231.6h0M159.1,231.3h0M153.9,233.5h0M149.9,235.7h0M143.3,238.1h0M140.6,240.6h0M145.8,237.7h0M146.5,238.1h0M146.4,236.9h0M147.1,236.6h0M140.6,239.4h0M142.4,239.9h0M148.4,236.7h0M144.8,237.4h0M141.6,240.2h0M144.3,237.8h0M141.2,239.2h0M143.9,238.7h0M144.4,237.7h0M140.5,239.0h0M142.5,239.6h0M147.8,236.9h0M149.3,236.8h0M140.2,239.3h0M142.9,239.6h0M142.4,238.3h0M139.0,240.3h0M135.0,241.6h0M129.3,241.8h0M128.5,241.6h0M136.6,240.8h0M129.4,241.5h0M133.1,241.3h0M130.9,241.3h0M134.8,240.1h0M133.0,241.5h0M133.5,240.6h0M131.9,240.8h0M131.0,240.9h0M134.2,240.6h0M133.5,241.0h0M129.8,241.5h0M134.3,241.6h0M134.9,240.4h0M133.6,240.1h0M133.8,240.2h0M135.6,240.1h0M135.0,240.7h0M130.4,241.0h0M128.5,242.2h0M138.6,240.7h0M121.8,241.4h0M119.7,240.9h0M120.3,241.2h0M118.9,241.2h0M122.9,241.2h0M125.1,240.4h0M123.5,241.4h0M124.2,241.4h0M124.0,241.5h0M124.5,241.6h0M124.5,241.7h0M124.4,240.5h0M118.1,240.2h0M120.4,241.1h0M120.9,241.0h0M118.2,240.3h0M125.6,241.4h0M123.6,240.3h0M121.9,240.0h0M123.5,240.7h0M126.0,240.7h0M121.1,240.4h0M117.4,239.5h0M114.8,237.7h0M115.8,238.8h0M117.7,240.0h0M116.4,239.1h0M114.4,237.8h0M117.4,240.2h0M116.3,238.6h0M116.1,238.1h0M113.4,237.1h0M113.8,237.6h0M112.9,234.7h0M113.0,236.6h0M114.1,234.2h0M113.2,232.4h0M113.3,235.5h0M114.1,234.9h0M113.6,234.3h0M113.1,235.0h0M113.4,233.1h0M113.6,233.9h0" stroke="url(#sg)" stroke-width="2.8" stroke-linecap="round" fill="none" opacity="0.8"/><path d="M113.0,232.1h0M113.1,229.4h0M113.6,226.2h0M113.8,220.8h0M115.9,221.7h0M117.0,216.5h0M117.8,217.1h0M118.2,218.6h0M116.2,217.1h0M117.5,218.4h0M116.3,220.2h0M121.7,206.3h0M122.1,205.1h0M120.2,201.1h0M123.8,201.4h0M118.7,210.3h0M114.5,208.6h0M117.1,203.1h0M119.7,208.8h0M119.6,208.9h0M124.3,200.5h0M120.3,212.3h0M117.5,204.2h0M122.9,202.5h0M126.3,192.8h0M127.4,191.4h0M118.4,193.7h0M123.2,199.5h0M127.0,192.7h0M124.2,199.5h0M124.3,198.8h0M125.0,193.5h0M123.9,196.3h0M124.1,197.4h0M127.6,194.5h0M124.3,201.0h0M127.2,194.9h0M120.2,191.3h0M125.1,191.2h0M127.2,195.6h0M127.2,197.8h0M124.7,194.1h0M134.6,185.2h0M133.4,184.7h0M137.1,182.3h0M131.1,188.4h0M138.8,181.1h0M131.8,188.1h0M132.1,186.6h0M132.9,184.1h0M127.0,184.7h0M130.2,189.6h0M134.2,184.0h0M130.4,187.7h0M137.5,181.9h0M137.3,179.6h0M137.1,184.3h0M135.7,183.6h0M126.5,182.3h0M132.7,182.6h0M132.7,184.7h0M135.3,181.1h0M129.5,181.5h0M123.2,181.6h0M142.7,175.4h0M140.1,174.4h0M144.7,178.3h0M143.9,176.9h0M141.9,179.2h0M137.6,176.4h0M141.0,168.8h0M145.2,172.7h0M148.2,175.6h0M147.3,172.3h0M144.4,177.5h0M143.4,179.4h0M149.5,174.9h0M142.0,178.0h0M145.4,176.6h0M135.1,171.4h0M139.3,167.4h0M143.7,176.6h0M143.9,179.8h0M141.5,179.8h0M134.9,171.0h0M139.6,172.5h0M139.7,177.8h0M145.3,175.8h0M148.7,173.6h0M136.2,172.8h0M155.8,166.1h0M148.1,163.4h0M149.3,171.7h0M159.5,166.6h0M149.8,169.3h0M156.5,168.5h0M155.2,169.3h0M152.7,171.0h0M155.1,163.4h0M156.0,165.3h0M155.4,165.4h0M152.0,164.2h0M149.6,167.9h0M153.0,169.8h0M150.0,162.6h0M157.9,165.7h0M159.1,167.8h0M158.0,166.5h0M155.8,166.1h0M153.0,162.8h0M157.6,168.7h0M151.4,168.8h0M156.7,165.1h0M150.8,171.1h0M167.2,161.6h0M162.4,157.6h0M163.6,159.7h0M164.5,159.5h0M169.6,159.2h0M163.4,162.8h0M158.9,164.2h0M158.7,162.1h0M164.5,155.4h0M167.2,161.5h0M161.2,164.9h0M159.8,162.9h0M168.7,158.5h0M164.4,164.7h0M169.9,161.0h0M164.9,163.6h0M167.4,158.5h0M167.8,162.2h0M158.1,159.1h0M164.2,162.1h0M160.2,159.1h0M168.4,158.9h0M169.4,157.8h0M171.1,149.9h0M175.7,158.8h0M171.5,153.2h0M174.0,159.4h0M169.6,157.0h0M174.0,155.6h0M176.9,152.8h0M175.1,158.4h0M169.9,148.5h0M174.9,155.4h0M175.9,157.6h0M174.5,157.2h0M175.8,158.1h0M168.4,153.8h0M171.9,150.7h0M172.4,159.8h0M169.9,157.2h0M179.3,156.3h0M167.5,150.7h0M186.5,156.4h0M184.1,153.7h0M182.8,156.4h0M183.2,148.0h0M185.3,155.4h0M181.2,157.2h0M184.2,154.0h0M183.9,151.3h0M180.7,157.4h0M185.9,153.4h0M195.2,157.6h0M188.5,157.2h0M194.3,157.3h0M192.0,158.2h0M188.9,156.9h0M192.6,157.7h0M192.4,158.5h0M191.8,156.7h0M191.6,156.4h0M191.8,159.5h0M197.2,160.8h0M198.4,163.2h0M199.2,164.4h0M195.5,163.2h0M196.0,163.9h0M194.6,162.5h0M197.8,161.2h0M195.1,163.5h0M201.9,165.8h0M195.1,162.0h0M196.1,163.3h0M199.9,170.6h0M199.4,170.9h0M205.5,170.7h0M200.2,168.6h0M204.5,173.2h0M206.2,174.0h0M202.7,173.4h0M207.0,167.2h0M197.8,169.0h0M202.3,174.2h0M200.6,173.3h0M200.5,170.5h0M201.9,173.2h0M205.2,179.6h0M203.8,181.4h0M203.3,178.2h0M205.0,177.3h0M205.7,179.4h0M203.1,178.9h0M205.1,181.8h0M203.9,182.5h0M203.5,179.9h0M204.1,182.4h0M205.9,176.6h0M207.2,189.7h0M202.6,190.5h0M202.6,193.3h0M203.1,190.1h0M202.9,187.5h0M204.7,185.9h0M202.0,192.3h0M205.7,191.8h0M204.7,185.3h0M204.9,190.8h0M203.5,191.2h0M205.1,186.5h0M202.3,196.2h0M204.4,197.2h0M199.5,202.5h0M197.8,201.8h0M199.2,199.1h0M200.3,195.4h0M201.2,201.6h0M195.4,208.1h0M196.1,208.0h0M196.4,203.2h0M193.2,206.6h0M193.6,210.0h0M194.1,209.4h0M193.4,208.1h0M183.5,218.3h0M180.4,218.7h0M193.0,213.1h0M182.2,216.2h0M187.6,211.8h0M191.0,211.0h0M190.8,210.9h0M181.4,217.6h0M188.0,211.3h0M171.5,225.1h0M178.9,219.8h0M176.6,220.5h0M174.3,223.2h0M176.5,222.7h0M171.8,226.9h0M177.2,221.7h0M171.7,223.8h0M174.7,222.3h0M171.0,228.5h0M171.2,228.7h0M162.3,231.4h0M161.3,233.2h0M167.0,228.5h0M169.0,227.3h0M162.2,230.6h0M169.5,227.0h0M158.2,234.5h0M155.2,235.8h0M155.4,235.2h0M154.8,235.3h0M157.2,232.8h0M150.1,237.4h0M158.9,233.6h0M157.5,234.8h0M148.1,240.3h0M147.4,241.9h0M142.7,240.9h0M143.4,242.1h0M140.9,240.6h0M144.4,239.5h0M148.6,238.9h0M134.3,241.9h0M131.1,244.9h0M136.2,243.0h0M132.2,244.5h0M134.4,241.1h0M137.1,243.3h0M137.5,242.6h0M134.7,240.9h0M123.3,242.3h0M125.6,242.1h0M123.0,242.1h0M121.5,241.6h0M116.5,242.0h0M113.8,238.4h0M112.4,234.9h0" stroke="url(#sg)" stroke-width="3.0" stroke-linecap="round" fill="none" opacity="0.68"/><path d="M115,231.8L209.3,167" stroke="#2b2b35" stroke-width="0.8"/><path d="M110.2,138.8V248.3H211.7" fill="none" stroke="#2a2a2a" stroke-width="1.2"/><path d="M107.6,144.6H110.2" stroke="#2a2a2a" stroke-width="0.9"/><text x="104.4" y="146.95" font-size="6.8" font-weight="normal" fill="#2a2a2a" text-anchor="end" textLength="13" lengthAdjust="spacingAndGlyphs">0.75</text><path d="M107.6,168H110.2" stroke="#2a2a2a" stroke-width="0.9"/><text x="104.4" y="170.35" font-size="6.8" font-weight="normal" fill="#2a2a2a" text-anchor="end" textLength="13" lengthAdjust="spacingAndGlyphs">0.50</text><path d="M107.6,191.5H110.2" stroke="#2a2a2a" stroke-width="0.9"/><text x="104.4" y="193.85" font-size="6.8" font-weight="normal" fill="#2a2a2a" text-anchor="end" textLength="13" lengthAdjust="spacingAndGlyphs">0.25</text><path d="M107.6,215H110.2" stroke="#2a2a2a" stroke-width="0.9"/><text x="104.4" y="217.35" font-size="6.8" font-weight="normal" fill="#2a2a2a" text-anchor="end" textLength="13" lengthAdjust="spacingAndGlyphs">0.00</text><path d="M107.6,238.5H110.2" stroke="#2a2a2a" stroke-width="0.9"/><text x="104.4" y="240.85" font-size="6.8" font-weight="normal" fill="#2a2a2a" text-anchor="end" textLength="15.6" lengthAdjust="spacingAndGlyphs">−0.25</text><path d="M119.8,248.3V250.4" stroke="#2a2a2a" stroke-width="0.9"/><text x="120.0" y="260.1" font-size="6.8" font-weight="normal" fill="#2a2a2a" text-anchor="middle" textLength="15.4" lengthAdjust="spacingAndGlyphs">−0.25</text><path d="M144.1,248.3V250.4" stroke="#2a2a2a" stroke-width="0.9"/><text x="144.1" y="260.1" font-size="6.8" font-weight="normal" fill="#2a2a2a" text-anchor="middle" textLength="12.2" lengthAdjust="spacingAndGlyphs">0.00</text><path d="M168.2,248.3V250.4" stroke="#2a2a2a" stroke-width="0.9"/><text x="168.2" y="260.1" font-size="6.8" font-weight="normal" fill="#2a2a2a" text-anchor="middle" textLength="12.2" lengthAdjust="spacingAndGlyphs">0.25</text><path d="M192.4,248.3V250.4" stroke="#2a2a2a" stroke-width="0.9"/><text x="192.4" y="260.1" font-size="6.8" font-weight="normal" fill="#2a2a2a" text-anchor="middle" textLength="12.2" lengthAdjust="spacingAndGlyphs">0.50</text><text x="111.9" y="151" font-size="6.7" fill="#2a2a2a" textLength="60.8" lengthAdjust="spacingAndGlyphs"><tspan font-style="italic">R</tspan> = 0.79, <tspan font-style="italic">P</tspan> &lt; 2.2e-16</text><text x="142.2" y="271.8" font-size="8.0" font-weight="normal" fill="#2a2a2a" text-anchor="start" textLength="52.2" lengthAdjust="spacingAndGlyphs">Senescence score</text><text transform="translate(81.9,220.5) rotate(-90)" font-size="8.0" fill="#2a2a2a" textLength="45" lengthAdjust="spacingAndGlyphs">Dysfunction score</text><text x="281.1" y="139.2" font-size="11.2" font-weight="bold" fill="#000" text-anchor="start">J</text><text x="376.9" y="146.7" font-size="9.1" font-weight="normal" fill="#2a2a2a" text-anchor="start" textLength="45.4" lengthAdjust="spacingAndGlyphs">Senescence</text><text x="376.9" y="207.8" font-size="9.1" font-weight="normal" fill="#2a2a2a" text-anchor="start" textLength="45.4" lengthAdjust="spacingAndGlyphs">Dysfunction</text><path d="M300.1,152.3V181H498.8" fill="none" stroke="#222" stroke-width="1.3"/><path d="M297.6,153.8H300.1" stroke="#222" stroke-width="0.9"/><text x="291" y="156.1" font-size="5.6" font-weight="normal" fill="#2a2a2a" text-anchor="start">1</text><path d="M300.2,213.7V242.5H499" fill="none" stroke="#222" stroke-width="1.3"/><path d="M297.8,215.7H300.2" stroke="#222" stroke-width="0.9"/><text x="291" y="217.9" font-size="5.6" font-weight="normal" fill="#2a2a2a" text-anchor="start">1</text><path d="M308.4,169.8V176.70000000000002" stroke="#2d2d2d" stroke-width="0.7"/><path d="M308.4,176.4C309.30,177.03 312.90,177.17 312.90,177.8C312.90,178.34 309.30,178.46 308.4,179C307.50,178.46 303.90,178.34 303.90,177.8C303.90,177.17 307.50,177.03 308.4,176.4Z" fill="#e8951f" stroke="#2d2d2d" stroke-width="0.7" stroke-linejoin="round"/><path d="M320.5,166.6V172.0" stroke="#2d2d2d" stroke-width="0.7"/><path d="M320.5,171.7C321.42,173.32 325.10,173.68 325.10,175.3C325.10,176.88 321.42,177.23 320.5,178.8C319.58,177.23 315.90,176.88 315.90,175.3C315.90,173.68 319.58,173.32 320.5,171.7Z" fill="#38b3d9" stroke="#2d2d2d" stroke-width="0.7" stroke-linejoin="round"/><path d="M332.7,160.8V163.0" stroke="#2d2d2d" stroke-width="0.7"/><path d="M332.7,176.5V177.6" stroke="#2d2d2d" stroke-width="0.8"/><path d="M332.7,162.7C333.60,165.62 337.20,166.27 337.20,169.2C337.20,172.62 333.60,173.38 332.7,176.8C331.80,173.38 328.20,172.62 328.20,169.2C328.20,166.27 331.80,165.62 332.7,162.7Z" fill="#159a78" stroke="#2d2d2d" stroke-width="0.7" stroke-linejoin="round"/><path d="M344.6,168.5V172.0" stroke="#2d2d2d" stroke-width="0.7"/><path d="M344.6,171.7C345.46,173.91 348.90,174.39 348.90,176.6C348.90,177.41 345.46,177.59 344.6,178.4C343.74,177.59 340.30,177.41 340.30,176.6C340.30,174.39 343.74,173.91 344.6,171.7Z" fill="#f2e53d" stroke="#2d2d2d" stroke-width="0.7" stroke-linejoin="round"/><path d="M356.8,162.4V164.3" stroke="#2d2d2d" stroke-width="0.7"/><path d="M356.8,174.0V177.7" stroke="#2d2d2d" stroke-width="0.8"/><path d="M356.8,164C357.70,166.21 361.30,166.69 361.30,168.9C361.30,171.33 357.70,171.87 356.8,174.3C355.90,171.87 352.30,171.33 352.30,168.9C352.30,166.69 355.90,166.21 356.8,164Z" fill="#1b79c8" stroke="#2d2d2d" stroke-width="0.7" stroke-linejoin="round"/><path d="M369,169.5V175.9" stroke="#2d2d2d" stroke-width="0.7"/><path d="M369,175.6C369.86,176.50 373.30,176.70 373.30,177.6C373.30,178.32 369.86,178.48 369,179.2C368.14,178.48 364.70,178.32 364.70,177.6C364.70,176.70 368.14,176.50 369,175.6Z" fill="#e67b1a" stroke="#2d2d2d" stroke-width="0.7" stroke-linejoin="round"/><path d="M381.1,164V167.5" stroke="#2d2d2d" stroke-width="0.7"/><path d="M381.1,167.2C381.94,170.40 385.30,171.10 385.30,174.3C385.30,176.59 381.94,177.11 381.1,179.4C380.26,177.11 376.90,176.59 376.90,174.3C376.90,171.10 380.26,170.40 381.1,167.2Z" fill="#f590b8" stroke="#2d2d2d" stroke-width="0.7" stroke-linejoin="round"/><path d="M393.3,173V176.9" stroke="#2d2d2d" stroke-width="0.7"/><path d="M393.3,176.6C394.16,177.23 397.60,177.37 397.60,178C397.60,178.59 394.16,178.72 393.3,179.3C392.44,178.72 389.00,178.59 389.00,178C389.00,177.37 392.44,177.23 393.3,176.6Z" fill="#555555" stroke="#2d2d2d" stroke-width="0.7" stroke-linejoin="round"/><path d="M405.4,162.7V164.70000000000002" stroke="#2d2d2d" stroke-width="0.7"/><path d="M405.4,173.29999999999998V177" stroke="#2d2d2d" stroke-width="0.8"/><path d="M405.4,164.4C406.30,166.25 409.90,166.66 409.90,168.5C409.90,170.79 406.30,171.31 405.4,173.6C404.50,171.31 400.90,170.79 400.90,168.5C400.90,166.66 404.50,166.25 405.4,164.4Z" fill="#e3970f" stroke="#2d2d2d" stroke-width="0.7" stroke-linejoin="round"/><path d="M417.6,173.6V175.9" stroke="#2d2d2d" stroke-width="0.7"/><path d="M417.6,175.6C418.46,176.50 421.90,176.70 421.90,177.6C421.90,178.37 418.46,178.53 417.6,179.3C416.74,178.53 413.30,178.37 413.30,177.6C413.30,176.70 416.74,176.50 417.6,175.6Z" fill="#2a90d2" stroke="#2d2d2d" stroke-width="0.7" stroke-linejoin="round"/><path d="M429.7,161.2V162.70000000000002" stroke="#2d2d2d" stroke-width="0.7"/><path d="M429.7,172.1V175.4" stroke="#2d2d2d" stroke-width="0.8"/><path d="M429.7,162.4C430.60,164.47 434.20,164.93 434.20,167C434.20,169.43 430.60,169.97 429.7,172.4C428.80,169.97 425.20,169.43 425.20,167C425.20,164.93 428.80,164.47 429.7,162.4Z" fill="#159a78" stroke="#2d2d2d" stroke-width="0.7" stroke-linejoin="round"/><path d="M441.8,176V177.3" stroke="#2d2d2d" stroke-width="0.7"/><path d="M441.8,177C442.66,177.31 446.10,177.38 446.10,177.7C446.10,178.06 442.66,178.14 441.8,178.5C440.94,178.14 437.50,178.06 437.50,177.7C437.50,177.38 440.94,177.31 441.8,177Z" fill="#8a7d20" stroke="#2d2d2d" stroke-width="0.7" stroke-linejoin="round"/><path d="M454.2,166.6V176.9" stroke="#2d2d2d" stroke-width="0.7"/><path d="M454.2,179.5V180.4" stroke="#2d2d2d" stroke-width="0.8"/><path d="M454.2,176.6C455.06,177.32 458.50,177.48 458.50,178.2C458.50,178.92 455.06,179.08 454.2,179.8C453.34,179.08 449.90,178.92 449.90,178.2C449.90,177.48 453.34,177.32 454.2,176.6Z" fill="#1a6a9c" stroke="#2d2d2d" stroke-width="0.7" stroke-linejoin="round"/><path d="M466.4,166.6V172.0" stroke="#2d2d2d" stroke-width="0.7"/><path d="M466.4,177.79999999999998V178.6" stroke="#2d2d2d" stroke-width="0.8"/><path d="M466.4,171.7C467.24,173.14 470.60,173.46 470.60,174.9C470.60,176.34 467.24,176.66 466.4,178.1C465.56,176.66 462.20,176.34 462.20,174.9C462.20,173.46 465.56,173.14 466.4,171.7Z" fill="#e06d14" stroke="#2d2d2d" stroke-width="0.7" stroke-linejoin="round"/><path d="M478.4,167.9V172.0" stroke="#2d2d2d" stroke-width="0.7"/><path d="M478.4,171.7C479.26,173.50 482.70,173.90 482.70,175.7C482.70,177.14 479.26,177.46 478.4,178.9C477.54,177.46 474.10,177.14 474.10,175.7C474.10,173.90 477.54,173.50 478.4,171.7Z" fill="#ea5aa3" stroke="#2d2d2d" stroke-width="0.7" stroke-linejoin="round"/><path d="M490.6,164L492.49,165.6L492.97,167.4C492.97,173.6 494.90,173.1 494.90,175.6C494.90,177.25 492.75,178.9 490.6,178.9C488.45,178.9 486.30,177.25 486.30,175.6C486.30,173.1 488.24,173.6 488.24,167.4L488.71,165.6Z" fill="#666666" stroke="#2d2d2d" stroke-width="0.7" stroke-linejoin="round"/><path d="M308.4,230.1V236.10000000000002" stroke="#2d2d2d" stroke-width="0.7"/><path d="M308.4,235.8C309.26,236.88 312.70,237.12 312.70,238.2C312.70,239.32 309.26,239.57 308.4,240.7C307.54,239.57 304.10,239.32 304.10,238.2C304.10,237.12 307.54,236.88 308.4,235.8Z" fill="#e8951f" stroke="#2d2d2d" stroke-width="0.7" stroke-linejoin="round"/><path d="M308.4,242.5V244.6" stroke="#222" stroke-width="0.8"/><text x="308.4" y="253.9" font-size="5.5" font-weight="normal" fill="#2a2a2a" text-anchor="middle" textLength="3.5" lengthAdjust="spacingAndGlyphs">0</text><path d="M320.5,219.8V227.9" stroke="#2d2d2d" stroke-width="0.7"/><path d="M320.5,227.6C321.38,230.57 324.90,231.23 324.90,234.2C324.90,236.99 321.38,237.61 320.5,240.4C319.62,237.61 316.10,236.99 316.10,234.2C316.10,231.23 319.62,230.57 320.5,227.6Z" fill="#38b3d9" stroke="#2d2d2d" stroke-width="0.7" stroke-linejoin="round"/><path d="M320.5,242.5V244.6" stroke="#222" stroke-width="0.8"/><text x="320.5" y="253.9" font-size="5.5" font-weight="normal" fill="#2a2a2a" text-anchor="middle" textLength="3.5" lengthAdjust="spacingAndGlyphs">1</text><path d="M332.7,221V226.0" stroke="#2d2d2d" stroke-width="0.7"/><path d="M332.7,239.6V240.6" stroke="#2d2d2d" stroke-width="0.8"/><path d="M332.7,225.7C333.60,228.76 337.20,229.44 337.20,232.5C337.20,235.83 333.60,236.57 332.7,239.9C331.80,236.57 328.20,235.83 328.20,232.5C328.20,229.44 331.80,228.76 332.7,225.7Z" fill="#159a78" stroke="#2d2d2d" stroke-width="0.7" stroke-linejoin="round"/><path d="M332.7,242.5V244.6" stroke="#222" stroke-width="0.8"/><text x="332.7" y="253.9" font-size="5.5" font-weight="normal" fill="#2a2a2a" text-anchor="middle" textLength="3.5" lengthAdjust="spacingAndGlyphs">2</text><path d="M344.6,225.5V231.8" stroke="#2d2d2d" stroke-width="0.7"/><path d="M344.6,239.7V240.4" stroke="#2d2d2d" stroke-width="0.8"/><path d="M344.6,231.5C345.48,233.44 349.00,233.87 349.00,235.8C349.00,237.69 345.48,238.11 344.6,240C343.72,238.11 340.20,237.69 340.20,235.8C340.20,233.87 343.72,233.44 344.6,231.5Z" fill="#f2e53d" stroke="#2d2d2d" stroke-width="0.7" stroke-linejoin="round"/><path d="M344.6,242.5V244.6" stroke="#222" stroke-width="0.8"/><text x="344.6" y="253.9" font-size="5.5" font-weight="normal" fill="#2a2a2a" text-anchor="middle" textLength="3.5" lengthAdjust="spacingAndGlyphs">3</text><path d="M356.8,221.1V225.5" stroke="#2d2d2d" stroke-width="0.7"/><path d="M356.8,235.79999999999998V239.9" stroke="#2d2d2d" stroke-width="0.8"/><path d="M356.8,225.2C357.68,227.76 361.20,228.34 361.20,230.9C361.20,233.24 357.68,233.76 356.8,236.1C355.92,233.76 352.40,233.24 352.40,230.9C352.40,228.34 355.92,227.76 356.8,225.2Z" fill="#1b79c8" stroke="#2d2d2d" stroke-width="0.7" stroke-linejoin="round"/><path d="M356.8,242.5V244.6" stroke="#222" stroke-width="0.8"/><text x="356.8" y="253.9" font-size="5.5" font-weight="normal" fill="#2a2a2a" text-anchor="middle" textLength="3.5" lengthAdjust="spacingAndGlyphs">4</text><path d="M369,225.7V233.60000000000002" stroke="#2d2d2d" stroke-width="0.7"/><path d="M369,233.3C369.86,235.15 373.30,235.56 373.30,237.4C373.30,238.75 369.86,239.05 369,240.4C368.14,239.05 364.70,238.75 364.70,237.4C364.70,235.56 368.14,235.15 369,233.3Z" fill="#e67b1a" stroke="#2d2d2d" stroke-width="0.7" stroke-linejoin="round"/><path d="M369,242.5V244.6" stroke="#222" stroke-width="0.8"/><text x="369" y="253.9" font-size="5.5" font-weight="normal" fill="#2a2a2a" text-anchor="middle" textLength="3.5" lengthAdjust="spacingAndGlyphs">5</text><path d="M381.1,225.2C381.96,230.33 385.40,231.47 385.40,236.6C385.40,238.31 381.96,238.69 381.1,240.4C380.24,238.69 376.80,238.31 376.80,236.6C376.80,231.47 380.24,230.33 381.1,225.2Z" fill="#f590b8" stroke="#2d2d2d" stroke-width="0.7" stroke-linejoin="round"/><path d="M381.1,242.5V244.6" stroke="#222" stroke-width="0.8"/><text x="381.1" y="253.9" font-size="5.5" font-weight="normal" fill="#2a2a2a" text-anchor="middle" textLength="3.5" lengthAdjust="spacingAndGlyphs">6</text><path d="M393.3,230.9V236.10000000000002" stroke="#2d2d2d" stroke-width="0.7"/><path d="M393.3,235.8C394.16,236.88 397.60,237.12 397.60,238.2C397.60,239.10 394.16,239.30 393.3,240.2C392.44,239.30 389.00,239.10 389.00,238.2C389.00,237.12 392.44,236.88 393.3,235.8Z" fill="#555555" stroke="#2d2d2d" stroke-width="0.7" stroke-linejoin="round"/><path d="M393.3,242.5V244.6" stroke="#222" stroke-width="0.8"/><text x="393.3" y="253.9" font-size="5.5" font-weight="normal" fill="#2a2a2a" text-anchor="middle" textLength="3.5" lengthAdjust="spacingAndGlyphs">7</text><path d="M405.4,222.7V226.3" stroke="#2d2d2d" stroke-width="0.7"/><path d="M405.4,236.5V238.6" stroke="#2d2d2d" stroke-width="0.8"/><path d="M405.4,226C406.28,228.56 409.80,229.13 409.80,231.7C409.80,234.00 406.28,234.50 405.4,236.8C404.52,234.50 401.00,234.00 401.00,231.7C401.00,229.13 404.52,228.56 405.4,226Z" fill="#e3970f" stroke="#2d2d2d" stroke-width="0.7" stroke-linejoin="round"/><path d="M405.4,242.5V244.6" stroke="#222" stroke-width="0.8"/><text x="405.4" y="253.9" font-size="5.5" font-weight="normal" fill="#2a2a2a" text-anchor="middle" textLength="3.5" lengthAdjust="spacingAndGlyphs">8</text><path d="M417.6,228.4V232.0" stroke="#2d2d2d" stroke-width="0.7"/><path d="M417.6,231.7C418.46,233.91 421.90,234.39 421.90,236.6C421.90,238.09 418.46,238.41 417.6,239.9C416.74,238.41 413.30,238.09 413.30,236.6C413.30,234.39 416.74,233.91 417.6,231.7Z" fill="#2a90d2" stroke="#2d2d2d" stroke-width="0.7" stroke-linejoin="round"/><path d="M417.6,242.5V244.6" stroke="#222" stroke-width="0.8"/><text x="417.6" y="253.9" font-size="5.5" font-weight="normal" fill="#2a2a2a" text-anchor="middle" textLength="3.5" lengthAdjust="spacingAndGlyphs">9</text><path d="M429.7,220.8V222.70000000000002" stroke="#2d2d2d" stroke-width="0.7"/><path d="M429.7,232.39999999999998V235.4" stroke="#2d2d2d" stroke-width="0.8"/><path d="M429.7,222.4C430.56,224.74 434.00,225.26 434.00,227.6C434.00,229.89 430.56,230.41 429.7,232.7C428.84,230.41 425.40,229.89 425.40,227.6C425.40,225.26 428.84,224.74 429.7,222.4Z" fill="#159a78" stroke="#2d2d2d" stroke-width="0.7" stroke-linejoin="round"/><path d="M429.7,242.5V244.6" stroke="#222" stroke-width="0.8"/><text x="429.7" y="253.9" font-size="5.5" font-weight="normal" fill="#2a2a2a" text-anchor="middle" textLength="6.6" lengthAdjust="spacingAndGlyphs">10</text><path d="M441.8,236.1V237.9" stroke="#2d2d2d" stroke-width="0.7"/><path d="M441.8,237.6C442.62,238.14 445.90,238.26 445.90,238.8C445.90,239.30 442.62,239.41 441.8,239.9C440.98,239.41 437.70,239.30 437.70,238.8C437.70,238.26 440.98,238.14 441.8,237.6Z" fill="#1d2226" stroke="#2d2d2d" stroke-width="0.7" stroke-linejoin="round"/><path d="M441.8,242.5V244.6" stroke="#222" stroke-width="0.8"/><text x="441.8" y="253.9" font-size="5.5" font-weight="normal" fill="#2a2a2a" text-anchor="middle" textLength="6.6" lengthAdjust="spacingAndGlyphs">11</text><path d="M454.2,225.7V229.8" stroke="#2d2d2d" stroke-width="0.7"/><path d="M454.2,229.5C455.06,233.46 458.50,234.34 458.50,238.3C458.50,239.25 455.06,239.46 454.2,240.4C453.34,239.46 449.90,239.25 449.90,238.3C449.90,234.34 453.34,233.46 454.2,229.5Z" fill="#1f6fa8" stroke="#2d2d2d" stroke-width="0.7" stroke-linejoin="round"/><path d="M454.2,242.5V244.6" stroke="#222" stroke-width="0.8"/><text x="454.2" y="253.9" font-size="5.5" font-weight="normal" fill="#2a2a2a" text-anchor="middle" textLength="6.6" lengthAdjust="spacingAndGlyphs">12</text><path d="M466.4,222.7V229.9" stroke="#2d2d2d" stroke-width="0.7"/><path d="M466.4,229.6C467.30,232.03 470.90,232.57 470.90,235C470.90,237.21 467.30,237.69 466.4,239.9C465.50,237.69 461.90,237.21 461.90,235C461.90,232.57 465.50,232.03 466.4,229.6Z" fill="#e06d14" stroke="#2d2d2d" stroke-width="0.7" stroke-linejoin="round"/><path d="M466.4,242.5V244.6" stroke="#222" stroke-width="0.8"/><text x="466.4" y="253.9" font-size="5.5" font-weight="normal" fill="#2a2a2a" text-anchor="middle" textLength="6.6" lengthAdjust="spacingAndGlyphs">13</text><path d="M478.4,227.3C479.28,230.41 482.80,231.09 482.80,234.2C482.80,236.76 479.28,237.34 478.4,239.9C477.52,237.34 474.00,236.76 474.00,234.2C474.00,231.09 477.52,230.41 478.4,227.3Z" fill="#ea5aa3" stroke="#2d2d2d" stroke-width="0.7" stroke-linejoin="round"/><path d="M478.4,242.5V244.6" stroke="#222" stroke-width="0.8"/><text x="478.4" y="253.9" font-size="5.5" font-weight="normal" fill="#2a2a2a" text-anchor="middle" textLength="6.6" lengthAdjust="spacingAndGlyphs">14</text><path d="M490.6,226L492.54,227.6L493.02,229.4C493.02,231.3 495.00,230.8 495.00,233.3C495.00,236.85 492.80,240.4 490.6,240.4C488.40,240.4 486.20,236.85 486.20,233.3C486.20,230.8 488.18,231.3 488.18,229.4L488.66,227.6Z" fill="#666666" stroke="#2d2d2d" stroke-width="0.7" stroke-linejoin="round"/><path d="M490.6,242.5V244.6" stroke="#222" stroke-width="0.8"/><text x="490.6" y="253.9" font-size="5.5" font-weight="normal" fill="#2a2a2a" text-anchor="middle" textLength="6.6" lengthAdjust="spacingAndGlyphs">15</text>
</svg>
<div id="frame"></div>
</body></html>
